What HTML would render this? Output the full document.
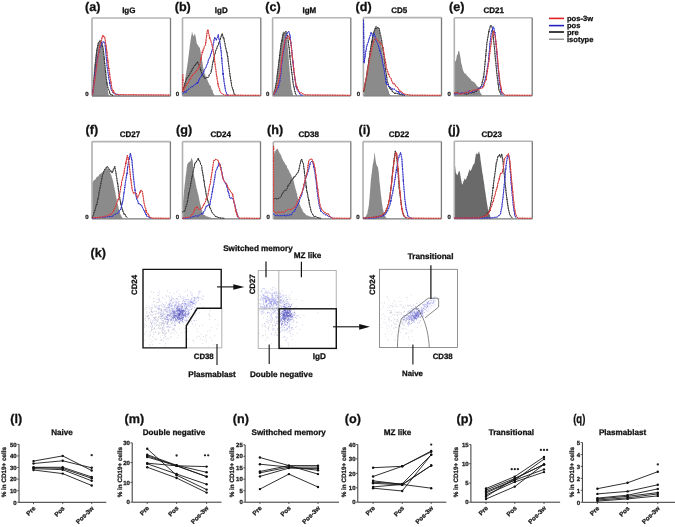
<!DOCTYPE html><html><head><meta charset="utf-8"><style>html,body{margin:0;padding:0;background:#fff;}svg{display:block;will-change:transform;filter:blur(0.3px);} text{text-rendering:geometricPrecision;}</style></head><body><svg width="675" height="527" viewBox="0 0 675 527" font-family='"Liberation Sans", sans-serif'>
<rect width="675" height="527" fill="#fff"/>
<rect x="92" y="18" width="78.5" height="78" fill="#fff"/>
<polygon points="92.2,96.0 92.2,60.2 92.2,61.0 92.2,61.5 92.2,62.3 92.3,63.8 92.3,65.0 92.3,65.6 92.3,65.7 92.3,67.3 92.3,67.9 92.4,69.5 92.4,70.1 92.4,71.3 92.4,72.1 92.4,72.5 92.4,73.1 92.5,74.2 92.5,75.3 92.5,76.8 92.5,77.3 92.5,78.5 92.5,79.3 92.6,80.7 92.6,81.5 92.6,82.3 92.6,83.1 92.6,83.8 92.6,84.9 92.7,85.7 92.7,86.2 92.7,88.3 92.7,88.4 92.7,89.0 92.7,90.5 92.8,91.6 92.8,92.2 92.8,93.8 92.8,94.0 92.8,93.2 92.9,91.9 92.9,92.1 93.0,90.6 93.0,89.8 93.0,89.1 93.1,88.0 93.1,87.3 93.2,85.6 93.2,84.5 93.2,83.8 93.3,83.9 93.3,83.0 93.3,81.1 93.4,79.6 93.4,78.5 93.5,78.6 93.5,77.1 93.5,76.7 93.6,75.8 93.6,75.2 93.7,74.2 93.7,73.0 93.7,72.6 93.8,71.0 93.8,70.2 93.9,69.6 93.9,68.9 94.0,67.9 94.1,67.0 94.3,65.2 94.4,65.0 94.5,64.2 94.6,63.5 94.7,63.0 94.9,61.6 95.0,60.1 95.1,59.1 95.2,58.7 95.3,57.3 95.4,56.6 95.6,55.9 95.7,54.9 95.8,54.7 95.9,52.9 96.0,51.8 96.2,51.0 96.3,50.8 96.4,49.7 96.7,48.5 96.9,47.6 97.2,46.4 97.5,45.3 97.7,44.1 98.0,43.5 98.2,43.0 98.5,42.2 99.1,41.0 99.7,39.5 100.3,40.7 101.0,42.4 101.2,42.7 101.5,43.9 101.7,45.0 102.0,45.5 102.2,46.8 102.4,47.2 102.7,47.7 102.9,50.2 103.0,49.9 103.1,51.3 103.2,52.4 103.3,52.9 103.4,53.7 103.4,54.8 103.5,55.6 103.6,57.0 103.7,57.0 103.8,58.5 103.9,59.8 104.0,60.1 104.1,61.5 104.2,62.5 104.3,63.9 104.3,64.7 104.4,64.8 104.5,66.4 104.6,67.2 104.7,68.3 104.8,68.4 104.9,69.6 105.0,70.4 105.1,71.2 105.2,72.3 105.4,72.9 105.5,74.0 105.6,74.6 105.7,75.7 105.8,76.7 105.9,77.9 106.0,79.1 106.1,79.6 106.2,81.1 106.4,80.9 106.5,81.9 106.6,83.3 106.7,84.4 106.8,85.1 107.0,86.5 107.2,87.1 107.4,88.4 107.6,89.0 107.8,89.8 107.9,90.9 108.1,91.9 108.3,93.1 108.5,94.0 108.7,95.0 108.7,96.0" fill="#8b8b8b"/>
<line x1="92" y1="18" x2="170.5" y2="18" stroke="#b4b4b4" stroke-width="1.6"/>
<line x1="92" y1="18" x2="92" y2="96" stroke="#b0b0b0" stroke-width="1.6"/>
<line x1="170.5" y1="18" x2="170.5" y2="96" stroke="#7a7a7a" stroke-width="1.3"/>
<line x1="92" y1="96" x2="170.5" y2="96" stroke="#7a7a7a" stroke-width="1.3"/>
<polyline points="92.5,95.0 92.6,94.1 92.7,92.4 92.8,91.6 92.9,92.0 93.0,91.2 93.0,88.9 93.1,88.6 93.2,88.6 93.3,86.7 93.4,85.4 93.5,84.9 93.6,84.2 93.7,82.9 93.8,81.8 93.9,81.7 94.0,80.8 94.0,79.0 94.1,78.5 94.2,77.3 94.3,76.3 94.4,75.2 94.5,76.0 94.6,73.5 94.7,73.7 94.8,71.9 94.8,71.3 94.9,70.7 95.0,70.1 95.1,68.9 95.2,67.9 95.3,66.3 95.3,65.0 95.4,63.7 95.5,63.6 95.6,62.8 95.7,61.8 95.8,61.1 95.8,60.4 95.9,58.7 96.0,58.2 96.1,57.6 96.2,57.2 96.3,55.8 96.3,55.9 96.4,54.2 96.5,52.7 96.6,51.5 96.8,51.0 96.9,49.9 97.1,48.8 97.3,48.2 97.5,47.0 97.6,46.9 97.8,46.2 98.0,44.7 98.2,43.6 98.3,42.9 98.5,42.7 99.2,41.8 100.0,40.8 100.8,41.2 101.5,42.1 101.7,43.4 101.9,43.1 102.1,44.9 102.3,46.6 102.6,45.5 102.8,47.4 103.0,47.6 103.2,49.7 103.4,50.1 103.5,50.9 103.6,52.1 103.7,53.1 103.7,53.9 103.8,54.7 103.9,55.1 104.0,56.6 104.1,57.6 104.2,57.3 104.3,60.1 104.3,59.2 104.4,60.6 104.5,61.7 104.6,63.5 104.7,63.0 104.8,64.8 104.9,66.0 105.0,66.3 105.0,68.0 105.1,68.0 105.2,68.8 105.3,70.2 105.4,71.0 105.5,72.2 105.7,71.8 105.8,74.1 105.9,75.8 106.0,76.0 106.1,76.9 106.2,78.5 106.4,79.0 106.5,80.1 106.6,81.0 106.7,81.5 106.8,82.9 106.9,82.3 107.1,85.0 107.2,84.6 107.3,85.9 107.6,86.4 107.9,87.9 108.2,89.4 108.5,89.5 108.8,89.7 109.1,90.9 109.4,91.1 109.7,93.1 110.0,94.0 111.0,94.5 112.0,95.0 113.0,95.5" fill="none" stroke="#505050" stroke-width="1.0" stroke-linejoin="round"/>
<polyline points="92.5,95.0 92.6,94.1 92.7,92.4 92.8,91.6 92.9,92.0 93.0,91.2 93.0,88.9 93.1,88.6 93.2,88.6 93.3,86.7 93.4,85.4 93.5,84.9 93.6,84.2 93.7,82.9 93.8,81.8 93.9,81.7 94.0,80.8 94.0,79.0 94.1,78.5 94.2,77.3 94.3,76.3 94.4,75.2 94.5,76.0 94.6,73.5 94.7,73.7 94.8,71.9 94.8,71.3 94.9,70.7 95.0,70.1 95.1,68.9 95.2,67.9 95.3,66.3 95.3,65.0 95.4,63.7 95.5,63.6 95.6,62.8 95.7,61.8 95.8,61.1 95.8,60.4 95.9,58.7 96.0,58.2 96.1,57.6 96.2,57.2 96.3,55.8 96.3,55.9 96.4,54.2 96.5,52.7 96.6,51.5 96.8,51.0 96.9,49.9 97.1,48.8 97.3,48.2 97.5,47.0 97.6,46.9 97.8,46.2 98.0,44.7 98.2,43.6 98.3,42.9 98.5,42.7 99.2,41.8 100.0,40.8 100.8,41.2 101.5,42.1 101.7,43.4 101.9,43.1 102.1,44.9 102.3,46.6 102.6,45.5 102.8,47.4 103.0,47.6 103.2,49.7 103.4,50.1 103.5,50.9 103.6,52.1 103.7,53.1 103.7,53.9 103.8,54.7 103.9,55.1 104.0,56.6 104.1,57.6 104.2,57.3 104.3,60.1 104.3,59.2 104.4,60.6 104.5,61.7 104.6,63.5 104.7,63.0 104.8,64.8 104.9,66.0 105.0,66.3 105.0,68.0 105.1,68.0 105.2,68.8 105.3,70.2 105.4,71.0 105.5,72.2 105.7,71.8 105.8,74.1 105.9,75.8 106.0,76.0 106.1,76.9 106.2,78.5 106.4,79.0 106.5,80.1 106.6,81.0 106.7,81.5 106.8,82.9 106.9,82.3 107.1,85.0 107.2,84.6 107.3,85.9 107.6,86.4 107.9,87.9 108.2,89.4 108.5,89.5 108.8,89.7 109.1,90.9 109.4,91.1 109.7,93.1 110.0,94.0 111.0,94.5 112.0,95.0 113.0,95.5" fill="none" stroke="#262626" stroke-width="0.9" stroke-dasharray="1.2,1.3" stroke-linejoin="round"/>
<polyline points="92.5,95.0 92.6,94.1 92.7,92.8 92.9,92.5 93.0,92.2 93.1,90.0 93.2,90.1 93.4,88.8 93.5,89.1 93.6,86.7 93.7,85.1 93.8,84.8 94.0,83.1 94.1,82.4 94.2,82.4 94.3,81.6 94.5,80.1 94.6,79.4 94.7,79.4 94.8,77.3 95.0,76.3 95.1,75.1 95.2,74.4 95.3,72.2 95.4,72.3 95.6,72.4 95.7,71.5 95.8,70.7 95.9,68.7 96.0,68.2 96.2,67.7 96.3,67.8 96.4,65.6 96.5,64.4 96.7,63.7 96.8,62.9 96.9,62.4 97.0,61.5 97.1,61.1 97.3,59.7 97.4,59.0 97.5,57.5 97.7,56.3 98.0,55.8 98.2,55.5 98.4,53.5 98.6,53.1 98.9,53.3 99.1,52.0 99.3,50.6 99.5,50.2 99.8,48.3 100.0,47.8 100.4,46.4 100.8,45.8 101.2,45.7 101.6,44.4 102.0,42.6 102.8,41.6 103.5,42.0 104.0,41.9 104.5,42.0 105.0,43.4 105.1,44.9 105.2,46.9 105.3,46.8 105.4,47.5 105.4,48.8 105.5,49.1 105.6,50.4 105.7,50.7 105.8,52.0 105.9,52.9 106.0,54.0 106.1,54.6 106.2,55.4 106.2,56.1 106.3,57.9 106.4,58.0 106.5,58.9 106.6,60.7 106.7,61.1 106.8,62.2 106.9,62.7 107.0,64.0 107.0,65.6 107.1,66.0 107.2,67.2 107.3,67.8 107.4,68.8 107.6,69.4 107.7,69.8 107.9,71.3 108.0,72.6 108.2,73.4 108.3,74.4 108.5,75.8 108.6,76.6 108.8,76.7 108.9,78.9 109.0,79.6 109.2,79.8 109.3,80.1 109.5,81.7 109.7,83.7 109.9,83.0 110.1,85.2 110.3,86.0 110.5,86.4 110.7,87.5 110.9,88.4 111.1,88.5 111.3,90.1 112.0,90.9 112.7,91.4 113.3,93.2 114.0,93.5 114.9,93.8 115.9,94.0 116.8,94.2 117.7,94.5 118.7,94.8 119.6,95.0" fill="none" stroke="#5050d8" stroke-width="1.0" stroke-linejoin="round"/>
<polyline points="92.5,95.0 92.6,94.1 92.7,92.8 92.9,92.5 93.0,92.2 93.1,90.0 93.2,90.1 93.4,88.8 93.5,89.1 93.6,86.7 93.7,85.1 93.8,84.8 94.0,83.1 94.1,82.4 94.2,82.4 94.3,81.6 94.5,80.1 94.6,79.4 94.7,79.4 94.8,77.3 95.0,76.3 95.1,75.1 95.2,74.4 95.3,72.2 95.4,72.3 95.6,72.4 95.7,71.5 95.8,70.7 95.9,68.7 96.0,68.2 96.2,67.7 96.3,67.8 96.4,65.6 96.5,64.4 96.7,63.7 96.8,62.9 96.9,62.4 97.0,61.5 97.1,61.1 97.3,59.7 97.4,59.0 97.5,57.5 97.7,56.3 98.0,55.8 98.2,55.5 98.4,53.5 98.6,53.1 98.9,53.3 99.1,52.0 99.3,50.6 99.5,50.2 99.8,48.3 100.0,47.8 100.4,46.4 100.8,45.8 101.2,45.7 101.6,44.4 102.0,42.6 102.8,41.6 103.5,42.0 104.0,41.9 104.5,42.0 105.0,43.4 105.1,44.9 105.2,46.9 105.3,46.8 105.4,47.5 105.4,48.8 105.5,49.1 105.6,50.4 105.7,50.7 105.8,52.0 105.9,52.9 106.0,54.0 106.1,54.6 106.2,55.4 106.2,56.1 106.3,57.9 106.4,58.0 106.5,58.9 106.6,60.7 106.7,61.1 106.8,62.2 106.9,62.7 107.0,64.0 107.0,65.6 107.1,66.0 107.2,67.2 107.3,67.8 107.4,68.8 107.6,69.4 107.7,69.8 107.9,71.3 108.0,72.6 108.2,73.4 108.3,74.4 108.5,75.8 108.6,76.6 108.8,76.7 108.9,78.9 109.0,79.6 109.2,79.8 109.3,80.1 109.5,81.7 109.7,83.7 109.9,83.0 110.1,85.2 110.3,86.0 110.5,86.4 110.7,87.5 110.9,88.4 111.1,88.5 111.3,90.1 112.0,90.9 112.7,91.4 113.3,93.2 114.0,93.5 114.9,93.8 115.9,94.0 116.8,94.2 117.7,94.5 118.7,94.8 119.6,95.0" fill="none" stroke="#2424b8" stroke-width="0.9" stroke-dasharray="1.2,1.3" stroke-linejoin="round"/>
<polyline points="92.5,95.0 92.6,94.1 92.8,92.8 92.9,92.2 93.0,92.2 93.2,90.8 93.3,89.8 93.4,87.7 93.6,87.4 93.7,87.1 93.8,86.1 93.9,85.7 94.1,83.3 94.2,82.5 94.3,82.5 94.5,80.6 94.6,81.1 94.7,78.9 94.9,79.3 95.0,78.2 95.1,77.9 95.2,76.0 95.4,75.5 95.5,74.3 95.6,73.5 95.8,72.7 95.9,71.1 96.0,71.1 96.1,69.6 96.2,69.6 96.4,67.8 96.5,67.5 96.6,66.3 96.8,66.0 96.9,65.1 97.0,63.7 97.1,62.5 97.2,61.7 97.4,60.5 97.5,60.2 97.7,58.9 97.8,58.4 98.0,57.7 98.1,56.7 98.3,55.3 98.4,54.6 98.6,52.6 98.8,52.6 98.9,51.7 99.1,50.0 99.2,49.9 99.4,49.2 99.5,47.6 99.7,46.5 99.8,45.6 100.0,45.6 100.3,44.2 100.6,43.4 100.8,42.1 101.1,40.7 101.4,40.6 101.7,40.2 101.9,37.7 102.2,37.8 102.5,35.7 103.0,36.0 103.5,35.6 103.9,37.1 104.4,36.7 104.8,37.4 104.9,39.2 105.1,39.4 105.2,40.0 105.4,40.8 105.5,42.7 105.7,42.9 105.8,44.9 106.0,45.3 106.1,45.0 106.3,46.6 106.4,47.6 106.5,49.6 106.6,49.1 106.7,50.9 106.8,51.9 106.9,51.9 107.0,51.6 107.1,54.3 107.3,55.9 107.4,56.6 107.5,57.4 107.6,57.8 107.7,59.5 107.8,61.1 107.9,60.3 108.0,62.6 108.1,62.0 108.2,64.2 108.4,64.8 108.5,65.2 108.6,67.3 108.8,69.0 108.9,68.1 109.0,69.8 109.1,70.3 109.2,71.2 109.4,72.3 109.5,73.3 109.6,72.9 109.8,75.2 109.9,75.9 110.0,77.8 110.2,78.1 110.3,78.4 110.5,79.2 110.6,80.1 110.8,82.3 111.0,81.7 111.1,83.4 111.3,83.8 111.4,84.2 111.6,86.5 111.7,87.0 111.9,88.7 112.2,89.8 112.5,89.8 112.9,90.1 113.2,92.7 113.5,90.5 114.3,93.3 115.0,93.9 115.8,94.6 116.7,94.6 117.6,94.6 118.5,94.6 119.4,94.6 120.3,94.6 121.2,94.6 122.1,94.6 123.0,94.7 123.9,94.7 124.8,94.7 125.7,94.7 126.6,94.7 127.5,94.7 128.4,94.7 129.3,94.7 130.3,94.7 131.2,94.7 132.1,94.7 133.0,94.7 133.9,94.7 134.8,94.7 135.7,94.7 136.6,94.8 137.5,94.8 138.4,94.8 139.3,94.8 140.2,94.8 141.1,94.8 142.0,94.8 142.9,94.8 143.8,94.8 144.7,94.8 145.6,94.8 146.5,94.8 147.4,94.8 148.3,94.8 149.2,94.8 150.1,94.9 151.0,94.9 151.9,94.9 152.8,94.9 153.7,94.9 154.6,94.9 155.5,94.9 156.4,94.9 157.4,94.9 158.3,94.9 159.2,94.9 160.1,94.9 161.0,94.9 161.9,94.9 162.8,94.9 163.7,95.0 164.6,95.0 165.5,95.0 166.4,95.0 167.3,95.0 168.2,95.0 169.1,95.0 170.0,95.0" fill="none" stroke="#e05a5a" stroke-width="1.0" stroke-linejoin="round"/>
<polyline points="92.5,95.0 92.6,94.1 92.8,92.8 92.9,92.2 93.0,92.2 93.2,90.8 93.3,89.8 93.4,87.7 93.6,87.4 93.7,87.1 93.8,86.1 93.9,85.7 94.1,83.3 94.2,82.5 94.3,82.5 94.5,80.6 94.6,81.1 94.7,78.9 94.9,79.3 95.0,78.2 95.1,77.9 95.2,76.0 95.4,75.5 95.5,74.3 95.6,73.5 95.8,72.7 95.9,71.1 96.0,71.1 96.1,69.6 96.2,69.6 96.4,67.8 96.5,67.5 96.6,66.3 96.8,66.0 96.9,65.1 97.0,63.7 97.1,62.5 97.2,61.7 97.4,60.5 97.5,60.2 97.7,58.9 97.8,58.4 98.0,57.7 98.1,56.7 98.3,55.3 98.4,54.6 98.6,52.6 98.8,52.6 98.9,51.7 99.1,50.0 99.2,49.9 99.4,49.2 99.5,47.6 99.7,46.5 99.8,45.6 100.0,45.6 100.3,44.2 100.6,43.4 100.8,42.1 101.1,40.7 101.4,40.6 101.7,40.2 101.9,37.7 102.2,37.8 102.5,35.7 103.0,36.0 103.5,35.6 103.9,37.1 104.4,36.7 104.8,37.4 104.9,39.2 105.1,39.4 105.2,40.0 105.4,40.8 105.5,42.7 105.7,42.9 105.8,44.9 106.0,45.3 106.1,45.0 106.3,46.6 106.4,47.6 106.5,49.6 106.6,49.1 106.7,50.9 106.8,51.9 106.9,51.9 107.0,51.6 107.1,54.3 107.3,55.9 107.4,56.6 107.5,57.4 107.6,57.8 107.7,59.5 107.8,61.1 107.9,60.3 108.0,62.6 108.1,62.0 108.2,64.2 108.4,64.8 108.5,65.2 108.6,67.3 108.8,69.0 108.9,68.1 109.0,69.8 109.1,70.3 109.2,71.2 109.4,72.3 109.5,73.3 109.6,72.9 109.8,75.2 109.9,75.9 110.0,77.8 110.2,78.1 110.3,78.4 110.5,79.2 110.6,80.1 110.8,82.3 111.0,81.7 111.1,83.4 111.3,83.8 111.4,84.2 111.6,86.5 111.7,87.0 111.9,88.7 112.2,89.8 112.5,89.8 112.9,90.1 113.2,92.7 113.5,90.5 114.3,93.3 115.0,93.9 115.8,94.6 116.7,94.6 117.6,94.6 118.5,94.6 119.4,94.6 120.3,94.6 121.2,94.6 122.1,94.6 123.0,94.7 123.9,94.7 124.8,94.7 125.7,94.7 126.6,94.7 127.5,94.7 128.4,94.7 129.3,94.7 130.3,94.7 131.2,94.7 132.1,94.7 133.0,94.7 133.9,94.7 134.8,94.7 135.7,94.7 136.6,94.8 137.5,94.8 138.4,94.8 139.3,94.8 140.2,94.8 141.1,94.8 142.0,94.8 142.9,94.8 143.8,94.8 144.7,94.8 145.6,94.8 146.5,94.8 147.4,94.8 148.3,94.8 149.2,94.8 150.1,94.9 151.0,94.9 151.9,94.9 152.8,94.9 153.7,94.9 154.6,94.9 155.5,94.9 156.4,94.9 157.4,94.9 158.3,94.9 159.2,94.9 160.1,94.9 161.0,94.9 161.9,94.9 162.8,94.9 163.7,95.0 164.6,95.0 165.5,95.0 166.4,95.0 167.3,95.0 168.2,95.0 169.1,95.0 170.0,95.0" fill="none" stroke="#cc2424" stroke-width="0.9" stroke-dasharray="1.2,1.3" stroke-linejoin="round"/>
<text x="85.3" y="96.4" font-size="6.0" font-weight="bold" text-anchor="start" fill="#222" stroke="#222" stroke-width="0.28" >0</text>
<rect x="182.5" y="17.8" width="78.30000000000001" height="78.0" fill="#fff"/>
<polygon points="182.8,95.8 182.8,93.3 183.0,92.2 183.2,90.6 183.3,89.6 183.5,89.7 183.6,88.2 183.8,87.3 183.9,86.3 184.1,85.8 184.2,84.2 184.4,84.1 184.5,82.1 184.7,81.7 184.8,81.6 185.0,79.9 185.2,80.2 185.3,78.6 185.4,77.2 185.6,77.3 185.7,75.6 185.9,74.2 186.0,73.6 186.2,73.7 186.3,71.7 186.4,70.5 186.6,70.5 186.7,69.6 186.9,67.8 187.0,67.3 187.2,65.6 187.3,66.0 187.4,64.3 187.6,63.7 187.7,62.1 187.9,61.4 188.0,61.0 188.1,59.9 188.2,59.5 188.3,57.7 188.5,56.5 188.6,55.9 188.7,54.6 188.8,54.2 188.9,53.8 189.0,52.5 189.1,51.9 189.3,50.4 189.4,49.3 189.5,48.9 189.6,48.2 189.7,47.1 189.8,45.2 189.9,44.8 190.1,43.9 190.2,43.1 190.3,43.3 190.4,41.2 190.6,40.1 190.7,39.5 190.9,38.6 191.0,37.9 191.2,35.9 191.4,36.0 191.5,35.0 191.7,34.5 191.8,32.3 192.0,31.6 192.3,32.8 192.6,33.7 192.9,34.7 193.2,35.7 193.5,36.3 194.0,35.4 194.6,34.3 195.1,34.0 195.3,34.8 195.4,36.2 195.6,36.9 195.7,36.9 195.9,38.2 196.1,38.9 196.2,40.3 196.4,40.8 196.5,42.2 196.7,43.1 197.2,44.3 197.8,45.1 198.3,45.7 199.1,47.5 199.9,47.5 200.1,48.7 200.2,50.0 200.4,50.3 200.5,51.6 200.7,52.4 200.9,54.1 201.0,54.7 201.2,55.5 201.3,56.1 201.5,57.1 201.7,58.3 201.8,59.3 202.0,59.7 202.1,61.4 202.3,61.7 202.5,62.7 202.6,64.0 202.8,65.0 202.9,66.0 203.1,67.4 203.3,67.8 203.6,68.9 203.8,69.9 204.1,70.6 204.3,71.8 204.5,73.2 204.8,73.8 205.0,74.1 205.3,75.1 205.5,76.1 206.0,77.4 206.4,79.0 206.9,78.3 207.3,79.9 207.8,80.7 208.2,82.4 208.7,82.8 209.2,84.0 209.6,85.3 210.1,85.4 210.5,85.7 211.0,86.8 211.4,88.8 211.9,89.7 212.3,89.8 212.7,90.7 213.1,93.1 213.5,93.8 213.9,94.0 214.3,95.0 214.3,95.8" fill="#8b8b8b"/>
<line x1="182.5" y1="17.8" x2="260.8" y2="17.8" stroke="#b4b4b4" stroke-width="1.6"/>
<line x1="182.5" y1="17.8" x2="182.5" y2="95.8" stroke="#b0b0b0" stroke-width="1.6"/>
<line x1="260.8" y1="17.8" x2="260.8" y2="95.8" stroke="#7a7a7a" stroke-width="1.3"/>
<line x1="182.5" y1="95.8" x2="260.8" y2="95.8" stroke="#7a7a7a" stroke-width="1.3"/>
<polyline points="182.4,92.3 182.7,91.8 182.9,89.8 183.2,89.1 183.4,87.5 183.7,88.2 183.9,87.2 184.2,86.0 184.4,85.5 184.7,85.5 184.9,83.1 185.2,82.9 185.4,81.9 185.7,81.0 185.9,80.8 186.2,80.1 186.4,77.9 187.0,77.9 187.7,77.6 188.3,76.8 189.0,75.0 189.6,74.4 190.1,73.4 190.5,72.7 191.0,72.1 191.4,71.0 191.9,70.5 192.3,68.6 192.8,68.8 193.3,68.0 193.8,66.7 194.4,65.3 194.9,66.0 195.4,65.1 195.9,63.7 196.7,63.8 197.5,61.5 198.0,63.6 198.5,63.9 198.9,64.5 199.4,66.3 199.9,66.9 200.2,67.7 200.4,69.8 200.7,69.1 201.0,71.2 201.2,72.0 201.5,72.3 201.8,73.6 202.0,74.4 202.3,74.2 202.9,76.2 203.6,76.1 204.2,77.8 204.9,78.1 205.5,79.0 206.3,77.2 207.1,77.5 207.9,77.7 208.7,76.8 209.2,74.9 209.7,74.3 210.1,73.6 210.6,73.4 211.1,72.7 211.3,69.9 211.5,70.2 211.6,69.5 211.8,68.8 212.0,67.6 212.2,66.6 212.3,65.2 212.5,64.1 212.7,63.3 212.9,62.1 213.1,61.3 213.2,61.6 213.4,60.1 213.6,59.2 213.8,59.1 213.9,57.3 214.1,57.3 214.3,55.6 214.6,55.0 214.8,54.4 215.1,53.7 215.4,52.2 215.6,51.2 215.9,50.3 216.2,50.0 216.4,49.1 216.7,48.8 217.2,47.0 217.6,45.8 218.1,45.3 218.5,44.9 219.0,42.0 219.3,42.5 219.6,41.0 220.0,39.2 220.3,39.6 220.6,37.9 221.0,37.2 221.4,35.5 221.8,35.8 222.2,33.6 222.6,35.4 223.0,36.4 223.4,38.4 223.8,37.8 224.0,38.7 224.2,40.2 224.3,40.6 224.5,42.2 224.7,42.8 224.9,43.3 225.0,43.8 225.2,45.5 225.4,46.4 225.6,46.9 225.9,48.4 226.1,49.2 226.3,50.8 226.5,50.9 226.8,52.4 227.0,52.2 227.1,53.1 227.3,55.3 227.4,55.5 227.5,56.8 227.7,56.2 227.8,56.9 227.9,59.1 228.1,59.8 228.2,61.9 228.3,61.8 228.5,62.8 228.6,64.2 228.7,65.1 228.8,65.4 228.9,66.7 229.1,67.6 229.2,68.5 229.3,69.4 229.4,70.4 229.5,71.0 229.6,72.1 229.7,72.6 229.9,74.1 230.0,75.1 230.1,76.4 230.2,76.2 230.4,76.8 230.5,79.2 230.7,79.3 230.8,79.9 231.0,81.7 231.2,82.0 231.3,82.9 231.5,84.8 231.6,85.4 231.8,86.6 232.1,87.0 232.3,87.6 232.6,89.1 232.9,89.1 233.1,90.4 233.4,90.2 233.7,92.3 233.9,92.9 234.2,94.1 235.1,94.7 236.0,95.3" fill="none" stroke="#505050" stroke-width="1.0" stroke-linejoin="round"/>
<polyline points="182.4,92.3 182.7,91.8 182.9,89.8 183.2,89.1 183.4,87.5 183.7,88.2 183.9,87.2 184.2,86.0 184.4,85.5 184.7,85.5 184.9,83.1 185.2,82.9 185.4,81.9 185.7,81.0 185.9,80.8 186.2,80.1 186.4,77.9 187.0,77.9 187.7,77.6 188.3,76.8 189.0,75.0 189.6,74.4 190.1,73.4 190.5,72.7 191.0,72.1 191.4,71.0 191.9,70.5 192.3,68.6 192.8,68.8 193.3,68.0 193.8,66.7 194.4,65.3 194.9,66.0 195.4,65.1 195.9,63.7 196.7,63.8 197.5,61.5 198.0,63.6 198.5,63.9 198.9,64.5 199.4,66.3 199.9,66.9 200.2,67.7 200.4,69.8 200.7,69.1 201.0,71.2 201.2,72.0 201.5,72.3 201.8,73.6 202.0,74.4 202.3,74.2 202.9,76.2 203.6,76.1 204.2,77.8 204.9,78.1 205.5,79.0 206.3,77.2 207.1,77.5 207.9,77.7 208.7,76.8 209.2,74.9 209.7,74.3 210.1,73.6 210.6,73.4 211.1,72.7 211.3,69.9 211.5,70.2 211.6,69.5 211.8,68.8 212.0,67.6 212.2,66.6 212.3,65.2 212.5,64.1 212.7,63.3 212.9,62.1 213.1,61.3 213.2,61.6 213.4,60.1 213.6,59.2 213.8,59.1 213.9,57.3 214.1,57.3 214.3,55.6 214.6,55.0 214.8,54.4 215.1,53.7 215.4,52.2 215.6,51.2 215.9,50.3 216.2,50.0 216.4,49.1 216.7,48.8 217.2,47.0 217.6,45.8 218.1,45.3 218.5,44.9 219.0,42.0 219.3,42.5 219.6,41.0 220.0,39.2 220.3,39.6 220.6,37.9 221.0,37.2 221.4,35.5 221.8,35.8 222.2,33.6 222.6,35.4 223.0,36.4 223.4,38.4 223.8,37.8 224.0,38.7 224.2,40.2 224.3,40.6 224.5,42.2 224.7,42.8 224.9,43.3 225.0,43.8 225.2,45.5 225.4,46.4 225.6,46.9 225.9,48.4 226.1,49.2 226.3,50.8 226.5,50.9 226.8,52.4 227.0,52.2 227.1,53.1 227.3,55.3 227.4,55.5 227.5,56.8 227.7,56.2 227.8,56.9 227.9,59.1 228.1,59.8 228.2,61.9 228.3,61.8 228.5,62.8 228.6,64.2 228.7,65.1 228.8,65.4 228.9,66.7 229.1,67.6 229.2,68.5 229.3,69.4 229.4,70.4 229.5,71.0 229.6,72.1 229.7,72.6 229.9,74.1 230.0,75.1 230.1,76.4 230.2,76.2 230.4,76.8 230.5,79.2 230.7,79.3 230.8,79.9 231.0,81.7 231.2,82.0 231.3,82.9 231.5,84.8 231.6,85.4 231.8,86.6 232.1,87.0 232.3,87.6 232.6,89.1 232.9,89.1 233.1,90.4 233.4,90.2 233.7,92.3 233.9,92.9 234.2,94.1 235.1,94.7 236.0,95.3" fill="none" stroke="#262626" stroke-width="0.9" stroke-dasharray="1.2,1.3" stroke-linejoin="round"/>
<polyline points="182.4,94.1 183.1,93.5 183.8,93.3 184.5,91.1 185.2,91.5 185.9,92.5 186.6,90.5 187.3,90.7 188.0,89.5 188.8,89.1 189.6,88.5 190.4,87.8 191.2,86.6 192.0,86.7 192.8,86.7 193.6,85.3 194.4,84.8 195.2,84.9 195.9,84.3 196.7,82.5 197.5,84.0 198.0,81.8 198.4,82.0 198.9,79.5 199.3,79.6 199.8,77.8 200.2,77.7 200.7,77.2 201.2,76.1 201.7,76.2 202.1,73.6 202.6,74.1 203.1,73.4 203.6,71.8 204.1,70.8 204.5,69.6 205.0,69.2 205.5,67.9 205.8,67.6 206.2,66.7 206.5,65.5 206.9,65.1 207.2,63.9 207.6,63.4 207.9,63.0 208.2,60.7 208.6,60.0 208.9,58.7 209.3,58.4 209.6,58.0 210.0,57.0 210.3,56.2 210.6,54.1 210.9,54.3 211.3,53.1 211.6,51.0 211.9,51.3 212.1,50.4 212.3,49.7 212.4,48.4 212.6,48.1 212.8,46.8 213.0,46.6 213.1,45.2 213.3,43.2 213.5,43.1 213.7,42.7 213.9,41.1 214.1,39.6 214.3,38.9 214.5,39.0 214.7,37.3 215.2,37.9 215.8,38.8 216.3,40.3 216.8,38.6 217.3,37.7 217.8,37.1 218.3,34.6 218.6,37.1 218.8,37.9 219.1,39.4 219.3,40.0 219.6,41.0 219.8,41.5 219.9,42.4 220.1,43.3 220.2,44.1 220.3,44.3 220.4,46.7 220.6,47.5 220.7,47.1 220.8,49.4 221.0,50.1 221.1,51.1 221.2,52.7 221.3,52.6 221.3,53.5 221.4,55.2 221.5,56.1 221.6,56.6 221.6,58.0 221.7,59.3 221.8,58.4 221.9,60.1 222.0,60.6 222.0,62.4 222.1,63.4 222.2,64.0 222.3,65.4 222.4,65.7 222.5,66.1 222.5,67.9 222.6,68.2 222.7,69.9 222.8,69.9 222.9,71.6 223.0,72.4 223.1,74.9 223.1,72.9 223.2,74.6 223.3,76.1 223.4,76.6 223.5,76.8 223.7,78.9 223.8,78.7 223.9,80.2 224.0,81.6 224.2,82.2 224.3,82.7 224.4,84.2 224.5,84.3 224.7,85.9 224.8,85.7 224.9,87.0 225.2,88.4 225.4,90.2 225.7,90.8 225.9,91.8 226.2,92.1 226.5,93.1 226.7,94.0 227.0,94.9 228.0,95.1 229.0,95.3" fill="none" stroke="#5050d8" stroke-width="1.0" stroke-linejoin="round"/>
<polyline points="182.4,94.1 183.1,93.5 183.8,93.3 184.5,91.1 185.2,91.5 185.9,92.5 186.6,90.5 187.3,90.7 188.0,89.5 188.8,89.1 189.6,88.5 190.4,87.8 191.2,86.6 192.0,86.7 192.8,86.7 193.6,85.3 194.4,84.8 195.2,84.9 195.9,84.3 196.7,82.5 197.5,84.0 198.0,81.8 198.4,82.0 198.9,79.5 199.3,79.6 199.8,77.8 200.2,77.7 200.7,77.2 201.2,76.1 201.7,76.2 202.1,73.6 202.6,74.1 203.1,73.4 203.6,71.8 204.1,70.8 204.5,69.6 205.0,69.2 205.5,67.9 205.8,67.6 206.2,66.7 206.5,65.5 206.9,65.1 207.2,63.9 207.6,63.4 207.9,63.0 208.2,60.7 208.6,60.0 208.9,58.7 209.3,58.4 209.6,58.0 210.0,57.0 210.3,56.2 210.6,54.1 210.9,54.3 211.3,53.1 211.6,51.0 211.9,51.3 212.1,50.4 212.3,49.7 212.4,48.4 212.6,48.1 212.8,46.8 213.0,46.6 213.1,45.2 213.3,43.2 213.5,43.1 213.7,42.7 213.9,41.1 214.1,39.6 214.3,38.9 214.5,39.0 214.7,37.3 215.2,37.9 215.8,38.8 216.3,40.3 216.8,38.6 217.3,37.7 217.8,37.1 218.3,34.6 218.6,37.1 218.8,37.9 219.1,39.4 219.3,40.0 219.6,41.0 219.8,41.5 219.9,42.4 220.1,43.3 220.2,44.1 220.3,44.3 220.4,46.7 220.6,47.5 220.7,47.1 220.8,49.4 221.0,50.1 221.1,51.1 221.2,52.7 221.3,52.6 221.3,53.5 221.4,55.2 221.5,56.1 221.6,56.6 221.6,58.0 221.7,59.3 221.8,58.4 221.9,60.1 222.0,60.6 222.0,62.4 222.1,63.4 222.2,64.0 222.3,65.4 222.4,65.7 222.5,66.1 222.5,67.9 222.6,68.2 222.7,69.9 222.8,69.9 222.9,71.6 223.0,72.4 223.1,74.9 223.1,72.9 223.2,74.6 223.3,76.1 223.4,76.6 223.5,76.8 223.7,78.9 223.8,78.7 223.9,80.2 224.0,81.6 224.2,82.2 224.3,82.7 224.4,84.2 224.5,84.3 224.7,85.9 224.8,85.7 224.9,87.0 225.2,88.4 225.4,90.2 225.7,90.8 225.9,91.8 226.2,92.1 226.5,93.1 226.7,94.0 227.0,94.9 228.0,95.1 229.0,95.3" fill="none" stroke="#2424b8" stroke-width="0.9" stroke-dasharray="1.2,1.3" stroke-linejoin="round"/>
<polyline points="182.8,74.5 182.8,75.7 182.8,77.9 182.8,78.2 182.8,80.8 182.8,79.5 182.8,80.7 182.8,81.8 182.8,83.1 182.8,83.7 182.8,85.2 182.8,86.3 182.8,87.2 182.8,88.1 182.8,88.9 182.8,88.4 182.8,90.9 182.8,91.0 183.4,91.6 183.9,89.5 184.5,88.6 185.0,87.3 185.4,86.4 185.9,86.3 186.4,84.0 186.9,84.2 187.5,82.6 188.0,82.2 188.5,82.3 189.1,81.2 189.6,78.6 190.1,79.1 190.7,78.8 191.2,76.1 191.7,76.3 192.3,76.3 192.8,74.7 193.6,73.9 194.4,73.1 195.1,73.3 195.9,71.5 196.4,70.3 197.0,70.9 197.5,70.0 198.0,68.4 198.6,68.5 199.1,66.5 199.3,66.5 199.6,65.6 199.8,64.2 200.0,63.6 200.2,62.6 200.5,61.8 200.7,60.3 200.9,58.1 201.1,59.3 201.3,58.2 201.5,56.1 201.7,55.1 201.9,54.2 202.1,53.1 202.3,51.4 202.6,52.8 202.9,51.6 203.3,48.8 203.6,48.9 203.9,48.7 204.4,46.4 205.0,45.5 205.5,45.2 205.6,43.1 205.7,42.3 205.8,42.8 206.0,41.1 206.1,39.4 206.2,38.7 206.3,38.4 206.4,37.5 206.5,36.3 206.6,36.7 206.8,34.5 206.9,34.4 207.0,32.9 207.1,31.9 207.9,29.6 208.1,30.3 208.4,32.1 208.6,33.3 208.8,34.2 209.0,34.4 209.3,35.6 209.5,39.0 209.8,37.6 210.1,39.4 210.5,39.7 210.8,40.6 211.1,41.9 211.3,42.4 211.6,43.5 211.8,44.4 212.0,44.7 212.2,46.2 212.5,47.1 212.7,47.7 212.9,48.4 213.0,49.2 213.2,50.0 213.3,50.9 213.5,52.3 213.7,52.9 213.8,54.4 214.0,55.6 214.1,55.7 214.3,56.4 214.4,58.1 214.5,58.3 214.6,59.8 214.7,61.2 214.9,62.8 215.0,63.2 215.1,63.9 215.2,66.0 215.3,66.4 215.4,66.8 215.5,67.1 215.7,68.6 215.8,69.2 215.9,70.6 216.1,71.8 216.2,72.1 216.3,73.7 216.4,75.2 216.6,76.0 216.7,75.8 216.9,76.8 217.0,78.1 217.2,79.4 217.3,80.5 217.5,80.7 217.7,81.8 217.8,83.7 218.0,83.1 218.1,84.1 218.3,86.7 218.6,86.3 219.0,88.3 219.3,88.4 219.6,89.0 219.9,91.2 220.3,91.5 220.6,92.4 221.4,93.4 222.2,93.6 223.0,94.1 223.8,94.7 224.6,95.2 225.5,95.2 226.4,95.2 227.4,95.2 228.3,95.2 229.2,95.2 230.1,95.2 231.0,95.2 232.0,95.2 232.9,95.2 233.8,95.2 234.7,95.2 235.6,95.2 236.6,95.2 237.5,95.2 238.4,95.2 239.3,95.2 240.2,95.2 241.2,95.2 242.1,95.2 243.0,95.3 243.9,95.3 244.9,95.3 245.8,95.3 246.7,95.3 247.6,95.3 248.5,95.3 249.5,95.3 250.4,95.3 251.3,95.3 252.2,95.3 253.1,95.3 254.1,95.3 255.0,95.3 255.9,95.3 256.8,95.3 257.7,95.3 258.7,95.3 259.6,95.3 260.5,95.3" fill="none" stroke="#e05a5a" stroke-width="1.0" stroke-linejoin="round"/>
<polyline points="182.8,74.5 182.8,75.7 182.8,77.9 182.8,78.2 182.8,80.8 182.8,79.5 182.8,80.7 182.8,81.8 182.8,83.1 182.8,83.7 182.8,85.2 182.8,86.3 182.8,87.2 182.8,88.1 182.8,88.9 182.8,88.4 182.8,90.9 182.8,91.0 183.4,91.6 183.9,89.5 184.5,88.6 185.0,87.3 185.4,86.4 185.9,86.3 186.4,84.0 186.9,84.2 187.5,82.6 188.0,82.2 188.5,82.3 189.1,81.2 189.6,78.6 190.1,79.1 190.7,78.8 191.2,76.1 191.7,76.3 192.3,76.3 192.8,74.7 193.6,73.9 194.4,73.1 195.1,73.3 195.9,71.5 196.4,70.3 197.0,70.9 197.5,70.0 198.0,68.4 198.6,68.5 199.1,66.5 199.3,66.5 199.6,65.6 199.8,64.2 200.0,63.6 200.2,62.6 200.5,61.8 200.7,60.3 200.9,58.1 201.1,59.3 201.3,58.2 201.5,56.1 201.7,55.1 201.9,54.2 202.1,53.1 202.3,51.4 202.6,52.8 202.9,51.6 203.3,48.8 203.6,48.9 203.9,48.7 204.4,46.4 205.0,45.5 205.5,45.2 205.6,43.1 205.7,42.3 205.8,42.8 206.0,41.1 206.1,39.4 206.2,38.7 206.3,38.4 206.4,37.5 206.5,36.3 206.6,36.7 206.8,34.5 206.9,34.4 207.0,32.9 207.1,31.9 207.9,29.6 208.1,30.3 208.4,32.1 208.6,33.3 208.8,34.2 209.0,34.4 209.3,35.6 209.5,39.0 209.8,37.6 210.1,39.4 210.5,39.7 210.8,40.6 211.1,41.9 211.3,42.4 211.6,43.5 211.8,44.4 212.0,44.7 212.2,46.2 212.5,47.1 212.7,47.7 212.9,48.4 213.0,49.2 213.2,50.0 213.3,50.9 213.5,52.3 213.7,52.9 213.8,54.4 214.0,55.6 214.1,55.7 214.3,56.4 214.4,58.1 214.5,58.3 214.6,59.8 214.7,61.2 214.9,62.8 215.0,63.2 215.1,63.9 215.2,66.0 215.3,66.4 215.4,66.8 215.5,67.1 215.7,68.6 215.8,69.2 215.9,70.6 216.1,71.8 216.2,72.1 216.3,73.7 216.4,75.2 216.6,76.0 216.7,75.8 216.9,76.8 217.0,78.1 217.2,79.4 217.3,80.5 217.5,80.7 217.7,81.8 217.8,83.7 218.0,83.1 218.1,84.1 218.3,86.7 218.6,86.3 219.0,88.3 219.3,88.4 219.6,89.0 219.9,91.2 220.3,91.5 220.6,92.4 221.4,93.4 222.2,93.6 223.0,94.1 223.8,94.7 224.6,95.2 225.5,95.2 226.4,95.2 227.4,95.2 228.3,95.2 229.2,95.2 230.1,95.2 231.0,95.2 232.0,95.2 232.9,95.2 233.8,95.2 234.7,95.2 235.6,95.2 236.6,95.2 237.5,95.2 238.4,95.2 239.3,95.2 240.2,95.2 241.2,95.2 242.1,95.2 243.0,95.3 243.9,95.3 244.9,95.3 245.8,95.3 246.7,95.3 247.6,95.3 248.5,95.3 249.5,95.3 250.4,95.3 251.3,95.3 252.2,95.3 253.1,95.3 254.1,95.3 255.0,95.3 255.9,95.3 256.8,95.3 257.7,95.3 258.7,95.3 259.6,95.3 260.5,95.3" fill="none" stroke="#cc2424" stroke-width="0.9" stroke-dasharray="1.2,1.3" stroke-linejoin="round"/>
<text x="175.8" y="96.2" font-size="6.0" font-weight="bold" text-anchor="start" fill="#222" stroke="#222" stroke-width="0.28" >0</text>
<rect x="272.6" y="17.8" width="78.19999999999999" height="78.0" fill="#fff"/>
<polygon points="274.0,95.8 274.0,94.9 274.2,94.0 274.4,92.3 274.6,92.4 274.7,91.2 274.9,90.5 275.1,89.5 275.3,88.8 275.5,87.9 275.7,87.0 275.8,85.7 276.0,84.5 276.2,83.3 276.4,82.8 276.5,82.4 276.6,80.8 276.7,79.9 276.8,78.9 276.9,78.1 277.0,77.2 277.1,76.2 277.3,74.8 277.4,74.1 277.5,73.2 277.6,72.2 277.7,71.2 277.8,70.8 277.9,69.4 278.0,68.6 278.1,67.5 278.2,67.0 278.3,65.4 278.4,64.3 278.5,63.4 278.6,63.6 278.7,61.8 278.8,61.2 278.8,60.8 278.9,58.9 279.0,58.6 279.1,57.5 279.2,56.9 279.3,55.6 279.4,55.1 279.5,53.7 279.6,52.7 279.7,51.5 279.8,51.1 279.9,49.6 280.1,48.9 280.2,47.6 280.3,47.1 280.4,47.0 280.5,45.8 280.6,44.3 280.7,43.3 280.9,42.5 281.0,42.1 281.1,41.0 281.2,39.5 281.4,39.4 281.6,38.5 281.7,37.0 281.9,37.0 282.1,34.6 282.3,34.8 282.4,33.7 282.6,33.5 282.8,32.0 284.0,31.4 284.6,32.3 285.1,33.5 285.9,31.6 286.1,33.1 286.2,33.8 286.4,34.5 286.5,36.1 286.7,36.6 286.8,37.4 286.9,39.2 287.0,39.5 287.1,40.3 287.2,41.6 287.3,42.5 287.4,43.2 287.5,44.3 287.6,45.3 287.7,46.5 287.8,47.8 287.9,48.3 288.0,48.6 288.0,50.4 288.1,50.5 288.2,51.4 288.3,53.0 288.3,53.5 288.4,54.0 288.5,55.4 288.5,56.7 288.6,56.9 288.7,58.2 288.7,59.0 288.8,60.2 288.9,61.4 289.0,61.6 289.0,62.9 289.1,64.2 289.2,64.6 289.3,65.6 289.3,66.7 289.4,67.4 289.5,68.1 289.6,68.8 289.6,70.6 289.7,71.7 289.8,72.2 289.9,73.1 289.9,73.9 290.0,75.0 290.1,76.0 290.2,77.5 290.2,77.7 290.3,78.7 290.4,79.5 290.5,80.5 290.6,82.1 290.7,82.9 290.8,83.7 290.9,84.1 291.1,85.4 291.2,86.6 291.3,87.4 291.4,88.3 291.5,89.8 291.8,90.0 292.0,90.7 292.3,91.7 292.6,93.3 292.8,94.0 293.1,95.0 293.1,95.8" fill="#8b8b8b"/>
<line x1="272.6" y1="17.8" x2="350.8" y2="17.8" stroke="#b4b4b4" stroke-width="1.6"/>
<line x1="272.6" y1="17.8" x2="272.6" y2="95.8" stroke="#b0b0b0" stroke-width="1.6"/>
<line x1="350.8" y1="17.8" x2="350.8" y2="95.8" stroke="#7a7a7a" stroke-width="1.3"/>
<line x1="272.6" y1="95.8" x2="350.8" y2="95.8" stroke="#7a7a7a" stroke-width="1.3"/>
<polyline points="273.5,95.0 273.7,94.1 274.0,92.9 274.2,91.2 274.4,91.4 274.6,90.2 274.9,89.8 275.1,88.2 275.3,88.2 275.5,85.5 275.8,85.7 276.0,84.0 276.1,84.0 276.2,82.6 276.3,82.3 276.5,81.3 276.6,80.7 276.7,79.7 276.8,79.3 276.9,78.2 277.0,77.2 277.1,75.3 277.2,74.7 277.4,74.8 277.5,71.9 277.6,72.1 277.7,71.9 277.8,70.2 277.9,69.9 278.0,68.6 278.2,68.6 278.3,67.3 278.4,65.8 278.5,65.6 278.6,63.4 278.7,62.5 278.8,62.5 279.0,61.3 279.1,61.5 279.2,59.0 279.3,59.1 279.4,59.1 279.5,56.5 279.6,55.0 279.8,55.9 279.9,55.1 280.0,53.3 280.1,53.0 280.2,51.5 280.3,50.4 280.4,49.9 280.5,48.4 280.7,49.0 280.8,47.1 280.9,46.0 281.0,44.7 281.2,44.1 281.4,42.8 281.5,42.2 281.7,42.0 281.9,40.6 282.1,41.2 282.3,38.8 282.5,38.4 282.6,36.3 282.8,36.3 283.0,34.1 283.7,33.5 284.4,33.1 285.2,32.5 285.9,31.4 286.3,33.6 286.7,34.3 287.1,34.8 287.5,35.5 287.6,36.5 287.8,36.8 287.9,38.7 288.0,39.7 288.1,40.2 288.2,42.3 288.4,41.9 288.5,43.4 288.6,45.1 288.8,45.6 288.9,46.8 289.0,47.0 289.1,48.0 289.2,47.8 289.3,49.6 289.4,50.7 289.5,53.0 289.6,52.4 289.7,52.6 289.8,54.7 289.9,56.4 289.9,55.8 290.0,58.4 290.1,58.4 290.2,59.4 290.3,60.5 290.4,61.2 290.5,62.0 290.6,62.7 290.7,64.4 290.8,65.1 290.9,65.4 291.0,66.0 291.2,67.5 291.3,69.0 291.4,69.5 291.5,68.8 291.6,71.8 291.7,72.9 291.8,72.5 292.0,74.2 292.1,74.4 292.2,75.5 292.3,76.1 292.4,76.8 292.5,77.8 292.6,79.1 292.8,80.1 292.9,81.3 293.0,82.2 293.1,83.2 293.3,84.3 293.5,84.9 293.7,86.0 293.9,86.9 294.1,88.0 294.3,88.0 294.5,90.5 294.7,90.8 294.9,91.1 295.1,92.1 295.3,92.9 295.5,94.1 296.2,94.7 297.0,95.3" fill="none" stroke="#505050" stroke-width="1.0" stroke-linejoin="round"/>
<polyline points="273.5,95.0 273.7,94.1 274.0,92.9 274.2,91.2 274.4,91.4 274.6,90.2 274.9,89.8 275.1,88.2 275.3,88.2 275.5,85.5 275.8,85.7 276.0,84.0 276.1,84.0 276.2,82.6 276.3,82.3 276.5,81.3 276.6,80.7 276.7,79.7 276.8,79.3 276.9,78.2 277.0,77.2 277.1,75.3 277.2,74.7 277.4,74.8 277.5,71.9 277.6,72.1 277.7,71.9 277.8,70.2 277.9,69.9 278.0,68.6 278.2,68.6 278.3,67.3 278.4,65.8 278.5,65.6 278.6,63.4 278.7,62.5 278.8,62.5 279.0,61.3 279.1,61.5 279.2,59.0 279.3,59.1 279.4,59.1 279.5,56.5 279.6,55.0 279.8,55.9 279.9,55.1 280.0,53.3 280.1,53.0 280.2,51.5 280.3,50.4 280.4,49.9 280.5,48.4 280.7,49.0 280.8,47.1 280.9,46.0 281.0,44.7 281.2,44.1 281.4,42.8 281.5,42.2 281.7,42.0 281.9,40.6 282.1,41.2 282.3,38.8 282.5,38.4 282.6,36.3 282.8,36.3 283.0,34.1 283.7,33.5 284.4,33.1 285.2,32.5 285.9,31.4 286.3,33.6 286.7,34.3 287.1,34.8 287.5,35.5 287.6,36.5 287.8,36.8 287.9,38.7 288.0,39.7 288.1,40.2 288.2,42.3 288.4,41.9 288.5,43.4 288.6,45.1 288.8,45.6 288.9,46.8 289.0,47.0 289.1,48.0 289.2,47.8 289.3,49.6 289.4,50.7 289.5,53.0 289.6,52.4 289.7,52.6 289.8,54.7 289.9,56.4 289.9,55.8 290.0,58.4 290.1,58.4 290.2,59.4 290.3,60.5 290.4,61.2 290.5,62.0 290.6,62.7 290.7,64.4 290.8,65.1 290.9,65.4 291.0,66.0 291.2,67.5 291.3,69.0 291.4,69.5 291.5,68.8 291.6,71.8 291.7,72.9 291.8,72.5 292.0,74.2 292.1,74.4 292.2,75.5 292.3,76.1 292.4,76.8 292.5,77.8 292.6,79.1 292.8,80.1 292.9,81.3 293.0,82.2 293.1,83.2 293.3,84.3 293.5,84.9 293.7,86.0 293.9,86.9 294.1,88.0 294.3,88.0 294.5,90.5 294.7,90.8 294.9,91.1 295.1,92.1 295.3,92.9 295.5,94.1 296.2,94.7 297.0,95.3" fill="none" stroke="#262626" stroke-width="0.9" stroke-dasharray="1.2,1.3" stroke-linejoin="round"/>
<polyline points="273.5,95.0 274.1,94.2 274.7,93.3 275.2,92.1 275.8,92.4 276.4,90.3 277.0,89.9 277.3,88.7 277.6,88.4 278.0,86.9 278.3,87.6 278.6,86.0 279.0,84.7 279.3,82.9 279.6,82.5 279.7,81.8 279.8,81.3 279.9,80.9 280.0,79.4 280.1,78.3 280.2,76.9 280.3,77.0 280.5,76.6 280.6,74.4 280.7,74.3 280.8,73.9 280.9,72.9 281.0,71.2 281.1,70.8 281.2,70.3 281.3,68.3 281.4,66.8 281.5,66.6 281.6,65.0 281.7,63.9 281.8,63.8 281.9,62.2 282.1,61.3 282.2,60.7 282.3,60.4 282.4,60.1 282.5,57.9 282.6,57.7 282.7,56.3 282.8,56.0 282.9,54.7 283.1,53.8 283.2,52.3 283.4,51.9 283.5,51.0 283.7,50.4 283.8,49.3 284.0,48.8 284.1,48.1 284.3,46.8 284.4,46.2 284.6,43.9 284.7,44.5 284.9,43.7 285.0,41.8 285.2,40.7 285.3,40.6 285.5,39.2 285.6,38.0 285.8,37.1 285.9,36.3 286.2,35.6 286.5,34.8 286.9,34.1 287.2,33.3 287.5,32.3 288.8,31.5 289.1,32.4 289.4,33.3 289.7,34.8 290.0,34.5 290.1,35.7 290.2,37.9 290.3,37.2 290.4,38.5 290.5,39.9 290.6,40.0 290.8,42.5 290.9,42.0 291.0,44.1 291.1,44.2 291.2,44.8 291.3,45.5 291.4,47.1 291.5,47.3 291.6,49.2 291.7,49.7 291.8,49.8 291.9,52.0 292.0,52.9 292.1,54.0 292.1,54.3 292.2,55.4 292.3,56.3 292.4,57.1 292.5,57.9 292.6,58.6 292.7,60.5 292.8,60.7 292.9,62.6 293.0,61.5 293.1,62.8 293.2,64.1 293.3,64.4 293.3,66.4 293.4,65.8 293.5,68.3 293.6,69.7 293.7,70.1 293.8,71.5 293.9,72.4 294.0,72.4 294.2,73.7 294.3,74.8 294.5,74.9 294.6,75.7 294.7,78.0 294.9,78.0 295.0,79.9 295.2,79.6 295.3,81.0 295.5,81.8 295.6,83.0 295.7,83.3 295.9,85.6 296.0,85.9 296.2,87.4 296.3,86.6 296.7,88.1 297.2,89.5 297.6,90.4 298.1,91.4 298.5,91.7 299.0,91.9 299.4,93.3 299.9,94.1 300.3,94.9 301.2,95.0 302.1,95.2 303.0,95.3" fill="none" stroke="#5050d8" stroke-width="1.0" stroke-linejoin="round"/>
<polyline points="273.5,95.0 274.1,94.2 274.7,93.3 275.2,92.1 275.8,92.4 276.4,90.3 277.0,89.9 277.3,88.7 277.6,88.4 278.0,86.9 278.3,87.6 278.6,86.0 279.0,84.7 279.3,82.9 279.6,82.5 279.7,81.8 279.8,81.3 279.9,80.9 280.0,79.4 280.1,78.3 280.2,76.9 280.3,77.0 280.5,76.6 280.6,74.4 280.7,74.3 280.8,73.9 280.9,72.9 281.0,71.2 281.1,70.8 281.2,70.3 281.3,68.3 281.4,66.8 281.5,66.6 281.6,65.0 281.7,63.9 281.8,63.8 281.9,62.2 282.1,61.3 282.2,60.7 282.3,60.4 282.4,60.1 282.5,57.9 282.6,57.7 282.7,56.3 282.8,56.0 282.9,54.7 283.1,53.8 283.2,52.3 283.4,51.9 283.5,51.0 283.7,50.4 283.8,49.3 284.0,48.8 284.1,48.1 284.3,46.8 284.4,46.2 284.6,43.9 284.7,44.5 284.9,43.7 285.0,41.8 285.2,40.7 285.3,40.6 285.5,39.2 285.6,38.0 285.8,37.1 285.9,36.3 286.2,35.6 286.5,34.8 286.9,34.1 287.2,33.3 287.5,32.3 288.8,31.5 289.1,32.4 289.4,33.3 289.7,34.8 290.0,34.5 290.1,35.7 290.2,37.9 290.3,37.2 290.4,38.5 290.5,39.9 290.6,40.0 290.8,42.5 290.9,42.0 291.0,44.1 291.1,44.2 291.2,44.8 291.3,45.5 291.4,47.1 291.5,47.3 291.6,49.2 291.7,49.7 291.8,49.8 291.9,52.0 292.0,52.9 292.1,54.0 292.1,54.3 292.2,55.4 292.3,56.3 292.4,57.1 292.5,57.9 292.6,58.6 292.7,60.5 292.8,60.7 292.9,62.6 293.0,61.5 293.1,62.8 293.2,64.1 293.3,64.4 293.3,66.4 293.4,65.8 293.5,68.3 293.6,69.7 293.7,70.1 293.8,71.5 293.9,72.4 294.0,72.4 294.2,73.7 294.3,74.8 294.5,74.9 294.6,75.7 294.7,78.0 294.9,78.0 295.0,79.9 295.2,79.6 295.3,81.0 295.5,81.8 295.6,83.0 295.7,83.3 295.9,85.6 296.0,85.9 296.2,87.4 296.3,86.6 296.7,88.1 297.2,89.5 297.6,90.4 298.1,91.4 298.5,91.7 299.0,91.9 299.4,93.3 299.9,94.1 300.3,94.9 301.2,95.0 302.1,95.2 303.0,95.3" fill="none" stroke="#2424b8" stroke-width="0.9" stroke-dasharray="1.2,1.3" stroke-linejoin="round"/>
<polyline points="273.5,94.5 274.0,93.6 274.5,93.0 274.9,92.3 275.4,90.3 275.9,90.4 276.4,89.3 276.6,89.0 276.9,87.0 277.1,86.8 277.3,85.6 277.5,84.8 277.8,84.9 278.0,83.8 278.2,81.9 278.5,81.2 278.7,80.3 278.9,78.8 279.1,78.1 279.4,77.3 279.6,77.1 279.7,76.0 279.8,74.6 279.9,74.4 280.1,72.9 280.2,72.7 280.3,71.7 280.4,69.7 280.5,69.6 280.6,67.8 280.7,66.9 280.9,66.2 281.0,65.1 281.1,64.2 281.2,64.0 281.3,61.9 281.4,62.1 281.5,60.2 281.7,60.5 281.8,58.8 281.9,59.0 282.0,56.8 282.1,56.6 282.2,56.8 282.3,55.5 282.5,53.1 282.6,53.8 282.7,52.1 282.8,51.3 283.0,49.8 283.2,49.5 283.4,48.3 283.6,48.0 283.8,47.8 284.0,45.1 284.1,44.7 284.3,43.9 284.5,43.7 284.7,42.2 284.9,40.9 285.1,40.2 285.7,39.3 286.4,37.9 287.0,38.1 287.9,36.6 288.8,35.6 289.2,36.9 289.6,39.7 289.9,39.1 290.3,40.3 290.7,41.7 290.8,42.6 290.9,43.3 291.0,43.6 291.1,45.8 291.2,46.0 291.3,47.3 291.4,48.0 291.5,48.2 291.6,50.3 291.7,50.7 291.8,52.0 291.9,52.4 292.0,53.1 292.1,55.1 292.2,56.3 292.3,56.0 292.4,58.0 292.5,58.2 292.6,59.2 292.7,60.5 292.8,61.2 292.9,62.5 293.0,63.5 293.1,63.5 293.2,64.3 293.3,65.7 293.4,65.8 293.6,67.1 293.7,69.1 293.8,68.2 293.9,70.4 294.0,71.0 294.1,72.3 294.2,72.3 294.4,73.1 294.5,74.7 294.6,75.9 294.7,76.3 294.8,76.7 294.9,78.5 295.0,79.0 295.2,79.4 295.3,80.6 295.4,81.7 295.5,81.7 295.8,83.4 296.1,85.8 296.5,85.6 296.8,86.9 297.1,86.3 297.4,89.0 297.7,88.9 298.1,89.9 298.4,89.8 298.7,91.4 299.6,91.9 300.5,93.1 301.4,92.7 302.4,93.5 303.3,94.0 304.2,94.4 305.1,94.9 306.0,94.9 306.9,94.9 307.8,94.9 308.7,94.9 309.6,94.9 310.5,94.9 311.5,95.0 312.4,95.0 313.3,95.0 314.2,95.0 315.1,95.0 316.0,95.0 316.9,95.0 317.8,95.0 318.7,95.0 319.6,95.0 320.5,95.0 321.4,95.0 322.4,95.1 323.3,95.1 324.2,95.1 325.1,95.1 326.0,95.1 326.9,95.1 327.8,95.1 328.7,95.1 329.6,95.1 330.5,95.1 331.4,95.1 332.3,95.1 333.2,95.1 334.2,95.2 335.1,95.2 336.0,95.2 336.9,95.2 337.8,95.2 338.7,95.2 339.6,95.2 340.5,95.2 341.4,95.2 342.3,95.2 343.2,95.2 344.1,95.2 345.1,95.3 346.0,95.3 346.9,95.3 347.8,95.3 348.7,95.3 349.6,95.3 350.5,95.3" fill="none" stroke="#e05a5a" stroke-width="1.0" stroke-linejoin="round"/>
<polyline points="273.5,94.5 274.0,93.6 274.5,93.0 274.9,92.3 275.4,90.3 275.9,90.4 276.4,89.3 276.6,89.0 276.9,87.0 277.1,86.8 277.3,85.6 277.5,84.8 277.8,84.9 278.0,83.8 278.2,81.9 278.5,81.2 278.7,80.3 278.9,78.8 279.1,78.1 279.4,77.3 279.6,77.1 279.7,76.0 279.8,74.6 279.9,74.4 280.1,72.9 280.2,72.7 280.3,71.7 280.4,69.7 280.5,69.6 280.6,67.8 280.7,66.9 280.9,66.2 281.0,65.1 281.1,64.2 281.2,64.0 281.3,61.9 281.4,62.1 281.5,60.2 281.7,60.5 281.8,58.8 281.9,59.0 282.0,56.8 282.1,56.6 282.2,56.8 282.3,55.5 282.5,53.1 282.6,53.8 282.7,52.1 282.8,51.3 283.0,49.8 283.2,49.5 283.4,48.3 283.6,48.0 283.8,47.8 284.0,45.1 284.1,44.7 284.3,43.9 284.5,43.7 284.7,42.2 284.9,40.9 285.1,40.2 285.7,39.3 286.4,37.9 287.0,38.1 287.9,36.6 288.8,35.6 289.2,36.9 289.6,39.7 289.9,39.1 290.3,40.3 290.7,41.7 290.8,42.6 290.9,43.3 291.0,43.6 291.1,45.8 291.2,46.0 291.3,47.3 291.4,48.0 291.5,48.2 291.6,50.3 291.7,50.7 291.8,52.0 291.9,52.4 292.0,53.1 292.1,55.1 292.2,56.3 292.3,56.0 292.4,58.0 292.5,58.2 292.6,59.2 292.7,60.5 292.8,61.2 292.9,62.5 293.0,63.5 293.1,63.5 293.2,64.3 293.3,65.7 293.4,65.8 293.6,67.1 293.7,69.1 293.8,68.2 293.9,70.4 294.0,71.0 294.1,72.3 294.2,72.3 294.4,73.1 294.5,74.7 294.6,75.9 294.7,76.3 294.8,76.7 294.9,78.5 295.0,79.0 295.2,79.4 295.3,80.6 295.4,81.7 295.5,81.7 295.8,83.4 296.1,85.8 296.5,85.6 296.8,86.9 297.1,86.3 297.4,89.0 297.7,88.9 298.1,89.9 298.4,89.8 298.7,91.4 299.6,91.9 300.5,93.1 301.4,92.7 302.4,93.5 303.3,94.0 304.2,94.4 305.1,94.9 306.0,94.9 306.9,94.9 307.8,94.9 308.7,94.9 309.6,94.9 310.5,94.9 311.5,95.0 312.4,95.0 313.3,95.0 314.2,95.0 315.1,95.0 316.0,95.0 316.9,95.0 317.8,95.0 318.7,95.0 319.6,95.0 320.5,95.0 321.4,95.0 322.4,95.1 323.3,95.1 324.2,95.1 325.1,95.1 326.0,95.1 326.9,95.1 327.8,95.1 328.7,95.1 329.6,95.1 330.5,95.1 331.4,95.1 332.3,95.1 333.2,95.1 334.2,95.2 335.1,95.2 336.0,95.2 336.9,95.2 337.8,95.2 338.7,95.2 339.6,95.2 340.5,95.2 341.4,95.2 342.3,95.2 343.2,95.2 344.1,95.2 345.1,95.3 346.0,95.3 346.9,95.3 347.8,95.3 348.7,95.3 349.6,95.3 350.5,95.3" fill="none" stroke="#cc2424" stroke-width="0.9" stroke-dasharray="1.2,1.3" stroke-linejoin="round"/>
<text x="265.90000000000003" y="96.2" font-size="6.0" font-weight="bold" text-anchor="start" fill="#222" stroke="#222" stroke-width="0.28" >0</text>
<rect x="363.4" y="17.6" width="78.10000000000002" height="78.19999999999999" fill="#fff"/>
<polygon points="363.5,95.8 363.5,89.0 363.7,88.7 363.9,87.4 364.1,86.4 364.3,85.4 364.6,84.7 364.8,83.1 365.0,82.6 365.2,81.6 365.4,80.6 365.6,80.2 365.7,78.6 365.9,77.8 366.0,77.2 366.2,76.0 366.3,75.1 366.4,74.5 366.6,72.9 366.7,72.7 366.9,71.4 367.0,70.3 367.2,69.7 367.3,67.8 367.4,68.3 367.6,66.9 367.7,65.8 367.9,64.8 368.0,63.8 368.1,63.0 368.3,61.5 368.4,61.3 368.6,59.4 368.7,59.2 368.8,58.8 369.0,56.9 369.1,56.8 369.3,55.5 369.4,54.5 369.6,53.7 369.7,52.8 369.8,51.2 370.0,50.4 370.1,50.5 370.3,48.8 370.4,48.1 370.5,47.4 370.7,46.8 370.8,45.7 371.0,44.7 371.1,43.2 371.3,42.5 371.4,41.5 371.6,41.0 371.8,39.6 371.9,39.7 372.1,38.5 372.2,37.3 372.4,35.5 372.5,35.3 372.7,34.3 372.8,34.2 373.1,32.0 373.4,31.2 373.7,31.7 374.0,29.9 374.2,28.7 374.5,28.2 374.8,27.6 375.1,26.3 376.7,25.8 377.2,26.8 377.8,27.1 378.3,28.1 378.6,28.2 378.8,29.5 379.1,30.5 379.4,32.1 379.6,32.5 379.9,33.3 380.0,34.1 380.2,36.2 380.3,35.8 380.4,36.9 380.6,38.6 380.7,39.0 380.8,40.4 381.0,41.2 381.1,41.3 381.2,43.5 381.4,44.0 381.5,44.4 381.6,45.6 381.7,45.9 381.8,47.7 382.0,48.3 382.1,49.3 382.2,50.7 382.3,50.7 382.4,51.5 382.5,52.9 382.6,53.8 382.8,55.7 382.9,56.0 383.0,57.0 383.1,57.2 383.2,58.1 383.3,59.3 383.4,59.5 383.5,62.0 383.6,62.1 383.7,63.5 383.8,63.6 383.9,64.2 384.0,66.0 384.1,66.0 384.2,67.3 384.3,68.2 384.4,68.8 384.5,69.7 384.6,71.0 384.7,72.0 384.8,72.1 385.0,74.1 385.1,74.0 385.2,75.7 385.4,76.1 385.5,77.3 385.6,78.2 385.8,79.6 385.9,79.6 386.0,80.5 386.2,81.5 386.3,83.4 386.5,83.6 386.8,84.9 387.0,86.1 387.2,86.6 387.4,88.3 387.7,88.2 387.9,88.7 388.2,89.9 388.5,90.5 388.9,91.6 389.2,92.9 389.5,94.1 390.3,94.8 391.1,95.4 391.1,95.8" fill="#8b8b8b"/>
<line x1="363.4" y1="17.6" x2="441.5" y2="17.6" stroke="#b4b4b4" stroke-width="1.6"/>
<line x1="363.4" y1="17.6" x2="363.4" y2="95.8" stroke="#b0b0b0" stroke-width="1.6"/>
<line x1="441.5" y1="17.6" x2="441.5" y2="95.8" stroke="#7a7a7a" stroke-width="1.3"/>
<line x1="363.4" y1="95.8" x2="441.5" y2="95.8" stroke="#7a7a7a" stroke-width="1.3"/>
<polyline points="363.6,92.0 363.8,90.4 364.0,90.7 364.2,89.7 364.3,88.3 364.5,88.1 364.7,87.1 364.9,85.5 365.1,84.9 365.3,83.8 365.4,83.0 365.6,81.7 365.8,80.8 366.0,80.1 366.1,78.9 366.3,78.7 366.4,78.6 366.5,76.3 366.7,76.2 366.8,75.3 366.9,73.7 367.1,73.5 367.2,71.2 367.3,71.0 367.4,69.6 367.6,69.1 367.7,67.8 367.8,67.7 368.0,66.7 368.1,66.0 368.2,65.6 368.4,64.0 368.5,64.3 368.6,61.3 368.8,61.1 368.9,59.5 369.0,59.3 369.2,57.5 369.3,57.7 369.4,57.4 369.6,55.6 369.7,55.0 369.8,54.8 369.9,52.8 370.1,52.2 370.2,50.6 370.3,51.6 370.5,50.6 370.6,49.8 370.7,48.4 370.9,46.9 371.0,46.6 371.2,45.5 371.4,43.9 371.5,44.5 371.7,41.0 371.9,41.0 372.1,42.3 372.2,40.9 372.4,38.3 372.6,37.1 372.8,36.8 373.0,35.8 373.1,34.7 373.3,33.9 373.5,33.4 373.9,32.2 374.3,30.9 374.7,30.5 375.1,29.5 375.5,28.1 376.5,28.8 377.5,27.5 378.2,27.9 378.8,27.9 379.5,29.8 379.7,31.7 379.9,32.1 380.1,33.8 380.4,34.5 380.6,35.4 380.8,35.8 381.0,37.6 381.1,38.1 381.3,38.9 381.4,39.6 381.6,39.9 381.8,41.0 381.9,43.2 382.1,43.9 382.2,44.4 382.4,45.1 382.5,45.3 382.6,48.1 382.8,47.0 382.9,49.0 383.0,49.9 383.1,50.1 383.2,51.8 383.4,52.7 383.5,54.4 383.6,53.8 383.8,55.3 383.9,55.7 384.0,56.8 384.1,58.8 384.2,59.7 384.3,59.3 384.4,61.3 384.5,61.5 384.6,62.5 384.8,63.0 384.9,65.6 385.0,65.7 385.1,66.7 385.2,67.4 385.3,68.8 385.4,68.3 385.5,70.5 385.7,70.2 385.8,71.8 386.0,73.5 386.1,73.5 386.3,75.8 386.4,75.2 386.6,76.8 386.7,76.6 386.9,78.3 387.0,80.1 387.2,81.0 387.3,81.4 387.5,81.9 387.8,82.7 388.1,83.0 388.4,85.2 388.8,85.8 389.1,87.0 389.4,87.0 389.7,88.5 390.0,88.2 390.8,89.9 391.6,89.1 392.4,91.8 393.2,91.9 394.0,92.8 394.9,94.0 395.7,92.9 396.6,93.4 397.4,93.6 398.3,93.9 399.1,94.2 400.0,94.5 401.0,94.7 402.0,94.8 403.0,95.0 404.0,95.1 405.0,95.3" fill="none" stroke="#505050" stroke-width="1.0" stroke-linejoin="round"/>
<polyline points="363.6,92.0 363.8,90.4 364.0,90.7 364.2,89.7 364.3,88.3 364.5,88.1 364.7,87.1 364.9,85.5 365.1,84.9 365.3,83.8 365.4,83.0 365.6,81.7 365.8,80.8 366.0,80.1 366.1,78.9 366.3,78.7 366.4,78.6 366.5,76.3 366.7,76.2 366.8,75.3 366.9,73.7 367.1,73.5 367.2,71.2 367.3,71.0 367.4,69.6 367.6,69.1 367.7,67.8 367.8,67.7 368.0,66.7 368.1,66.0 368.2,65.6 368.4,64.0 368.5,64.3 368.6,61.3 368.8,61.1 368.9,59.5 369.0,59.3 369.2,57.5 369.3,57.7 369.4,57.4 369.6,55.6 369.7,55.0 369.8,54.8 369.9,52.8 370.1,52.2 370.2,50.6 370.3,51.6 370.5,50.6 370.6,49.8 370.7,48.4 370.9,46.9 371.0,46.6 371.2,45.5 371.4,43.9 371.5,44.5 371.7,41.0 371.9,41.0 372.1,42.3 372.2,40.9 372.4,38.3 372.6,37.1 372.8,36.8 373.0,35.8 373.1,34.7 373.3,33.9 373.5,33.4 373.9,32.2 374.3,30.9 374.7,30.5 375.1,29.5 375.5,28.1 376.5,28.8 377.5,27.5 378.2,27.9 378.8,27.9 379.5,29.8 379.7,31.7 379.9,32.1 380.1,33.8 380.4,34.5 380.6,35.4 380.8,35.8 381.0,37.6 381.1,38.1 381.3,38.9 381.4,39.6 381.6,39.9 381.8,41.0 381.9,43.2 382.1,43.9 382.2,44.4 382.4,45.1 382.5,45.3 382.6,48.1 382.8,47.0 382.9,49.0 383.0,49.9 383.1,50.1 383.2,51.8 383.4,52.7 383.5,54.4 383.6,53.8 383.8,55.3 383.9,55.7 384.0,56.8 384.1,58.8 384.2,59.7 384.3,59.3 384.4,61.3 384.5,61.5 384.6,62.5 384.8,63.0 384.9,65.6 385.0,65.7 385.1,66.7 385.2,67.4 385.3,68.8 385.4,68.3 385.5,70.5 385.7,70.2 385.8,71.8 386.0,73.5 386.1,73.5 386.3,75.8 386.4,75.2 386.6,76.8 386.7,76.6 386.9,78.3 387.0,80.1 387.2,81.0 387.3,81.4 387.5,81.9 387.8,82.7 388.1,83.0 388.4,85.2 388.8,85.8 389.1,87.0 389.4,87.0 389.7,88.5 390.0,88.2 390.8,89.9 391.6,89.1 392.4,91.8 393.2,91.9 394.0,92.8 394.9,94.0 395.7,92.9 396.6,93.4 397.4,93.6 398.3,93.9 399.1,94.2 400.0,94.5 401.0,94.7 402.0,94.8 403.0,95.0 404.0,95.1 405.0,95.3" fill="none" stroke="#262626" stroke-width="0.9" stroke-dasharray="1.2,1.3" stroke-linejoin="round"/>
<polyline points="363.5,20.1 363.5,19.9 363.5,22.6 363.5,23.6 363.5,24.2 363.6,23.7 363.6,25.1 363.6,25.0 363.6,27.8 363.6,27.1 363.6,28.9 363.6,30.1 363.6,31.9 363.6,31.8 363.6,33.8 363.7,33.5 363.7,35.5 363.7,35.4 363.7,37.2 363.7,37.8 363.7,37.3 363.7,39.6 363.7,40.7 363.7,41.3 363.8,41.9 363.8,43.0 363.8,42.9 363.8,43.8 363.8,46.0 363.8,46.9 363.8,46.6 363.8,48.1 363.8,49.4 363.8,50.0 363.9,50.8 363.9,52.0 363.9,53.0 363.9,52.9 363.9,54.5 363.9,55.3 363.9,55.8 363.9,57.6 363.9,58.1 363.9,59.8 364.0,60.5 364.0,61.8 364.0,61.0 364.0,62.7 364.0,63.0 364.1,63.1 364.3,61.7 364.4,61.4 364.6,60.2 364.7,58.7 364.8,57.6 365.0,57.8 365.1,57.1 365.3,54.8 365.4,54.8 365.6,52.4 365.7,52.2 365.8,51.8 366.0,50.0 366.1,49.9 366.3,49.8 366.4,47.6 366.7,46.2 366.9,46.3 367.2,44.9 367.5,43.6 367.7,43.5 368.0,42.3 368.3,42.2 368.5,40.9 368.8,39.8 369.1,38.3 369.3,38.5 369.6,37.1 369.9,36.4 370.1,36.2 370.4,34.8 370.7,34.6 370.9,32.3 371.2,32.4 371.5,32.6 371.8,33.1 372.2,34.8 372.5,35.9 372.8,36.7 373.3,35.4 373.8,34.7 374.3,33.6 374.5,34.8 374.8,35.2 375.0,36.3 375.2,36.9 375.4,38.5 375.7,38.9 375.9,40.4 376.4,41.3 377.0,42.5 377.5,43.5 377.8,44.0 378.1,44.8 378.5,45.9 378.8,47.3 379.1,48.1 379.4,49.2 379.6,50.5 379.9,49.7 380.2,51.8 380.4,52.8 380.7,52.7 381.0,54.3 381.2,56.0 381.5,56.0 381.7,56.7 381.8,58.0 382.0,58.9 382.2,59.1 382.4,60.0 382.5,62.1 382.7,61.7 382.9,64.0 383.0,64.1 383.2,64.9 383.4,66.2 383.6,65.8 383.7,68.2 383.9,68.4 384.0,69.0 384.2,69.3 384.3,70.7 384.5,71.8 384.6,73.6 384.8,74.2 384.9,75.3 385.1,75.7 385.2,76.6 385.4,76.6 385.6,79.1 385.7,80.0 385.9,79.2 386.0,82.0 386.2,83.3 386.3,82.1 386.9,85.0 387.6,84.0 388.2,85.4 388.9,87.0 389.5,86.7 390.3,87.1 391.1,88.1 391.9,89.2 392.7,88.7 393.5,89.1 394.3,89.1 395.1,89.8 395.9,90.7 396.7,91.0 397.5,92.1 398.3,91.1 399.2,93.9 400.1,92.6 401.0,93.5 401.9,93.9 402.8,94.2 403.7,94.6 404.6,94.9" fill="none" stroke="#5050d8" stroke-width="1.0" stroke-linejoin="round"/>
<polyline points="363.5,20.1 363.5,19.9 363.5,22.6 363.5,23.6 363.5,24.2 363.6,23.7 363.6,25.1 363.6,25.0 363.6,27.8 363.6,27.1 363.6,28.9 363.6,30.1 363.6,31.9 363.6,31.8 363.6,33.8 363.7,33.5 363.7,35.5 363.7,35.4 363.7,37.2 363.7,37.8 363.7,37.3 363.7,39.6 363.7,40.7 363.7,41.3 363.8,41.9 363.8,43.0 363.8,42.9 363.8,43.8 363.8,46.0 363.8,46.9 363.8,46.6 363.8,48.1 363.8,49.4 363.8,50.0 363.9,50.8 363.9,52.0 363.9,53.0 363.9,52.9 363.9,54.5 363.9,55.3 363.9,55.8 363.9,57.6 363.9,58.1 363.9,59.8 364.0,60.5 364.0,61.8 364.0,61.0 364.0,62.7 364.0,63.0 364.1,63.1 364.3,61.7 364.4,61.4 364.6,60.2 364.7,58.7 364.8,57.6 365.0,57.8 365.1,57.1 365.3,54.8 365.4,54.8 365.6,52.4 365.7,52.2 365.8,51.8 366.0,50.0 366.1,49.9 366.3,49.8 366.4,47.6 366.7,46.2 366.9,46.3 367.2,44.9 367.5,43.6 367.7,43.5 368.0,42.3 368.3,42.2 368.5,40.9 368.8,39.8 369.1,38.3 369.3,38.5 369.6,37.1 369.9,36.4 370.1,36.2 370.4,34.8 370.7,34.6 370.9,32.3 371.2,32.4 371.5,32.6 371.8,33.1 372.2,34.8 372.5,35.9 372.8,36.7 373.3,35.4 373.8,34.7 374.3,33.6 374.5,34.8 374.8,35.2 375.0,36.3 375.2,36.9 375.4,38.5 375.7,38.9 375.9,40.4 376.4,41.3 377.0,42.5 377.5,43.5 377.8,44.0 378.1,44.8 378.5,45.9 378.8,47.3 379.1,48.1 379.4,49.2 379.6,50.5 379.9,49.7 380.2,51.8 380.4,52.8 380.7,52.7 381.0,54.3 381.2,56.0 381.5,56.0 381.7,56.7 381.8,58.0 382.0,58.9 382.2,59.1 382.4,60.0 382.5,62.1 382.7,61.7 382.9,64.0 383.0,64.1 383.2,64.9 383.4,66.2 383.6,65.8 383.7,68.2 383.9,68.4 384.0,69.0 384.2,69.3 384.3,70.7 384.5,71.8 384.6,73.6 384.8,74.2 384.9,75.3 385.1,75.7 385.2,76.6 385.4,76.6 385.6,79.1 385.7,80.0 385.9,79.2 386.0,82.0 386.2,83.3 386.3,82.1 386.9,85.0 387.6,84.0 388.2,85.4 388.9,87.0 389.5,86.7 390.3,87.1 391.1,88.1 391.9,89.2 392.7,88.7 393.5,89.1 394.3,89.1 395.1,89.8 395.9,90.7 396.7,91.0 397.5,92.1 398.3,91.1 399.2,93.9 400.1,92.6 401.0,93.5 401.9,93.9 402.8,94.2 403.7,94.6 404.6,94.9" fill="none" stroke="#2424b8" stroke-width="0.9" stroke-dasharray="1.2,1.3" stroke-linejoin="round"/>
<polyline points="363.5,91.2 363.7,90.1 363.9,89.5 364.0,88.1 364.2,87.6 364.4,86.6 364.6,85.0 364.8,84.6 364.9,83.7 365.1,82.4 365.3,82.5 365.5,81.9 365.7,80.6 365.9,79.8 366.0,78.5 366.2,77.1 366.4,76.8 366.6,76.2 366.7,75.3 366.9,74.4 367.1,72.0 367.3,71.5 367.4,71.8 367.6,70.4 367.8,70.3 367.9,69.2 368.1,67.0 368.3,66.2 368.5,65.3 368.6,64.1 368.8,63.5 369.0,63.3 369.1,62.3 369.3,62.5 369.5,60.1 369.7,59.3 369.8,58.2 370.0,57.1 370.2,56.4 370.3,54.8 370.5,54.4 370.7,54.7 370.9,53.2 371.0,52.5 371.2,50.6 371.4,50.4 371.7,49.0 371.9,47.7 372.1,47.6 372.4,46.9 372.6,44.8 372.8,44.5 373.0,43.1 373.3,42.8 373.5,42.4 374.1,39.8 374.7,39.2 375.3,39.1 375.9,38.4 376.5,38.8 377.1,39.7 377.7,40.7 378.3,41.0 379.1,41.8 379.9,43.0 380.7,42.8 381.2,44.5 381.7,44.3 382.1,45.2 382.6,46.1 383.1,48.5 383.3,48.5 383.4,50.1 383.6,50.9 383.7,52.3 383.9,52.1 384.1,53.6 384.2,54.5 384.4,55.9 384.5,57.7 384.7,57.9 384.9,58.1 385.0,59.0 385.2,60.5 385.3,60.6 385.5,63.3 385.7,62.3 385.8,64.1 386.0,64.2 386.1,66.3 386.3,67.3 386.6,68.4 386.8,69.5 387.1,69.5 387.4,70.6 387.6,71.1 387.9,72.5 388.2,73.6 388.4,75.0 388.7,73.9 389.2,75.8 389.6,77.1 390.1,77.5 390.5,77.6 391.0,78.3 391.4,80.0 391.9,81.3 392.6,82.1 393.2,84.1 393.9,84.1 394.6,83.7 395.2,84.8 395.9,86.6 396.5,86.7 397.2,87.2 397.9,87.7 398.5,89.0 399.1,89.9 399.8,91.7 400.6,90.7 401.4,92.1 402.2,92.0 403.0,93.5 403.8,93.6 404.6,94.1 405.5,94.3 406.4,94.4 407.3,94.6 408.3,94.7 409.2,94.9 410.1,95.0 411.0,95.2 411.9,95.2 412.8,95.2 413.7,95.2 414.6,95.2 415.5,95.2 416.5,95.2 417.4,95.2 418.3,95.2 419.2,95.2 420.1,95.2 421.0,95.2 421.9,95.2 422.8,95.2 423.7,95.2 424.6,95.2 425.5,95.2 426.5,95.3 427.4,95.3 428.3,95.3 429.2,95.3 430.1,95.3 431.0,95.3 431.9,95.3 432.8,95.3 433.7,95.3 434.6,95.3 435.5,95.3 436.5,95.3 437.4,95.3 438.3,95.3 439.2,95.3 440.1,95.3 441.0,95.3" fill="none" stroke="#e05a5a" stroke-width="1.0" stroke-linejoin="round"/>
<polyline points="363.5,91.2 363.7,90.1 363.9,89.5 364.0,88.1 364.2,87.6 364.4,86.6 364.6,85.0 364.8,84.6 364.9,83.7 365.1,82.4 365.3,82.5 365.5,81.9 365.7,80.6 365.9,79.8 366.0,78.5 366.2,77.1 366.4,76.8 366.6,76.2 366.7,75.3 366.9,74.4 367.1,72.0 367.3,71.5 367.4,71.8 367.6,70.4 367.8,70.3 367.9,69.2 368.1,67.0 368.3,66.2 368.5,65.3 368.6,64.1 368.8,63.5 369.0,63.3 369.1,62.3 369.3,62.5 369.5,60.1 369.7,59.3 369.8,58.2 370.0,57.1 370.2,56.4 370.3,54.8 370.5,54.4 370.7,54.7 370.9,53.2 371.0,52.5 371.2,50.6 371.4,50.4 371.7,49.0 371.9,47.7 372.1,47.6 372.4,46.9 372.6,44.8 372.8,44.5 373.0,43.1 373.3,42.8 373.5,42.4 374.1,39.8 374.7,39.2 375.3,39.1 375.9,38.4 376.5,38.8 377.1,39.7 377.7,40.7 378.3,41.0 379.1,41.8 379.9,43.0 380.7,42.8 381.2,44.5 381.7,44.3 382.1,45.2 382.6,46.1 383.1,48.5 383.3,48.5 383.4,50.1 383.6,50.9 383.7,52.3 383.9,52.1 384.1,53.6 384.2,54.5 384.4,55.9 384.5,57.7 384.7,57.9 384.9,58.1 385.0,59.0 385.2,60.5 385.3,60.6 385.5,63.3 385.7,62.3 385.8,64.1 386.0,64.2 386.1,66.3 386.3,67.3 386.6,68.4 386.8,69.5 387.1,69.5 387.4,70.6 387.6,71.1 387.9,72.5 388.2,73.6 388.4,75.0 388.7,73.9 389.2,75.8 389.6,77.1 390.1,77.5 390.5,77.6 391.0,78.3 391.4,80.0 391.9,81.3 392.6,82.1 393.2,84.1 393.9,84.1 394.6,83.7 395.2,84.8 395.9,86.6 396.5,86.7 397.2,87.2 397.9,87.7 398.5,89.0 399.1,89.9 399.8,91.7 400.6,90.7 401.4,92.1 402.2,92.0 403.0,93.5 403.8,93.6 404.6,94.1 405.5,94.3 406.4,94.4 407.3,94.6 408.3,94.7 409.2,94.9 410.1,95.0 411.0,95.2 411.9,95.2 412.8,95.2 413.7,95.2 414.6,95.2 415.5,95.2 416.5,95.2 417.4,95.2 418.3,95.2 419.2,95.2 420.1,95.2 421.0,95.2 421.9,95.2 422.8,95.2 423.7,95.2 424.6,95.2 425.5,95.2 426.5,95.3 427.4,95.3 428.3,95.3 429.2,95.3 430.1,95.3 431.0,95.3 431.9,95.3 432.8,95.3 433.7,95.3 434.6,95.3 435.5,95.3 436.5,95.3 437.4,95.3 438.3,95.3 439.2,95.3 440.1,95.3 441.0,95.3" fill="none" stroke="#cc2424" stroke-width="0.9" stroke-dasharray="1.2,1.3" stroke-linejoin="round"/>
<text x="356.7" y="96.2" font-size="6.0" font-weight="bold" text-anchor="start" fill="#222" stroke="#222" stroke-width="0.28" >0</text>
<rect x="454.3" y="17.8" width="77.90000000000003" height="78.0" fill="#fff"/>
<polygon points="454.5,95.8 454.5,64.4 454.9,62.2 455.4,61.1 455.8,60.9 456.0,60.1 456.3,58.7 456.5,58.4 456.7,56.2 456.9,55.2 457.2,54.8 457.4,54.8 457.8,54.1 458.2,51.6 458.6,51.4 459.0,50.5 459.2,51.0 459.4,51.8 459.6,53.4 459.8,53.9 460.0,55.1 460.2,56.2 460.3,56.5 460.5,57.5 460.6,58.8 460.8,59.7 460.9,61.1 461.1,62.6 461.2,62.5 461.4,63.9 461.6,64.4 461.9,64.9 462.1,66.6 462.3,66.9 462.5,68.5 462.8,69.1 463.0,69.9 463.5,71.6 464.0,72.0 464.5,73.6 466.1,73.8 466.9,76.1 467.7,75.7 468.2,77.0 468.8,77.6 469.3,78.1 470.1,78.6 470.9,79.8 471.7,81.1 472.5,81.2 473.3,81.8 474.1,82.0 474.9,83.2 475.5,83.4 476.1,84.6 476.7,85.8 477.3,85.9 478.1,87.0 478.9,87.3 479.2,88.4 479.5,89.7 479.9,91.1 480.2,92.2 480.5,93.3 481.0,93.5 481.6,94.4 482.1,95.4 482.1,95.8" fill="#8b8b8b"/>
<line x1="454.3" y1="17.8" x2="532.2" y2="17.8" stroke="#b4b4b4" stroke-width="1.6"/>
<line x1="454.3" y1="17.8" x2="454.3" y2="95.8" stroke="#b0b0b0" stroke-width="1.6"/>
<line x1="532.2" y1="17.8" x2="532.2" y2="95.8" stroke="#7a7a7a" stroke-width="1.3"/>
<line x1="454.3" y1="95.8" x2="532.2" y2="95.8" stroke="#7a7a7a" stroke-width="1.3"/>
<polyline points="454.5,93.3 455.5,93.4 456.4,93.1 457.4,92.2 458.3,92.9 459.3,93.6 460.2,93.9 461.2,93.4 462.1,93.5 463.1,93.6 464.0,93.7 465.0,93.9 465.9,94.0 466.9,94.1 467.8,93.8 468.6,93.5 469.5,92.9 470.4,92.4 471.3,93.2 472.1,92.2 473.0,92.4 473.9,93.0 474.8,91.8 475.6,91.4 476.5,91.5 477.2,90.9 477.9,89.1 478.6,87.9 479.2,88.9 479.9,87.8 480.6,87.1 481.3,85.9 481.5,85.4 481.8,85.1 482.0,83.8 482.3,82.0 482.5,80.8 482.7,80.6 483.0,79.7 483.2,78.5 483.5,76.6 483.7,77.3 483.8,75.6 483.9,75.6 484.0,73.2 484.1,73.0 484.2,71.9 484.3,71.6 484.4,70.8 484.5,68.8 484.5,68.3 484.6,68.0 484.7,66.0 484.8,65.7 484.9,65.5 485.0,63.8 485.1,62.6 485.2,61.0 485.3,61.3 485.4,59.6 485.5,58.5 485.6,57.3 485.6,56.9 485.7,55.3 485.8,56.0 485.9,53.6 486.0,53.2 486.1,52.3 486.1,51.0 486.2,50.1 486.3,50.5 486.4,48.4 486.5,47.7 486.6,46.3 486.6,46.0 486.7,45.4 486.8,43.8 486.9,42.7 487.0,41.9 487.2,41.6 487.3,41.2 487.5,38.9 487.6,38.7 487.8,37.3 487.9,37.4 488.1,35.7 488.2,35.6 488.4,34.3 488.6,32.9 488.7,32.1 488.9,30.9 489.0,31.7 489.2,29.5 489.3,29.5 489.7,28.7 490.1,26.8 490.4,25.8 490.8,25.2 491.2,26.0 491.6,26.1 492.0,27.0 492.4,28.5 492.5,28.9 492.6,30.7 492.7,32.3 492.8,32.7 492.9,33.3 493.0,33.9 493.1,34.8 493.3,36.9 493.4,38.8 493.5,38.3 493.6,39.4 493.7,40.9 493.8,41.9 493.9,42.6 494.0,43.6 494.1,44.5 494.2,45.4 494.3,45.6 494.3,46.7 494.4,47.5 494.5,47.3 494.6,49.2 494.7,50.2 494.8,50.9 494.8,51.4 494.9,53.2 495.0,54.4 495.1,55.0 495.2,56.5 495.3,57.0 495.3,58.0 495.4,59.2 495.5,59.8 495.6,59.6 495.7,61.3 495.8,61.9 495.9,62.4 496.0,64.7 496.1,65.8 496.2,66.0 496.3,67.8 496.4,68.2 496.4,68.5 496.5,69.9 496.6,70.2 496.7,72.2 496.8,72.9 496.9,74.1 497.0,74.2 497.1,75.7 497.2,76.5 497.3,77.0 497.4,78.1 497.5,79.1 497.7,79.2 497.8,80.2 497.9,81.8 498.0,83.0 498.1,84.5 498.2,84.7 498.3,84.4 498.5,86.2 498.6,87.8 498.7,89.0 498.8,89.0 499.2,90.6 499.6,91.0 500.0,92.4 500.4,93.2 500.8,94.0 501.2,94.9" fill="none" stroke="#505050" stroke-width="1.0" stroke-linejoin="round"/>
<polyline points="454.5,93.3 455.5,93.4 456.4,93.1 457.4,92.2 458.3,92.9 459.3,93.6 460.2,93.9 461.2,93.4 462.1,93.5 463.1,93.6 464.0,93.7 465.0,93.9 465.9,94.0 466.9,94.1 467.8,93.8 468.6,93.5 469.5,92.9 470.4,92.4 471.3,93.2 472.1,92.2 473.0,92.4 473.9,93.0 474.8,91.8 475.6,91.4 476.5,91.5 477.2,90.9 477.9,89.1 478.6,87.9 479.2,88.9 479.9,87.8 480.6,87.1 481.3,85.9 481.5,85.4 481.8,85.1 482.0,83.8 482.3,82.0 482.5,80.8 482.7,80.6 483.0,79.7 483.2,78.5 483.5,76.6 483.7,77.3 483.8,75.6 483.9,75.6 484.0,73.2 484.1,73.0 484.2,71.9 484.3,71.6 484.4,70.8 484.5,68.8 484.5,68.3 484.6,68.0 484.7,66.0 484.8,65.7 484.9,65.5 485.0,63.8 485.1,62.6 485.2,61.0 485.3,61.3 485.4,59.6 485.5,58.5 485.6,57.3 485.6,56.9 485.7,55.3 485.8,56.0 485.9,53.6 486.0,53.2 486.1,52.3 486.1,51.0 486.2,50.1 486.3,50.5 486.4,48.4 486.5,47.7 486.6,46.3 486.6,46.0 486.7,45.4 486.8,43.8 486.9,42.7 487.0,41.9 487.2,41.6 487.3,41.2 487.5,38.9 487.6,38.7 487.8,37.3 487.9,37.4 488.1,35.7 488.2,35.6 488.4,34.3 488.6,32.9 488.7,32.1 488.9,30.9 489.0,31.7 489.2,29.5 489.3,29.5 489.7,28.7 490.1,26.8 490.4,25.8 490.8,25.2 491.2,26.0 491.6,26.1 492.0,27.0 492.4,28.5 492.5,28.9 492.6,30.7 492.7,32.3 492.8,32.7 492.9,33.3 493.0,33.9 493.1,34.8 493.3,36.9 493.4,38.8 493.5,38.3 493.6,39.4 493.7,40.9 493.8,41.9 493.9,42.6 494.0,43.6 494.1,44.5 494.2,45.4 494.3,45.6 494.3,46.7 494.4,47.5 494.5,47.3 494.6,49.2 494.7,50.2 494.8,50.9 494.8,51.4 494.9,53.2 495.0,54.4 495.1,55.0 495.2,56.5 495.3,57.0 495.3,58.0 495.4,59.2 495.5,59.8 495.6,59.6 495.7,61.3 495.8,61.9 495.9,62.4 496.0,64.7 496.1,65.8 496.2,66.0 496.3,67.8 496.4,68.2 496.4,68.5 496.5,69.9 496.6,70.2 496.7,72.2 496.8,72.9 496.9,74.1 497.0,74.2 497.1,75.7 497.2,76.5 497.3,77.0 497.4,78.1 497.5,79.1 497.7,79.2 497.8,80.2 497.9,81.8 498.0,83.0 498.1,84.5 498.2,84.7 498.3,84.4 498.5,86.2 498.6,87.8 498.7,89.0 498.8,89.0 499.2,90.6 499.6,91.0 500.0,92.4 500.4,93.2 500.8,94.0 501.2,94.9" fill="none" stroke="#262626" stroke-width="0.9" stroke-dasharray="1.2,1.3" stroke-linejoin="round"/>
<polyline points="454.5,94.1 455.5,94.0 456.4,93.9 457.4,93.7 458.3,93.6 459.3,93.5 460.2,93.4 461.2,92.8 462.1,93.0 463.1,93.0 464.0,93.2 465.0,91.8 465.9,92.6 466.9,93.4 467.9,92.3 468.8,90.6 469.8,91.4 470.7,93.0 471.7,92.0 472.7,91.2 473.6,90.7 474.6,91.1 475.5,90.1 476.5,90.6 477.3,89.6 478.1,89.2 478.9,88.4 479.7,88.1 480.5,86.8 481.3,86.9 482.1,86.9 482.9,86.4 483.2,85.3 483.5,84.5 483.8,83.8 484.1,82.3 484.4,81.7 484.6,80.8 484.9,79.9 485.2,79.8 485.5,77.3 485.8,76.4 486.1,77.0 486.2,75.5 486.4,74.9 486.5,74.4 486.7,73.1 486.8,72.4 486.9,70.6 487.1,69.7 487.2,69.4 487.4,68.1 487.5,66.9 487.7,65.6 487.8,65.3 487.9,64.5 488.1,63.6 488.2,63.1 488.4,61.6 488.5,60.3 488.6,58.4 488.7,59.1 488.7,57.5 488.8,56.6 488.9,56.1 489.0,54.8 489.1,53.5 489.1,53.8 489.2,52.7 489.3,51.5 489.4,50.1 489.4,50.0 489.5,49.4 489.6,48.4 489.7,46.1 489.8,46.2 489.8,45.3 489.9,43.2 490.0,43.0 490.1,42.3 490.2,42.0 490.3,40.8 490.5,38.7 490.6,38.1 490.7,37.8 490.8,36.4 490.9,35.3 491.0,34.7 491.1,34.1 491.3,32.5 491.4,32.0 491.5,31.6 491.6,30.3 492.0,30.0 492.4,29.8 492.8,27.4 493.2,26.8 493.5,27.6 493.7,27.4 494.0,28.7 494.3,30.6 494.5,31.5 494.8,31.9 494.9,33.0 495.0,32.5 495.1,34.6 495.2,35.1 495.3,36.7 495.4,38.3 495.5,39.0 495.6,39.6 495.6,40.9 495.7,40.6 495.8,42.2 495.9,43.1 496.0,43.8 496.1,45.2 496.2,45.6 496.3,47.3 496.4,48.2 496.5,48.0 496.6,49.8 496.6,50.9 496.7,52.8 496.8,51.9 496.9,52.9 496.9,55.0 497.0,55.2 497.1,56.1 497.2,57.3 497.2,58.2 497.3,57.8 497.4,60.5 497.5,60.9 497.5,61.8 497.6,62.4 497.7,64.0 497.8,64.5 497.8,65.6 497.9,66.5 498.0,66.9 498.1,68.0 498.2,69.3 498.3,69.5 498.4,70.9 498.5,71.3 498.6,73.0 498.7,72.9 498.8,73.8 498.8,75.5 498.9,76.9 499.0,77.0 499.1,78.0 499.2,79.6 499.3,79.5 499.4,81.9 499.5,81.6 499.6,83.6 499.8,83.6 499.9,85.4 500.1,85.3 500.2,86.5 500.4,87.3 500.6,87.8 500.7,89.0 500.9,91.5 501.0,92.3 501.2,91.9 501.8,93.4 502.4,93.8 503.0,94.5 503.6,95.2" fill="none" stroke="#5050d8" stroke-width="1.0" stroke-linejoin="round"/>
<polyline points="454.5,94.1 455.5,94.0 456.4,93.9 457.4,93.7 458.3,93.6 459.3,93.5 460.2,93.4 461.2,92.8 462.1,93.0 463.1,93.0 464.0,93.2 465.0,91.8 465.9,92.6 466.9,93.4 467.9,92.3 468.8,90.6 469.8,91.4 470.7,93.0 471.7,92.0 472.7,91.2 473.6,90.7 474.6,91.1 475.5,90.1 476.5,90.6 477.3,89.6 478.1,89.2 478.9,88.4 479.7,88.1 480.5,86.8 481.3,86.9 482.1,86.9 482.9,86.4 483.2,85.3 483.5,84.5 483.8,83.8 484.1,82.3 484.4,81.7 484.6,80.8 484.9,79.9 485.2,79.8 485.5,77.3 485.8,76.4 486.1,77.0 486.2,75.5 486.4,74.9 486.5,74.4 486.7,73.1 486.8,72.4 486.9,70.6 487.1,69.7 487.2,69.4 487.4,68.1 487.5,66.9 487.7,65.6 487.8,65.3 487.9,64.5 488.1,63.6 488.2,63.1 488.4,61.6 488.5,60.3 488.6,58.4 488.7,59.1 488.7,57.5 488.8,56.6 488.9,56.1 489.0,54.8 489.1,53.5 489.1,53.8 489.2,52.7 489.3,51.5 489.4,50.1 489.4,50.0 489.5,49.4 489.6,48.4 489.7,46.1 489.8,46.2 489.8,45.3 489.9,43.2 490.0,43.0 490.1,42.3 490.2,42.0 490.3,40.8 490.5,38.7 490.6,38.1 490.7,37.8 490.8,36.4 490.9,35.3 491.0,34.7 491.1,34.1 491.3,32.5 491.4,32.0 491.5,31.6 491.6,30.3 492.0,30.0 492.4,29.8 492.8,27.4 493.2,26.8 493.5,27.6 493.7,27.4 494.0,28.7 494.3,30.6 494.5,31.5 494.8,31.9 494.9,33.0 495.0,32.5 495.1,34.6 495.2,35.1 495.3,36.7 495.4,38.3 495.5,39.0 495.6,39.6 495.6,40.9 495.7,40.6 495.8,42.2 495.9,43.1 496.0,43.8 496.1,45.2 496.2,45.6 496.3,47.3 496.4,48.2 496.5,48.0 496.6,49.8 496.6,50.9 496.7,52.8 496.8,51.9 496.9,52.9 496.9,55.0 497.0,55.2 497.1,56.1 497.2,57.3 497.2,58.2 497.3,57.8 497.4,60.5 497.5,60.9 497.5,61.8 497.6,62.4 497.7,64.0 497.8,64.5 497.8,65.6 497.9,66.5 498.0,66.9 498.1,68.0 498.2,69.3 498.3,69.5 498.4,70.9 498.5,71.3 498.6,73.0 498.7,72.9 498.8,73.8 498.8,75.5 498.9,76.9 499.0,77.0 499.1,78.0 499.2,79.6 499.3,79.5 499.4,81.9 499.5,81.6 499.6,83.6 499.8,83.6 499.9,85.4 500.1,85.3 500.2,86.5 500.4,87.3 500.6,87.8 500.7,89.0 500.9,91.5 501.0,92.3 501.2,91.9 501.8,93.4 502.4,93.8 503.0,94.5 503.6,95.2" fill="none" stroke="#2424b8" stroke-width="0.9" stroke-dasharray="1.2,1.3" stroke-linejoin="round"/>
<polyline points="454.5,92.0 455.4,93.2 456.2,92.7 457.1,92.6 458.0,93.4 458.9,93.6 459.7,93.9 460.6,94.1 461.5,93.9 462.4,93.6 463.3,93.4 464.2,92.7 465.1,92.9 466.0,92.3 466.9,92.1 467.9,92.9 468.8,92.1 469.8,90.7 470.7,91.3 471.7,91.4 472.7,90.2 473.6,90.1 474.6,90.1 475.5,89.8 476.5,89.8 477.4,90.2 478.3,89.1 479.2,89.2 480.2,88.5 481.1,88.4 482.0,88.0 482.9,87.7 483.3,87.2 483.6,86.9 484.0,85.0 484.3,84.4 484.7,82.9 485.0,82.7 485.4,81.2 485.7,80.7 486.1,79.6 486.2,80.0 486.4,78.1 486.5,77.3 486.7,75.5 486.8,74.5 486.9,74.1 487.1,72.7 487.2,71.0 487.4,71.7 487.5,70.1 487.7,68.8 487.8,68.9 487.9,67.7 488.1,67.0 488.2,66.0 488.4,65.4 488.5,63.8 488.6,62.8 488.7,62.3 488.9,61.7 489.0,61.3 489.1,60.9 489.2,58.3 489.3,57.1 489.4,56.3 489.6,55.4 489.7,53.9 489.8,53.5 489.9,53.5 490.0,52.2 490.1,50.6 490.3,50.3 490.4,48.8 490.5,48.1 490.6,47.0 490.8,46.0 490.9,44.8 491.0,44.4 491.2,44.0 491.3,42.1 491.4,40.4 491.6,40.0 491.7,39.2 491.8,38.5 492.0,38.2 492.1,35.8 492.4,35.9 492.6,34.4 492.9,33.6 493.2,33.5 493.4,32.2 493.7,30.9 494.0,32.7 494.2,33.2 494.5,34.6 494.8,34.9 495.0,35.4 495.3,36.6 495.4,37.4 495.5,38.4 495.6,39.2 495.7,40.1 495.8,40.4 495.9,42.1 496.0,42.5 496.1,45.0 496.2,44.0 496.3,45.9 496.4,46.9 496.5,47.6 496.6,47.6 496.7,49.3 496.8,49.9 496.9,51.1 497.0,51.8 497.1,53.9 497.2,53.9 497.2,55.1 497.3,55.4 497.4,56.3 497.5,57.7 497.6,58.2 497.7,59.5 497.7,59.3 497.8,61.3 497.9,61.8 498.0,63.3 498.1,63.9 498.2,64.8 498.2,65.8 498.3,67.3 498.4,68.2 498.5,68.5 498.6,69.8 498.7,71.1 498.8,71.2 498.9,73.3 499.0,74.2 499.1,74.0 499.2,75.8 499.4,76.1 499.5,77.7 499.6,78.2 499.7,79.0 499.8,80.9 499.9,81.2 500.0,81.7 500.1,83.3 500.3,83.9 500.5,84.3 500.7,86.0 500.9,86.0 501.1,88.4 501.2,87.9 501.4,89.0 501.6,91.1 501.8,92.1 502.0,92.9 502.8,92.6 503.6,93.8 504.4,94.5 505.2,95.2 506.1,95.2 507.0,95.2 508.0,95.2 508.9,95.2 509.8,95.2 510.7,95.2 511.7,95.2 512.6,95.2 513.5,95.2 514.4,95.2 515.4,95.2 516.3,95.2 517.2,95.2 518.1,95.2 519.1,95.3 520.0,95.3 520.9,95.3 521.8,95.3 522.8,95.3 523.7,95.3 524.6,95.3 525.5,95.3 526.5,95.3 527.4,95.3 528.3,95.3 529.2,95.3 530.2,95.3 531.1,95.3 532.0,95.3" fill="none" stroke="#e05a5a" stroke-width="1.0" stroke-linejoin="round"/>
<polyline points="454.5,92.0 455.4,93.2 456.2,92.7 457.1,92.6 458.0,93.4 458.9,93.6 459.7,93.9 460.6,94.1 461.5,93.9 462.4,93.6 463.3,93.4 464.2,92.7 465.1,92.9 466.0,92.3 466.9,92.1 467.9,92.9 468.8,92.1 469.8,90.7 470.7,91.3 471.7,91.4 472.7,90.2 473.6,90.1 474.6,90.1 475.5,89.8 476.5,89.8 477.4,90.2 478.3,89.1 479.2,89.2 480.2,88.5 481.1,88.4 482.0,88.0 482.9,87.7 483.3,87.2 483.6,86.9 484.0,85.0 484.3,84.4 484.7,82.9 485.0,82.7 485.4,81.2 485.7,80.7 486.1,79.6 486.2,80.0 486.4,78.1 486.5,77.3 486.7,75.5 486.8,74.5 486.9,74.1 487.1,72.7 487.2,71.0 487.4,71.7 487.5,70.1 487.7,68.8 487.8,68.9 487.9,67.7 488.1,67.0 488.2,66.0 488.4,65.4 488.5,63.8 488.6,62.8 488.7,62.3 488.9,61.7 489.0,61.3 489.1,60.9 489.2,58.3 489.3,57.1 489.4,56.3 489.6,55.4 489.7,53.9 489.8,53.5 489.9,53.5 490.0,52.2 490.1,50.6 490.3,50.3 490.4,48.8 490.5,48.1 490.6,47.0 490.8,46.0 490.9,44.8 491.0,44.4 491.2,44.0 491.3,42.1 491.4,40.4 491.6,40.0 491.7,39.2 491.8,38.5 492.0,38.2 492.1,35.8 492.4,35.9 492.6,34.4 492.9,33.6 493.2,33.5 493.4,32.2 493.7,30.9 494.0,32.7 494.2,33.2 494.5,34.6 494.8,34.9 495.0,35.4 495.3,36.6 495.4,37.4 495.5,38.4 495.6,39.2 495.7,40.1 495.8,40.4 495.9,42.1 496.0,42.5 496.1,45.0 496.2,44.0 496.3,45.9 496.4,46.9 496.5,47.6 496.6,47.6 496.7,49.3 496.8,49.9 496.9,51.1 497.0,51.8 497.1,53.9 497.2,53.9 497.2,55.1 497.3,55.4 497.4,56.3 497.5,57.7 497.6,58.2 497.7,59.5 497.7,59.3 497.8,61.3 497.9,61.8 498.0,63.3 498.1,63.9 498.2,64.8 498.2,65.8 498.3,67.3 498.4,68.2 498.5,68.5 498.6,69.8 498.7,71.1 498.8,71.2 498.9,73.3 499.0,74.2 499.1,74.0 499.2,75.8 499.4,76.1 499.5,77.7 499.6,78.2 499.7,79.0 499.8,80.9 499.9,81.2 500.0,81.7 500.1,83.3 500.3,83.9 500.5,84.3 500.7,86.0 500.9,86.0 501.1,88.4 501.2,87.9 501.4,89.0 501.6,91.1 501.8,92.1 502.0,92.9 502.8,92.6 503.6,93.8 504.4,94.5 505.2,95.2 506.1,95.2 507.0,95.2 508.0,95.2 508.9,95.2 509.8,95.2 510.7,95.2 511.7,95.2 512.6,95.2 513.5,95.2 514.4,95.2 515.4,95.2 516.3,95.2 517.2,95.2 518.1,95.2 519.1,95.3 520.0,95.3 520.9,95.3 521.8,95.3 522.8,95.3 523.7,95.3 524.6,95.3 525.5,95.3 526.5,95.3 527.4,95.3 528.3,95.3 529.2,95.3 530.2,95.3 531.1,95.3 532.0,95.3" fill="none" stroke="#cc2424" stroke-width="0.9" stroke-dasharray="1.2,1.3" stroke-linejoin="round"/>
<text x="447.6" y="96.2" font-size="6.0" font-weight="bold" text-anchor="start" fill="#222" stroke="#222" stroke-width="0.28" >0</text>
<rect x="92" y="141.6" width="78.4" height="77.20000000000002" fill="#fff"/>
<polygon points="92.2,218.8 92.2,182.5 92.7,182.6 93.3,181.3 93.8,180.2 95.4,179.5 95.9,178.6 96.5,177.6 97.0,176.6 97.8,176.7 98.6,175.9 99.4,174.3 100.2,173.9 101.0,173.5 101.8,172.4 103.3,171.8 104.1,171.1 104.9,169.3 105.4,169.0 106.0,168.3 106.5,167.5 108.1,169.1 108.6,168.4 109.2,170.1 109.7,170.5 110.0,171.4 110.3,172.9 110.7,173.9 111.0,175.0 111.3,175.3 111.6,176.5 111.9,177.6 112.3,178.4 112.6,179.5 112.9,180.5 113.1,181.2 113.3,181.7 113.4,183.1 113.6,183.9 113.8,184.9 114.0,186.1 114.1,186.9 114.3,187.6 114.5,187.9 114.7,188.9 114.9,191.1 115.0,190.7 115.2,191.5 115.4,192.3 115.6,194.4 115.7,194.7 115.9,195.4 116.1,197.2 116.3,197.2 116.5,198.6 116.7,199.3 116.9,200.7 117.1,201.3 117.3,202.8 117.5,202.9 117.7,204.3 117.9,204.9 118.2,206.3 118.4,206.2 118.6,207.5 118.8,209.5 119.1,209.0 119.3,210.4 119.6,211.3 119.9,213.2 120.3,214.0 120.6,215.0 120.9,215.2 121.4,216.3 122.0,217.2 122.5,218.0 122.5,218.8" fill="#8b8b8b"/>
<line x1="92" y1="141.6" x2="170.4" y2="141.6" stroke="#b4b4b4" stroke-width="1.6"/>
<line x1="92" y1="141.6" x2="92" y2="218.8" stroke="#b0b0b0" stroke-width="1.6"/>
<line x1="170.4" y1="141.6" x2="170.4" y2="218.8" stroke="#7a7a7a" stroke-width="1.3"/>
<line x1="92" y1="218.8" x2="170.4" y2="218.8" stroke="#7a7a7a" stroke-width="1.3"/>
<polyline points="92.2,217.9 92.5,217.0 92.8,215.8 93.2,215.2 93.5,214.4 93.8,213.3 94.1,212.2 94.4,211.4 94.8,211.1 95.1,209.2 95.4,208.5 95.6,208.5 95.9,206.1 96.1,205.8 96.4,204.6 96.6,204.1 96.8,204.8 97.1,203.5 97.3,201.4 97.6,200.1 97.8,200.0 98.0,198.1 98.1,198.3 98.3,197.0 98.5,196.3 98.7,195.6 98.8,195.0 99.0,192.9 99.2,191.4 99.3,191.2 99.5,190.7 99.7,189.8 99.9,187.9 100.0,187.0 100.2,187.0 100.4,186.1 100.6,185.2 100.8,185.0 101.0,182.3 101.2,182.1 101.3,181.4 101.5,180.5 101.7,179.7 101.9,177.9 102.1,177.4 102.3,176.0 102.5,175.3 102.8,174.2 103.2,173.8 103.5,172.9 103.9,171.2 104.2,170.7 104.6,169.5 104.9,169.5 105.5,168.3 106.1,167.7 106.7,167.0 107.3,166.3 107.8,167.2 108.4,168.1 108.9,168.7 109.4,169.5 110.0,169.8 110.5,171.3 111.0,170.8 111.6,172.3 112.1,172.5 112.4,172.7 112.7,171.2 113.1,171.2 113.4,169.2 113.7,168.7 114.2,168.0 114.8,166.4 115.0,167.6 115.1,169.3 115.3,169.9 115.4,170.2 115.6,171.1 115.8,171.6 115.9,172.8 116.1,173.9 116.3,175.7 116.4,175.9 116.6,176.8 116.7,177.5 116.9,178.8 117.1,180.4 117.2,181.5 117.4,181.8 117.5,183.8 117.7,183.0 117.8,184.3 117.9,185.0 118.0,185.9 118.2,187.3 118.3,189.4 118.4,189.1 118.5,189.6 118.6,191.0 118.7,191.0 118.8,192.6 119.0,193.6 119.1,194.0 119.2,195.4 119.3,196.8 119.5,198.0 119.7,197.6 119.9,199.3 120.1,200.1 120.3,200.8 120.5,202.7 120.7,202.0 120.9,204.9 121.1,204.4 121.3,205.3 121.5,207.3 121.7,207.1 122.0,208.0 122.4,210.2 122.7,210.0 123.1,211.9 123.4,212.2 123.8,212.9 124.1,214.6 124.7,214.0 125.4,215.0 126.0,216.3 126.7,217.1 127.3,217.9" fill="none" stroke="#505050" stroke-width="1.0" stroke-linejoin="round"/>
<polyline points="92.2,217.9 92.5,217.0 92.8,215.8 93.2,215.2 93.5,214.4 93.8,213.3 94.1,212.2 94.4,211.4 94.8,211.1 95.1,209.2 95.4,208.5 95.6,208.5 95.9,206.1 96.1,205.8 96.4,204.6 96.6,204.1 96.8,204.8 97.1,203.5 97.3,201.4 97.6,200.1 97.8,200.0 98.0,198.1 98.1,198.3 98.3,197.0 98.5,196.3 98.7,195.6 98.8,195.0 99.0,192.9 99.2,191.4 99.3,191.2 99.5,190.7 99.7,189.8 99.9,187.9 100.0,187.0 100.2,187.0 100.4,186.1 100.6,185.2 100.8,185.0 101.0,182.3 101.2,182.1 101.3,181.4 101.5,180.5 101.7,179.7 101.9,177.9 102.1,177.4 102.3,176.0 102.5,175.3 102.8,174.2 103.2,173.8 103.5,172.9 103.9,171.2 104.2,170.7 104.6,169.5 104.9,169.5 105.5,168.3 106.1,167.7 106.7,167.0 107.3,166.3 107.8,167.2 108.4,168.1 108.9,168.7 109.4,169.5 110.0,169.8 110.5,171.3 111.0,170.8 111.6,172.3 112.1,172.5 112.4,172.7 112.7,171.2 113.1,171.2 113.4,169.2 113.7,168.7 114.2,168.0 114.8,166.4 115.0,167.6 115.1,169.3 115.3,169.9 115.4,170.2 115.6,171.1 115.8,171.6 115.9,172.8 116.1,173.9 116.3,175.7 116.4,175.9 116.6,176.8 116.7,177.5 116.9,178.8 117.1,180.4 117.2,181.5 117.4,181.8 117.5,183.8 117.7,183.0 117.8,184.3 117.9,185.0 118.0,185.9 118.2,187.3 118.3,189.4 118.4,189.1 118.5,189.6 118.6,191.0 118.7,191.0 118.8,192.6 119.0,193.6 119.1,194.0 119.2,195.4 119.3,196.8 119.5,198.0 119.7,197.6 119.9,199.3 120.1,200.1 120.3,200.8 120.5,202.7 120.7,202.0 120.9,204.9 121.1,204.4 121.3,205.3 121.5,207.3 121.7,207.1 122.0,208.0 122.4,210.2 122.7,210.0 123.1,211.9 123.4,212.2 123.8,212.9 124.1,214.6 124.7,214.0 125.4,215.0 126.0,216.3 126.7,217.1 127.3,217.9" fill="none" stroke="#262626" stroke-width="0.9" stroke-dasharray="1.2,1.3" stroke-linejoin="round"/>
<polyline points="92.2,218.2 93.1,218.1 94.0,218.0 94.9,218.0 95.8,217.9 96.7,217.8 97.6,217.7 98.6,217.6 99.5,217.6 100.4,217.5 101.3,217.4 102.2,217.3 103.1,217.3 104.0,217.2 104.9,217.1 105.8,216.9 106.7,216.7 107.6,216.6 108.5,216.4 109.3,216.7 110.2,216.8 111.1,215.9 112.0,216.8 112.9,216.0 113.9,214.8 114.8,214.3 115.8,214.1 116.7,213.5 117.7,213.2 118.2,213.2 118.8,212.3 119.3,210.5 119.8,209.9 120.4,209.9 120.9,208.8 121.1,207.7 121.3,207.7 121.5,206.7 121.7,205.3 121.9,203.8 122.1,204.1 122.3,203.5 122.5,201.3 122.7,201.7 122.9,200.9 123.1,199.1 123.3,198.5 123.4,196.8 123.5,196.8 123.7,195.1 123.8,193.9 123.9,192.5 124.0,192.8 124.2,191.7 124.3,191.7 124.4,190.4 124.5,188.7 124.7,188.5 124.8,187.1 124.9,187.3 125.0,185.5 125.2,184.7 125.3,183.3 125.4,182.6 125.6,182.0 125.7,180.6 125.9,179.6 126.0,179.2 126.2,178.2 126.3,176.2 126.4,176.3 126.6,175.9 126.7,173.8 126.9,173.2 127.0,174.3 127.2,172.2 127.3,170.7 127.4,170.2 127.5,167.5 127.7,168.2 127.8,166.9 127.9,165.9 128.1,165.1 128.2,164.0 128.3,163.4 128.4,162.2 128.6,161.7 128.7,160.4 128.8,159.2 129.0,160.0 129.3,157.8 129.5,157.9 129.7,156.8 129.9,155.5 130.2,153.9 130.4,153.3 130.6,154.2 130.8,155.0 130.9,155.9 131.1,157.3 131.3,157.4 131.5,159.6 131.6,158.5 131.8,159.8 132.0,160.4 132.1,163.2 132.2,163.3 132.3,165.0 132.3,165.8 132.4,165.6 132.5,166.8 132.6,167.9 132.7,167.9 132.8,169.9 132.8,170.9 132.9,171.4 133.0,172.1 133.1,173.7 133.2,174.3 133.3,175.2 133.3,176.0 133.4,177.1 133.5,177.9 133.6,177.8 133.7,179.6 133.8,180.5 133.9,181.2 134.1,182.8 134.2,183.2 134.3,184.7 134.4,185.3 134.5,186.2 134.6,186.7 134.7,187.5 134.9,188.2 135.0,190.7 135.1,190.1 135.2,191.5 135.4,192.6 135.6,193.9 135.7,193.3 135.9,195.9 136.1,196.6 136.3,196.6 136.4,198.1 136.6,199.0 136.8,199.6 137.3,199.9 137.9,201.4 138.4,203.8 139.2,203.5 140.0,204.1 140.8,205.4 141.6,205.3 142.1,206.7 142.7,208.1 143.2,208.5 143.7,209.9 144.3,211.0 144.8,212.3 145.3,212.8 145.8,214.5 146.2,214.1 146.7,216.2 147.2,216.3 148.2,216.8 149.2,217.2 150.2,217.7 151.2,218.2" fill="none" stroke="#5050d8" stroke-width="1.0" stroke-linejoin="round"/>
<polyline points="92.2,218.2 93.1,218.1 94.0,218.0 94.9,218.0 95.8,217.9 96.7,217.8 97.6,217.7 98.6,217.6 99.5,217.6 100.4,217.5 101.3,217.4 102.2,217.3 103.1,217.3 104.0,217.2 104.9,217.1 105.8,216.9 106.7,216.7 107.6,216.6 108.5,216.4 109.3,216.7 110.2,216.8 111.1,215.9 112.0,216.8 112.9,216.0 113.9,214.8 114.8,214.3 115.8,214.1 116.7,213.5 117.7,213.2 118.2,213.2 118.8,212.3 119.3,210.5 119.8,209.9 120.4,209.9 120.9,208.8 121.1,207.7 121.3,207.7 121.5,206.7 121.7,205.3 121.9,203.8 122.1,204.1 122.3,203.5 122.5,201.3 122.7,201.7 122.9,200.9 123.1,199.1 123.3,198.5 123.4,196.8 123.5,196.8 123.7,195.1 123.8,193.9 123.9,192.5 124.0,192.8 124.2,191.7 124.3,191.7 124.4,190.4 124.5,188.7 124.7,188.5 124.8,187.1 124.9,187.3 125.0,185.5 125.2,184.7 125.3,183.3 125.4,182.6 125.6,182.0 125.7,180.6 125.9,179.6 126.0,179.2 126.2,178.2 126.3,176.2 126.4,176.3 126.6,175.9 126.7,173.8 126.9,173.2 127.0,174.3 127.2,172.2 127.3,170.7 127.4,170.2 127.5,167.5 127.7,168.2 127.8,166.9 127.9,165.9 128.1,165.1 128.2,164.0 128.3,163.4 128.4,162.2 128.6,161.7 128.7,160.4 128.8,159.2 129.0,160.0 129.3,157.8 129.5,157.9 129.7,156.8 129.9,155.5 130.2,153.9 130.4,153.3 130.6,154.2 130.8,155.0 130.9,155.9 131.1,157.3 131.3,157.4 131.5,159.6 131.6,158.5 131.8,159.8 132.0,160.4 132.1,163.2 132.2,163.3 132.3,165.0 132.3,165.8 132.4,165.6 132.5,166.8 132.6,167.9 132.7,167.9 132.8,169.9 132.8,170.9 132.9,171.4 133.0,172.1 133.1,173.7 133.2,174.3 133.3,175.2 133.3,176.0 133.4,177.1 133.5,177.9 133.6,177.8 133.7,179.6 133.8,180.5 133.9,181.2 134.1,182.8 134.2,183.2 134.3,184.7 134.4,185.3 134.5,186.2 134.6,186.7 134.7,187.5 134.9,188.2 135.0,190.7 135.1,190.1 135.2,191.5 135.4,192.6 135.6,193.9 135.7,193.3 135.9,195.9 136.1,196.6 136.3,196.6 136.4,198.1 136.6,199.0 136.8,199.6 137.3,199.9 137.9,201.4 138.4,203.8 139.2,203.5 140.0,204.1 140.8,205.4 141.6,205.3 142.1,206.7 142.7,208.1 143.2,208.5 143.7,209.9 144.3,211.0 144.8,212.3 145.3,212.8 145.8,214.5 146.2,214.1 146.7,216.2 147.2,216.3 148.2,216.8 149.2,217.2 150.2,217.7 151.2,218.2" fill="none" stroke="#2424b8" stroke-width="0.9" stroke-dasharray="1.2,1.3" stroke-linejoin="round"/>
<polyline points="92.2,217.9 93.2,217.8 94.1,217.7 95.1,217.7 96.0,217.6 97.0,217.5 98.0,217.4 98.9,217.3 99.9,217.3 100.8,217.2 101.8,217.1 102.7,216.9 103.6,216.6 104.5,216.4 105.4,216.2 106.3,216.3 107.2,215.8 108.1,215.1 108.9,214.6 109.7,214.5 110.5,215.4 111.3,213.5 112.1,213.3 112.9,212.5 113.4,211.2 113.9,209.7 114.3,209.2 114.8,208.0 115.3,207.3 115.6,206.0 115.9,206.0 116.3,205.7 116.6,202.9 116.9,202.4 117.4,201.6 118.0,199.4 118.5,200.2 118.7,199.1 118.9,198.0 119.0,197.6 119.2,195.2 119.4,194.5 119.6,194.8 119.7,193.0 119.9,192.7 120.1,191.5 120.3,190.8 120.4,190.4 120.6,188.5 120.7,186.5 120.9,186.7 121.1,186.1 121.2,185.5 121.4,185.5 121.5,183.2 121.7,181.2 121.9,180.7 122.2,180.4 122.4,178.9 122.6,178.8 122.8,177.8 123.1,176.1 123.3,175.9 123.5,174.9 123.7,174.1 123.9,173.1 124.1,173.2 124.3,170.3 124.5,169.2 124.7,168.1 124.9,167.9 125.1,166.6 125.3,166.2 125.5,165.2 125.7,164.0 125.8,162.3 126.0,163.5 126.2,160.7 126.4,160.8 126.6,159.2 126.8,159.9 126.9,157.7 127.1,156.9 127.3,155.4 127.5,156.2 127.8,157.6 128.1,157.2 128.3,159.0 128.6,160.8 128.8,161.4 128.9,162.2 129.0,163.2 129.1,163.3 129.2,164.7 129.3,165.4 129.4,166.2 129.5,167.1 129.6,168.4 129.7,168.8 129.8,170.6 129.9,171.3 130.0,171.6 130.1,173.0 130.2,174.2 130.3,174.0 130.4,175.4 130.5,177.4 130.6,177.6 130.7,179.4 130.9,179.0 131.0,180.3 131.1,180.4 131.2,181.9 131.3,183.4 131.4,183.9 131.5,184.7 131.7,185.3 131.8,186.9 131.9,187.5 132.0,188.8 132.3,189.9 132.5,190.7 132.8,191.6 133.1,191.9 133.3,192.6 133.6,193.7 134.8,192.7 136.0,193.9 136.3,193.4 136.6,194.5 137.0,195.9 137.3,198.2 137.6,198.1 138.1,196.4 138.7,195.5 139.2,194.2 139.5,193.6 139.8,191.8 140.2,192.8 140.5,190.9 140.8,190.3 141.6,190.3 142.4,192.1 142.5,192.3 142.7,193.7 142.8,194.6 142.9,195.1 143.1,196.5 143.2,196.5 143.3,197.7 143.5,198.3 143.6,199.9 143.7,201.1 143.9,201.5 144.0,202.9 144.2,203.5 144.5,204.8 144.7,205.7 145.0,206.6 145.2,207.7 145.4,208.0 145.7,208.2 145.9,211.6 146.2,210.4 146.4,212.7 146.9,212.5 147.5,214.0 148.0,214.3 148.5,214.0 149.1,216.3 149.6,217.1 150.7,217.5 151.7,217.8 152.8,218.2 153.7,218.2 154.6,218.2 155.5,218.2 156.4,218.2 157.3,218.2 158.2,218.2 159.1,218.2 160.0,218.2 160.9,218.2 161.9,218.3 162.8,218.3 163.7,218.3 164.6,218.3 165.5,218.3 166.4,218.3 167.3,218.3 168.2,218.3 169.1,218.3 170.0,218.3" fill="none" stroke="#e05a5a" stroke-width="1.0" stroke-linejoin="round"/>
<polyline points="92.2,217.9 93.2,217.8 94.1,217.7 95.1,217.7 96.0,217.6 97.0,217.5 98.0,217.4 98.9,217.3 99.9,217.3 100.8,217.2 101.8,217.1 102.7,216.9 103.6,216.6 104.5,216.4 105.4,216.2 106.3,216.3 107.2,215.8 108.1,215.1 108.9,214.6 109.7,214.5 110.5,215.4 111.3,213.5 112.1,213.3 112.9,212.5 113.4,211.2 113.9,209.7 114.3,209.2 114.8,208.0 115.3,207.3 115.6,206.0 115.9,206.0 116.3,205.7 116.6,202.9 116.9,202.4 117.4,201.6 118.0,199.4 118.5,200.2 118.7,199.1 118.9,198.0 119.0,197.6 119.2,195.2 119.4,194.5 119.6,194.8 119.7,193.0 119.9,192.7 120.1,191.5 120.3,190.8 120.4,190.4 120.6,188.5 120.7,186.5 120.9,186.7 121.1,186.1 121.2,185.5 121.4,185.5 121.5,183.2 121.7,181.2 121.9,180.7 122.2,180.4 122.4,178.9 122.6,178.8 122.8,177.8 123.1,176.1 123.3,175.9 123.5,174.9 123.7,174.1 123.9,173.1 124.1,173.2 124.3,170.3 124.5,169.2 124.7,168.1 124.9,167.9 125.1,166.6 125.3,166.2 125.5,165.2 125.7,164.0 125.8,162.3 126.0,163.5 126.2,160.7 126.4,160.8 126.6,159.2 126.8,159.9 126.9,157.7 127.1,156.9 127.3,155.4 127.5,156.2 127.8,157.6 128.1,157.2 128.3,159.0 128.6,160.8 128.8,161.4 128.9,162.2 129.0,163.2 129.1,163.3 129.2,164.7 129.3,165.4 129.4,166.2 129.5,167.1 129.6,168.4 129.7,168.8 129.8,170.6 129.9,171.3 130.0,171.6 130.1,173.0 130.2,174.2 130.3,174.0 130.4,175.4 130.5,177.4 130.6,177.6 130.7,179.4 130.9,179.0 131.0,180.3 131.1,180.4 131.2,181.9 131.3,183.4 131.4,183.9 131.5,184.7 131.7,185.3 131.8,186.9 131.9,187.5 132.0,188.8 132.3,189.9 132.5,190.7 132.8,191.6 133.1,191.9 133.3,192.6 133.6,193.7 134.8,192.7 136.0,193.9 136.3,193.4 136.6,194.5 137.0,195.9 137.3,198.2 137.6,198.1 138.1,196.4 138.7,195.5 139.2,194.2 139.5,193.6 139.8,191.8 140.2,192.8 140.5,190.9 140.8,190.3 141.6,190.3 142.4,192.1 142.5,192.3 142.7,193.7 142.8,194.6 142.9,195.1 143.1,196.5 143.2,196.5 143.3,197.7 143.5,198.3 143.6,199.9 143.7,201.1 143.9,201.5 144.0,202.9 144.2,203.5 144.5,204.8 144.7,205.7 145.0,206.6 145.2,207.7 145.4,208.0 145.7,208.2 145.9,211.6 146.2,210.4 146.4,212.7 146.9,212.5 147.5,214.0 148.0,214.3 148.5,214.0 149.1,216.3 149.6,217.1 150.7,217.5 151.7,217.8 152.8,218.2 153.7,218.2 154.6,218.2 155.5,218.2 156.4,218.2 157.3,218.2 158.2,218.2 159.1,218.2 160.0,218.2 160.9,218.2 161.9,218.3 162.8,218.3 163.7,218.3 164.6,218.3 165.5,218.3 166.4,218.3 167.3,218.3 168.2,218.3 169.1,218.3 170.0,218.3" fill="none" stroke="#cc2424" stroke-width="0.9" stroke-dasharray="1.2,1.3" stroke-linejoin="round"/>
<text x="85.3" y="219.20000000000002" font-size="6.0" font-weight="bold" text-anchor="start" fill="#222" stroke="#222" stroke-width="0.28" >0</text>
<rect x="182.5" y="141.6" width="78.0" height="77.20000000000002" fill="#fff"/>
<polygon points="182.7,218.8 182.7,205.7 182.8,204.7 182.9,204.7 183.0,203.2 183.0,201.9 183.1,201.3 183.2,199.8 183.3,199.5 183.4,198.2 183.5,196.9 183.6,196.8 183.7,195.2 183.7,194.4 183.8,193.3 183.9,192.8 184.0,191.7 184.1,190.1 184.2,189.2 184.3,188.8 184.4,187.5 184.5,186.9 184.6,185.8 184.7,184.4 184.9,183.3 185.0,183.2 185.1,181.9 185.2,181.0 185.3,180.3 185.4,179.0 185.5,177.1 185.6,177.1 185.7,176.4 185.8,174.5 185.9,175.2 186.1,173.8 186.2,172.8 186.3,172.1 186.4,170.5 186.5,170.4 186.6,169.5 186.7,168.0 186.9,166.6 187.0,166.8 187.1,165.0 187.2,164.6 187.7,163.7 188.3,162.4 188.8,162.3 190.4,161.2 190.7,160.7 190.9,159.2 191.2,158.2 191.5,158.3 191.8,158.6 192.2,159.5 192.5,159.8 192.8,161.4 192.9,162.2 192.9,163.3 193.0,164.3 193.0,164.4 193.1,166.0 193.2,167.3 193.2,167.8 193.3,168.4 193.3,170.1 193.4,170.4 193.4,170.9 193.5,173.2 193.7,173.2 193.9,175.0 194.1,175.2 194.3,176.9 194.5,178.4 194.7,178.1 194.9,179.2 195.1,180.1 195.3,181.3 195.5,181.9 195.6,183.2 195.8,184.7 196.0,184.7 196.2,185.8 196.3,187.1 196.5,188.3 196.7,188.5 196.9,189.1 197.2,190.2 197.4,191.7 197.6,191.8 197.8,193.0 198.1,194.2 198.3,194.5 198.5,195.6 198.7,197.2 198.8,196.7 199.0,198.8 199.2,198.9 199.4,200.3 199.5,200.8 199.7,201.9 199.9,202.4 200.1,203.6 200.4,204.8 200.6,205.1 200.8,206.1 201.0,207.1 201.3,207.9 201.5,209.0 201.8,210.3 202.1,211.3 202.5,211.5 202.8,213.3 203.1,214.3 203.9,215.1 204.7,214.9 205.5,215.8 206.6,216.6 207.6,216.6 208.7,217.1 209.8,217.4 210.8,217.6 211.9,217.9 212.9,218.0 213.8,218.1 214.8,218.2 215.7,218.3 216.7,218.4 216.7,218.8" fill="#8b8b8b"/>
<line x1="182.5" y1="141.6" x2="260.5" y2="141.6" stroke="#b4b4b4" stroke-width="1.6"/>
<line x1="182.5" y1="141.6" x2="182.5" y2="218.8" stroke="#b0b0b0" stroke-width="1.6"/>
<line x1="260.5" y1="141.6" x2="260.5" y2="218.8" stroke="#7a7a7a" stroke-width="1.3"/>
<line x1="182.5" y1="218.8" x2="260.5" y2="218.8" stroke="#7a7a7a" stroke-width="1.3"/>
<polyline points="182.4,212.1 183.2,211.6 184.0,211.0 184.8,211.3 185.1,209.7 185.3,209.4 185.6,208.0 185.9,206.4 186.1,206.7 186.4,205.4 186.7,204.8 186.9,203.5 187.2,202.9 187.4,201.1 187.5,201.7 187.7,200.4 187.8,199.2 188.0,198.4 188.2,196.4 188.3,196.5 188.5,193.9 188.6,194.8 188.8,192.9 189.0,192.0 189.3,192.1 189.5,190.7 189.7,189.2 189.9,188.0 190.2,187.7 190.4,186.9 190.6,186.4 190.7,184.0 190.9,182.9 191.0,182.9 191.2,181.4 191.4,181.4 191.5,180.7 191.7,179.1 191.8,177.8 192.0,177.9 192.2,175.9 192.3,176.2 192.5,175.0 192.7,173.6 192.8,173.3 193.0,172.3 193.2,170.9 193.3,170.6 193.5,169.6 193.7,168.9 194.0,167.9 194.2,166.7 194.4,166.5 194.6,163.8 194.9,163.8 195.1,162.8 195.9,162.7 196.7,160.9 197.2,160.3 197.8,159.5 198.3,158.0 198.7,160.3 199.1,160.1 199.5,161.1 199.9,161.8 200.3,162.6 200.7,164.6 201.1,164.9 201.5,165.4 201.7,166.2 201.8,167.5 202.0,169.5 202.1,170.0 202.3,171.1 202.5,172.2 202.6,172.2 202.8,174.1 202.9,174.4 203.1,175.7 203.3,175.7 203.4,177.3 203.6,178.4 203.7,180.2 203.9,181.0 204.1,180.7 204.2,182.2 204.4,183.0 204.5,184.9 204.7,186.2 204.9,186.8 205.0,187.1 205.2,188.3 205.3,189.1 205.5,189.1 205.7,191.2 205.8,192.1 206.0,193.0 206.1,194.1 206.3,194.9 206.5,196.4 206.8,196.2 207.0,197.5 207.2,199.3 207.4,199.0 207.7,200.4 207.9,200.2 208.2,202.2 208.5,203.2 208.9,203.6 209.2,205.2 209.5,205.9 209.8,208.2 210.2,207.9 210.5,208.4 210.9,209.7 211.2,210.1 211.6,211.5 211.9,212.1 212.5,213.2 213.2,213.8 213.8,214.4 214.5,215.3 215.1,216.3 216.0,216.6 217.0,216.9 217.9,217.3 218.9,217.6 219.8,217.9 220.8,218.0 221.7,218.1 222.7,218.2 223.6,218.3 224.6,218.4" fill="none" stroke="#505050" stroke-width="1.0" stroke-linejoin="round"/>
<polyline points="182.4,212.1 183.2,211.6 184.0,211.0 184.8,211.3 185.1,209.7 185.3,209.4 185.6,208.0 185.9,206.4 186.1,206.7 186.4,205.4 186.7,204.8 186.9,203.5 187.2,202.9 187.4,201.1 187.5,201.7 187.7,200.4 187.8,199.2 188.0,198.4 188.2,196.4 188.3,196.5 188.5,193.9 188.6,194.8 188.8,192.9 189.0,192.0 189.3,192.1 189.5,190.7 189.7,189.2 189.9,188.0 190.2,187.7 190.4,186.9 190.6,186.4 190.7,184.0 190.9,182.9 191.0,182.9 191.2,181.4 191.4,181.4 191.5,180.7 191.7,179.1 191.8,177.8 192.0,177.9 192.2,175.9 192.3,176.2 192.5,175.0 192.7,173.6 192.8,173.3 193.0,172.3 193.2,170.9 193.3,170.6 193.5,169.6 193.7,168.9 194.0,167.9 194.2,166.7 194.4,166.5 194.6,163.8 194.9,163.8 195.1,162.8 195.9,162.7 196.7,160.9 197.2,160.3 197.8,159.5 198.3,158.0 198.7,160.3 199.1,160.1 199.5,161.1 199.9,161.8 200.3,162.6 200.7,164.6 201.1,164.9 201.5,165.4 201.7,166.2 201.8,167.5 202.0,169.5 202.1,170.0 202.3,171.1 202.5,172.2 202.6,172.2 202.8,174.1 202.9,174.4 203.1,175.7 203.3,175.7 203.4,177.3 203.6,178.4 203.7,180.2 203.9,181.0 204.1,180.7 204.2,182.2 204.4,183.0 204.5,184.9 204.7,186.2 204.9,186.8 205.0,187.1 205.2,188.3 205.3,189.1 205.5,189.1 205.7,191.2 205.8,192.1 206.0,193.0 206.1,194.1 206.3,194.9 206.5,196.4 206.8,196.2 207.0,197.5 207.2,199.3 207.4,199.0 207.7,200.4 207.9,200.2 208.2,202.2 208.5,203.2 208.9,203.6 209.2,205.2 209.5,205.9 209.8,208.2 210.2,207.9 210.5,208.4 210.9,209.7 211.2,210.1 211.6,211.5 211.9,212.1 212.5,213.2 213.2,213.8 213.8,214.4 214.5,215.3 215.1,216.3 216.0,216.6 217.0,216.9 217.9,217.3 218.9,217.6 219.8,217.9 220.8,218.0 221.7,218.1 222.7,218.2 223.6,218.3 224.6,218.4" fill="none" stroke="#262626" stroke-width="0.9" stroke-dasharray="1.2,1.3" stroke-linejoin="round"/>
<polyline points="182.4,218.4 183.3,218.3 184.2,218.3 185.1,218.2 186.0,218.2 186.9,218.1 187.8,218.0 188.7,218.0 189.6,217.9 190.5,217.6 191.5,217.3 192.4,216.9 193.4,216.6 194.3,216.3 195.3,215.8 196.2,215.9 197.2,216.0 198.1,216.1 199.1,215.6 200.2,214.2 201.2,213.6 202.3,214.1 202.9,214.1 203.5,211.6 204.1,211.4 204.7,210.8 205.0,209.4 205.3,208.9 205.7,207.4 206.0,207.4 206.3,205.9 207.1,206.0 207.9,205.7 208.7,204.4 209.5,205.9 209.7,205.5 209.9,204.9 210.1,203.9 210.3,201.8 210.5,200.1 210.7,199.5 210.9,199.3 211.1,198.8 211.3,196.9 211.5,196.3 211.6,195.5 211.8,194.0 212.0,193.0 212.2,192.6 212.3,190.9 212.5,191.8 212.7,189.0 212.9,187.7 213.0,187.9 213.2,187.7 213.3,186.1 213.5,185.3 213.7,184.5 213.8,183.5 214.0,182.4 214.1,181.6 214.3,180.0 214.5,179.0 214.6,179.1 214.8,178.5 214.9,176.7 215.1,174.8 215.3,174.4 215.4,173.6 215.6,172.7 215.7,170.9 215.9,170.5 216.4,170.1 217.0,168.9 217.5,166.9 217.8,167.1 218.1,166.4 218.4,164.7 218.7,164.1 219.0,162.7 219.5,163.3 220.1,164.5 220.6,167.3 220.8,166.9 221.0,167.1 221.1,168.6 221.3,169.5 221.5,170.9 221.7,171.6 221.8,171.7 222.0,172.6 222.2,173.5 222.4,175.6 222.7,177.1 222.9,178.4 223.1,178.2 223.3,178.6 223.6,179.7 223.8,180.5 224.3,181.4 224.9,182.4 225.4,183.7 225.9,183.7 226.5,185.0 227.0,187.3 227.2,186.7 227.5,188.7 227.7,189.4 227.9,191.6 228.1,191.3 228.4,192.9 228.6,192.4 228.9,193.6 229.2,195.4 229.6,195.9 229.9,198.0 230.2,198.4 231.8,197.9 233.4,199.8 233.6,200.3 233.9,201.4 234.1,202.6 234.3,203.1 234.5,203.8 234.8,204.5 235.0,206.2 235.2,206.6 235.5,207.6 235.7,209.0 235.9,209.4 236.1,210.7 236.4,211.7 236.6,211.9 236.9,212.9 237.3,214.8 237.6,214.6 238.0,216.8 238.3,217.2 238.7,218.2" fill="none" stroke="#5050d8" stroke-width="1.0" stroke-linejoin="round"/>
<polyline points="182.4,218.4 183.3,218.3 184.2,218.3 185.1,218.2 186.0,218.2 186.9,218.1 187.8,218.0 188.7,218.0 189.6,217.9 190.5,217.6 191.5,217.3 192.4,216.9 193.4,216.6 194.3,216.3 195.3,215.8 196.2,215.9 197.2,216.0 198.1,216.1 199.1,215.6 200.2,214.2 201.2,213.6 202.3,214.1 202.9,214.1 203.5,211.6 204.1,211.4 204.7,210.8 205.0,209.4 205.3,208.9 205.7,207.4 206.0,207.4 206.3,205.9 207.1,206.0 207.9,205.7 208.7,204.4 209.5,205.9 209.7,205.5 209.9,204.9 210.1,203.9 210.3,201.8 210.5,200.1 210.7,199.5 210.9,199.3 211.1,198.8 211.3,196.9 211.5,196.3 211.6,195.5 211.8,194.0 212.0,193.0 212.2,192.6 212.3,190.9 212.5,191.8 212.7,189.0 212.9,187.7 213.0,187.9 213.2,187.7 213.3,186.1 213.5,185.3 213.7,184.5 213.8,183.5 214.0,182.4 214.1,181.6 214.3,180.0 214.5,179.0 214.6,179.1 214.8,178.5 214.9,176.7 215.1,174.8 215.3,174.4 215.4,173.6 215.6,172.7 215.7,170.9 215.9,170.5 216.4,170.1 217.0,168.9 217.5,166.9 217.8,167.1 218.1,166.4 218.4,164.7 218.7,164.1 219.0,162.7 219.5,163.3 220.1,164.5 220.6,167.3 220.8,166.9 221.0,167.1 221.1,168.6 221.3,169.5 221.5,170.9 221.7,171.6 221.8,171.7 222.0,172.6 222.2,173.5 222.4,175.6 222.7,177.1 222.9,178.4 223.1,178.2 223.3,178.6 223.6,179.7 223.8,180.5 224.3,181.4 224.9,182.4 225.4,183.7 225.9,183.7 226.5,185.0 227.0,187.3 227.2,186.7 227.5,188.7 227.7,189.4 227.9,191.6 228.1,191.3 228.4,192.9 228.6,192.4 228.9,193.6 229.2,195.4 229.6,195.9 229.9,198.0 230.2,198.4 231.8,197.9 233.4,199.8 233.6,200.3 233.9,201.4 234.1,202.6 234.3,203.1 234.5,203.8 234.8,204.5 235.0,206.2 235.2,206.6 235.5,207.6 235.7,209.0 235.9,209.4 236.1,210.7 236.4,211.7 236.6,211.9 236.9,212.9 237.3,214.8 237.6,214.6 238.0,216.8 238.3,217.2 238.7,218.2" fill="none" stroke="#2424b8" stroke-width="0.9" stroke-dasharray="1.2,1.3" stroke-linejoin="round"/>
<polyline points="182.4,218.2 183.3,218.1 184.2,217.9 185.1,217.8 186.0,217.6 186.9,217.5 187.8,217.4 188.7,217.2 189.6,217.1 190.2,216.5 190.9,216.1 191.5,214.9 192.2,214.8 192.8,214.0 193.3,212.8 193.7,212.5 194.2,210.5 194.6,210.9 195.1,208.8 195.6,207.8 196.2,207.9 196.7,206.4 197.2,206.9 197.8,208.7 198.3,208.9 199.5,209.5 200.7,209.5 201.3,208.3 201.9,208.5 202.5,207.1 203.1,206.3 203.6,204.4 204.1,204.6 204.5,203.1 205.0,202.8 205.5,201.3 205.8,200.8 206.2,198.4 206.5,199.2 206.9,198.2 207.2,196.4 207.6,195.9 207.9,195.6 208.1,194.2 208.3,192.5 208.4,192.4 208.6,191.3 208.8,190.6 209.0,190.8 209.1,188.5 209.3,187.4 209.5,186.2 209.7,185.7 209.9,185.0 210.0,184.4 210.2,184.1 210.4,183.3 210.6,182.3 210.7,180.3 210.9,179.0 211.1,178.4 211.2,176.8 211.4,177.0 211.5,176.2 211.6,174.1 211.8,173.2 211.9,173.2 212.0,172.7 212.2,171.2 212.3,170.5 212.4,168.8 212.6,169.9 212.7,167.1 212.8,166.8 213.0,165.7 213.1,165.3 213.2,164.5 213.4,163.5 213.5,161.7 213.7,161.5 213.8,160.2 214.9,160.6 215.9,159.0 216.7,159.7 217.5,160.2 218.3,160.5 218.8,162.7 219.3,163.6 219.8,164.8 220.0,166.4 220.3,165.5 220.5,167.4 220.7,168.2 220.9,169.8 221.2,170.5 221.4,170.2 221.6,171.7 221.8,173.6 222.0,174.3 222.2,175.0 222.4,176.0 222.6,176.3 222.8,176.8 223.0,178.5 223.5,180.1 224.1,181.1 224.6,181.4 226.2,183.2 226.6,184.4 227.0,184.5 227.4,185.9 227.8,187.2 228.3,188.1 228.9,189.5 229.4,189.3 230.2,190.9 231.0,191.7 231.5,192.9 232.1,193.2 232.6,195.1 232.8,194.3 233.0,196.9 233.1,197.8 233.3,197.8 233.5,198.9 233.7,200.5 233.8,201.1 234.0,202.2 234.2,202.6 234.4,203.9 234.6,204.9 234.8,205.2 235.0,207.4 235.2,208.5 235.4,208.7 235.6,210.6 235.8,209.7 236.1,212.4 236.3,211.8 236.6,213.2 236.9,213.1 237.2,216.1 237.4,215.8 237.7,217.1 238.8,217.6 239.8,218.2 240.7,218.2 241.6,218.2 242.6,218.2 243.5,218.2 244.4,218.2 245.3,218.2 246.2,218.2 247.1,218.2 248.1,218.2 249.0,218.2 249.9,218.2 250.8,218.3 251.7,218.3 252.7,218.3 253.6,218.3 254.5,218.3 255.4,218.3 256.3,218.3 257.2,218.3 258.2,218.3 259.1,218.3 260.0,218.3" fill="none" stroke="#e05a5a" stroke-width="1.0" stroke-linejoin="round"/>
<polyline points="182.4,218.2 183.3,218.1 184.2,217.9 185.1,217.8 186.0,217.6 186.9,217.5 187.8,217.4 188.7,217.2 189.6,217.1 190.2,216.5 190.9,216.1 191.5,214.9 192.2,214.8 192.8,214.0 193.3,212.8 193.7,212.5 194.2,210.5 194.6,210.9 195.1,208.8 195.6,207.8 196.2,207.9 196.7,206.4 197.2,206.9 197.8,208.7 198.3,208.9 199.5,209.5 200.7,209.5 201.3,208.3 201.9,208.5 202.5,207.1 203.1,206.3 203.6,204.4 204.1,204.6 204.5,203.1 205.0,202.8 205.5,201.3 205.8,200.8 206.2,198.4 206.5,199.2 206.9,198.2 207.2,196.4 207.6,195.9 207.9,195.6 208.1,194.2 208.3,192.5 208.4,192.4 208.6,191.3 208.8,190.6 209.0,190.8 209.1,188.5 209.3,187.4 209.5,186.2 209.7,185.7 209.9,185.0 210.0,184.4 210.2,184.1 210.4,183.3 210.6,182.3 210.7,180.3 210.9,179.0 211.1,178.4 211.2,176.8 211.4,177.0 211.5,176.2 211.6,174.1 211.8,173.2 211.9,173.2 212.0,172.7 212.2,171.2 212.3,170.5 212.4,168.8 212.6,169.9 212.7,167.1 212.8,166.8 213.0,165.7 213.1,165.3 213.2,164.5 213.4,163.5 213.5,161.7 213.7,161.5 213.8,160.2 214.9,160.6 215.9,159.0 216.7,159.7 217.5,160.2 218.3,160.5 218.8,162.7 219.3,163.6 219.8,164.8 220.0,166.4 220.3,165.5 220.5,167.4 220.7,168.2 220.9,169.8 221.2,170.5 221.4,170.2 221.6,171.7 221.8,173.6 222.0,174.3 222.2,175.0 222.4,176.0 222.6,176.3 222.8,176.8 223.0,178.5 223.5,180.1 224.1,181.1 224.6,181.4 226.2,183.2 226.6,184.4 227.0,184.5 227.4,185.9 227.8,187.2 228.3,188.1 228.9,189.5 229.4,189.3 230.2,190.9 231.0,191.7 231.5,192.9 232.1,193.2 232.6,195.1 232.8,194.3 233.0,196.9 233.1,197.8 233.3,197.8 233.5,198.9 233.7,200.5 233.8,201.1 234.0,202.2 234.2,202.6 234.4,203.9 234.6,204.9 234.8,205.2 235.0,207.4 235.2,208.5 235.4,208.7 235.6,210.6 235.8,209.7 236.1,212.4 236.3,211.8 236.6,213.2 236.9,213.1 237.2,216.1 237.4,215.8 237.7,217.1 238.8,217.6 239.8,218.2 240.7,218.2 241.6,218.2 242.6,218.2 243.5,218.2 244.4,218.2 245.3,218.2 246.2,218.2 247.1,218.2 248.1,218.2 249.0,218.2 249.9,218.2 250.8,218.3 251.7,218.3 252.7,218.3 253.6,218.3 254.5,218.3 255.4,218.3 256.3,218.3 257.2,218.3 258.2,218.3 259.1,218.3 260.0,218.3" fill="none" stroke="#cc2424" stroke-width="0.9" stroke-dasharray="1.2,1.3" stroke-linejoin="round"/>
<text x="175.8" y="219.20000000000002" font-size="6.0" font-weight="bold" text-anchor="start" fill="#222" stroke="#222" stroke-width="0.28" >0</text>
<rect x="273.3" y="141.6" width="77.5" height="77.20000000000002" fill="#fff"/>
<polygon points="273.5,218.8 273.5,154.7 273.9,154.7 274.4,153.3 274.8,151.1 275.3,151.5 275.9,150.1 276.4,149.6 277.7,148.5 278.2,150.1 278.7,151.2 279.2,151.9 279.7,153.4 280.3,153.8 280.8,155.2 281.2,155.2 281.6,157.2 282.0,158.2 282.4,158.4 282.8,160.1 283.3,160.7 283.8,161.4 284.2,162.1 284.7,162.9 285.3,164.2 285.9,165.0 286.4,165.1 287.0,167.0 287.5,168.5 288.0,168.7 288.6,169.9 289.1,170.9 289.6,172.5 290.2,173.1 290.7,174.5 291.2,175.1 291.8,176.9 292.3,178.1 292.6,177.3 292.9,179.2 293.3,179.3 293.6,180.9 293.9,181.8 294.1,182.6 294.4,184.0 294.6,185.5 294.8,185.5 295.0,186.8 295.3,187.8 295.5,188.8 295.7,189.6 296.0,189.8 296.2,190.7 296.4,191.5 296.6,192.9 296.9,193.5 297.1,194.0 297.3,196.0 297.6,196.9 297.8,197.3 298.0,198.8 298.2,199.8 298.5,199.7 298.7,201.1 299.0,202.3 299.3,202.6 299.7,204.9 300.0,204.9 300.3,206.1 300.8,206.7 301.4,208.5 301.9,208.7 302.4,209.7 303.0,211.8 303.5,212.2 304.3,213.1 305.1,213.6 305.9,214.8 306.9,215.6 308.0,215.4 309.0,216.3 310.0,216.5 311.0,216.7 312.0,216.9 313.0,217.1 314.0,217.3 314.9,217.4 315.9,217.6 316.8,217.7 317.8,217.9 318.8,218.0 319.7,218.1 320.7,218.2 321.6,218.3 322.6,218.4 322.6,218.8" fill="#8b8b8b"/>
<line x1="273.3" y1="141.6" x2="350.8" y2="141.6" stroke="#b4b4b4" stroke-width="1.6"/>
<line x1="273.3" y1="141.6" x2="273.3" y2="218.8" stroke="#b0b0b0" stroke-width="1.6"/>
<line x1="350.8" y1="141.6" x2="350.8" y2="218.8" stroke="#7a7a7a" stroke-width="1.3"/>
<line x1="273.3" y1="218.8" x2="350.8" y2="218.8" stroke="#7a7a7a" stroke-width="1.3"/>
<polyline points="273.5,199.5 274.5,198.6 275.4,198.3 276.4,198.8 277.6,198.8 278.8,198.2 279.6,197.9 280.4,197.4 281.2,196.5 281.7,194.8 282.1,193.9 282.6,193.1 283.0,193.2 283.5,192.0 284.3,190.6 285.1,189.7 285.9,190.6 286.4,189.5 287.0,188.8 287.5,187.5 288.1,184.9 288.7,185.5 289.3,183.7 289.9,183.2 290.4,183.1 291.0,180.4 291.5,180.6 292.1,179.4 292.7,178.9 293.3,178.7 293.9,176.5 294.5,176.8 295.1,176.6 295.7,175.2 296.3,174.8 296.9,173.3 297.5,173.1 298.1,172.3 298.7,170.2 298.9,170.2 299.1,169.8 299.2,168.3 299.4,167.4 299.6,166.4 299.8,165.2 299.9,164.3 300.1,163.8 300.3,163.5 300.6,161.9 301.0,160.4 301.3,160.1 301.6,159.0 301.9,159.9 302.2,161.0 302.6,162.3 302.9,162.7 303.2,163.0 303.5,164.5 303.6,165.7 303.7,166.2 303.8,167.8 304.0,169.0 304.1,169.0 304.2,169.7 304.3,170.1 304.4,172.5 304.5,172.2 304.6,174.3 304.8,174.6 304.9,175.1 305.0,176.5 305.1,177.4 305.2,177.8 305.3,179.2 305.4,179.7 305.6,181.1 305.7,181.2 305.8,181.3 305.9,184.0 306.0,185.4 306.1,186.3 306.2,187.5 306.4,186.3 306.5,187.6 306.6,189.6 306.7,191.1 306.9,191.6 307.1,191.4 307.2,192.9 307.4,192.9 307.6,194.5 307.8,194.8 307.9,196.3 308.1,197.7 308.3,197.9 308.5,199.3 308.7,200.6 308.9,199.8 309.1,201.7 309.2,203.0 309.4,204.6 309.6,204.3 309.8,205.7 310.0,206.9 310.3,207.7 310.5,208.2 310.7,209.4 310.9,210.8 311.2,211.4 311.4,212.2 312.0,213.5 312.6,214.0 313.2,215.6 313.8,215.9 314.6,217.1 315.4,216.4 316.2,216.9 317.0,217.4 318.0,217.7 319.0,217.9 320.0,218.2 321.0,218.4" fill="none" stroke="#505050" stroke-width="1.0" stroke-linejoin="round"/>
<polyline points="273.5,199.5 274.5,198.6 275.4,198.3 276.4,198.8 277.6,198.8 278.8,198.2 279.6,197.9 280.4,197.4 281.2,196.5 281.7,194.8 282.1,193.9 282.6,193.1 283.0,193.2 283.5,192.0 284.3,190.6 285.1,189.7 285.9,190.6 286.4,189.5 287.0,188.8 287.5,187.5 288.1,184.9 288.7,185.5 289.3,183.7 289.9,183.2 290.4,183.1 291.0,180.4 291.5,180.6 292.1,179.4 292.7,178.9 293.3,178.7 293.9,176.5 294.5,176.8 295.1,176.6 295.7,175.2 296.3,174.8 296.9,173.3 297.5,173.1 298.1,172.3 298.7,170.2 298.9,170.2 299.1,169.8 299.2,168.3 299.4,167.4 299.6,166.4 299.8,165.2 299.9,164.3 300.1,163.8 300.3,163.5 300.6,161.9 301.0,160.4 301.3,160.1 301.6,159.0 301.9,159.9 302.2,161.0 302.6,162.3 302.9,162.7 303.2,163.0 303.5,164.5 303.6,165.7 303.7,166.2 303.8,167.8 304.0,169.0 304.1,169.0 304.2,169.7 304.3,170.1 304.4,172.5 304.5,172.2 304.6,174.3 304.8,174.6 304.9,175.1 305.0,176.5 305.1,177.4 305.2,177.8 305.3,179.2 305.4,179.7 305.6,181.1 305.7,181.2 305.8,181.3 305.9,184.0 306.0,185.4 306.1,186.3 306.2,187.5 306.4,186.3 306.5,187.6 306.6,189.6 306.7,191.1 306.9,191.6 307.1,191.4 307.2,192.9 307.4,192.9 307.6,194.5 307.8,194.8 307.9,196.3 308.1,197.7 308.3,197.9 308.5,199.3 308.7,200.6 308.9,199.8 309.1,201.7 309.2,203.0 309.4,204.6 309.6,204.3 309.8,205.7 310.0,206.9 310.3,207.7 310.5,208.2 310.7,209.4 310.9,210.8 311.2,211.4 311.4,212.2 312.0,213.5 312.6,214.0 313.2,215.6 313.8,215.9 314.6,217.1 315.4,216.4 316.2,216.9 317.0,217.4 318.0,217.7 319.0,217.9 320.0,218.2 321.0,218.4" fill="none" stroke="#262626" stroke-width="0.9" stroke-dasharray="1.2,1.3" stroke-linejoin="round"/>
<polyline points="273.5,213.6 274.5,215.2 275.4,215.6 276.4,215.4 277.4,215.2 278.3,215.6 279.3,215.6 280.2,216.1 281.2,215.0 282.1,215.9 283.1,215.5 284.0,215.5 285.0,214.9 285.9,216.2 286.9,214.8 287.8,215.2 288.8,215.9 289.7,214.3 290.7,214.8 291.5,214.9 292.3,212.8 293.1,212.1 293.9,211.1 294.4,211.5 294.9,209.7 295.3,209.9 295.8,208.0 296.3,207.4 296.8,206.9 297.3,205.5 297.7,204.5 298.2,204.4 298.7,202.2 299.0,201.7 299.4,201.8 299.7,199.2 300.1,198.3 300.4,197.4 300.8,197.2 301.1,196.8 301.4,195.8 301.6,195.3 301.9,193.9 302.2,193.2 302.4,191.9 302.7,190.9 303.0,189.3 303.2,189.0 303.5,189.1 303.7,187.3 303.9,187.1 304.0,184.9 304.2,183.8 304.4,183.4 304.6,182.8 304.7,182.3 304.9,181.7 305.1,180.5 305.4,178.8 305.7,178.4 306.1,177.6 306.4,175.9 306.7,176.0 307.0,174.8 307.3,173.6 307.7,172.8 308.0,171.8 308.3,170.7 308.5,170.1 308.7,169.3 308.9,168.9 309.2,166.9 309.4,166.7 309.6,165.7 309.8,165.5 310.3,162.6 310.8,162.1 311.3,161.7 311.8,161.0 312.4,162.2 313.0,162.5 313.2,163.8 313.4,165.1 313.5,165.8 313.7,167.7 313.9,166.6 314.1,167.8 314.2,168.2 314.4,170.7 314.6,170.7 314.7,171.3 314.9,172.6 315.0,173.4 315.1,173.7 315.3,175.5 315.4,176.9 315.5,178.2 315.7,177.7 315.8,178.3 315.9,179.7 316.1,180.5 316.2,182.2 316.3,182.1 316.4,184.5 316.5,185.4 316.6,186.4 316.7,187.3 316.8,188.1 316.9,188.5 317.0,187.9 317.1,189.9 317.2,191.4 317.3,192.2 317.4,192.6 317.5,193.8 317.6,194.1 317.7,194.8 317.8,196.2 318.0,197.7 318.1,198.7 318.3,198.9 318.4,200.4 318.6,201.4 318.8,201.9 318.9,203.4 319.1,204.0 319.2,205.5 319.4,205.8 319.7,207.2 319.9,207.6 320.2,209.2 320.5,209.3 320.7,211.4 321.0,210.9 321.8,211.9 322.6,212.6 323.4,213.7 324.4,213.9 325.4,214.8 326.4,214.8 327.4,215.3 328.5,216.8 329.5,216.6 330.6,217.1 331.4,217.5 332.2,218.0 333.0,218.4" fill="none" stroke="#5050d8" stroke-width="1.0" stroke-linejoin="round"/>
<polyline points="273.5,213.6 274.5,215.2 275.4,215.6 276.4,215.4 277.4,215.2 278.3,215.6 279.3,215.6 280.2,216.1 281.2,215.0 282.1,215.9 283.1,215.5 284.0,215.5 285.0,214.9 285.9,216.2 286.9,214.8 287.8,215.2 288.8,215.9 289.7,214.3 290.7,214.8 291.5,214.9 292.3,212.8 293.1,212.1 293.9,211.1 294.4,211.5 294.9,209.7 295.3,209.9 295.8,208.0 296.3,207.4 296.8,206.9 297.3,205.5 297.7,204.5 298.2,204.4 298.7,202.2 299.0,201.7 299.4,201.8 299.7,199.2 300.1,198.3 300.4,197.4 300.8,197.2 301.1,196.8 301.4,195.8 301.6,195.3 301.9,193.9 302.2,193.2 302.4,191.9 302.7,190.9 303.0,189.3 303.2,189.0 303.5,189.1 303.7,187.3 303.9,187.1 304.0,184.9 304.2,183.8 304.4,183.4 304.6,182.8 304.7,182.3 304.9,181.7 305.1,180.5 305.4,178.8 305.7,178.4 306.1,177.6 306.4,175.9 306.7,176.0 307.0,174.8 307.3,173.6 307.7,172.8 308.0,171.8 308.3,170.7 308.5,170.1 308.7,169.3 308.9,168.9 309.2,166.9 309.4,166.7 309.6,165.7 309.8,165.5 310.3,162.6 310.8,162.1 311.3,161.7 311.8,161.0 312.4,162.2 313.0,162.5 313.2,163.8 313.4,165.1 313.5,165.8 313.7,167.7 313.9,166.6 314.1,167.8 314.2,168.2 314.4,170.7 314.6,170.7 314.7,171.3 314.9,172.6 315.0,173.4 315.1,173.7 315.3,175.5 315.4,176.9 315.5,178.2 315.7,177.7 315.8,178.3 315.9,179.7 316.1,180.5 316.2,182.2 316.3,182.1 316.4,184.5 316.5,185.4 316.6,186.4 316.7,187.3 316.8,188.1 316.9,188.5 317.0,187.9 317.1,189.9 317.2,191.4 317.3,192.2 317.4,192.6 317.5,193.8 317.6,194.1 317.7,194.8 317.8,196.2 318.0,197.7 318.1,198.7 318.3,198.9 318.4,200.4 318.6,201.4 318.8,201.9 318.9,203.4 319.1,204.0 319.2,205.5 319.4,205.8 319.7,207.2 319.9,207.6 320.2,209.2 320.5,209.3 320.7,211.4 321.0,210.9 321.8,211.9 322.6,212.6 323.4,213.7 324.4,213.9 325.4,214.8 326.4,214.8 327.4,215.3 328.5,216.8 329.5,216.6 330.6,217.1 331.4,217.5 332.2,218.0 333.0,218.4" fill="none" stroke="#2424b8" stroke-width="0.9" stroke-dasharray="1.2,1.3" stroke-linejoin="round"/>
<polyline points="273.6,145.9 273.6,146.1 273.6,148.9 273.6,147.9 273.6,149.7 273.6,150.5 273.6,150.7 273.6,152.7 273.6,152.5 273.6,154.1 273.6,154.4 273.6,155.9 273.6,156.7 273.6,158.9 273.6,158.3 273.6,159.2 273.6,161.4 273.6,161.0 273.6,162.6 273.6,162.9 273.6,163.6 273.6,166.0 273.6,166.1 273.6,166.3 273.6,168.0 273.6,168.0 273.6,169.9 273.6,170.2 273.6,171.4 273.6,172.9 273.6,173.7 273.6,174.3 273.6,175.4 273.6,176.2 273.6,176.7 273.6,177.8 273.6,178.4 273.6,180.3 273.6,180.2 273.6,180.5 273.6,181.8 273.6,184.4 273.6,184.0 273.6,185.8 273.6,186.0 273.6,186.3 273.6,187.4 273.6,188.7 273.6,189.2 273.6,189.7 273.6,191.7 273.6,192.2 273.6,192.7 273.6,193.3 273.6,194.7 273.6,196.2 273.6,196.7 273.6,197.3 273.6,199.5 273.6,199.9 273.6,200.0 273.6,202.2 273.6,201.9 273.6,203.1 273.6,203.6 273.6,204.3 273.6,205.7 273.6,206.5 273.6,207.5 273.6,208.8 273.6,209.7 273.6,210.2 273.6,211.2 273.6,211.7 274.5,212.0 275.5,212.3 276.4,213.2 277.5,212.2 278.5,212.2 279.6,212.1 280.7,212.5 281.7,212.2 282.8,212.2 283.8,212.5 284.9,211.5 285.9,210.6 286.7,210.7 287.5,209.7 288.3,208.9 289.5,209.5 290.7,210.1 291.9,208.6 293.1,208.4 293.7,207.8 294.3,207.5 294.9,207.3 295.5,206.1 296.0,205.3 296.5,203.9 296.9,203.5 297.4,201.5 297.9,201.3 298.4,200.1 298.9,199.2 299.3,198.9 299.8,196.5 300.3,196.3 300.6,194.7 301.0,194.6 301.3,193.5 301.7,193.2 302.0,191.7 302.4,191.3 302.7,189.8 302.9,188.6 303.2,188.8 303.4,187.3 303.6,186.4 303.8,184.5 304.1,184.8 304.3,183.5 304.5,182.5 304.8,181.7 305.0,182.0 305.2,179.6 305.4,178.1 305.7,178.4 305.9,177.4 306.1,175.5 306.4,175.6 306.6,174.4 306.8,173.0 307.0,172.7 307.3,171.9 307.5,170.2 307.6,170.3 307.7,168.4 307.8,168.3 307.9,166.6 308.1,165.0 308.2,165.5 308.3,163.4 308.4,163.7 308.5,163.3 308.6,161.5 309.2,160.0 309.8,159.7 311.1,159.0 312.2,159.5 312.7,161.6 313.3,161.5 313.8,163.3 314.0,163.9 314.2,164.1 314.3,166.0 314.5,166.8 314.7,168.0 314.9,167.8 315.0,167.9 315.2,169.4 315.4,171.1 315.5,172.3 315.6,173.2 315.7,173.6 315.9,174.0 316.0,174.8 316.1,176.2 316.2,178.0 316.3,178.1 316.4,180.0 316.5,179.4 316.7,181.6 316.8,182.0 316.9,182.1 317.0,184.5 317.1,184.5 317.2,184.8 317.3,186.1 317.5,187.9 317.6,188.1 317.7,189.9 317.8,190.2 317.9,189.6 318.0,191.1 318.1,192.1 318.3,193.9 318.4,195.1 318.5,195.1 318.6,196.5 318.8,197.4 318.9,198.3 319.1,198.9 319.2,199.4 319.4,202.4 319.6,203.1 319.7,203.3 319.9,203.4 320.0,204.8 320.2,206.3 320.6,206.7 321.0,207.8 321.4,208.5 321.8,209.9 322.6,210.5 323.4,211.1 324.2,212.4 325.3,212.4 326.3,213.9 327.4,213.8 328.2,213.5 329.0,215.1 329.8,216.3 330.6,216.9 331.4,217.6 332.2,218.2 333.1,218.2 334.0,218.2 334.9,218.2 335.9,218.2 336.8,218.2 337.7,218.2 338.6,218.2 339.5,218.2 340.4,218.2 341.4,218.2 342.3,218.3 343.2,218.3 344.1,218.3 345.0,218.3 345.9,218.3 346.8,218.3 347.8,218.3 348.7,218.3 349.6,218.3 350.5,218.3" fill="none" stroke="#e05a5a" stroke-width="1.0" stroke-linejoin="round"/>
<polyline points="273.6,145.9 273.6,146.1 273.6,148.9 273.6,147.9 273.6,149.7 273.6,150.5 273.6,150.7 273.6,152.7 273.6,152.5 273.6,154.1 273.6,154.4 273.6,155.9 273.6,156.7 273.6,158.9 273.6,158.3 273.6,159.2 273.6,161.4 273.6,161.0 273.6,162.6 273.6,162.9 273.6,163.6 273.6,166.0 273.6,166.1 273.6,166.3 273.6,168.0 273.6,168.0 273.6,169.9 273.6,170.2 273.6,171.4 273.6,172.9 273.6,173.7 273.6,174.3 273.6,175.4 273.6,176.2 273.6,176.7 273.6,177.8 273.6,178.4 273.6,180.3 273.6,180.2 273.6,180.5 273.6,181.8 273.6,184.4 273.6,184.0 273.6,185.8 273.6,186.0 273.6,186.3 273.6,187.4 273.6,188.7 273.6,189.2 273.6,189.7 273.6,191.7 273.6,192.2 273.6,192.7 273.6,193.3 273.6,194.7 273.6,196.2 273.6,196.7 273.6,197.3 273.6,199.5 273.6,199.9 273.6,200.0 273.6,202.2 273.6,201.9 273.6,203.1 273.6,203.6 273.6,204.3 273.6,205.7 273.6,206.5 273.6,207.5 273.6,208.8 273.6,209.7 273.6,210.2 273.6,211.2 273.6,211.7 274.5,212.0 275.5,212.3 276.4,213.2 277.5,212.2 278.5,212.2 279.6,212.1 280.7,212.5 281.7,212.2 282.8,212.2 283.8,212.5 284.9,211.5 285.9,210.6 286.7,210.7 287.5,209.7 288.3,208.9 289.5,209.5 290.7,210.1 291.9,208.6 293.1,208.4 293.7,207.8 294.3,207.5 294.9,207.3 295.5,206.1 296.0,205.3 296.5,203.9 296.9,203.5 297.4,201.5 297.9,201.3 298.4,200.1 298.9,199.2 299.3,198.9 299.8,196.5 300.3,196.3 300.6,194.7 301.0,194.6 301.3,193.5 301.7,193.2 302.0,191.7 302.4,191.3 302.7,189.8 302.9,188.6 303.2,188.8 303.4,187.3 303.6,186.4 303.8,184.5 304.1,184.8 304.3,183.5 304.5,182.5 304.8,181.7 305.0,182.0 305.2,179.6 305.4,178.1 305.7,178.4 305.9,177.4 306.1,175.5 306.4,175.6 306.6,174.4 306.8,173.0 307.0,172.7 307.3,171.9 307.5,170.2 307.6,170.3 307.7,168.4 307.8,168.3 307.9,166.6 308.1,165.0 308.2,165.5 308.3,163.4 308.4,163.7 308.5,163.3 308.6,161.5 309.2,160.0 309.8,159.7 311.1,159.0 312.2,159.5 312.7,161.6 313.3,161.5 313.8,163.3 314.0,163.9 314.2,164.1 314.3,166.0 314.5,166.8 314.7,168.0 314.9,167.8 315.0,167.9 315.2,169.4 315.4,171.1 315.5,172.3 315.6,173.2 315.7,173.6 315.9,174.0 316.0,174.8 316.1,176.2 316.2,178.0 316.3,178.1 316.4,180.0 316.5,179.4 316.7,181.6 316.8,182.0 316.9,182.1 317.0,184.5 317.1,184.5 317.2,184.8 317.3,186.1 317.5,187.9 317.6,188.1 317.7,189.9 317.8,190.2 317.9,189.6 318.0,191.1 318.1,192.1 318.3,193.9 318.4,195.1 318.5,195.1 318.6,196.5 318.8,197.4 318.9,198.3 319.1,198.9 319.2,199.4 319.4,202.4 319.6,203.1 319.7,203.3 319.9,203.4 320.0,204.8 320.2,206.3 320.6,206.7 321.0,207.8 321.4,208.5 321.8,209.9 322.6,210.5 323.4,211.1 324.2,212.4 325.3,212.4 326.3,213.9 327.4,213.8 328.2,213.5 329.0,215.1 329.8,216.3 330.6,216.9 331.4,217.6 332.2,218.2 333.1,218.2 334.0,218.2 334.9,218.2 335.9,218.2 336.8,218.2 337.7,218.2 338.6,218.2 339.5,218.2 340.4,218.2 341.4,218.2 342.3,218.3 343.2,218.3 344.1,218.3 345.0,218.3 345.9,218.3 346.8,218.3 347.8,218.3 348.7,218.3 349.6,218.3 350.5,218.3" fill="none" stroke="#cc2424" stroke-width="0.9" stroke-dasharray="1.2,1.3" stroke-linejoin="round"/>
<text x="266.6" y="219.20000000000002" font-size="6.0" font-weight="bold" text-anchor="start" fill="#222" stroke="#222" stroke-width="0.28" >0</text>
<rect x="363" y="141.6" width="78.39999999999998" height="77.20000000000002" fill="#fff"/>
<polygon points="364.8,218.8 364.8,217.9 365.3,217.1 365.8,216.3 366.2,215.8 366.7,214.6 367.2,213.7 367.4,213.5 367.6,212.2 367.7,210.9 367.9,209.7 368.1,209.2 368.3,208.8 368.4,207.9 368.6,206.4 368.8,205.3 368.9,205.3 369.0,203.7 369.0,203.1 369.1,202.3 369.2,201.2 369.3,200.2 369.4,199.5 369.4,198.7 369.5,198.3 369.6,196.9 369.7,196.2 369.7,195.1 369.8,193.9 369.9,192.5 370.0,192.2 370.0,191.3 370.1,190.4 370.2,189.1 370.2,188.5 370.3,188.2 370.4,186.1 370.4,185.9 370.5,184.9 370.5,183.4 370.6,184.1 370.7,181.9 370.7,181.5 370.8,180.7 370.9,179.3 371.0,178.3 371.2,178.1 371.3,176.8 371.4,175.1 371.5,174.3 371.6,174.2 371.8,172.9 371.9,171.5 372.0,171.3 372.1,169.8 372.3,169.0 372.4,167.4 372.6,166.5 372.7,165.4 372.8,164.5 373.0,163.5 373.1,163.3 373.3,163.1 373.5,161.0 373.6,160.6 373.8,159.0 374.0,158.3 374.1,157.7 374.2,156.3 374.3,154.7 374.4,154.1 374.5,153.9 374.6,152.7 374.7,151.6 374.8,152.7 374.9,153.2 375.0,154.7 375.1,155.9 375.2,156.9 375.3,157.7 375.4,158.6 375.5,160.4 375.7,160.4 375.8,161.1 376.0,162.6 376.1,163.1 376.3,164.5 376.8,164.9 377.2,166.3 378.0,167.3 378.2,169.0 378.3,170.0 378.5,170.5 378.6,171.4 378.8,172.5 378.9,173.6 378.9,174.3 379.0,175.5 379.1,176.6 379.2,177.5 379.2,178.1 379.3,179.4 379.4,181.1 379.5,181.8 379.6,182.1 379.7,183.3 379.8,183.5 379.9,185.2 380.0,187.0 380.1,185.8 380.2,188.1 380.3,189.4 380.4,189.9 380.5,190.3 380.6,192.5 380.7,192.9 380.8,194.2 380.9,194.4 381.1,196.0 381.2,196.6 381.3,197.6 381.4,199.1 381.5,199.2 381.6,200.4 381.8,202.2 381.9,202.7 382.1,203.7 382.2,204.6 382.3,204.8 382.5,206.9 382.6,206.9 382.8,209.3 383.0,209.1 383.2,210.3 383.5,211.2 383.7,212.2 383.9,213.6 384.3,214.1 384.7,215.6 385.1,216.1 385.5,217.1 386.3,217.8 387.1,218.4 387.1,218.8" fill="#8b8b8b"/>
<line x1="363" y1="141.6" x2="441.4" y2="141.6" stroke="#b4b4b4" stroke-width="1.6"/>
<line x1="363" y1="141.6" x2="363" y2="218.8" stroke="#b0b0b0" stroke-width="1.6"/>
<line x1="441.4" y1="141.6" x2="441.4" y2="218.8" stroke="#7a7a7a" stroke-width="1.3"/>
<line x1="363" y1="218.8" x2="441.4" y2="218.8" stroke="#7a7a7a" stroke-width="1.3"/>
<polyline points="363.2,218.2 364.1,218.1 365.0,218.0 365.9,218.0 366.8,217.9 367.7,217.8 368.6,217.7 369.5,217.6 370.5,217.6 371.4,217.5 372.3,217.4 373.2,217.3 374.1,217.3 375.0,217.2 375.9,217.1 376.8,216.9 377.7,216.6 378.6,216.4 379.6,216.2 380.5,216.2 381.4,215.9 382.3,215.4 382.9,215.0 383.6,214.1 384.2,213.3 384.9,212.9 385.5,212.1 385.8,211.9 386.2,211.4 386.5,209.9 386.9,209.2 387.2,208.2 387.6,206.1 387.9,205.9 388.1,205.3 388.4,204.2 388.6,203.8 388.8,202.8 389.0,201.4 389.3,200.4 389.5,198.7 389.6,199.1 389.7,198.1 389.8,198.1 390.0,195.8 390.1,194.7 390.2,194.4 390.3,192.8 390.4,192.9 390.5,191.5 390.6,190.3 390.8,189.1 390.9,188.1 391.0,187.0 391.1,186.5 391.2,186.6 391.3,185.9 391.4,183.9 391.5,183.4 391.6,182.3 391.7,181.0 391.8,181.1 391.9,179.1 391.9,177.5 392.0,177.7 392.1,176.5 392.2,175.9 392.3,175.1 392.4,174.5 392.5,171.4 392.6,172.1 392.7,170.5 392.8,169.6 392.9,169.2 393.0,168.5 393.2,166.4 393.3,166.3 393.4,166.0 393.5,163.9 393.6,164.1 393.7,162.0 393.8,162.1 394.0,161.3 394.1,158.8 394.2,159.0 394.3,158.0 394.5,156.7 394.6,155.5 394.8,154.3 394.9,153.5 395.1,152.6 395.2,151.6 395.4,150.9 395.7,152.4 396.0,153.1 396.4,154.1 396.7,155.1 396.8,155.7 396.8,156.3 396.9,159.0 397.0,158.0 397.1,160.0 397.1,160.5 397.2,161.8 397.3,162.7 397.3,162.8 397.4,163.5 397.5,165.3 397.5,165.9 397.6,167.0 397.7,167.8 397.8,169.3 397.8,169.1 397.9,171.7 398.0,171.2 398.0,172.2 398.1,173.6 398.2,174.3 398.3,175.4 398.3,176.9 398.4,178.1 398.5,178.7 398.5,179.3 398.6,180.5 398.7,180.7 398.7,182.1 398.8,182.6 398.9,184.5 399.0,184.6 399.0,185.6 399.1,187.3 399.2,187.0 399.3,189.0 399.4,189.8 399.5,190.8 399.6,190.8 399.7,193.3 399.9,193.2 400.0,194.3 400.1,195.0 400.2,195.5 400.3,196.7 400.4,197.9 400.5,198.7 400.6,199.8 400.7,200.1 400.9,201.1 401.0,201.8 401.1,203.6 401.3,204.9 401.4,204.2 401.5,205.1 401.7,208.1 401.8,208.2 401.9,209.1 402.1,209.8 402.2,210.8 402.5,210.9 402.7,212.6 403.0,213.3 403.3,214.6 403.5,215.7 403.8,216.3 404.6,216.9 405.4,217.6 406.2,218.2" fill="none" stroke="#505050" stroke-width="1.0" stroke-linejoin="round"/>
<polyline points="363.2,218.2 364.1,218.1 365.0,218.0 365.9,218.0 366.8,217.9 367.7,217.8 368.6,217.7 369.5,217.6 370.5,217.6 371.4,217.5 372.3,217.4 373.2,217.3 374.1,217.3 375.0,217.2 375.9,217.1 376.8,216.9 377.7,216.6 378.6,216.4 379.6,216.2 380.5,216.2 381.4,215.9 382.3,215.4 382.9,215.0 383.6,214.1 384.2,213.3 384.9,212.9 385.5,212.1 385.8,211.9 386.2,211.4 386.5,209.9 386.9,209.2 387.2,208.2 387.6,206.1 387.9,205.9 388.1,205.3 388.4,204.2 388.6,203.8 388.8,202.8 389.0,201.4 389.3,200.4 389.5,198.7 389.6,199.1 389.7,198.1 389.8,198.1 390.0,195.8 390.1,194.7 390.2,194.4 390.3,192.8 390.4,192.9 390.5,191.5 390.6,190.3 390.8,189.1 390.9,188.1 391.0,187.0 391.1,186.5 391.2,186.6 391.3,185.9 391.4,183.9 391.5,183.4 391.6,182.3 391.7,181.0 391.8,181.1 391.9,179.1 391.9,177.5 392.0,177.7 392.1,176.5 392.2,175.9 392.3,175.1 392.4,174.5 392.5,171.4 392.6,172.1 392.7,170.5 392.8,169.6 392.9,169.2 393.0,168.5 393.2,166.4 393.3,166.3 393.4,166.0 393.5,163.9 393.6,164.1 393.7,162.0 393.8,162.1 394.0,161.3 394.1,158.8 394.2,159.0 394.3,158.0 394.5,156.7 394.6,155.5 394.8,154.3 394.9,153.5 395.1,152.6 395.2,151.6 395.4,150.9 395.7,152.4 396.0,153.1 396.4,154.1 396.7,155.1 396.8,155.7 396.8,156.3 396.9,159.0 397.0,158.0 397.1,160.0 397.1,160.5 397.2,161.8 397.3,162.7 397.3,162.8 397.4,163.5 397.5,165.3 397.5,165.9 397.6,167.0 397.7,167.8 397.8,169.3 397.8,169.1 397.9,171.7 398.0,171.2 398.0,172.2 398.1,173.6 398.2,174.3 398.3,175.4 398.3,176.9 398.4,178.1 398.5,178.7 398.5,179.3 398.6,180.5 398.7,180.7 398.7,182.1 398.8,182.6 398.9,184.5 399.0,184.6 399.0,185.6 399.1,187.3 399.2,187.0 399.3,189.0 399.4,189.8 399.5,190.8 399.6,190.8 399.7,193.3 399.9,193.2 400.0,194.3 400.1,195.0 400.2,195.5 400.3,196.7 400.4,197.9 400.5,198.7 400.6,199.8 400.7,200.1 400.9,201.1 401.0,201.8 401.1,203.6 401.3,204.9 401.4,204.2 401.5,205.1 401.7,208.1 401.8,208.2 401.9,209.1 402.1,209.8 402.2,210.8 402.5,210.9 402.7,212.6 403.0,213.3 403.3,214.6 403.5,215.7 403.8,216.3 404.6,216.9 405.4,217.6 406.2,218.2" fill="none" stroke="#262626" stroke-width="0.9" stroke-dasharray="1.2,1.3" stroke-linejoin="round"/>
<polyline points="363.2,218.4 364.1,218.4 365.0,218.3 365.9,218.3 366.8,218.3 367.7,218.2 368.6,218.2 369.5,218.2 370.5,218.1 371.4,218.1 372.3,218.0 373.2,218.0 374.1,218.0 375.0,217.9 375.9,217.9 376.8,217.6 377.7,217.4 378.6,217.1 379.5,216.8 380.3,216.6 381.2,216.3 382.1,216.4 383.0,215.8 383.9,215.6 384.5,215.2 385.2,214.0 385.8,214.0 386.5,212.0 387.1,211.8 387.4,211.5 387.8,210.3 388.1,209.3 388.5,208.3 388.8,208.4 389.2,206.5 389.5,206.1 389.7,205.6 390.0,204.6 390.2,203.8 390.5,202.4 390.7,200.7 390.9,201.5 391.2,198.9 391.4,198.0 391.7,196.9 391.9,195.8 392.1,194.8 392.2,194.2 392.4,193.8 392.6,193.6 392.8,191.8 392.9,190.4 393.1,190.7 393.3,189.3 393.4,187.9 393.6,186.7 393.8,186.9 394.0,185.4 394.1,185.2 394.3,184.2 394.4,182.5 394.6,181.9 394.7,180.3 394.9,179.5 395.0,179.7 395.2,178.5 395.3,177.1 395.4,177.0 395.6,174.5 395.7,173.8 395.9,173.2 396.0,172.3 396.2,171.5 396.3,169.8 396.4,169.2 396.6,170.2 396.7,168.1 396.9,167.2 397.0,167.1 397.2,164.9 397.3,164.8 397.4,163.5 397.6,163.5 397.7,162.3 397.9,160.7 398.0,160.2 398.2,158.7 398.3,158.5 398.8,158.0 399.2,155.7 399.7,154.6 400.1,153.9 400.6,152.5 400.8,154.0 401.1,155.0 401.3,156.5 401.6,157.5 401.8,158.4 401.9,159.0 401.9,160.0 402.0,160.8 402.1,161.4 402.1,162.7 402.2,163.1 402.2,165.3 402.3,165.2 402.4,165.2 402.4,167.4 402.5,169.0 402.6,168.1 402.6,170.4 402.7,171.8 402.8,172.2 402.8,172.5 402.9,173.8 403.0,174.8 403.0,175.4 403.1,176.9 403.2,177.1 403.2,177.9 403.3,180.2 403.3,181.5 403.4,180.2 403.5,182.4 403.5,182.9 403.6,184.3 403.7,185.2 403.7,185.2 403.8,186.4 403.9,187.9 404.0,188.4 404.0,189.5 404.1,190.5 404.2,190.7 404.3,192.0 404.4,192.6 404.4,193.7 404.5,194.6 404.6,196.2 404.7,196.7 404.7,198.3 404.8,199.6 404.9,199.5 405.0,200.1 405.2,201.6 405.3,202.1 405.4,204.6 405.5,203.9 405.7,204.8 405.8,205.7 405.9,207.3 406.1,208.4 406.2,209.9 406.4,209.1 406.7,210.8 406.9,211.6 407.1,212.7 407.3,212.5 407.6,214.4 407.8,216.3 408.6,216.3 409.4,217.1 410.2,217.9 411.4,218.2 412.6,218.4" fill="none" stroke="#5050d8" stroke-width="1.0" stroke-linejoin="round"/>
<polyline points="363.2,218.4 364.1,218.4 365.0,218.3 365.9,218.3 366.8,218.3 367.7,218.2 368.6,218.2 369.5,218.2 370.5,218.1 371.4,218.1 372.3,218.0 373.2,218.0 374.1,218.0 375.0,217.9 375.9,217.9 376.8,217.6 377.7,217.4 378.6,217.1 379.5,216.8 380.3,216.6 381.2,216.3 382.1,216.4 383.0,215.8 383.9,215.6 384.5,215.2 385.2,214.0 385.8,214.0 386.5,212.0 387.1,211.8 387.4,211.5 387.8,210.3 388.1,209.3 388.5,208.3 388.8,208.4 389.2,206.5 389.5,206.1 389.7,205.6 390.0,204.6 390.2,203.8 390.5,202.4 390.7,200.7 390.9,201.5 391.2,198.9 391.4,198.0 391.7,196.9 391.9,195.8 392.1,194.8 392.2,194.2 392.4,193.8 392.6,193.6 392.8,191.8 392.9,190.4 393.1,190.7 393.3,189.3 393.4,187.9 393.6,186.7 393.8,186.9 394.0,185.4 394.1,185.2 394.3,184.2 394.4,182.5 394.6,181.9 394.7,180.3 394.9,179.5 395.0,179.7 395.2,178.5 395.3,177.1 395.4,177.0 395.6,174.5 395.7,173.8 395.9,173.2 396.0,172.3 396.2,171.5 396.3,169.8 396.4,169.2 396.6,170.2 396.7,168.1 396.9,167.2 397.0,167.1 397.2,164.9 397.3,164.8 397.4,163.5 397.6,163.5 397.7,162.3 397.9,160.7 398.0,160.2 398.2,158.7 398.3,158.5 398.8,158.0 399.2,155.7 399.7,154.6 400.1,153.9 400.6,152.5 400.8,154.0 401.1,155.0 401.3,156.5 401.6,157.5 401.8,158.4 401.9,159.0 401.9,160.0 402.0,160.8 402.1,161.4 402.1,162.7 402.2,163.1 402.2,165.3 402.3,165.2 402.4,165.2 402.4,167.4 402.5,169.0 402.6,168.1 402.6,170.4 402.7,171.8 402.8,172.2 402.8,172.5 402.9,173.8 403.0,174.8 403.0,175.4 403.1,176.9 403.2,177.1 403.2,177.9 403.3,180.2 403.3,181.5 403.4,180.2 403.5,182.4 403.5,182.9 403.6,184.3 403.7,185.2 403.7,185.2 403.8,186.4 403.9,187.9 404.0,188.4 404.0,189.5 404.1,190.5 404.2,190.7 404.3,192.0 404.4,192.6 404.4,193.7 404.5,194.6 404.6,196.2 404.7,196.7 404.7,198.3 404.8,199.6 404.9,199.5 405.0,200.1 405.2,201.6 405.3,202.1 405.4,204.6 405.5,203.9 405.7,204.8 405.8,205.7 405.9,207.3 406.1,208.4 406.2,209.9 406.4,209.1 406.7,210.8 406.9,211.6 407.1,212.7 407.3,212.5 407.6,214.4 407.8,216.3 408.6,216.3 409.4,217.1 410.2,217.9 411.4,218.2 412.6,218.4" fill="none" stroke="#2424b8" stroke-width="0.9" stroke-dasharray="1.2,1.3" stroke-linejoin="round"/>
<polyline points="363.2,218.2 364.1,218.1 365.0,218.0 365.9,218.0 366.8,217.9 367.7,217.8 368.6,217.7 369.5,217.6 370.5,217.6 371.4,217.5 372.3,217.4 373.2,217.3 374.1,217.3 375.0,217.2 375.9,217.1 376.8,216.9 377.7,216.6 378.6,216.4 379.6,216.3 380.5,215.8 381.4,215.7 382.3,215.2 382.9,214.0 383.6,213.1 384.2,212.9 384.9,212.5 385.5,212.0 385.8,211.0 386.1,209.9 386.4,208.3 386.8,208.2 387.1,208.6 387.4,207.0 387.7,206.1 388.0,205.8 388.2,204.1 388.4,204.0 388.7,201.5 388.9,201.8 389.1,199.9 389.4,199.4 389.6,198.1 389.8,198.5 389.9,196.8 390.0,195.8 390.1,195.3 390.3,194.9 390.4,192.4 390.5,193.1 390.6,191.0 390.7,190.7 390.8,190.3 390.9,187.9 391.1,188.4 391.2,186.5 391.3,186.3 391.4,184.7 391.5,183.2 391.6,183.6 391.7,180.9 391.8,182.2 391.9,180.2 392.0,179.7 392.1,178.3 392.2,178.8 392.3,176.6 392.4,176.2 392.5,175.0 392.6,173.8 392.7,172.9 392.8,171.8 392.9,171.9 393.0,171.0 393.1,168.6 393.2,168.7 393.4,167.5 393.5,166.3 393.6,165.8 393.7,164.7 393.9,162.9 394.0,162.4 394.1,160.1 394.2,160.7 394.4,159.2 394.5,159.3 394.6,158.4 394.8,156.9 395.0,156.4 395.2,154.8 395.5,154.0 395.7,153.4 395.9,152.3 396.2,153.7 396.4,154.5 396.7,153.4 397.0,155.5 397.1,156.4 397.2,157.9 397.2,157.9 397.3,159.4 397.4,160.5 397.5,162.4 397.6,162.8 397.6,163.4 397.7,164.3 397.8,166.4 397.9,166.2 398.0,167.5 398.1,168.1 398.1,169.9 398.2,168.7 398.3,171.0 398.4,172.1 398.4,172.5 398.5,173.8 398.6,173.6 398.7,174.9 398.7,176.7 398.8,177.2 398.9,178.4 398.9,179.1 399.0,180.2 399.1,180.7 399.2,182.5 399.2,182.3 399.3,184.1 399.4,184.6 399.4,185.1 399.5,185.9 399.6,187.4 399.7,188.0 399.7,189.5 399.8,190.7 399.9,190.2 400.0,192.1 400.1,193.6 400.2,192.6 400.3,194.9 400.4,196.4 400.5,195.2 400.6,196.6 400.6,198.5 400.7,199.5 400.8,200.7 400.9,201.0 401.0,201.3 401.1,203.2 401.2,204.1 401.3,205.2 401.4,204.8 401.6,207.6 401.8,209.0 401.9,207.8 402.1,209.7 402.3,211.5 402.5,211.4 402.6,210.5 402.8,213.7 403.0,214.3 403.6,214.1 404.2,215.9 404.8,216.3 405.4,217.1 406.3,217.5 407.1,217.8 408.0,218.2 408.9,218.2 409.8,218.2 410.8,218.2 411.7,218.2 412.6,218.2 413.5,218.2 414.4,218.2 415.3,218.2 416.2,218.2 417.2,218.2 418.1,218.2 419.0,218.2 419.9,218.2 420.8,218.2 421.8,218.2 422.7,218.2 423.6,218.2 424.5,218.2 425.4,218.3 426.3,218.3 427.2,218.3 428.2,218.3 429.1,218.3 430.0,218.3 430.9,218.3 431.8,218.3 432.8,218.3 433.7,218.3 434.6,218.3 435.5,218.3 436.4,218.3 437.3,218.3 438.2,218.3 439.2,218.3 440.1,218.3 441.0,218.3" fill="none" stroke="#e05a5a" stroke-width="1.0" stroke-linejoin="round"/>
<polyline points="363.2,218.2 364.1,218.1 365.0,218.0 365.9,218.0 366.8,217.9 367.7,217.8 368.6,217.7 369.5,217.6 370.5,217.6 371.4,217.5 372.3,217.4 373.2,217.3 374.1,217.3 375.0,217.2 375.9,217.1 376.8,216.9 377.7,216.6 378.6,216.4 379.6,216.3 380.5,215.8 381.4,215.7 382.3,215.2 382.9,214.0 383.6,213.1 384.2,212.9 384.9,212.5 385.5,212.0 385.8,211.0 386.1,209.9 386.4,208.3 386.8,208.2 387.1,208.6 387.4,207.0 387.7,206.1 388.0,205.8 388.2,204.1 388.4,204.0 388.7,201.5 388.9,201.8 389.1,199.9 389.4,199.4 389.6,198.1 389.8,198.5 389.9,196.8 390.0,195.8 390.1,195.3 390.3,194.9 390.4,192.4 390.5,193.1 390.6,191.0 390.7,190.7 390.8,190.3 390.9,187.9 391.1,188.4 391.2,186.5 391.3,186.3 391.4,184.7 391.5,183.2 391.6,183.6 391.7,180.9 391.8,182.2 391.9,180.2 392.0,179.7 392.1,178.3 392.2,178.8 392.3,176.6 392.4,176.2 392.5,175.0 392.6,173.8 392.7,172.9 392.8,171.8 392.9,171.9 393.0,171.0 393.1,168.6 393.2,168.7 393.4,167.5 393.5,166.3 393.6,165.8 393.7,164.7 393.9,162.9 394.0,162.4 394.1,160.1 394.2,160.7 394.4,159.2 394.5,159.3 394.6,158.4 394.8,156.9 395.0,156.4 395.2,154.8 395.5,154.0 395.7,153.4 395.9,152.3 396.2,153.7 396.4,154.5 396.7,153.4 397.0,155.5 397.1,156.4 397.2,157.9 397.2,157.9 397.3,159.4 397.4,160.5 397.5,162.4 397.6,162.8 397.6,163.4 397.7,164.3 397.8,166.4 397.9,166.2 398.0,167.5 398.1,168.1 398.1,169.9 398.2,168.7 398.3,171.0 398.4,172.1 398.4,172.5 398.5,173.8 398.6,173.6 398.7,174.9 398.7,176.7 398.8,177.2 398.9,178.4 398.9,179.1 399.0,180.2 399.1,180.7 399.2,182.5 399.2,182.3 399.3,184.1 399.4,184.6 399.4,185.1 399.5,185.9 399.6,187.4 399.7,188.0 399.7,189.5 399.8,190.7 399.9,190.2 400.0,192.1 400.1,193.6 400.2,192.6 400.3,194.9 400.4,196.4 400.5,195.2 400.6,196.6 400.6,198.5 400.7,199.5 400.8,200.7 400.9,201.0 401.0,201.3 401.1,203.2 401.2,204.1 401.3,205.2 401.4,204.8 401.6,207.6 401.8,209.0 401.9,207.8 402.1,209.7 402.3,211.5 402.5,211.4 402.6,210.5 402.8,213.7 403.0,214.3 403.6,214.1 404.2,215.9 404.8,216.3 405.4,217.1 406.3,217.5 407.1,217.8 408.0,218.2 408.9,218.2 409.8,218.2 410.8,218.2 411.7,218.2 412.6,218.2 413.5,218.2 414.4,218.2 415.3,218.2 416.2,218.2 417.2,218.2 418.1,218.2 419.0,218.2 419.9,218.2 420.8,218.2 421.8,218.2 422.7,218.2 423.6,218.2 424.5,218.2 425.4,218.3 426.3,218.3 427.2,218.3 428.2,218.3 429.1,218.3 430.0,218.3 430.9,218.3 431.8,218.3 432.8,218.3 433.7,218.3 434.6,218.3 435.5,218.3 436.4,218.3 437.3,218.3 438.2,218.3 439.2,218.3 440.1,218.3 441.0,218.3" fill="none" stroke="#cc2424" stroke-width="0.9" stroke-dasharray="1.2,1.3" stroke-linejoin="round"/>
<text x="356.3" y="219.20000000000002" font-size="6.0" font-weight="bold" text-anchor="start" fill="#222" stroke="#222" stroke-width="0.28" >0</text>
<rect x="454.3" y="141.3" width="77.99999999999994" height="77.5" fill="#fff"/>
<polygon points="454.5,218.8 454.5,160.2 454.6,161.0 454.7,161.7 454.8,163.0 454.9,163.9 455.0,164.7 455.1,166.2 455.2,166.4 455.3,168.1 455.4,168.8 455.5,169.2 455.6,170.7 455.7,172.6 455.8,172.3 456.3,173.7 456.9,174.5 457.4,175.2 457.7,174.9 457.9,173.7 458.2,173.2 458.4,172.2 458.7,171.3 459.2,171.3 459.8,171.6 460.0,173.2 460.1,173.4 460.3,174.8 460.4,176.0 460.6,176.4 460.7,177.9 460.9,178.4 461.1,179.9 461.3,180.5 461.5,181.0 461.6,182.2 461.8,183.6 462.0,183.6 462.2,185.1 462.6,183.7 463.0,183.5 463.4,181.1 463.8,181.0 464.1,180.5 464.5,178.3 465.1,179.3 465.7,180.1 466.1,178.5 466.5,178.4 466.9,176.4 467.2,176.1 467.5,176.0 467.9,174.5 468.2,173.4 468.5,172.5 468.9,171.2 469.4,170.2 469.8,169.0 470.4,170.8 470.9,171.1 471.3,169.5 471.6,168.9 472.0,167.7 472.4,167.0 472.9,165.4 473.3,164.7 474.0,164.0 474.6,162.9 474.7,162.1 474.9,160.1 475.0,159.7 475.1,158.2 475.3,158.7 475.4,156.9 475.6,156.8 475.7,154.6 476.2,154.4 476.8,152.8 477.3,154.1 477.8,154.1 478.1,153.8 478.4,152.3 478.6,151.9 478.9,151.2 479.2,152.0 479.4,153.3 479.7,153.9 480.0,154.5 480.1,155.3 480.2,156.8 480.4,158.5 480.5,159.2 480.6,160.5 480.8,161.3 480.9,162.3 481.0,163.1 481.1,163.9 481.3,164.6 481.4,165.9 481.6,167.1 481.7,168.0 481.8,169.1 482.0,169.3 482.1,171.2 482.3,172.3 482.4,173.4 482.6,173.5 482.8,175.3 482.9,175.2 483.1,176.5 483.2,177.5 483.4,179.6 483.5,179.8 483.7,180.5 483.8,182.0 483.9,182.1 484.1,183.6 484.2,183.9 484.4,185.6 484.5,186.2 484.6,187.7 484.8,188.8 484.9,189.6 485.1,190.7 485.2,191.5 485.4,192.6 485.6,193.6 485.7,195.0 485.8,195.7 486.0,196.9 486.1,197.4 486.3,198.3 486.4,200.0 486.6,200.8 486.8,202.5 486.9,202.6 487.1,204.3 487.2,204.6 487.4,205.5 487.5,206.3 487.7,207.2 487.8,208.5 488.0,209.5 488.3,209.5 488.5,210.6 488.8,212.4 489.0,212.8 489.3,214.2 489.7,214.6 490.1,215.7 490.4,216.9 490.8,217.9 490.8,218.8" fill="#6a6a6a"/>
<line x1="454.3" y1="141.3" x2="532.3" y2="141.3" stroke="#b4b4b4" stroke-width="1.6"/>
<line x1="454.3" y1="141.3" x2="454.3" y2="218.8" stroke="#b0b0b0" stroke-width="1.6"/>
<line x1="532.3" y1="141.3" x2="532.3" y2="218.8" stroke="#7a7a7a" stroke-width="1.3"/>
<line x1="454.3" y1="218.8" x2="532.3" y2="218.8" stroke="#7a7a7a" stroke-width="1.3"/>
<polyline points="454.2,218.4 455.1,218.4 456.0,218.4 456.9,218.3 457.8,218.3 458.8,218.3 459.7,218.3 460.6,218.3 461.5,218.3 462.4,218.2 463.3,218.2 464.2,218.2 465.1,218.2 466.0,218.2 466.9,218.2 467.9,218.1 468.8,218.1 469.7,218.1 470.6,218.1 471.5,218.1 472.4,218.0 473.3,218.0 474.2,218.0 475.1,218.0 476.1,218.0 477.0,218.0 477.9,217.9 478.8,217.9 479.7,217.9 480.6,217.6 481.5,217.2 482.4,216.9 483.4,216.5 484.3,216.0 485.2,215.4 486.1,215.6 486.6,214.7 487.2,212.8 487.7,213.6 488.2,212.3 488.8,212.0 489.3,210.7 489.5,209.4 489.7,208.8 489.9,208.2 490.1,207.3 490.3,205.7 490.5,205.6 490.6,203.6 490.8,203.6 491.0,202.3 491.2,202.0 491.4,200.8 491.6,199.4 491.7,198.7 491.8,197.5 491.9,196.3 492.1,195.8 492.2,195.8 492.3,194.7 492.4,193.2 492.5,192.5 492.6,191.6 492.7,189.7 492.9,188.6 493.0,188.4 493.1,187.0 493.2,188.0 493.3,186.0 493.4,184.1 493.5,184.0 493.7,182.4 493.8,182.3 493.9,180.9 494.0,180.3 494.1,179.5 494.2,178.4 494.3,177.3 494.5,177.7 494.6,176.6 494.7,175.4 494.8,174.1 494.9,173.7 495.1,172.4 495.2,171.7 495.3,171.2 495.5,170.0 495.6,168.3 495.7,168.0 495.9,166.2 496.0,164.8 496.1,164.8 496.3,162.6 496.4,162.8 496.6,162.0 496.9,161.6 497.1,159.8 497.3,159.3 497.5,158.3 497.8,156.5 498.0,156.1 498.8,156.3 499.6,154.3 500.0,156.4 500.3,157.1 500.7,157.3 500.9,157.0 501.2,155.8 501.4,155.5 501.7,153.9 501.9,155.3 502.1,156.0 502.2,157.1 502.4,158.3 502.6,158.1 502.8,159.6 502.9,160.9 503.0,161.4 503.1,161.1 503.2,163.6 503.3,164.7 503.4,166.3 503.4,166.1 503.5,167.2 503.6,168.2 503.7,168.6 503.8,170.0 503.9,171.3 504.0,171.8 504.1,172.0 504.2,174.1 504.3,174.3 504.4,175.5 504.5,177.1 504.5,176.9 504.6,176.8 504.7,178.8 504.8,180.3 504.9,180.7 505.0,181.7 505.1,182.6 505.2,184.0 505.3,184.4 505.4,185.4 505.5,186.0 505.6,187.4 505.7,187.6 505.8,188.9 505.9,189.9 505.9,191.1 506.0,192.3 506.1,193.1 506.2,193.2 506.3,195.0 506.4,195.0 506.5,196.7 506.6,197.3 506.8,197.3 506.9,199.9 507.0,199.4 507.2,201.1 507.3,201.4 507.4,203.9 507.6,203.6 507.7,205.2 507.8,205.1 508.0,206.1 508.1,206.7 508.3,209.0 508.5,209.1 508.7,210.4 508.9,211.3 509.2,212.1 509.4,212.8 509.6,214.2 509.8,214.9 510.0,214.9 510.6,215.7 511.2,216.8 511.8,217.5 512.4,218.2" fill="none" stroke="#505050" stroke-width="1.0" stroke-linejoin="round"/>
<polyline points="454.2,218.4 455.1,218.4 456.0,218.4 456.9,218.3 457.8,218.3 458.8,218.3 459.7,218.3 460.6,218.3 461.5,218.3 462.4,218.2 463.3,218.2 464.2,218.2 465.1,218.2 466.0,218.2 466.9,218.2 467.9,218.1 468.8,218.1 469.7,218.1 470.6,218.1 471.5,218.1 472.4,218.0 473.3,218.0 474.2,218.0 475.1,218.0 476.1,218.0 477.0,218.0 477.9,217.9 478.8,217.9 479.7,217.9 480.6,217.6 481.5,217.2 482.4,216.9 483.4,216.5 484.3,216.0 485.2,215.4 486.1,215.6 486.6,214.7 487.2,212.8 487.7,213.6 488.2,212.3 488.8,212.0 489.3,210.7 489.5,209.4 489.7,208.8 489.9,208.2 490.1,207.3 490.3,205.7 490.5,205.6 490.6,203.6 490.8,203.6 491.0,202.3 491.2,202.0 491.4,200.8 491.6,199.4 491.7,198.7 491.8,197.5 491.9,196.3 492.1,195.8 492.2,195.8 492.3,194.7 492.4,193.2 492.5,192.5 492.6,191.6 492.7,189.7 492.9,188.6 493.0,188.4 493.1,187.0 493.2,188.0 493.3,186.0 493.4,184.1 493.5,184.0 493.7,182.4 493.8,182.3 493.9,180.9 494.0,180.3 494.1,179.5 494.2,178.4 494.3,177.3 494.5,177.7 494.6,176.6 494.7,175.4 494.8,174.1 494.9,173.7 495.1,172.4 495.2,171.7 495.3,171.2 495.5,170.0 495.6,168.3 495.7,168.0 495.9,166.2 496.0,164.8 496.1,164.8 496.3,162.6 496.4,162.8 496.6,162.0 496.9,161.6 497.1,159.8 497.3,159.3 497.5,158.3 497.8,156.5 498.0,156.1 498.8,156.3 499.6,154.3 500.0,156.4 500.3,157.1 500.7,157.3 500.9,157.0 501.2,155.8 501.4,155.5 501.7,153.9 501.9,155.3 502.1,156.0 502.2,157.1 502.4,158.3 502.6,158.1 502.8,159.6 502.9,160.9 503.0,161.4 503.1,161.1 503.2,163.6 503.3,164.7 503.4,166.3 503.4,166.1 503.5,167.2 503.6,168.2 503.7,168.6 503.8,170.0 503.9,171.3 504.0,171.8 504.1,172.0 504.2,174.1 504.3,174.3 504.4,175.5 504.5,177.1 504.5,176.9 504.6,176.8 504.7,178.8 504.8,180.3 504.9,180.7 505.0,181.7 505.1,182.6 505.2,184.0 505.3,184.4 505.4,185.4 505.5,186.0 505.6,187.4 505.7,187.6 505.8,188.9 505.9,189.9 505.9,191.1 506.0,192.3 506.1,193.1 506.2,193.2 506.3,195.0 506.4,195.0 506.5,196.7 506.6,197.3 506.8,197.3 506.9,199.9 507.0,199.4 507.2,201.1 507.3,201.4 507.4,203.9 507.6,203.6 507.7,205.2 507.8,205.1 508.0,206.1 508.1,206.7 508.3,209.0 508.5,209.1 508.7,210.4 508.9,211.3 509.2,212.1 509.4,212.8 509.6,214.2 509.8,214.9 510.0,214.9 510.6,215.7 511.2,216.8 511.8,217.5 512.4,218.2" fill="none" stroke="#262626" stroke-width="0.9" stroke-dasharray="1.2,1.3" stroke-linejoin="round"/>
<polyline points="454.2,218.4 455.1,218.4 456.1,218.4 457.0,218.4 457.9,218.4 458.8,218.4 459.8,218.4 460.7,218.4 461.6,218.3 462.5,218.3 463.5,218.3 464.4,218.3 465.3,218.3 466.2,218.3 467.2,218.3 468.1,218.3 469.0,218.3 469.9,218.3 470.9,218.3 471.8,218.3 472.7,218.3 473.6,218.3 474.6,218.3 475.5,218.3 476.4,218.2 477.3,218.2 478.3,218.2 479.2,218.2 480.1,218.2 481.0,218.2 482.0,218.2 482.9,218.2 483.9,218.2 484.9,218.1 485.9,218.1 486.9,218.1 487.8,218.0 488.8,218.0 489.8,217.9 490.8,217.9 491.7,217.8 492.6,217.7 493.5,217.6 494.5,217.4 495.4,217.3 496.3,217.2 497.2,217.1 497.8,216.5 498.5,215.6 499.1,215.8 499.8,214.4 500.4,214.1 500.6,213.5 500.8,212.1 500.9,211.2 501.1,210.7 501.3,209.4 501.5,208.9 501.6,207.4 501.8,207.4 502.0,206.6 502.1,204.5 502.2,203.4 502.3,203.2 502.4,201.9 502.5,201.4 502.6,199.9 502.7,199.3 502.9,199.2 503.0,198.1 503.1,196.5 503.2,195.3 503.3,194.5 503.4,194.1 503.5,192.0 503.6,191.6 503.7,189.7 503.8,189.2 503.9,189.1 504.0,188.3 504.1,186.7 504.2,186.1 504.2,185.6 504.3,183.9 504.4,183.2 504.5,182.6 504.6,181.9 504.7,181.1 504.8,179.6 504.9,178.8 505.0,178.8 505.1,176.8 505.1,175.9 505.2,174.9 505.3,173.8 505.4,173.6 505.4,172.3 505.5,171.5 505.6,170.7 505.7,169.0 505.8,169.3 505.8,169.4 505.9,167.7 506.0,165.9 506.1,164.6 506.3,164.3 506.4,162.7 506.6,162.7 506.7,161.1 506.8,160.6 507.0,160.0 507.1,158.8 507.4,157.1 507.8,156.1 508.1,154.9 508.4,154.4 508.6,154.7 508.9,155.4 509.1,157.2 509.3,157.9 509.4,157.6 509.4,160.2 509.5,160.7 509.6,162.6 509.7,162.5 509.7,163.6 509.8,164.2 509.9,165.4 509.9,165.7 510.0,168.0 510.1,168.1 510.2,168.7 510.2,170.4 510.3,171.8 510.4,172.8 510.4,172.1 510.5,173.4 510.6,174.2 510.6,174.8 510.7,175.3 510.8,176.2 510.8,178.5 510.9,179.8 510.9,180.0 511.0,181.1 511.1,181.2 511.1,183.2 511.2,182.9 511.3,184.4 511.4,185.0 511.5,186.2 511.5,186.4 511.6,188.4 511.7,187.6 511.8,190.0 511.9,191.2 512.0,191.5 512.1,192.6 512.1,193.5 512.2,194.5 512.3,195.8 512.4,196.8 512.5,196.8 512.6,198.7 512.7,199.2 512.8,200.0 512.9,201.3 513.0,202.0 513.0,202.6 513.1,203.4 513.2,204.8 513.3,205.8 513.4,206.1 513.5,207.7 513.6,208.4 513.8,209.1 513.9,209.9 514.1,211.1 514.2,210.8 514.4,212.1 514.5,214.3 514.7,215.8 514.8,215.7 515.3,216.4 515.8,217.3 516.3,218.2" fill="none" stroke="#5050d8" stroke-width="1.0" stroke-linejoin="round"/>
<polyline points="454.2,218.4 455.1,218.4 456.1,218.4 457.0,218.4 457.9,218.4 458.8,218.4 459.8,218.4 460.7,218.4 461.6,218.3 462.5,218.3 463.5,218.3 464.4,218.3 465.3,218.3 466.2,218.3 467.2,218.3 468.1,218.3 469.0,218.3 469.9,218.3 470.9,218.3 471.8,218.3 472.7,218.3 473.6,218.3 474.6,218.3 475.5,218.3 476.4,218.2 477.3,218.2 478.3,218.2 479.2,218.2 480.1,218.2 481.0,218.2 482.0,218.2 482.9,218.2 483.9,218.2 484.9,218.1 485.9,218.1 486.9,218.1 487.8,218.0 488.8,218.0 489.8,217.9 490.8,217.9 491.7,217.8 492.6,217.7 493.5,217.6 494.5,217.4 495.4,217.3 496.3,217.2 497.2,217.1 497.8,216.5 498.5,215.6 499.1,215.8 499.8,214.4 500.4,214.1 500.6,213.5 500.8,212.1 500.9,211.2 501.1,210.7 501.3,209.4 501.5,208.9 501.6,207.4 501.8,207.4 502.0,206.6 502.1,204.5 502.2,203.4 502.3,203.2 502.4,201.9 502.5,201.4 502.6,199.9 502.7,199.3 502.9,199.2 503.0,198.1 503.1,196.5 503.2,195.3 503.3,194.5 503.4,194.1 503.5,192.0 503.6,191.6 503.7,189.7 503.8,189.2 503.9,189.1 504.0,188.3 504.1,186.7 504.2,186.1 504.2,185.6 504.3,183.9 504.4,183.2 504.5,182.6 504.6,181.9 504.7,181.1 504.8,179.6 504.9,178.8 505.0,178.8 505.1,176.8 505.1,175.9 505.2,174.9 505.3,173.8 505.4,173.6 505.4,172.3 505.5,171.5 505.6,170.7 505.7,169.0 505.8,169.3 505.8,169.4 505.9,167.7 506.0,165.9 506.1,164.6 506.3,164.3 506.4,162.7 506.6,162.7 506.7,161.1 506.8,160.6 507.0,160.0 507.1,158.8 507.4,157.1 507.8,156.1 508.1,154.9 508.4,154.4 508.6,154.7 508.9,155.4 509.1,157.2 509.3,157.9 509.4,157.6 509.4,160.2 509.5,160.7 509.6,162.6 509.7,162.5 509.7,163.6 509.8,164.2 509.9,165.4 509.9,165.7 510.0,168.0 510.1,168.1 510.2,168.7 510.2,170.4 510.3,171.8 510.4,172.8 510.4,172.1 510.5,173.4 510.6,174.2 510.6,174.8 510.7,175.3 510.8,176.2 510.8,178.5 510.9,179.8 510.9,180.0 511.0,181.1 511.1,181.2 511.1,183.2 511.2,182.9 511.3,184.4 511.4,185.0 511.5,186.2 511.5,186.4 511.6,188.4 511.7,187.6 511.8,190.0 511.9,191.2 512.0,191.5 512.1,192.6 512.1,193.5 512.2,194.5 512.3,195.8 512.4,196.8 512.5,196.8 512.6,198.7 512.7,199.2 512.8,200.0 512.9,201.3 513.0,202.0 513.0,202.6 513.1,203.4 513.2,204.8 513.3,205.8 513.4,206.1 513.5,207.7 513.6,208.4 513.8,209.1 513.9,209.9 514.1,211.1 514.2,210.8 514.4,212.1 514.5,214.3 514.7,215.8 514.8,215.7 515.3,216.4 515.8,217.3 516.3,218.2" fill="none" stroke="#2424b8" stroke-width="0.9" stroke-dasharray="1.2,1.3" stroke-linejoin="round"/>
<polyline points="454.2,218.2 455.1,218.2 456.0,218.2 456.9,218.2 457.8,218.2 458.8,218.1 459.7,218.1 460.6,218.1 461.5,218.1 462.4,218.1 463.3,218.1 464.2,218.1 465.1,218.1 466.0,218.1 466.9,218.1 467.9,218.0 468.8,218.0 469.7,218.0 470.6,218.0 471.5,218.0 472.4,218.0 473.3,218.0 474.2,218.0 475.1,218.0 476.1,217.9 477.0,217.9 477.9,217.9 478.8,217.9 479.7,217.9 480.6,217.6 481.5,217.2 482.4,216.9 483.4,216.5 484.3,216.3 485.2,216.6 486.1,214.7 486.7,215.7 487.4,214.9 488.0,213.7 488.7,212.5 489.3,212.7 489.6,210.9 490.0,209.9 490.3,210.9 490.6,208.0 490.9,207.6 491.3,206.0 491.6,206.5 491.9,205.6 492.1,203.7 492.4,203.2 492.7,202.0 492.9,201.5 493.2,202.0 493.5,201.5 493.7,199.0 494.0,197.9 494.3,197.0 494.5,196.1 494.8,196.1 495.1,194.9 495.3,193.8 495.6,192.0 495.9,191.3 496.1,191.0 496.4,189.1 496.6,189.6 496.9,188.1 497.1,186.8 497.4,187.0 497.6,185.1 497.8,184.0 498.1,182.7 498.3,182.4 498.6,180.9 498.8,180.7 499.0,180.0 499.2,178.2 499.4,179.5 499.6,176.5 499.9,176.4 500.1,174.6 500.3,174.6 500.5,173.4 500.7,173.0 501.4,173.4 502.0,172.8 502.2,173.3 502.4,172.7 502.6,172.1 502.7,170.0 502.9,169.2 503.1,169.0 503.3,168.6 503.4,167.6 503.6,166.1 503.7,164.6 503.9,163.6 504.0,162.1 504.1,161.3 504.3,160.9 504.4,158.5 504.9,158.5 505.5,157.4 506.0,156.9 507.1,155.2 508.4,153.7 508.7,156.2 508.9,157.2 509.2,157.5 509.4,158.6 509.7,159.9 509.8,161.0 509.9,161.8 510.0,161.6 510.1,162.9 510.2,163.6 510.2,166.0 510.3,166.0 510.4,166.8 510.5,169.3 510.6,168.7 510.7,169.0 510.8,171.3 510.9,172.2 511.0,173.5 511.0,173.8 511.1,174.9 511.2,175.3 511.3,176.8 511.4,177.2 511.4,178.7 511.5,178.4 511.6,180.5 511.7,181.2 511.7,181.8 511.8,182.6 511.9,183.0 512.0,184.2 512.1,185.4 512.2,185.4 512.3,186.8 512.4,187.7 512.5,188.1 512.5,190.0 512.6,190.4 512.7,191.8 512.8,191.2 512.9,193.3 513.0,194.5 513.1,194.9 513.2,197.1 513.3,198.0 513.4,198.2 513.5,199.7 513.6,199.8 513.7,201.3 513.8,201.5 513.9,202.4 514.0,204.1 514.1,205.9 514.2,206.5 514.3,206.0 514.4,207.7 514.6,208.6 514.8,209.2 514.9,209.2 515.1,211.9 515.3,212.3 515.5,213.3 515.6,213.8 515.8,213.9 516.0,214.9 516.6,216.4 517.3,217.3 517.9,218.2 518.8,218.2 519.8,218.2 520.7,218.2 521.7,218.2 522.6,218.2 523.5,218.2 524.5,218.2 525.4,218.3 526.4,218.3 527.3,218.3 528.2,218.3 529.2,218.3 530.1,218.3 531.1,218.3 532.0,218.3" fill="none" stroke="#e05a5a" stroke-width="1.0" stroke-linejoin="round"/>
<polyline points="454.2,218.2 455.1,218.2 456.0,218.2 456.9,218.2 457.8,218.2 458.8,218.1 459.7,218.1 460.6,218.1 461.5,218.1 462.4,218.1 463.3,218.1 464.2,218.1 465.1,218.1 466.0,218.1 466.9,218.1 467.9,218.0 468.8,218.0 469.7,218.0 470.6,218.0 471.5,218.0 472.4,218.0 473.3,218.0 474.2,218.0 475.1,218.0 476.1,217.9 477.0,217.9 477.9,217.9 478.8,217.9 479.7,217.9 480.6,217.6 481.5,217.2 482.4,216.9 483.4,216.5 484.3,216.3 485.2,216.6 486.1,214.7 486.7,215.7 487.4,214.9 488.0,213.7 488.7,212.5 489.3,212.7 489.6,210.9 490.0,209.9 490.3,210.9 490.6,208.0 490.9,207.6 491.3,206.0 491.6,206.5 491.9,205.6 492.1,203.7 492.4,203.2 492.7,202.0 492.9,201.5 493.2,202.0 493.5,201.5 493.7,199.0 494.0,197.9 494.3,197.0 494.5,196.1 494.8,196.1 495.1,194.9 495.3,193.8 495.6,192.0 495.9,191.3 496.1,191.0 496.4,189.1 496.6,189.6 496.9,188.1 497.1,186.8 497.4,187.0 497.6,185.1 497.8,184.0 498.1,182.7 498.3,182.4 498.6,180.9 498.8,180.7 499.0,180.0 499.2,178.2 499.4,179.5 499.6,176.5 499.9,176.4 500.1,174.6 500.3,174.6 500.5,173.4 500.7,173.0 501.4,173.4 502.0,172.8 502.2,173.3 502.4,172.7 502.6,172.1 502.7,170.0 502.9,169.2 503.1,169.0 503.3,168.6 503.4,167.6 503.6,166.1 503.7,164.6 503.9,163.6 504.0,162.1 504.1,161.3 504.3,160.9 504.4,158.5 504.9,158.5 505.5,157.4 506.0,156.9 507.1,155.2 508.4,153.7 508.7,156.2 508.9,157.2 509.2,157.5 509.4,158.6 509.7,159.9 509.8,161.0 509.9,161.8 510.0,161.6 510.1,162.9 510.2,163.6 510.2,166.0 510.3,166.0 510.4,166.8 510.5,169.3 510.6,168.7 510.7,169.0 510.8,171.3 510.9,172.2 511.0,173.5 511.0,173.8 511.1,174.9 511.2,175.3 511.3,176.8 511.4,177.2 511.4,178.7 511.5,178.4 511.6,180.5 511.7,181.2 511.7,181.8 511.8,182.6 511.9,183.0 512.0,184.2 512.1,185.4 512.2,185.4 512.3,186.8 512.4,187.7 512.5,188.1 512.5,190.0 512.6,190.4 512.7,191.8 512.8,191.2 512.9,193.3 513.0,194.5 513.1,194.9 513.2,197.1 513.3,198.0 513.4,198.2 513.5,199.7 513.6,199.8 513.7,201.3 513.8,201.5 513.9,202.4 514.0,204.1 514.1,205.9 514.2,206.5 514.3,206.0 514.4,207.7 514.6,208.6 514.8,209.2 514.9,209.2 515.1,211.9 515.3,212.3 515.5,213.3 515.6,213.8 515.8,213.9 516.0,214.9 516.6,216.4 517.3,217.3 517.9,218.2 518.8,218.2 519.8,218.2 520.7,218.2 521.7,218.2 522.6,218.2 523.5,218.2 524.5,218.2 525.4,218.3 526.4,218.3 527.3,218.3 528.2,218.3 529.2,218.3 530.1,218.3 531.1,218.3 532.0,218.3" fill="none" stroke="#cc2424" stroke-width="0.9" stroke-dasharray="1.2,1.3" stroke-linejoin="round"/>
<text x="447.6" y="219.20000000000002" font-size="6.0" font-weight="bold" text-anchor="start" fill="#222" stroke="#222" stroke-width="0.28" >0</text>
<text x="85" y="11.1" font-size="12.6" font-weight="bold" text-anchor="start" fill="#111" stroke="#111" stroke-width="0.28" >(a)</text>
<text x="128.8" y="12.7" font-size="8.0" font-weight="bold" text-anchor="middle" fill="#111" stroke="#111" stroke-width="0.28" >IgG</text>
<text x="174.7" y="11.1" font-size="12.6" font-weight="bold" text-anchor="start" fill="#111" stroke="#111" stroke-width="0.28" >(b)</text>
<text x="221.3" y="12.7" font-size="8.0" font-weight="bold" text-anchor="middle" fill="#111" stroke="#111" stroke-width="0.28" >IgD</text>
<text x="265.3" y="11.1" font-size="12.6" font-weight="bold" text-anchor="start" fill="#111" stroke="#111" stroke-width="0.28" >(c)</text>
<text x="309.3" y="12.7" font-size="8.0" font-weight="bold" text-anchor="middle" fill="#111" stroke="#111" stroke-width="0.28" >IgM</text>
<text x="355.5" y="11.1" font-size="12.6" font-weight="bold" text-anchor="start" fill="#111" stroke="#111" stroke-width="0.28" >(d)</text>
<text x="399.3" y="12.7" font-size="8.0" font-weight="bold" text-anchor="middle" fill="#111" stroke="#111" stroke-width="0.28" >CD5</text>
<text x="449" y="11.1" font-size="12.6" font-weight="bold" text-anchor="start" fill="#111" stroke="#111" stroke-width="0.28" >(e)</text>
<text x="493.7" y="12.7" font-size="8.0" font-weight="bold" text-anchor="middle" fill="#111" stroke="#111" stroke-width="0.28" >CD21</text>
<text x="85.5" y="133.7" font-size="12.6" font-weight="bold" text-anchor="start" fill="#111" stroke="#111" stroke-width="0.28" >(f)</text>
<text x="130" y="136.5" font-size="8.0" font-weight="bold" text-anchor="middle" fill="#111" stroke="#111" stroke-width="0.28" >CD27</text>
<text x="176" y="133.7" font-size="12.6" font-weight="bold" text-anchor="start" fill="#111" stroke="#111" stroke-width="0.28" >(g)</text>
<text x="220.7" y="136.5" font-size="8.0" font-weight="bold" text-anchor="middle" fill="#111" stroke="#111" stroke-width="0.28" >CD24</text>
<text x="267" y="133.7" font-size="12.6" font-weight="bold" text-anchor="start" fill="#111" stroke="#111" stroke-width="0.28" >(h)</text>
<text x="308.7" y="136.5" font-size="8.0" font-weight="bold" text-anchor="middle" fill="#111" stroke="#111" stroke-width="0.28" >CD38</text>
<text x="358.5" y="133.7" font-size="12.6" font-weight="bold" text-anchor="start" fill="#111" stroke="#111" stroke-width="0.28" >(i)</text>
<text x="399" y="136.5" font-size="8.0" font-weight="bold" text-anchor="middle" fill="#111" stroke="#111" stroke-width="0.28" >CD22</text>
<text x="448.1" y="133.7" font-size="12.6" font-weight="bold" text-anchor="start" fill="#111" stroke="#111" stroke-width="0.28" >(j)</text>
<text x="491.7" y="136.5" font-size="8.0" font-weight="bold" text-anchor="middle" fill="#111" stroke="#111" stroke-width="0.28" >CD23</text>
<line x1="549" y1="18.4" x2="564" y2="18.4" stroke="#e02020" stroke-width="1.6"/>
<text x="567" y="21.0" font-size="7.55" font-weight="bold" text-anchor="start" fill="#111" stroke="#111" stroke-width="0.28" >pos-3w</text>
<line x1="549" y1="25.6" x2="564" y2="25.6" stroke="#2020c0" stroke-width="1.6"/>
<text x="567" y="28.1" font-size="7.55" font-weight="bold" text-anchor="start" fill="#111" stroke="#111" stroke-width="0.28" >pos</text>
<line x1="549" y1="32.0" x2="564" y2="32.0" stroke="#111" stroke-width="1.6"/>
<text x="567" y="34.8" font-size="7.55" font-weight="bold" text-anchor="start" fill="#111" stroke="#111" stroke-width="0.28" >pre</text>
<line x1="549" y1="39.2" x2="564" y2="39.2" stroke="#7a7a7a" stroke-width="1.2"/>
<text x="567" y="41.8" font-size="7.55" font-weight="bold" text-anchor="start" fill="#111" stroke="#111" stroke-width="0.28" >isotype</text>
<text x="90.6" y="257.1" font-size="12.6" font-weight="bold" text-anchor="start" fill="#111" stroke="#111" stroke-width="0.28" >(k)</text>
<g fill="#9a9ab4" fill-opacity="0.45"><rect x="146.1" y="325.1" width="0.9" height="0.9"/><rect x="170.5" y="314.4" width="0.9" height="0.9"/><rect x="144.9" y="319.8" width="0.9" height="0.9"/><rect x="164.8" y="333.7" width="0.9" height="0.9"/><rect x="146.2" y="305.0" width="0.9" height="0.9"/><rect x="167.3" y="326.2" width="0.9" height="0.9"/><rect x="176.4" y="332.3" width="0.9" height="0.9"/><rect x="158.4" y="317.3" width="0.9" height="0.9"/><rect x="187.8" y="317.1" width="0.9" height="0.9"/><rect x="150.9" y="306.9" width="0.9" height="0.9"/><rect x="160.6" y="322.3" width="0.9" height="0.9"/><rect x="155.8" y="319.8" width="0.9" height="0.9"/><rect x="162.6" y="328.9" width="0.9" height="0.9"/><rect x="171.6" y="323.1" width="0.9" height="0.9"/><rect x="143.9" y="318.5" width="0.9" height="0.9"/><rect x="151.0" y="323.1" width="0.9" height="0.9"/><rect x="195.9" y="320.0" width="0.9" height="0.9"/><rect x="168.8" y="304.7" width="0.9" height="0.9"/><rect x="156.4" y="328.5" width="0.9" height="0.9"/><rect x="158.5" y="325.0" width="0.9" height="0.9"/><rect x="160.7" y="308.5" width="0.9" height="0.9"/><rect x="165.8" y="310.8" width="0.9" height="0.9"/><rect x="180.1" y="314.5" width="0.9" height="0.9"/><rect x="167.1" y="320.6" width="0.9" height="0.9"/><rect x="170.0" y="313.3" width="0.9" height="0.9"/><rect x="170.5" y="319.1" width="0.9" height="0.9"/><rect x="173.4" y="328.0" width="0.9" height="0.9"/><rect x="161.1" y="311.2" width="0.9" height="0.9"/><rect x="168.0" y="326.2" width="0.9" height="0.9"/><rect x="177.6" y="316.0" width="0.9" height="0.9"/><rect x="165.7" y="326.6" width="0.9" height="0.9"/><rect x="162.7" y="323.1" width="0.9" height="0.9"/><rect x="161.6" y="313.4" width="0.9" height="0.9"/><rect x="148.4" y="315.8" width="0.9" height="0.9"/><rect x="166.0" y="338.7" width="0.9" height="0.9"/><rect x="170.3" y="333.2" width="0.9" height="0.9"/><rect x="168.1" y="328.9" width="0.9" height="0.9"/><rect x="161.6" y="329.8" width="0.9" height="0.9"/><rect x="179.1" y="316.6" width="0.9" height="0.9"/><rect x="151.9" y="344.1" width="0.9" height="0.9"/><rect x="162.2" y="332.2" width="0.9" height="0.9"/><rect x="169.2" y="306.9" width="0.9" height="0.9"/><rect x="186.3" y="341.9" width="0.9" height="0.9"/><rect x="161.5" y="329.6" width="0.9" height="0.9"/><rect x="160.9" y="309.9" width="0.9" height="0.9"/><rect x="158.3" y="325.0" width="0.9" height="0.9"/><rect x="171.8" y="329.1" width="0.9" height="0.9"/><rect x="160.2" y="336.8" width="0.9" height="0.9"/><rect x="151.2" y="330.1" width="0.9" height="0.9"/><rect x="171.8" y="317.0" width="0.9" height="0.9"/><rect x="162.2" y="326.9" width="0.9" height="0.9"/><rect x="176.6" y="308.5" width="0.9" height="0.9"/><rect x="159.6" y="328.3" width="0.9" height="0.9"/><rect x="157.8" y="292.1" width="0.9" height="0.9"/><rect x="170.6" y="309.5" width="0.9" height="0.9"/><rect x="155.0" y="323.2" width="0.9" height="0.9"/><rect x="186.9" y="328.0" width="0.9" height="0.9"/><rect x="160.8" y="339.2" width="0.9" height="0.9"/><rect x="158.7" y="342.9" width="0.9" height="0.9"/><rect x="152.0" y="314.9" width="0.9" height="0.9"/><rect x="167.5" y="337.6" width="0.9" height="0.9"/><rect x="166.7" y="324.2" width="0.9" height="0.9"/><rect x="152.8" y="314.1" width="0.9" height="0.9"/><rect x="166.0" y="316.5" width="0.9" height="0.9"/><rect x="168.2" y="321.5" width="0.9" height="0.9"/><rect x="155.9" y="322.0" width="0.9" height="0.9"/><rect x="164.3" y="330.8" width="0.9" height="0.9"/><rect x="154.3" y="317.8" width="0.9" height="0.9"/><rect x="144.6" y="339.8" width="0.9" height="0.9"/><rect x="175.5" y="318.4" width="0.9" height="0.9"/><rect x="154.3" y="305.7" width="0.9" height="0.9"/><rect x="161.4" y="323.0" width="0.9" height="0.9"/><rect x="183.5" y="323.5" width="0.9" height="0.9"/><rect x="151.0" y="291.2" width="0.9" height="0.9"/><rect x="175.1" y="322.8" width="0.9" height="0.9"/><rect x="171.9" y="327.4" width="0.9" height="0.9"/><rect x="157.6" y="294.9" width="0.9" height="0.9"/><rect x="158.2" y="301.9" width="0.9" height="0.9"/><rect x="166.1" y="294.9" width="0.9" height="0.9"/><rect x="149.6" y="335.2" width="0.9" height="0.9"/><rect x="177.6" y="306.4" width="0.9" height="0.9"/><rect x="168.9" y="308.7" width="0.9" height="0.9"/><rect x="151.9" y="312.2" width="0.9" height="0.9"/><rect x="146.5" y="312.4" width="0.9" height="0.9"/><rect x="173.3" y="328.8" width="0.9" height="0.9"/><rect x="182.2" y="319.5" width="0.9" height="0.9"/><rect x="158.1" y="308.8" width="0.9" height="0.9"/><rect x="158.2" y="304.8" width="0.9" height="0.9"/><rect x="175.4" y="330.6" width="0.9" height="0.9"/><rect x="174.2" y="323.6" width="0.9" height="0.9"/><rect x="151.6" y="321.6" width="0.9" height="0.9"/><rect x="155.4" y="307.2" width="0.9" height="0.9"/><rect x="159.5" y="322.4" width="0.9" height="0.9"/><rect x="154.3" y="337.7" width="0.9" height="0.9"/><rect x="161.5" y="327.5" width="0.9" height="0.9"/><rect x="173.0" y="310.7" width="0.9" height="0.9"/><rect x="152.0" y="336.3" width="0.9" height="0.9"/><rect x="163.3" y="332.6" width="0.9" height="0.9"/><rect x="168.0" y="295.6" width="0.9" height="0.9"/><rect x="167.5" y="312.5" width="0.9" height="0.9"/><rect x="151.2" y="315.3" width="0.9" height="0.9"/><rect x="168.0" y="331.2" width="0.9" height="0.9"/><rect x="170.7" y="300.6" width="0.9" height="0.9"/><rect x="153.1" y="292.0" width="0.9" height="0.9"/><rect x="158.4" y="327.8" width="0.9" height="0.9"/><rect x="151.1" y="323.5" width="0.9" height="0.9"/><rect x="162.1" y="332.6" width="0.9" height="0.9"/><rect x="150.5" y="310.6" width="0.9" height="0.9"/><rect x="151.2" y="341.6" width="0.9" height="0.9"/><rect x="171.5" y="319.1" width="0.9" height="0.9"/><rect x="162.0" y="321.9" width="0.9" height="0.9"/><rect x="161.8" y="318.0" width="0.9" height="0.9"/><rect x="155.9" y="305.5" width="0.9" height="0.9"/><rect x="152.5" y="340.4" width="0.9" height="0.9"/><rect x="165.5" y="321.3" width="0.9" height="0.9"/><rect x="157.2" y="321.3" width="0.9" height="0.9"/><rect x="163.4" y="312.8" width="0.9" height="0.9"/><rect x="161.7" y="323.4" width="0.9" height="0.9"/><rect x="151.3" y="311.1" width="0.9" height="0.9"/><rect x="148.6" y="307.8" width="0.9" height="0.9"/><rect x="169.3" y="292.2" width="0.9" height="0.9"/><rect x="156.6" y="313.2" width="0.9" height="0.9"/><rect x="152.7" y="321.7" width="0.9" height="0.9"/><rect x="172.0" y="321.5" width="0.9" height="0.9"/><rect x="158.0" y="313.2" width="0.9" height="0.9"/><rect x="158.1" y="331.5" width="0.9" height="0.9"/><rect x="155.2" y="306.8" width="0.9" height="0.9"/><rect x="145.6" y="307.3" width="0.9" height="0.9"/><rect x="144.3" y="333.7" width="0.9" height="0.9"/><rect x="163.5" y="317.7" width="0.9" height="0.9"/><rect x="175.6" y="312.7" width="0.9" height="0.9"/><rect x="167.8" y="330.2" width="0.9" height="0.9"/><rect x="149.3" y="331.4" width="0.9" height="0.9"/><rect x="173.8" y="305.8" width="0.9" height="0.9"/><rect x="171.1" y="316.0" width="0.9" height="0.9"/><rect x="155.2" y="313.9" width="0.9" height="0.9"/><rect x="156.0" y="298.7" width="0.9" height="0.9"/><rect x="148.5" y="305.7" width="0.9" height="0.9"/><rect x="164.9" y="345.6" width="0.9" height="0.9"/><rect x="189.6" y="316.5" width="0.9" height="0.9"/><rect x="149.2" y="344.3" width="0.9" height="0.9"/><rect x="165.8" y="311.8" width="0.9" height="0.9"/><rect x="169.8" y="327.0" width="0.9" height="0.9"/><rect x="156.9" y="320.8" width="0.9" height="0.9"/><rect x="161.0" y="316.5" width="0.9" height="0.9"/><rect x="161.6" y="313.5" width="0.9" height="0.9"/><rect x="149.7" y="338.7" width="0.9" height="0.9"/><rect x="163.5" y="325.8" width="0.9" height="0.9"/><rect x="168.6" y="305.1" width="0.9" height="0.9"/><rect x="171.6" y="315.9" width="0.9" height="0.9"/><rect x="164.0" y="319.0" width="0.9" height="0.9"/><rect x="162.0" y="335.0" width="0.9" height="0.9"/><rect x="155.1" y="339.3" width="0.9" height="0.9"/><rect x="150.9" y="309.4" width="0.9" height="0.9"/><rect x="167.4" y="307.8" width="0.9" height="0.9"/><rect x="155.5" y="331.4" width="0.9" height="0.9"/><rect x="172.9" y="299.3" width="0.9" height="0.9"/><rect x="165.1" y="343.2" width="0.9" height="0.9"/><rect x="172.7" y="317.7" width="0.9" height="0.9"/><rect x="152.9" y="317.0" width="0.9" height="0.9"/><rect x="146.9" y="317.4" width="0.9" height="0.9"/><rect x="157.5" y="318.8" width="0.9" height="0.9"/><rect x="172.6" y="317.8" width="0.9" height="0.9"/><rect x="143.5" y="333.2" width="0.9" height="0.9"/><rect x="147.7" y="315.2" width="0.9" height="0.9"/><rect x="158.1" y="316.4" width="0.9" height="0.9"/><rect x="148.5" y="317.6" width="0.9" height="0.9"/><rect x="183.6" y="313.3" width="0.9" height="0.9"/><rect x="158.1" y="334.0" width="0.9" height="0.9"/><rect x="167.7" y="329.7" width="0.9" height="0.9"/><rect x="169.0" y="296.9" width="0.9" height="0.9"/><rect x="150.0" y="322.1" width="0.9" height="0.9"/><rect x="165.0" y="336.1" width="0.9" height="0.9"/><rect x="164.7" y="317.7" width="0.9" height="0.9"/><rect x="160.0" y="318.0" width="0.9" height="0.9"/><rect x="162.3" y="328.6" width="0.9" height="0.9"/><rect x="155.8" y="310.8" width="0.9" height="0.9"/><rect x="150.1" y="333.7" width="0.9" height="0.9"/><rect x="173.6" y="332.5" width="0.9" height="0.9"/><rect x="169.0" y="330.5" width="0.9" height="0.9"/><rect x="159.5" y="328.5" width="0.9" height="0.9"/><rect x="148.0" y="318.1" width="0.9" height="0.9"/><rect x="151.5" y="329.3" width="0.9" height="0.9"/><rect x="153.2" y="319.3" width="0.9" height="0.9"/><rect x="164.0" y="336.8" width="0.9" height="0.9"/><rect x="150.8" y="309.3" width="0.9" height="0.9"/><rect x="168.5" y="307.3" width="0.9" height="0.9"/><rect x="164.5" y="313.7" width="0.9" height="0.9"/><rect x="158.4" y="298.7" width="0.9" height="0.9"/><rect x="167.4" y="314.5" width="0.9" height="0.9"/><rect x="149.7" y="345.5" width="0.9" height="0.9"/><rect x="164.0" y="316.4" width="0.9" height="0.9"/><rect x="160.7" y="339.8" width="0.9" height="0.9"/><rect x="159.3" y="326.0" width="0.9" height="0.9"/><rect x="165.2" y="309.6" width="0.9" height="0.9"/><rect x="161.0" y="314.5" width="0.9" height="0.9"/><rect x="145.8" y="331.0" width="0.9" height="0.9"/><rect x="166.9" y="321.4" width="0.9" height="0.9"/><rect x="149.6" y="296.5" width="0.9" height="0.9"/><rect x="164.9" y="319.4" width="0.9" height="0.9"/><rect x="161.1" y="324.8" width="0.9" height="0.9"/><rect x="161.9" y="322.6" width="0.9" height="0.9"/><rect x="147.0" y="315.9" width="0.9" height="0.9"/><rect x="153.9" y="317.7" width="0.9" height="0.9"/><rect x="162.5" y="328.0" width="0.9" height="0.9"/><rect x="177.5" y="289.7" width="0.9" height="0.9"/><rect x="164.0" y="318.2" width="0.9" height="0.9"/><rect x="184.6" y="331.8" width="0.9" height="0.9"/><rect x="153.8" y="332.5" width="0.9" height="0.9"/><rect x="147.9" y="319.3" width="0.9" height="0.9"/><rect x="158.1" y="319.4" width="0.9" height="0.9"/><rect x="153.1" y="298.5" width="0.9" height="0.9"/><rect x="164.6" y="332.5" width="0.9" height="0.9"/><rect x="158.8" y="308.3" width="0.9" height="0.9"/><rect x="161.8" y="327.3" width="0.9" height="0.9"/><rect x="157.6" y="320.4" width="0.9" height="0.9"/><rect x="175.0" y="307.1" width="0.9" height="0.9"/><rect x="153.4" y="297.7" width="0.9" height="0.9"/><rect x="151.9" y="311.7" width="0.9" height="0.9"/><rect x="149.0" y="312.2" width="0.9" height="0.9"/><rect x="179.3" y="318.2" width="0.9" height="0.9"/><rect x="158.9" y="299.7" width="0.9" height="0.9"/><rect x="164.0" y="309.3" width="0.9" height="0.9"/><rect x="177.6" y="305.6" width="0.9" height="0.9"/><rect x="153.2" y="301.3" width="0.9" height="0.9"/><rect x="160.6" y="308.4" width="0.9" height="0.9"/><rect x="158.8" y="316.0" width="0.9" height="0.9"/><rect x="152.8" y="331.9" width="0.9" height="0.9"/><rect x="169.8" y="321.3" width="0.9" height="0.9"/><rect x="149.6" y="307.7" width="0.9" height="0.9"/><rect x="154.5" y="311.1" width="0.9" height="0.9"/><rect x="151.9" y="307.4" width="0.9" height="0.9"/><rect x="148.9" y="318.1" width="0.9" height="0.9"/><rect x="175.3" y="320.5" width="0.9" height="0.9"/><rect x="153.9" y="301.2" width="0.9" height="0.9"/><rect x="161.9" y="320.2" width="0.9" height="0.9"/><rect x="146.1" y="307.5" width="0.9" height="0.9"/><rect x="159.1" y="332.7" width="0.9" height="0.9"/><rect x="166.4" y="323.0" width="0.9" height="0.9"/><rect x="156.0" y="324.4" width="0.9" height="0.9"/><rect x="147.1" y="316.1" width="0.9" height="0.9"/><rect x="173.5" y="317.4" width="0.9" height="0.9"/><rect x="175.2" y="320.0" width="0.9" height="0.9"/><rect x="161.2" y="316.1" width="0.9" height="0.9"/><rect x="144.4" y="308.9" width="0.9" height="0.9"/><rect x="183.9" y="328.3" width="0.9" height="0.9"/><rect x="166.2" y="332.0" width="0.9" height="0.9"/><rect x="165.8" y="332.8" width="0.9" height="0.9"/><rect x="156.6" y="317.9" width="0.9" height="0.9"/><rect x="170.4" y="316.3" width="0.9" height="0.9"/><rect x="144.9" y="317.8" width="0.9" height="0.9"/><rect x="153.6" y="327.9" width="0.9" height="0.9"/><rect x="151.6" y="307.8" width="0.9" height="0.9"/><rect x="155.9" y="339.2" width="0.9" height="0.9"/><rect x="159.0" y="322.5" width="0.9" height="0.9"/><rect x="159.7" y="324.1" width="0.9" height="0.9"/><rect x="169.8" y="337.3" width="0.9" height="0.9"/><rect x="159.5" y="316.7" width="0.9" height="0.9"/><rect x="185.9" y="318.5" width="0.9" height="0.9"/><rect x="180.9" y="332.2" width="0.9" height="0.9"/><rect x="148.2" y="326.4" width="0.9" height="0.9"/><rect x="167.7" y="319.0" width="0.9" height="0.9"/><rect x="157.4" y="307.3" width="0.9" height="0.9"/><rect x="179.6" y="317.6" width="0.9" height="0.9"/><rect x="155.2" y="317.0" width="0.9" height="0.9"/><rect x="150.9" y="311.2" width="0.9" height="0.9"/><rect x="160.6" y="324.3" width="0.9" height="0.9"/><rect x="154.0" y="319.5" width="0.9" height="0.9"/><rect x="144.3" y="326.8" width="0.9" height="0.9"/><rect x="151.3" y="323.1" width="0.9" height="0.9"/><rect x="149.6" y="314.4" width="0.9" height="0.9"/><rect x="161.9" y="306.0" width="0.9" height="0.9"/><rect x="186.7" y="320.1" width="0.9" height="0.9"/><rect x="158.7" y="311.7" width="0.9" height="0.9"/><rect x="177.1" y="337.2" width="0.9" height="0.9"/><rect x="162.8" y="304.1" width="0.9" height="0.9"/><rect x="154.0" y="327.9" width="0.9" height="0.9"/><rect x="153.9" y="306.3" width="0.9" height="0.9"/><rect x="146.5" y="311.3" width="0.9" height="0.9"/><rect x="159.7" y="312.8" width="0.9" height="0.9"/><rect x="179.1" y="308.1" width="0.9" height="0.9"/><rect x="163.3" y="321.6" width="0.9" height="0.9"/><rect x="158.0" y="333.1" width="0.9" height="0.9"/><rect x="155.9" y="316.6" width="0.9" height="0.9"/><rect x="155.4" y="319.3" width="0.9" height="0.9"/><rect x="173.7" y="329.9" width="0.9" height="0.9"/><rect x="144.8" y="315.2" width="0.9" height="0.9"/><rect x="150.8" y="330.3" width="0.9" height="0.9"/><rect x="162.0" y="331.2" width="0.9" height="0.9"/><rect x="158.9" y="297.6" width="0.9" height="0.9"/><rect x="164.5" y="323.3" width="0.9" height="0.9"/><rect x="165.1" y="304.9" width="0.9" height="0.9"/><rect x="160.4" y="312.3" width="0.9" height="0.9"/><rect x="152.0" y="324.8" width="0.9" height="0.9"/><rect x="163.4" y="309.8" width="0.9" height="0.9"/><rect x="153.2" y="334.0" width="0.9" height="0.9"/><rect x="158.9" y="293.5" width="0.9" height="0.9"/><rect x="150.1" y="325.6" width="0.9" height="0.9"/><rect x="177.9" y="334.6" width="0.9" height="0.9"/><rect x="163.6" y="322.9" width="0.9" height="0.9"/><rect x="147.9" y="315.1" width="0.9" height="0.9"/><rect x="155.9" y="311.3" width="0.9" height="0.9"/><rect x="160.2" y="315.8" width="0.9" height="0.9"/><rect x="163.3" y="337.8" width="0.9" height="0.9"/><rect x="167.7" y="325.6" width="0.9" height="0.9"/><rect x="156.9" y="302.3" width="0.9" height="0.9"/><rect x="158.3" y="327.1" width="0.9" height="0.9"/><rect x="148.5" y="335.6" width="0.9" height="0.9"/><rect x="155.9" y="325.0" width="0.9" height="0.9"/><rect x="155.9" y="305.5" width="0.9" height="0.9"/><rect x="182.3" y="306.6" width="0.9" height="0.9"/><rect x="169.7" y="313.9" width="0.9" height="0.9"/><rect x="162.6" y="310.9" width="0.9" height="0.9"/><rect x="155.0" y="331.6" width="0.9" height="0.9"/><rect x="181.0" y="310.4" width="0.9" height="0.9"/><rect x="159.7" y="331.9" width="0.9" height="0.9"/><rect x="152.6" y="329.1" width="0.9" height="0.9"/><rect x="150.9" y="327.8" width="0.9" height="0.9"/><rect x="164.4" y="335.1" width="0.9" height="0.9"/><rect x="163.5" y="306.2" width="0.9" height="0.9"/><rect x="166.9" y="307.3" width="0.9" height="0.9"/><rect x="167.8" y="338.7" width="0.9" height="0.9"/><rect x="166.1" y="313.9" width="0.9" height="0.9"/><rect x="172.7" y="322.6" width="0.9" height="0.9"/><rect x="145.9" y="316.3" width="0.9" height="0.9"/><rect x="175.2" y="316.9" width="0.9" height="0.9"/><rect x="160.9" y="316.4" width="0.9" height="0.9"/><rect x="163.5" y="323.0" width="0.9" height="0.9"/><rect x="157.6" y="294.9" width="0.9" height="0.9"/><rect x="173.0" y="329.2" width="0.9" height="0.9"/><rect x="170.8" y="336.2" width="0.9" height="0.9"/><rect x="154.7" y="313.3" width="0.9" height="0.9"/><rect x="163.0" y="340.6" width="0.9" height="0.9"/><rect x="151.7" y="327.3" width="0.9" height="0.9"/><rect x="175.7" y="317.0" width="0.9" height="0.9"/><rect x="145.9" y="321.1" width="0.9" height="0.9"/><rect x="156.4" y="302.0" width="0.9" height="0.9"/><rect x="169.3" y="314.3" width="0.9" height="0.9"/><rect x="167.1" y="304.8" width="0.9" height="0.9"/><rect x="171.6" y="303.3" width="0.9" height="0.9"/><rect x="171.1" y="298.8" width="0.9" height="0.9"/><rect x="174.7" y="316.1" width="0.9" height="0.9"/><rect x="163.3" y="308.7" width="0.9" height="0.9"/><rect x="154.1" y="323.8" width="0.9" height="0.9"/><rect x="154.8" y="325.7" width="0.9" height="0.9"/><rect x="162.8" y="332.7" width="0.9" height="0.9"/><rect x="168.4" y="324.3" width="0.9" height="0.9"/><rect x="171.5" y="332.0" width="0.9" height="0.9"/><rect x="160.7" y="313.1" width="0.9" height="0.9"/><rect x="201.8" y="343.2" width="0.9" height="0.9"/><rect x="195.5" y="313.5" width="0.9" height="0.9"/><rect x="205.1" y="335.5" width="0.9" height="0.9"/><rect x="206.4" y="334.7" width="0.9" height="0.9"/><rect x="202.1" y="324.8" width="0.9" height="0.9"/><rect x="196.4" y="328.3" width="0.9" height="0.9"/><rect x="199.9" y="338.7" width="0.9" height="0.9"/><rect x="209.0" y="319.0" width="0.9" height="0.9"/><rect x="209.8" y="330.2" width="0.9" height="0.9"/><rect x="213.6" y="344.1" width="0.9" height="0.9"/><rect x="208.5" y="314.4" width="0.9" height="0.9"/><rect x="209.4" y="316.4" width="0.9" height="0.9"/><rect x="217.7" y="324.5" width="0.9" height="0.9"/><rect x="187.5" y="330.8" width="0.9" height="0.9"/><rect x="193.8" y="325.8" width="0.9" height="0.9"/><rect x="196.3" y="336.7" width="0.9" height="0.9"/><rect x="200.8" y="333.7" width="0.9" height="0.9"/><rect x="209.4" y="315.0" width="0.9" height="0.9"/><rect x="216.3" y="328.3" width="0.9" height="0.9"/><rect x="188.5" y="324.6" width="0.9" height="0.9"/><rect x="211.5" y="339.7" width="0.9" height="0.9"/><rect x="197.3" y="331.5" width="0.9" height="0.9"/><rect x="205.8" y="340.0" width="0.9" height="0.9"/><rect x="202.3" y="339.5" width="0.9" height="0.9"/><rect x="195.4" y="324.0" width="0.9" height="0.9"/><rect x="209.7" y="337.2" width="0.9" height="0.9"/><rect x="203.2" y="336.1" width="0.9" height="0.9"/><rect x="205.5" y="337.6" width="0.9" height="0.9"/><rect x="214.3" y="335.4" width="0.9" height="0.9"/><rect x="211.1" y="327.0" width="0.9" height="0.9"/><rect x="198.5" y="309.0" width="0.9" height="0.9"/><rect x="207.3" y="330.9" width="0.9" height="0.9"/><rect x="208.5" y="313.4" width="0.9" height="0.9"/><rect x="199.1" y="325.5" width="0.9" height="0.9"/><rect x="187.0" y="338.9" width="0.9" height="0.9"/><rect x="214.8" y="318.9" width="0.9" height="0.9"/><rect x="207.7" y="346.4" width="0.9" height="0.9"/><rect x="192.5" y="339.7" width="0.9" height="0.9"/><rect x="191.1" y="320.8" width="0.9" height="0.9"/><rect x="205.5" y="341.7" width="0.9" height="0.9"/><rect x="192.0" y="323.7" width="0.9" height="0.9"/><rect x="193.3" y="340.8" width="0.9" height="0.9"/><rect x="198.5" y="335.9" width="0.9" height="0.9"/></g>
<g fill="#7676e0" fill-opacity="0.38"><rect x="198.7" y="292.9" width="0.9" height="0.9"/><rect x="180.3" y="308.5" width="0.9" height="0.9"/><rect x="180.0" y="295.7" width="0.9" height="0.9"/><rect x="168.6" y="306.6" width="0.9" height="0.9"/><rect x="161.2" y="309.5" width="0.9" height="0.9"/><rect x="169.1" y="310.3" width="0.9" height="0.9"/><rect x="167.1" y="317.1" width="0.9" height="0.9"/><rect x="159.2" y="290.8" width="0.9" height="0.9"/><rect x="187.1" y="300.7" width="0.9" height="0.9"/><rect x="168.4" y="315.2" width="0.9" height="0.9"/><rect x="178.2" y="308.7" width="0.9" height="0.9"/><rect x="166.9" y="315.3" width="0.9" height="0.9"/><rect x="163.6" y="327.3" width="0.9" height="0.9"/><rect x="161.2" y="314.8" width="0.9" height="0.9"/><rect x="176.5" y="310.9" width="0.9" height="0.9"/><rect x="174.5" y="314.1" width="0.9" height="0.9"/><rect x="170.6" y="307.3" width="0.9" height="0.9"/><rect x="187.1" y="294.8" width="0.9" height="0.9"/><rect x="166.2" y="296.0" width="0.9" height="0.9"/><rect x="171.4" y="296.9" width="0.9" height="0.9"/><rect x="164.4" y="333.6" width="0.9" height="0.9"/><rect x="181.3" y="305.6" width="0.9" height="0.9"/><rect x="170.8" y="298.6" width="0.9" height="0.9"/><rect x="163.6" y="317.8" width="0.9" height="0.9"/><rect x="151.5" y="322.4" width="0.9" height="0.9"/><rect x="155.1" y="319.3" width="0.9" height="0.9"/><rect x="167.3" y="327.2" width="0.9" height="0.9"/><rect x="183.1" y="300.4" width="0.9" height="0.9"/><rect x="150.4" y="314.0" width="0.9" height="0.9"/><rect x="169.8" y="302.8" width="0.9" height="0.9"/><rect x="180.1" y="314.6" width="0.9" height="0.9"/><rect x="171.7" y="306.7" width="0.9" height="0.9"/><rect x="181.3" y="303.2" width="0.9" height="0.9"/><rect x="182.0" y="302.7" width="0.9" height="0.9"/><rect x="190.5" y="298.9" width="0.9" height="0.9"/><rect x="162.4" y="315.6" width="0.9" height="0.9"/><rect x="163.7" y="306.3" width="0.9" height="0.9"/><rect x="174.8" y="315.2" width="0.9" height="0.9"/><rect x="149.8" y="320.5" width="0.9" height="0.9"/><rect x="171.6" y="309.2" width="0.9" height="0.9"/><rect x="178.2" y="296.1" width="0.9" height="0.9"/><rect x="180.3" y="304.3" width="0.9" height="0.9"/><rect x="174.3" y="307.3" width="0.9" height="0.9"/><rect x="168.5" y="307.5" width="0.9" height="0.9"/><rect x="185.4" y="321.6" width="0.9" height="0.9"/><rect x="188.3" y="309.7" width="0.9" height="0.9"/><rect x="178.5" y="303.2" width="0.9" height="0.9"/><rect x="187.5" y="320.4" width="0.9" height="0.9"/><rect x="162.8" y="321.9" width="0.9" height="0.9"/><rect x="186.2" y="306.0" width="0.9" height="0.9"/><rect x="187.5" y="314.8" width="0.9" height="0.9"/><rect x="202.9" y="306.6" width="0.9" height="0.9"/><rect x="193.6" y="302.9" width="0.9" height="0.9"/><rect x="184.1" y="306.3" width="0.9" height="0.9"/><rect x="176.2" y="304.7" width="0.9" height="0.9"/><rect x="186.8" y="315.8" width="0.9" height="0.9"/><rect x="173.8" y="312.0" width="0.9" height="0.9"/><rect x="181.6" y="306.3" width="0.9" height="0.9"/><rect x="185.9" y="306.3" width="0.9" height="0.9"/><rect x="158.7" y="308.6" width="0.9" height="0.9"/><rect x="184.9" y="310.0" width="0.9" height="0.9"/><rect x="187.8" y="305.4" width="0.9" height="0.9"/><rect x="172.0" y="297.7" width="0.9" height="0.9"/><rect x="187.2" y="295.8" width="0.9" height="0.9"/><rect x="182.6" y="296.2" width="0.9" height="0.9"/><rect x="168.3" y="314.0" width="0.9" height="0.9"/><rect x="168.1" y="307.0" width="0.9" height="0.9"/><rect x="187.1" y="309.4" width="0.9" height="0.9"/><rect x="178.3" y="305.1" width="0.9" height="0.9"/><rect x="164.6" y="310.6" width="0.9" height="0.9"/><rect x="169.4" y="312.1" width="0.9" height="0.9"/><rect x="183.0" y="304.3" width="0.9" height="0.9"/><rect x="164.6" y="309.5" width="0.9" height="0.9"/><rect x="189.7" y="303.9" width="0.9" height="0.9"/><rect x="178.8" y="310.2" width="0.9" height="0.9"/><rect x="182.2" y="307.4" width="0.9" height="0.9"/><rect x="190.8" y="308.9" width="0.9" height="0.9"/><rect x="144.2" y="323.5" width="0.9" height="0.9"/><rect x="180.4" y="316.2" width="0.9" height="0.9"/><rect x="179.8" y="318.6" width="0.9" height="0.9"/><rect x="157.6" y="307.7" width="0.9" height="0.9"/><rect x="171.0" y="305.5" width="0.9" height="0.9"/><rect x="165.7" y="319.0" width="0.9" height="0.9"/><rect x="178.5" y="308.2" width="0.9" height="0.9"/><rect x="172.0" y="313.5" width="0.9" height="0.9"/><rect x="171.8" y="305.2" width="0.9" height="0.9"/><rect x="182.3" y="309.4" width="0.9" height="0.9"/><rect x="178.7" y="313.8" width="0.9" height="0.9"/><rect x="163.1" y="314.4" width="0.9" height="0.9"/><rect x="174.2" y="321.3" width="0.9" height="0.9"/><rect x="188.0" y="321.2" width="0.9" height="0.9"/><rect x="191.3" y="298.8" width="0.9" height="0.9"/><rect x="165.3" y="318.5" width="0.9" height="0.9"/><rect x="172.0" y="310.0" width="0.9" height="0.9"/><rect x="166.0" y="319.2" width="0.9" height="0.9"/><rect x="178.9" y="311.3" width="0.9" height="0.9"/><rect x="176.0" y="301.8" width="0.9" height="0.9"/><rect x="150.5" y="319.4" width="0.9" height="0.9"/><rect x="167.0" y="309.3" width="0.9" height="0.9"/><rect x="185.6" y="303.9" width="0.9" height="0.9"/><rect x="192.5" y="302.9" width="0.9" height="0.9"/><rect x="184.6" y="309.4" width="0.9" height="0.9"/><rect x="180.1" y="296.8" width="0.9" height="0.9"/><rect x="187.7" y="304.6" width="0.9" height="0.9"/><rect x="167.0" y="318.8" width="0.9" height="0.9"/><rect x="183.5" y="316.4" width="0.9" height="0.9"/><rect x="184.6" y="308.2" width="0.9" height="0.9"/><rect x="163.4" y="329.4" width="0.9" height="0.9"/><rect x="194.1" y="307.0" width="0.9" height="0.9"/><rect x="184.5" y="315.4" width="0.9" height="0.9"/><rect x="168.5" y="318.8" width="0.9" height="0.9"/><rect x="172.5" y="302.7" width="0.9" height="0.9"/><rect x="180.7" y="310.0" width="0.9" height="0.9"/><rect x="197.0" y="307.0" width="0.9" height="0.9"/><rect x="151.8" y="304.7" width="0.9" height="0.9"/><rect x="174.0" y="308.5" width="0.9" height="0.9"/><rect x="160.7" y="304.6" width="0.9" height="0.9"/><rect x="169.7" y="302.7" width="0.9" height="0.9"/><rect x="170.9" y="319.0" width="0.9" height="0.9"/><rect x="175.7" y="303.2" width="0.9" height="0.9"/><rect x="162.8" y="314.2" width="0.9" height="0.9"/><rect x="192.6" y="297.1" width="0.9" height="0.9"/><rect x="191.7" y="295.2" width="0.9" height="0.9"/><rect x="175.5" y="315.3" width="0.9" height="0.9"/><rect x="167.4" y="314.0" width="0.9" height="0.9"/><rect x="163.1" y="321.1" width="0.9" height="0.9"/><rect x="185.9" y="299.1" width="0.9" height="0.9"/><rect x="176.2" y="305.8" width="0.9" height="0.9"/><rect x="161.2" y="339.4" width="0.9" height="0.9"/><rect x="185.0" y="311.9" width="0.9" height="0.9"/><rect x="180.3" y="308.7" width="0.9" height="0.9"/><rect x="170.8" y="308.3" width="0.9" height="0.9"/><rect x="175.6" y="315.3" width="0.9" height="0.9"/><rect x="163.4" y="304.4" width="0.9" height="0.9"/><rect x="164.8" y="318.5" width="0.9" height="0.9"/><rect x="188.5" y="310.0" width="0.9" height="0.9"/><rect x="191.1" y="297.7" width="0.9" height="0.9"/><rect x="188.5" y="309.0" width="0.9" height="0.9"/><rect x="171.3" y="305.3" width="0.9" height="0.9"/><rect x="182.8" y="300.4" width="0.9" height="0.9"/><rect x="169.2" y="304.5" width="0.9" height="0.9"/><rect x="194.3" y="300.1" width="0.9" height="0.9"/><rect x="169.3" y="310.5" width="0.9" height="0.9"/><rect x="173.4" y="311.3" width="0.9" height="0.9"/><rect x="153.3" y="310.6" width="0.9" height="0.9"/><rect x="184.5" y="314.2" width="0.9" height="0.9"/><rect x="165.0" y="315.6" width="0.9" height="0.9"/><rect x="161.9" y="297.2" width="0.9" height="0.9"/><rect x="168.6" y="303.8" width="0.9" height="0.9"/><rect x="184.3" y="303.6" width="0.9" height="0.9"/><rect x="170.3" y="299.9" width="0.9" height="0.9"/><rect x="170.7" y="295.6" width="0.9" height="0.9"/><rect x="182.4" y="317.7" width="0.9" height="0.9"/><rect x="165.2" y="321.6" width="0.9" height="0.9"/><rect x="190.1" y="300.9" width="0.9" height="0.9"/><rect x="187.9" y="304.3" width="0.9" height="0.9"/><rect x="163.6" y="298.5" width="0.9" height="0.9"/><rect x="159.0" y="305.1" width="0.9" height="0.9"/><rect x="202.1" y="298.9" width="0.9" height="0.9"/><rect x="169.2" y="301.3" width="0.9" height="0.9"/><rect x="190.4" y="292.7" width="0.9" height="0.9"/><rect x="195.1" y="309.1" width="0.9" height="0.9"/><rect x="174.2" y="304.7" width="0.9" height="0.9"/><rect x="170.7" y="300.8" width="0.9" height="0.9"/><rect x="188.1" y="317.5" width="0.9" height="0.9"/><rect x="188.6" y="312.0" width="0.9" height="0.9"/><rect x="169.0" y="315.3" width="0.9" height="0.9"/><rect x="163.0" y="311.9" width="0.9" height="0.9"/><rect x="191.6" y="322.7" width="0.9" height="0.9"/><rect x="176.4" y="309.4" width="0.9" height="0.9"/><rect x="155.6" y="320.6" width="0.9" height="0.9"/><rect x="161.1" y="304.8" width="0.9" height="0.9"/><rect x="159.9" y="318.3" width="0.9" height="0.9"/><rect x="173.4" y="316.2" width="0.9" height="0.9"/><rect x="173.0" y="310.8" width="0.9" height="0.9"/><rect x="194.0" y="307.3" width="0.9" height="0.9"/><rect x="188.7" y="315.5" width="0.9" height="0.9"/><rect x="174.7" y="301.7" width="0.9" height="0.9"/><rect x="161.8" y="303.1" width="0.9" height="0.9"/><rect x="178.0" y="305.0" width="0.9" height="0.9"/><rect x="183.8" y="312.5" width="0.9" height="0.9"/><rect x="167.3" y="315.0" width="0.9" height="0.9"/><rect x="189.6" y="303.5" width="0.9" height="0.9"/><rect x="185.0" y="303.3" width="0.9" height="0.9"/><rect x="164.5" y="313.0" width="0.9" height="0.9"/><rect x="157.4" y="324.2" width="0.9" height="0.9"/><rect x="174.3" y="321.4" width="0.9" height="0.9"/><rect x="162.6" y="316.9" width="0.9" height="0.9"/><rect x="178.6" y="306.4" width="0.9" height="0.9"/><rect x="177.2" y="302.4" width="0.9" height="0.9"/><rect x="159.2" y="305.6" width="0.9" height="0.9"/><rect x="166.7" y="307.0" width="0.9" height="0.9"/><rect x="176.9" y="305.8" width="0.9" height="0.9"/><rect x="165.9" y="308.0" width="0.9" height="0.9"/><rect x="153.6" y="317.0" width="0.9" height="0.9"/><rect x="175.7" y="298.3" width="0.9" height="0.9"/><rect x="175.0" y="315.5" width="0.9" height="0.9"/><rect x="168.6" y="314.5" width="0.9" height="0.9"/><rect x="179.0" y="328.5" width="0.9" height="0.9"/><rect x="194.7" y="310.3" width="0.9" height="0.9"/><rect x="170.2" y="317.6" width="0.9" height="0.9"/><rect x="174.9" y="312.9" width="0.9" height="0.9"/><rect x="169.8" y="313.7" width="0.9" height="0.9"/><rect x="168.1" y="315.6" width="0.9" height="0.9"/><rect x="190.3" y="290.9" width="0.9" height="0.9"/><rect x="162.8" y="320.0" width="0.9" height="0.9"/><rect x="183.0" y="302.8" width="0.9" height="0.9"/><rect x="183.4" y="309.3" width="0.9" height="0.9"/><rect x="186.1" y="316.1" width="0.9" height="0.9"/><rect x="170.6" y="317.5" width="0.9" height="0.9"/><rect x="175.5" y="303.8" width="0.9" height="0.9"/><rect x="176.7" y="298.0" width="0.9" height="0.9"/><rect x="162.8" y="324.8" width="0.9" height="0.9"/><rect x="169.0" y="327.0" width="0.9" height="0.9"/><rect x="185.2" y="300.5" width="0.9" height="0.9"/><rect x="158.5" y="298.9" width="0.9" height="0.9"/><rect x="169.3" y="298.7" width="0.9" height="0.9"/><rect x="187.2" y="289.6" width="0.9" height="0.9"/><rect x="167.1" y="290.5" width="0.9" height="0.9"/><rect x="176.1" y="320.5" width="0.9" height="0.9"/><rect x="167.9" y="306.3" width="0.9" height="0.9"/><rect x="171.5" y="314.7" width="0.9" height="0.9"/><rect x="184.5" y="303.2" width="0.9" height="0.9"/><rect x="153.9" y="322.6" width="0.9" height="0.9"/><rect x="193.9" y="320.2" width="0.9" height="0.9"/><rect x="177.9" y="309.8" width="0.9" height="0.9"/><rect x="172.0" y="317.6" width="0.9" height="0.9"/><rect x="191.7" y="293.2" width="0.9" height="0.9"/><rect x="172.9" y="301.9" width="0.9" height="0.9"/><rect x="167.3" y="311.9" width="0.9" height="0.9"/><rect x="178.1" y="301.1" width="0.9" height="0.9"/><rect x="176.8" y="320.6" width="0.9" height="0.9"/><rect x="183.4" y="311.7" width="0.9" height="0.9"/><rect x="179.2" y="306.1" width="0.9" height="0.9"/><rect x="181.8" y="310.9" width="0.9" height="0.9"/><rect x="178.9" y="316.6" width="0.9" height="0.9"/><rect x="178.5" y="315.7" width="0.9" height="0.9"/><rect x="178.1" y="314.5" width="0.9" height="0.9"/><rect x="166.1" y="309.3" width="0.9" height="0.9"/><rect x="166.7" y="324.0" width="0.9" height="0.9"/><rect x="181.8" y="308.3" width="0.9" height="0.9"/><rect x="179.5" y="300.5" width="0.9" height="0.9"/><rect x="174.9" y="305.5" width="0.9" height="0.9"/><rect x="154.0" y="317.7" width="0.9" height="0.9"/><rect x="170.6" y="324.1" width="0.9" height="0.9"/><rect x="165.1" y="309.2" width="0.9" height="0.9"/><rect x="186.3" y="304.2" width="0.9" height="0.9"/><rect x="161.5" y="318.2" width="0.9" height="0.9"/><rect x="172.8" y="325.4" width="0.9" height="0.9"/><rect x="161.3" y="310.1" width="0.9" height="0.9"/><rect x="195.8" y="298.7" width="0.9" height="0.9"/><rect x="165.8" y="316.7" width="0.9" height="0.9"/><rect x="172.1" y="310.8" width="0.9" height="0.9"/><rect x="209.7" y="310.2" width="0.9" height="0.9"/><rect x="198.7" y="312.5" width="0.9" height="0.9"/><rect x="158.7" y="300.9" width="0.9" height="0.9"/><rect x="185.0" y="308.3" width="0.9" height="0.9"/><rect x="175.6" y="308.5" width="0.9" height="0.9"/><rect x="185.3" y="309.6" width="0.9" height="0.9"/><rect x="180.0" y="311.6" width="0.9" height="0.9"/><rect x="172.0" y="308.1" width="0.9" height="0.9"/><rect x="190.1" y="300.4" width="0.9" height="0.9"/><rect x="199.7" y="303.4" width="0.9" height="0.9"/><rect x="179.9" y="317.0" width="0.9" height="0.9"/><rect x="169.4" y="310.9" width="0.9" height="0.9"/><rect x="171.7" y="311.4" width="0.9" height="0.9"/><rect x="190.0" y="320.3" width="0.9" height="0.9"/><rect x="177.7" y="299.4" width="0.9" height="0.9"/><rect x="160.3" y="301.4" width="0.9" height="0.9"/><rect x="186.5" y="311.7" width="0.9" height="0.9"/><rect x="180.4" y="310.3" width="0.9" height="0.9"/><rect x="182.8" y="309.7" width="0.9" height="0.9"/><rect x="183.4" y="307.7" width="0.9" height="0.9"/><rect x="167.7" y="321.3" width="0.9" height="0.9"/><rect x="184.8" y="291.1" width="0.9" height="0.9"/><rect x="169.2" y="302.9" width="0.9" height="0.9"/><rect x="180.2" y="304.8" width="0.9" height="0.9"/><rect x="195.0" y="309.6" width="0.9" height="0.9"/><rect x="168.8" y="308.7" width="0.9" height="0.9"/><rect x="170.9" y="316.6" width="0.9" height="0.9"/><rect x="166.6" y="317.6" width="0.9" height="0.9"/><rect x="163.5" y="324.2" width="0.9" height="0.9"/><rect x="176.9" y="299.0" width="0.9" height="0.9"/><rect x="167.3" y="314.7" width="0.9" height="0.9"/><rect x="182.8" y="318.9" width="0.9" height="0.9"/><rect x="166.0" y="302.6" width="0.9" height="0.9"/><rect x="189.8" y="304.7" width="0.9" height="0.9"/><rect x="179.7" y="312.8" width="0.9" height="0.9"/><rect x="159.7" y="311.5" width="0.9" height="0.9"/><rect x="159.2" y="307.7" width="0.9" height="0.9"/><rect x="168.4" y="304.0" width="0.9" height="0.9"/><rect x="195.0" y="304.4" width="0.9" height="0.9"/><rect x="179.1" y="293.7" width="0.9" height="0.9"/><rect x="172.6" y="309.6" width="0.9" height="0.9"/><rect x="178.7" y="311.8" width="0.9" height="0.9"/><rect x="163.6" y="307.5" width="0.9" height="0.9"/><rect x="193.5" y="320.0" width="0.9" height="0.9"/><rect x="197.5" y="296.5" width="0.9" height="0.9"/><rect x="167.4" y="315.0" width="0.9" height="0.9"/><rect x="186.6" y="319.2" width="0.9" height="0.9"/><rect x="170.4" y="305.6" width="0.9" height="0.9"/><rect x="184.6" y="299.0" width="0.9" height="0.9"/><rect x="167.8" y="317.8" width="0.9" height="0.9"/><rect x="169.8" y="303.3" width="0.9" height="0.9"/><rect x="171.2" y="308.1" width="0.9" height="0.9"/><rect x="170.5" y="305.6" width="0.9" height="0.9"/><rect x="180.7" y="304.0" width="0.9" height="0.9"/><rect x="172.4" y="320.1" width="0.9" height="0.9"/><rect x="167.8" y="319.7" width="0.9" height="0.9"/><rect x="181.0" y="304.4" width="0.9" height="0.9"/><rect x="172.9" y="298.2" width="0.9" height="0.9"/><rect x="174.7" y="301.1" width="0.9" height="0.9"/><rect x="166.8" y="315.9" width="0.9" height="0.9"/><rect x="167.8" y="314.4" width="0.9" height="0.9"/><rect x="183.5" y="314.5" width="0.9" height="0.9"/><rect x="183.3" y="314.6" width="0.9" height="0.9"/><rect x="166.0" y="311.0" width="0.9" height="0.9"/><rect x="186.5" y="314.2" width="0.9" height="0.9"/><rect x="178.7" y="303.5" width="0.9" height="0.9"/><rect x="160.5" y="308.7" width="0.9" height="0.9"/><rect x="184.5" y="296.9" width="0.9" height="0.9"/><rect x="175.0" y="315.1" width="0.9" height="0.9"/><rect x="177.9" y="302.4" width="0.9" height="0.9"/><rect x="197.8" y="300.1" width="0.9" height="0.9"/><rect x="181.2" y="313.6" width="0.9" height="0.9"/><rect x="174.3" y="315.9" width="0.9" height="0.9"/><rect x="171.0" y="304.2" width="0.9" height="0.9"/><rect x="166.3" y="317.2" width="0.9" height="0.9"/><rect x="176.0" y="307.9" width="0.9" height="0.9"/><rect x="169.7" y="310.3" width="0.9" height="0.9"/><rect x="187.8" y="312.9" width="0.9" height="0.9"/><rect x="173.6" y="312.6" width="0.9" height="0.9"/><rect x="151.4" y="311.5" width="0.9" height="0.9"/><rect x="164.8" y="307.0" width="0.9" height="0.9"/><rect x="176.2" y="291.6" width="0.9" height="0.9"/><rect x="183.1" y="311.6" width="0.9" height="0.9"/><rect x="198.0" y="294.5" width="0.9" height="0.9"/><rect x="185.3" y="317.3" width="0.9" height="0.9"/><rect x="182.6" y="298.2" width="0.9" height="0.9"/><rect x="167.9" y="303.6" width="0.9" height="0.9"/><rect x="178.5" y="313.9" width="0.9" height="0.9"/><rect x="192.2" y="306.2" width="0.9" height="0.9"/><rect x="188.7" y="312.0" width="0.9" height="0.9"/><rect x="168.8" y="318.4" width="0.9" height="0.9"/><rect x="185.5" y="303.2" width="0.9" height="0.9"/><rect x="165.6" y="315.6" width="0.9" height="0.9"/><rect x="179.5" y="313.4" width="0.9" height="0.9"/><rect x="154.8" y="316.4" width="0.9" height="0.9"/><rect x="201.8" y="307.7" width="0.9" height="0.9"/><rect x="172.9" y="308.3" width="0.9" height="0.9"/><rect x="169.4" y="304.4" width="0.9" height="0.9"/><rect x="170.4" y="311.7" width="0.9" height="0.9"/><rect x="162.2" y="315.3" width="0.9" height="0.9"/><rect x="174.2" y="299.4" width="0.9" height="0.9"/><rect x="165.5" y="301.4" width="0.9" height="0.9"/><rect x="176.7" y="310.8" width="0.9" height="0.9"/><rect x="170.1" y="312.7" width="0.9" height="0.9"/><rect x="183.8" y="311.3" width="0.9" height="0.9"/><rect x="160.0" y="314.4" width="0.9" height="0.9"/><rect x="153.7" y="304.3" width="0.9" height="0.9"/><rect x="189.1" y="309.4" width="0.9" height="0.9"/><rect x="191.8" y="308.1" width="0.9" height="0.9"/><rect x="170.8" y="313.6" width="0.9" height="0.9"/><rect x="174.1" y="321.6" width="0.9" height="0.9"/><rect x="151.3" y="324.6" width="0.9" height="0.9"/><rect x="171.9" y="317.3" width="0.9" height="0.9"/><rect x="186.5" y="298.9" width="0.9" height="0.9"/><rect x="193.9" y="309.8" width="0.9" height="0.9"/><rect x="164.4" y="330.2" width="0.9" height="0.9"/><rect x="158.3" y="306.5" width="0.9" height="0.9"/><rect x="183.4" y="299.7" width="0.9" height="0.9"/><rect x="177.8" y="308.1" width="0.9" height="0.9"/><rect x="169.7" y="325.8" width="0.9" height="0.9"/><rect x="191.9" y="302.3" width="0.9" height="0.9"/><rect x="192.7" y="301.2" width="0.9" height="0.9"/><rect x="177.4" y="306.1" width="0.9" height="0.9"/><rect x="160.1" y="314.2" width="0.9" height="0.9"/><rect x="166.5" y="317.3" width="0.9" height="0.9"/><rect x="175.3" y="304.9" width="0.9" height="0.9"/><rect x="190.7" y="305.4" width="0.9" height="0.9"/><rect x="194.1" y="297.3" width="0.9" height="0.9"/><rect x="168.9" y="306.6" width="0.9" height="0.9"/><rect x="177.6" y="307.2" width="0.9" height="0.9"/><rect x="181.7" y="321.2" width="0.9" height="0.9"/><rect x="182.2" y="301.2" width="0.9" height="0.9"/><rect x="179.1" y="305.7" width="0.9" height="0.9"/><rect x="171.5" y="309.7" width="0.9" height="0.9"/><rect x="178.4" y="313.6" width="0.9" height="0.9"/><rect x="186.7" y="304.5" width="0.9" height="0.9"/><rect x="166.8" y="313.8" width="0.9" height="0.9"/><rect x="172.6" y="308.7" width="0.9" height="0.9"/><rect x="162.0" y="315.0" width="0.9" height="0.9"/><rect x="160.0" y="327.6" width="0.9" height="0.9"/><rect x="186.0" y="310.8" width="0.9" height="0.9"/><rect x="166.2" y="316.1" width="0.9" height="0.9"/><rect x="188.7" y="301.4" width="0.9" height="0.9"/><rect x="163.6" y="314.4" width="0.9" height="0.9"/><rect x="154.1" y="327.7" width="0.9" height="0.9"/><rect x="175.8" y="298.0" width="0.9" height="0.9"/><rect x="186.9" y="313.6" width="0.9" height="0.9"/><rect x="184.7" y="310.7" width="0.9" height="0.9"/><rect x="193.0" y="303.0" width="0.9" height="0.9"/><rect x="190.1" y="300.8" width="0.9" height="0.9"/><rect x="167.1" y="311.0" width="0.9" height="0.9"/><rect x="165.5" y="317.7" width="0.9" height="0.9"/><rect x="169.2" y="315.7" width="0.9" height="0.9"/><rect x="184.3" y="318.9" width="0.9" height="0.9"/><rect x="192.9" y="296.6" width="0.9" height="0.9"/><rect x="173.2" y="309.3" width="0.9" height="0.9"/><rect x="174.8" y="325.0" width="0.9" height="0.9"/><rect x="188.3" y="301.6" width="0.9" height="0.9"/><rect x="158.5" y="312.4" width="0.9" height="0.9"/><rect x="181.0" y="320.1" width="0.9" height="0.9"/><rect x="166.4" y="326.1" width="0.9" height="0.9"/><rect x="161.2" y="319.4" width="0.9" height="0.9"/><rect x="161.6" y="312.7" width="0.9" height="0.9"/><rect x="151.7" y="326.1" width="0.9" height="0.9"/><rect x="172.5" y="302.3" width="0.9" height="0.9"/><rect x="152.2" y="320.2" width="0.9" height="0.9"/><rect x="170.5" y="299.9" width="0.9" height="0.9"/><rect x="180.3" y="306.2" width="0.9" height="0.9"/><rect x="160.6" y="310.1" width="0.9" height="0.9"/><rect x="151.3" y="327.3" width="0.9" height="0.9"/><rect x="185.4" y="303.1" width="0.9" height="0.9"/><rect x="158.1" y="308.5" width="0.9" height="0.9"/><rect x="169.2" y="305.1" width="0.9" height="0.9"/><rect x="175.7" y="302.1" width="0.9" height="0.9"/><rect x="189.0" y="312.9" width="0.9" height="0.9"/><rect x="166.3" y="307.1" width="0.9" height="0.9"/><rect x="143.5" y="325.2" width="0.9" height="0.9"/><rect x="176.4" y="301.2" width="0.9" height="0.9"/><rect x="185.3" y="299.2" width="0.9" height="0.9"/><rect x="165.3" y="321.3" width="0.9" height="0.9"/><rect x="173.6" y="293.2" width="0.9" height="0.9"/><rect x="163.6" y="304.5" width="0.9" height="0.9"/><rect x="173.6" y="311.9" width="0.9" height="0.9"/><rect x="170.9" y="313.0" width="0.9" height="0.9"/><rect x="184.0" y="302.6" width="0.9" height="0.9"/><rect x="158.4" y="309.5" width="0.9" height="0.9"/><rect x="190.0" y="316.8" width="0.9" height="0.9"/><rect x="174.7" y="313.0" width="0.9" height="0.9"/><rect x="164.7" y="309.8" width="0.9" height="0.9"/><rect x="184.1" y="301.0" width="0.9" height="0.9"/><rect x="177.6" y="309.4" width="0.9" height="0.9"/><rect x="188.6" y="305.1" width="0.9" height="0.9"/><rect x="173.7" y="307.8" width="0.9" height="0.9"/><rect x="172.9" y="319.2" width="0.9" height="0.9"/><rect x="183.2" y="297.5" width="0.9" height="0.9"/><rect x="167.7" y="310.7" width="0.9" height="0.9"/><rect x="169.3" y="309.3" width="0.9" height="0.9"/><rect x="174.7" y="324.8" width="0.9" height="0.9"/><rect x="157.5" y="312.7" width="0.9" height="0.9"/><rect x="167.6" y="314.9" width="0.9" height="0.9"/><rect x="161.4" y="316.2" width="0.9" height="0.9"/><rect x="182.9" y="322.1" width="0.9" height="0.9"/><rect x="182.1" y="305.8" width="0.9" height="0.9"/><rect x="182.5" y="321.4" width="0.9" height="0.9"/><rect x="171.9" y="305.5" width="0.9" height="0.9"/><rect x="167.5" y="310.3" width="0.9" height="0.9"/><rect x="181.6" y="298.2" width="0.9" height="0.9"/><rect x="169.0" y="312.4" width="0.9" height="0.9"/><rect x="167.5" y="318.7" width="0.9" height="0.9"/><rect x="172.7" y="314.9" width="0.9" height="0.9"/><rect x="185.7" y="316.9" width="0.9" height="0.9"/><rect x="191.2" y="294.7" width="0.9" height="0.9"/><rect x="157.4" y="308.6" width="0.9" height="0.9"/><rect x="182.2" y="310.6" width="0.9" height="0.9"/><rect x="175.2" y="309.3" width="0.9" height="0.9"/><rect x="194.6" y="307.6" width="0.9" height="0.9"/><rect x="179.8" y="312.5" width="0.9" height="0.9"/><rect x="163.1" y="325.3" width="0.9" height="0.9"/><rect x="198.1" y="299.8" width="0.9" height="0.9"/><rect x="174.8" y="320.1" width="0.9" height="0.9"/><rect x="170.4" y="312.8" width="0.9" height="0.9"/><rect x="194.6" y="303.5" width="0.9" height="0.9"/><rect x="189.2" y="306.5" width="0.9" height="0.9"/><rect x="190.9" y="302.0" width="0.9" height="0.9"/><rect x="202.2" y="295.4" width="0.9" height="0.9"/><rect x="193.2" y="303.0" width="0.9" height="0.9"/><rect x="198.1" y="297.7" width="0.9" height="0.9"/><rect x="194.3" y="297.8" width="0.9" height="0.9"/><rect x="190.2" y="302.0" width="0.9" height="0.9"/><rect x="184.1" y="303.3" width="0.9" height="0.9"/><rect x="184.2" y="306.6" width="0.9" height="0.9"/><rect x="191.3" y="301.6" width="0.9" height="0.9"/><rect x="191.2" y="298.9" width="0.9" height="0.9"/><rect x="192.5" y="302.3" width="0.9" height="0.9"/><rect x="195.2" y="297.5" width="0.9" height="0.9"/><rect x="188.1" y="299.2" width="0.9" height="0.9"/><rect x="187.3" y="299.3" width="0.9" height="0.9"/><rect x="186.9" y="308.4" width="0.9" height="0.9"/><rect x="182.6" y="310.5" width="0.9" height="0.9"/><rect x="193.8" y="299.9" width="0.9" height="0.9"/><rect x="195.5" y="301.0" width="0.9" height="0.9"/><rect x="197.4" y="297.6" width="0.9" height="0.9"/><rect x="188.9" y="302.5" width="0.9" height="0.9"/><rect x="187.6" y="304.8" width="0.9" height="0.9"/><rect x="190.0" y="306.2" width="0.9" height="0.9"/><rect x="181.9" y="305.9" width="0.9" height="0.9"/><rect x="185.2" y="301.0" width="0.9" height="0.9"/><rect x="199.0" y="290.7" width="0.9" height="0.9"/><rect x="190.5" y="301.6" width="0.9" height="0.9"/><rect x="198.3" y="292.3" width="0.9" height="0.9"/><rect x="196.9" y="296.6" width="0.9" height="0.9"/><rect x="190.9" y="300.9" width="0.9" height="0.9"/><rect x="194.3" y="297.3" width="0.9" height="0.9"/><rect x="192.6" y="302.5" width="0.9" height="0.9"/><rect x="198.7" y="290.9" width="0.9" height="0.9"/><rect x="201.3" y="298.1" width="0.9" height="0.9"/><rect x="190.5" y="303.7" width="0.9" height="0.9"/><rect x="192.3" y="306.1" width="0.9" height="0.9"/><rect x="193.3" y="300.4" width="0.9" height="0.9"/><rect x="191.2" y="302.0" width="0.9" height="0.9"/><rect x="190.6" y="300.6" width="0.9" height="0.9"/><rect x="200.4" y="291.1" width="0.9" height="0.9"/><rect x="174.5" y="313.5" width="0.9" height="0.9"/><rect x="192.3" y="302.7" width="0.9" height="0.9"/><rect x="191.4" y="302.0" width="0.9" height="0.9"/><rect x="195.4" y="302.2" width="0.9" height="0.9"/><rect x="189.9" y="302.4" width="0.9" height="0.9"/><rect x="202.8" y="295.9" width="0.9" height="0.9"/><rect x="190.6" y="309.1" width="0.9" height="0.9"/><rect x="195.7" y="297.9" width="0.9" height="0.9"/><rect x="187.1" y="306.1" width="0.9" height="0.9"/><rect x="187.1" y="302.4" width="0.9" height="0.9"/><rect x="185.5" y="305.0" width="0.9" height="0.9"/><rect x="197.5" y="297.0" width="0.9" height="0.9"/><rect x="186.2" y="307.7" width="0.9" height="0.9"/><rect x="193.9" y="302.9" width="0.9" height="0.9"/><rect x="198.3" y="297.2" width="0.9" height="0.9"/><rect x="191.8" y="302.0" width="0.9" height="0.9"/><rect x="187.8" y="306.6" width="0.9" height="0.9"/><rect x="199.6" y="297.2" width="0.9" height="0.9"/><rect x="191.1" y="301.9" width="0.9" height="0.9"/><rect x="187.7" y="302.7" width="0.9" height="0.9"/><rect x="189.5" y="301.4" width="0.9" height="0.9"/><rect x="188.4" y="300.2" width="0.9" height="0.9"/><rect x="194.3" y="300.5" width="0.9" height="0.9"/><rect x="184.0" y="301.3" width="0.9" height="0.9"/><rect x="193.9" y="303.6" width="0.9" height="0.9"/><rect x="188.3" y="303.2" width="0.9" height="0.9"/><rect x="190.5" y="304.7" width="0.9" height="0.9"/><rect x="189.2" y="306.4" width="0.9" height="0.9"/><rect x="192.2" y="304.3" width="0.9" height="0.9"/><rect x="192.4" y="301.0" width="0.9" height="0.9"/><rect x="184.4" y="305.3" width="0.9" height="0.9"/><rect x="192.1" y="303.6" width="0.9" height="0.9"/><rect x="192.9" y="299.5" width="0.9" height="0.9"/><rect x="195.8" y="302.0" width="0.9" height="0.9"/><rect x="191.3" y="301.3" width="0.9" height="0.9"/><rect x="191.6" y="304.4" width="0.9" height="0.9"/><rect x="194.1" y="298.0" width="0.9" height="0.9"/><rect x="193.8" y="299.4" width="0.9" height="0.9"/><rect x="190.4" y="306.3" width="0.9" height="0.9"/></g>
<g fill="#5050c0" fill-opacity="0.55"><rect x="186.7" y="314.6" width="0.9" height="0.9"/><rect x="177.3" y="311.7" width="0.9" height="0.9"/><rect x="174.1" y="317.2" width="0.9" height="0.9"/><rect x="171.5" y="312.8" width="0.9" height="0.9"/><rect x="179.6" y="313.9" width="0.9" height="0.9"/><rect x="179.0" y="309.9" width="0.9" height="0.9"/><rect x="178.4" y="313.8" width="0.9" height="0.9"/><rect x="173.4" y="319.9" width="0.9" height="0.9"/><rect x="184.6" y="320.0" width="0.9" height="0.9"/><rect x="179.1" y="313.1" width="0.9" height="0.9"/><rect x="184.0" y="311.1" width="0.9" height="0.9"/><rect x="181.6" y="310.4" width="0.9" height="0.9"/><rect x="181.5" y="316.4" width="0.9" height="0.9"/><rect x="181.7" y="312.5" width="0.9" height="0.9"/><rect x="175.0" y="318.4" width="0.9" height="0.9"/><rect x="180.3" y="315.9" width="0.9" height="0.9"/><rect x="181.6" y="316.6" width="0.9" height="0.9"/><rect x="178.7" y="314.8" width="0.9" height="0.9"/><rect x="179.2" y="309.0" width="0.9" height="0.9"/><rect x="175.9" y="313.7" width="0.9" height="0.9"/><rect x="186.5" y="308.2" width="0.9" height="0.9"/><rect x="182.5" y="314.0" width="0.9" height="0.9"/><rect x="174.3" y="310.4" width="0.9" height="0.9"/><rect x="181.7" y="310.1" width="0.9" height="0.9"/><rect x="178.9" y="308.3" width="0.9" height="0.9"/><rect x="179.2" y="318.9" width="0.9" height="0.9"/><rect x="181.9" y="306.2" width="0.9" height="0.9"/><rect x="173.0" y="317.7" width="0.9" height="0.9"/><rect x="181.9" y="312.5" width="0.9" height="0.9"/><rect x="177.8" y="310.3" width="0.9" height="0.9"/><rect x="183.2" y="315.6" width="0.9" height="0.9"/><rect x="173.9" y="311.1" width="0.9" height="0.9"/><rect x="176.9" y="318.4" width="0.9" height="0.9"/><rect x="171.2" y="318.7" width="0.9" height="0.9"/><rect x="174.2" y="316.5" width="0.9" height="0.9"/><rect x="177.6" y="314.8" width="0.9" height="0.9"/><rect x="185.6" y="311.0" width="0.9" height="0.9"/><rect x="183.8" y="309.9" width="0.9" height="0.9"/><rect x="177.3" y="316.5" width="0.9" height="0.9"/><rect x="166.8" y="321.9" width="0.9" height="0.9"/><rect x="176.8" y="310.0" width="0.9" height="0.9"/><rect x="179.4" y="311.1" width="0.9" height="0.9"/><rect x="168.0" y="320.4" width="0.9" height="0.9"/><rect x="173.5" y="315.3" width="0.9" height="0.9"/><rect x="180.4" y="318.1" width="0.9" height="0.9"/><rect x="178.9" y="313.7" width="0.9" height="0.9"/><rect x="176.6" y="307.7" width="0.9" height="0.9"/><rect x="181.5" y="307.4" width="0.9" height="0.9"/><rect x="178.1" y="309.6" width="0.9" height="0.9"/><rect x="173.7" y="315.7" width="0.9" height="0.9"/><rect x="187.8" y="310.7" width="0.9" height="0.9"/><rect x="175.5" y="314.9" width="0.9" height="0.9"/><rect x="173.7" y="317.2" width="0.9" height="0.9"/><rect x="177.6" y="317.8" width="0.9" height="0.9"/><rect x="172.3" y="316.9" width="0.9" height="0.9"/><rect x="173.7" y="314.4" width="0.9" height="0.9"/><rect x="181.7" y="312.4" width="0.9" height="0.9"/><rect x="183.3" y="315.8" width="0.9" height="0.9"/><rect x="180.6" y="306.8" width="0.9" height="0.9"/><rect x="177.3" y="307.4" width="0.9" height="0.9"/><rect x="182.1" y="319.8" width="0.9" height="0.9"/><rect x="177.0" y="313.5" width="0.9" height="0.9"/><rect x="179.3" y="313.6" width="0.9" height="0.9"/><rect x="177.2" y="311.8" width="0.9" height="0.9"/><rect x="184.8" y="313.6" width="0.9" height="0.9"/><rect x="178.3" y="315.6" width="0.9" height="0.9"/><rect x="183.3" y="315.2" width="0.9" height="0.9"/><rect x="181.5" y="314.9" width="0.9" height="0.9"/><rect x="175.4" y="311.7" width="0.9" height="0.9"/><rect x="178.5" y="318.4" width="0.9" height="0.9"/><rect x="182.9" y="311.7" width="0.9" height="0.9"/><rect x="176.8" y="316.5" width="0.9" height="0.9"/><rect x="188.1" y="313.3" width="0.9" height="0.9"/><rect x="175.6" y="315.9" width="0.9" height="0.9"/><rect x="170.3" y="314.9" width="0.9" height="0.9"/><rect x="179.4" y="313.6" width="0.9" height="0.9"/><rect x="185.0" y="315.0" width="0.9" height="0.9"/><rect x="184.6" y="315.5" width="0.9" height="0.9"/><rect x="174.1" y="312.3" width="0.9" height="0.9"/><rect x="185.9" y="320.4" width="0.9" height="0.9"/><rect x="177.7" y="309.7" width="0.9" height="0.9"/><rect x="182.4" y="317.5" width="0.9" height="0.9"/><rect x="175.9" y="319.3" width="0.9" height="0.9"/><rect x="178.5" y="319.5" width="0.9" height="0.9"/><rect x="182.4" y="312.7" width="0.9" height="0.9"/><rect x="186.0" y="307.2" width="0.9" height="0.9"/><rect x="179.4" y="321.3" width="0.9" height="0.9"/><rect x="179.3" y="322.9" width="0.9" height="0.9"/><rect x="176.3" y="311.2" width="0.9" height="0.9"/><rect x="178.8" y="314.4" width="0.9" height="0.9"/><rect x="179.0" y="312.9" width="0.9" height="0.9"/><rect x="178.4" y="304.3" width="0.9" height="0.9"/><rect x="175.7" y="314.9" width="0.9" height="0.9"/><rect x="182.1" y="303.2" width="0.9" height="0.9"/><rect x="174.9" y="311.7" width="0.9" height="0.9"/><rect x="177.1" y="317.8" width="0.9" height="0.9"/><rect x="183.1" y="317.0" width="0.9" height="0.9"/><rect x="176.6" y="316.5" width="0.9" height="0.9"/><rect x="185.2" y="313.3" width="0.9" height="0.9"/><rect x="179.4" y="318.3" width="0.9" height="0.9"/><rect x="178.3" y="321.9" width="0.9" height="0.9"/><rect x="179.0" y="313.3" width="0.9" height="0.9"/><rect x="181.3" y="315.7" width="0.9" height="0.9"/><rect x="185.5" y="308.7" width="0.9" height="0.9"/><rect x="178.2" y="316.8" width="0.9" height="0.9"/><rect x="171.6" y="311.6" width="0.9" height="0.9"/><rect x="181.2" y="310.6" width="0.9" height="0.9"/><rect x="181.2" y="307.9" width="0.9" height="0.9"/><rect x="167.2" y="323.0" width="0.9" height="0.9"/><rect x="182.4" y="318.2" width="0.9" height="0.9"/><rect x="181.3" y="313.5" width="0.9" height="0.9"/><rect x="180.2" y="311.3" width="0.9" height="0.9"/><rect x="176.2" y="309.9" width="0.9" height="0.9"/><rect x="179.1" y="310.3" width="0.9" height="0.9"/><rect x="178.1" y="317.3" width="0.9" height="0.9"/><rect x="180.3" y="308.6" width="0.9" height="0.9"/><rect x="185.7" y="306.7" width="0.9" height="0.9"/><rect x="183.9" y="314.4" width="0.9" height="0.9"/><rect x="179.8" y="313.9" width="0.9" height="0.9"/><rect x="187.7" y="311.5" width="0.9" height="0.9"/><rect x="176.8" y="307.5" width="0.9" height="0.9"/><rect x="177.8" y="319.5" width="0.9" height="0.9"/><rect x="177.5" y="310.7" width="0.9" height="0.9"/><rect x="175.3" y="315.0" width="0.9" height="0.9"/><rect x="182.1" y="313.2" width="0.9" height="0.9"/><rect x="181.1" y="308.9" width="0.9" height="0.9"/><rect x="181.6" y="309.8" width="0.9" height="0.9"/><rect x="180.7" y="319.9" width="0.9" height="0.9"/><rect x="178.6" y="313.4" width="0.9" height="0.9"/><rect x="176.9" y="313.5" width="0.9" height="0.9"/><rect x="187.7" y="313.6" width="0.9" height="0.9"/><rect x="181.9" y="312.6" width="0.9" height="0.9"/><rect x="182.7" y="310.9" width="0.9" height="0.9"/><rect x="181.2" y="313.9" width="0.9" height="0.9"/><rect x="182.2" y="318.6" width="0.9" height="0.9"/><rect x="188.4" y="312.9" width="0.9" height="0.9"/><rect x="174.3" y="324.8" width="0.9" height="0.9"/><rect x="180.6" y="310.8" width="0.9" height="0.9"/><rect x="180.7" y="317.4" width="0.9" height="0.9"/><rect x="185.1" y="313.2" width="0.9" height="0.9"/><rect x="179.2" y="313.8" width="0.9" height="0.9"/><rect x="181.8" y="311.4" width="0.9" height="0.9"/><rect x="173.6" y="314.8" width="0.9" height="0.9"/><rect x="178.6" y="315.4" width="0.9" height="0.9"/><rect x="185.2" y="303.7" width="0.9" height="0.9"/><rect x="180.3" y="312.4" width="0.9" height="0.9"/><rect x="182.5" y="317.1" width="0.9" height="0.9"/><rect x="183.4" y="310.1" width="0.9" height="0.9"/><rect x="173.6" y="311.7" width="0.9" height="0.9"/><rect x="180.7" y="317.9" width="0.9" height="0.9"/><rect x="178.8" y="316.8" width="0.9" height="0.9"/><rect x="182.3" y="313.2" width="0.9" height="0.9"/><rect x="182.8" y="310.7" width="0.9" height="0.9"/><rect x="172.8" y="313.0" width="0.9" height="0.9"/><rect x="181.7" y="310.4" width="0.9" height="0.9"/><rect x="178.9" y="317.3" width="0.9" height="0.9"/><rect x="178.8" y="321.4" width="0.9" height="0.9"/><rect x="180.3" y="310.6" width="0.9" height="0.9"/><rect x="178.1" y="319.0" width="0.9" height="0.9"/><rect x="172.4" y="315.5" width="0.9" height="0.9"/><rect x="179.0" y="314.6" width="0.9" height="0.9"/><rect x="179.4" y="315.1" width="0.9" height="0.9"/><rect x="176.8" y="314.7" width="0.9" height="0.9"/><rect x="185.0" y="312.3" width="0.9" height="0.9"/><rect x="180.1" y="320.3" width="0.9" height="0.9"/><rect x="170.5" y="319.9" width="0.9" height="0.9"/><rect x="183.2" y="315.0" width="0.9" height="0.9"/><rect x="178.3" y="312.6" width="0.9" height="0.9"/><rect x="180.6" y="311.8" width="0.9" height="0.9"/><rect x="174.9" y="304.5" width="0.9" height="0.9"/><rect x="178.6" y="310.7" width="0.9" height="0.9"/><rect x="183.9" y="313.6" width="0.9" height="0.9"/><rect x="180.8" y="310.8" width="0.9" height="0.9"/><rect x="179.7" y="311.8" width="0.9" height="0.9"/><rect x="179.2" y="313.1" width="0.9" height="0.9"/><rect x="178.9" y="322.2" width="0.9" height="0.9"/><rect x="177.5" y="306.1" width="0.9" height="0.9"/><rect x="179.5" y="307.5" width="0.9" height="0.9"/><rect x="176.4" y="313.0" width="0.9" height="0.9"/><rect x="176.8" y="316.3" width="0.9" height="0.9"/><rect x="174.3" y="310.8" width="0.9" height="0.9"/><rect x="179.2" y="315.1" width="0.9" height="0.9"/><rect x="185.0" y="307.9" width="0.9" height="0.9"/><rect x="172.9" y="316.3" width="0.9" height="0.9"/><rect x="179.5" y="309.7" width="0.9" height="0.9"/><rect x="176.7" y="317.7" width="0.9" height="0.9"/><rect x="178.9" y="314.7" width="0.9" height="0.9"/><rect x="174.3" y="313.4" width="0.9" height="0.9"/><rect x="176.9" y="314.5" width="0.9" height="0.9"/><rect x="178.0" y="316.2" width="0.9" height="0.9"/><rect x="181.9" y="314.1" width="0.9" height="0.9"/><rect x="178.8" y="310.1" width="0.9" height="0.9"/><rect x="175.5" y="319.5" width="0.9" height="0.9"/><rect x="178.8" y="314.4" width="0.9" height="0.9"/><rect x="173.3" y="316.7" width="0.9" height="0.9"/><rect x="174.2" y="313.4" width="0.9" height="0.9"/><rect x="173.0" y="311.5" width="0.9" height="0.9"/><rect x="181.2" y="317.2" width="0.9" height="0.9"/><rect x="175.8" y="316.3" width="0.9" height="0.9"/><rect x="175.4" y="319.1" width="0.9" height="0.9"/><rect x="183.8" y="305.2" width="0.9" height="0.9"/><rect x="180.4" y="318.8" width="0.9" height="0.9"/><rect x="180.3" y="313.3" width="0.9" height="0.9"/><rect x="169.8" y="319.4" width="0.9" height="0.9"/><rect x="185.2" y="315.6" width="0.9" height="0.9"/><rect x="180.1" y="310.6" width="0.9" height="0.9"/><rect x="172.1" y="310.7" width="0.9" height="0.9"/><rect x="176.3" y="320.3" width="0.9" height="0.9"/><rect x="175.4" y="310.5" width="0.9" height="0.9"/><rect x="180.7" y="305.5" width="0.9" height="0.9"/><rect x="183.1" y="309.6" width="0.9" height="0.9"/><rect x="181.3" y="315.1" width="0.9" height="0.9"/><rect x="182.1" y="317.0" width="0.9" height="0.9"/><rect x="178.0" y="313.1" width="0.9" height="0.9"/><rect x="173.0" y="311.7" width="0.9" height="0.9"/><rect x="177.6" y="318.8" width="0.9" height="0.9"/><rect x="184.7" y="315.7" width="0.9" height="0.9"/><rect x="191.2" y="308.4" width="0.9" height="0.9"/><rect x="178.0" y="308.8" width="0.9" height="0.9"/><rect x="181.9" y="321.1" width="0.9" height="0.9"/><rect x="180.5" y="312.2" width="0.9" height="0.9"/><rect x="176.1" y="307.7" width="0.9" height="0.9"/><rect x="172.5" y="312.6" width="0.9" height="0.9"/><rect x="171.2" y="322.3" width="0.9" height="0.9"/><rect x="182.2" y="310.8" width="0.9" height="0.9"/><rect x="178.0" y="310.2" width="0.9" height="0.9"/><rect x="181.9" y="315.0" width="0.9" height="0.9"/><rect x="188.0" y="314.2" width="0.9" height="0.9"/><rect x="180.3" y="312.3" width="0.9" height="0.9"/><rect x="173.9" y="314.6" width="0.9" height="0.9"/><rect x="182.2" y="313.9" width="0.9" height="0.9"/><rect x="181.9" y="318.8" width="0.9" height="0.9"/><rect x="181.3" y="312.3" width="0.9" height="0.9"/><rect x="177.9" y="314.8" width="0.9" height="0.9"/><rect x="172.7" y="313.9" width="0.9" height="0.9"/><rect x="178.8" y="311.4" width="0.9" height="0.9"/><rect x="179.8" y="318.3" width="0.9" height="0.9"/><rect x="180.3" y="318.4" width="0.9" height="0.9"/><rect x="181.5" y="318.5" width="0.9" height="0.9"/><rect x="177.0" y="307.7" width="0.9" height="0.9"/><rect x="183.3" y="310.0" width="0.9" height="0.9"/><rect x="170.7" y="319.9" width="0.9" height="0.9"/><rect x="176.6" y="309.9" width="0.9" height="0.9"/><rect x="177.1" y="317.3" width="0.9" height="0.9"/><rect x="186.6" y="313.4" width="0.9" height="0.9"/><rect x="185.8" y="313.8" width="0.9" height="0.9"/><rect x="166.9" y="319.0" width="0.9" height="0.9"/><rect x="174.0" y="305.8" width="0.9" height="0.9"/><rect x="183.5" y="314.5" width="0.9" height="0.9"/><rect x="174.6" y="315.1" width="0.9" height="0.9"/><rect x="174.6" y="316.7" width="0.9" height="0.9"/><rect x="178.4" y="314.1" width="0.9" height="0.9"/><rect x="175.1" y="318.1" width="0.9" height="0.9"/><rect x="179.0" y="317.8" width="0.9" height="0.9"/><rect x="176.9" y="308.9" width="0.9" height="0.9"/><rect x="172.7" y="318.3" width="0.9" height="0.9"/><rect x="177.5" y="316.8" width="0.9" height="0.9"/><rect x="181.9" y="311.8" width="0.9" height="0.9"/><rect x="169.2" y="315.4" width="0.9" height="0.9"/><rect x="178.8" y="309.4" width="0.9" height="0.9"/></g>
<polyline points="186.3,347.9 221.8,347.9 221.8,308.3" fill="none" stroke="#9a9a9a" stroke-width="0.8"/>
<polygon points="143,269.4 221.2,269.4 221.2,308.3 197.2,308.3 186.3,325.8 186.3,347.9 143,347.9" fill="none" stroke="#111" stroke-width="1.4"/>
<text x="0" y="0" font-size="7.8" font-weight="bold" text-anchor="middle" fill="#111" stroke="#111" stroke-width="0.28" transform="translate(137.4,285) rotate(-90)">CD24</text>
<text x="213.7" y="359.1" font-size="7.8" font-weight="bold" text-anchor="end" fill="#111" stroke="#111" stroke-width="0.28" >CD38</text>
<line x1="217" y1="344" x2="217" y2="365" stroke="#111" stroke-width="1.1"/>
<text x="188.3" y="377.2" font-size="8.15" font-weight="bold" text-anchor="start" fill="#111" stroke="#111" stroke-width="0.28" >Plasmablast</text>
<line x1="217" y1="286.9" x2="234" y2="286.9" stroke="#111" stroke-width="1.1"/>
<polygon points="233.3,284.2 244.4,286.9 233.3,289.8" fill="#111"/>
<g fill="#9a9ab4" fill-opacity="0.45"><rect x="271.2" y="310.8" width="0.9" height="0.9"/><rect x="286.2" y="318.5" width="0.9" height="0.9"/><rect x="271.3" y="342.8" width="0.9" height="0.9"/><rect x="268.6" y="299.9" width="0.9" height="0.9"/><rect x="282.5" y="329.5" width="0.9" height="0.9"/><rect x="288.2" y="343.5" width="0.9" height="0.9"/><rect x="295.2" y="326.9" width="0.9" height="0.9"/><rect x="290.9" y="327.2" width="0.9" height="0.9"/><rect x="268.2" y="329.7" width="0.9" height="0.9"/><rect x="275.8" y="315.3" width="0.9" height="0.9"/><rect x="299.3" y="329.1" width="0.9" height="0.9"/><rect x="269.3" y="317.2" width="0.9" height="0.9"/><rect x="303.5" y="314.8" width="0.9" height="0.9"/><rect x="284.1" y="327.1" width="0.9" height="0.9"/><rect x="281.4" y="326.6" width="0.9" height="0.9"/><rect x="269.4" y="311.8" width="0.9" height="0.9"/><rect x="273.3" y="313.3" width="0.9" height="0.9"/><rect x="285.0" y="340.2" width="0.9" height="0.9"/><rect x="264.4" y="326.1" width="0.9" height="0.9"/><rect x="263.3" y="308.5" width="0.9" height="0.9"/><rect x="272.3" y="319.9" width="0.9" height="0.9"/><rect x="292.1" y="314.5" width="0.9" height="0.9"/><rect x="267.5" y="328.0" width="0.9" height="0.9"/><rect x="268.0" y="298.1" width="0.9" height="0.9"/><rect x="281.2" y="324.3" width="0.9" height="0.9"/><rect x="265.2" y="330.2" width="0.9" height="0.9"/><rect x="279.8" y="302.2" width="0.9" height="0.9"/><rect x="296.5" y="322.1" width="0.9" height="0.9"/><rect x="261.4" y="324.7" width="0.9" height="0.9"/><rect x="276.8" y="332.1" width="0.9" height="0.9"/><rect x="258.8" y="333.1" width="0.9" height="0.9"/><rect x="286.7" y="328.2" width="0.9" height="0.9"/><rect x="282.6" y="337.0" width="0.9" height="0.9"/><rect x="283.9" y="320.1" width="0.9" height="0.9"/><rect x="265.0" y="334.1" width="0.9" height="0.9"/><rect x="287.2" y="322.5" width="0.9" height="0.9"/><rect x="277.1" y="328.6" width="0.9" height="0.9"/><rect x="288.0" y="345.2" width="0.9" height="0.9"/><rect x="269.4" y="324.4" width="0.9" height="0.9"/><rect x="274.3" y="286.7" width="0.9" height="0.9"/><rect x="284.0" y="318.0" width="0.9" height="0.9"/><rect x="276.0" y="304.9" width="0.9" height="0.9"/><rect x="274.6" y="319.4" width="0.9" height="0.9"/><rect x="290.7" y="322.4" width="0.9" height="0.9"/><rect x="317.6" y="312.4" width="0.9" height="0.9"/><rect x="271.9" y="317.5" width="0.9" height="0.9"/><rect x="265.3" y="339.7" width="0.9" height="0.9"/><rect x="283.0" y="300.1" width="0.9" height="0.9"/><rect x="276.4" y="334.5" width="0.9" height="0.9"/><rect x="280.2" y="312.4" width="0.9" height="0.9"/><rect x="268.3" y="345.0" width="0.9" height="0.9"/><rect x="272.2" y="308.2" width="0.9" height="0.9"/><rect x="272.5" y="328.0" width="0.9" height="0.9"/><rect x="267.0" y="297.9" width="0.9" height="0.9"/><rect x="291.5" y="339.1" width="0.9" height="0.9"/><rect x="266.7" y="322.5" width="0.9" height="0.9"/><rect x="258.9" y="310.3" width="0.9" height="0.9"/><rect x="301.4" y="300.3" width="0.9" height="0.9"/><rect x="275.4" y="303.0" width="0.9" height="0.9"/><rect x="278.4" y="299.7" width="0.9" height="0.9"/><rect x="267.9" y="328.5" width="0.9" height="0.9"/><rect x="273.2" y="299.6" width="0.9" height="0.9"/><rect x="293.3" y="319.9" width="0.9" height="0.9"/><rect x="292.2" y="303.3" width="0.9" height="0.9"/><rect x="295.6" y="299.1" width="0.9" height="0.9"/><rect x="270.6" y="321.9" width="0.9" height="0.9"/><rect x="268.3" y="327.2" width="0.9" height="0.9"/><rect x="291.3" y="308.9" width="0.9" height="0.9"/><rect x="258.4" y="312.5" width="0.9" height="0.9"/><rect x="285.1" y="329.8" width="0.9" height="0.9"/><rect x="270.9" y="304.2" width="0.9" height="0.9"/><rect x="274.9" y="331.9" width="0.9" height="0.9"/><rect x="266.4" y="336.6" width="0.9" height="0.9"/><rect x="277.8" y="322.3" width="0.9" height="0.9"/><rect x="267.5" y="337.5" width="0.9" height="0.9"/><rect x="275.6" y="297.0" width="0.9" height="0.9"/><rect x="285.0" y="312.2" width="0.9" height="0.9"/><rect x="288.2" y="320.6" width="0.9" height="0.9"/><rect x="267.5" y="320.6" width="0.9" height="0.9"/><rect x="269.1" y="306.4" width="0.9" height="0.9"/><rect x="275.3" y="330.0" width="0.9" height="0.9"/><rect x="276.0" y="316.9" width="0.9" height="0.9"/><rect x="268.3" y="326.3" width="0.9" height="0.9"/><rect x="278.4" y="331.8" width="0.9" height="0.9"/><rect x="281.6" y="330.9" width="0.9" height="0.9"/><rect x="274.6" y="333.1" width="0.9" height="0.9"/><rect x="288.4" y="296.6" width="0.9" height="0.9"/><rect x="276.7" y="334.8" width="0.9" height="0.9"/><rect x="275.4" y="303.5" width="0.9" height="0.9"/><rect x="266.4" y="299.2" width="0.9" height="0.9"/><rect x="289.6" y="314.5" width="0.9" height="0.9"/><rect x="269.9" y="305.8" width="0.9" height="0.9"/><rect x="273.4" y="305.3" width="0.9" height="0.9"/><rect x="263.2" y="317.6" width="0.9" height="0.9"/><rect x="272.3" y="324.6" width="0.9" height="0.9"/><rect x="276.8" y="334.9" width="0.9" height="0.9"/><rect x="274.5" y="321.8" width="0.9" height="0.9"/><rect x="277.8" y="306.7" width="0.9" height="0.9"/><rect x="289.5" y="310.2" width="0.9" height="0.9"/><rect x="283.0" y="310.1" width="0.9" height="0.9"/><rect x="286.6" y="331.8" width="0.9" height="0.9"/><rect x="283.6" y="301.5" width="0.9" height="0.9"/><rect x="277.2" y="303.4" width="0.9" height="0.9"/><rect x="267.6" y="310.2" width="0.9" height="0.9"/><rect x="264.8" y="325.1" width="0.9" height="0.9"/><rect x="265.5" y="326.9" width="0.9" height="0.9"/><rect x="277.1" y="309.6" width="0.9" height="0.9"/><rect x="277.1" y="327.9" width="0.9" height="0.9"/><rect x="288.9" y="314.5" width="0.9" height="0.9"/><rect x="296.1" y="326.2" width="0.9" height="0.9"/><rect x="290.1" y="299.0" width="0.9" height="0.9"/><rect x="262.2" y="335.2" width="0.9" height="0.9"/><rect x="272.3" y="324.7" width="0.9" height="0.9"/><rect x="289.6" y="297.7" width="0.9" height="0.9"/><rect x="280.5" y="345.5" width="0.9" height="0.9"/><rect x="284.7" y="319.4" width="0.9" height="0.9"/><rect x="281.9" y="318.2" width="0.9" height="0.9"/><rect x="284.4" y="336.5" width="0.9" height="0.9"/><rect x="272.3" y="326.3" width="0.9" height="0.9"/><rect x="278.7" y="328.6" width="0.9" height="0.9"/><rect x="285.2" y="303.0" width="0.9" height="0.9"/><rect x="289.1" y="330.3" width="0.9" height="0.9"/><rect x="261.8" y="314.1" width="0.9" height="0.9"/><rect x="279.0" y="301.8" width="0.9" height="0.9"/><rect x="265.7" y="305.7" width="0.9" height="0.9"/><rect x="266.6" y="307.2" width="0.9" height="0.9"/><rect x="262.1" y="326.2" width="0.9" height="0.9"/><rect x="272.4" y="306.5" width="0.9" height="0.9"/><rect x="287.0" y="310.1" width="0.9" height="0.9"/><rect x="285.9" y="300.7" width="0.9" height="0.9"/><rect x="292.0" y="311.8" width="0.9" height="0.9"/><rect x="263.6" y="323.9" width="0.9" height="0.9"/><rect x="258.9" y="302.9" width="0.9" height="0.9"/><rect x="277.9" y="311.3" width="0.9" height="0.9"/><rect x="279.9" y="320.1" width="0.9" height="0.9"/><rect x="278.1" y="320.0" width="0.9" height="0.9"/><rect x="283.6" y="318.1" width="0.9" height="0.9"/><rect x="288.4" y="331.4" width="0.9" height="0.9"/><rect x="293.8" y="311.9" width="0.9" height="0.9"/><rect x="277.3" y="316.5" width="0.9" height="0.9"/><rect x="266.5" y="319.0" width="0.9" height="0.9"/></g>
<g fill="#7676e0" fill-opacity="0.4"><rect x="269.3" y="303.3" width="0.9" height="0.9"/><rect x="265.7" y="301.9" width="0.9" height="0.9"/><rect x="275.9" y="304.3" width="0.9" height="0.9"/><rect x="282.1" y="297.7" width="0.9" height="0.9"/><rect x="270.9" y="296.5" width="0.9" height="0.9"/><rect x="264.0" y="298.3" width="0.9" height="0.9"/><rect x="270.7" y="303.3" width="0.9" height="0.9"/><rect x="270.6" y="314.4" width="0.9" height="0.9"/><rect x="277.8" y="292.5" width="0.9" height="0.9"/><rect x="271.8" y="297.2" width="0.9" height="0.9"/><rect x="264.2" y="307.5" width="0.9" height="0.9"/><rect x="270.2" y="288.7" width="0.9" height="0.9"/><rect x="272.2" y="299.3" width="0.9" height="0.9"/><rect x="262.0" y="293.4" width="0.9" height="0.9"/><rect x="265.0" y="299.5" width="0.9" height="0.9"/><rect x="266.3" y="300.3" width="0.9" height="0.9"/><rect x="284.0" y="298.6" width="0.9" height="0.9"/><rect x="263.9" y="297.9" width="0.9" height="0.9"/><rect x="278.4" y="298.0" width="0.9" height="0.9"/><rect x="281.7" y="295.0" width="0.9" height="0.9"/><rect x="262.0" y="298.7" width="0.9" height="0.9"/><rect x="263.9" y="295.6" width="0.9" height="0.9"/><rect x="272.0" y="305.5" width="0.9" height="0.9"/><rect x="270.7" y="299.1" width="0.9" height="0.9"/><rect x="279.0" y="304.9" width="0.9" height="0.9"/><rect x="266.4" y="307.3" width="0.9" height="0.9"/><rect x="262.7" y="300.2" width="0.9" height="0.9"/><rect x="274.4" y="301.5" width="0.9" height="0.9"/><rect x="264.9" y="301.8" width="0.9" height="0.9"/><rect x="266.3" y="296.2" width="0.9" height="0.9"/><rect x="260.5" y="306.7" width="0.9" height="0.9"/><rect x="264.1" y="306.5" width="0.9" height="0.9"/><rect x="272.7" y="299.6" width="0.9" height="0.9"/><rect x="274.1" y="303.1" width="0.9" height="0.9"/><rect x="272.2" y="292.7" width="0.9" height="0.9"/><rect x="269.0" y="305.9" width="0.9" height="0.9"/><rect x="271.9" y="307.1" width="0.9" height="0.9"/><rect x="280.0" y="305.2" width="0.9" height="0.9"/><rect x="285.9" y="294.6" width="0.9" height="0.9"/><rect x="275.5" y="302.3" width="0.9" height="0.9"/><rect x="282.4" y="300.9" width="0.9" height="0.9"/><rect x="261.2" y="291.1" width="0.9" height="0.9"/><rect x="267.5" y="304.0" width="0.9" height="0.9"/><rect x="265.6" y="300.9" width="0.9" height="0.9"/><rect x="268.9" y="301.2" width="0.9" height="0.9"/><rect x="273.7" y="302.4" width="0.9" height="0.9"/><rect x="272.1" y="295.4" width="0.9" height="0.9"/><rect x="268.2" y="303.0" width="0.9" height="0.9"/><rect x="277.4" y="301.4" width="0.9" height="0.9"/><rect x="269.8" y="302.7" width="0.9" height="0.9"/><rect x="273.5" y="302.6" width="0.9" height="0.9"/><rect x="268.3" y="297.2" width="0.9" height="0.9"/><rect x="277.5" y="304.0" width="0.9" height="0.9"/><rect x="265.6" y="321.0" width="0.9" height="0.9"/><rect x="275.0" y="306.9" width="0.9" height="0.9"/><rect x="271.9" y="294.8" width="0.9" height="0.9"/><rect x="278.0" y="301.7" width="0.9" height="0.9"/><rect x="268.7" y="306.7" width="0.9" height="0.9"/><rect x="276.7" y="303.5" width="0.9" height="0.9"/><rect x="267.2" y="312.9" width="0.9" height="0.9"/><rect x="275.0" y="295.4" width="0.9" height="0.9"/><rect x="274.9" y="302.6" width="0.9" height="0.9"/><rect x="269.0" y="304.6" width="0.9" height="0.9"/><rect x="268.9" y="312.7" width="0.9" height="0.9"/><rect x="270.7" y="302.3" width="0.9" height="0.9"/><rect x="278.8" y="299.0" width="0.9" height="0.9"/><rect x="277.1" y="301.7" width="0.9" height="0.9"/><rect x="279.3" y="297.3" width="0.9" height="0.9"/><rect x="274.5" y="291.8" width="0.9" height="0.9"/><rect x="266.3" y="300.0" width="0.9" height="0.9"/><rect x="270.8" y="312.9" width="0.9" height="0.9"/><rect x="284.7" y="295.4" width="0.9" height="0.9"/><rect x="262.5" y="306.8" width="0.9" height="0.9"/><rect x="274.4" y="293.2" width="0.9" height="0.9"/><rect x="274.5" y="294.7" width="0.9" height="0.9"/><rect x="264.7" y="291.9" width="0.9" height="0.9"/><rect x="265.0" y="313.4" width="0.9" height="0.9"/><rect x="272.5" y="300.5" width="0.9" height="0.9"/><rect x="288.6" y="301.6" width="0.9" height="0.9"/><rect x="268.8" y="298.8" width="0.9" height="0.9"/><rect x="273.0" y="299.4" width="0.9" height="0.9"/><rect x="280.6" y="301.0" width="0.9" height="0.9"/><rect x="273.4" y="302.7" width="0.9" height="0.9"/><rect x="264.4" y="293.5" width="0.9" height="0.9"/><rect x="271.9" y="287.0" width="0.9" height="0.9"/><rect x="269.6" y="301.0" width="0.9" height="0.9"/><rect x="270.7" y="300.3" width="0.9" height="0.9"/><rect x="272.6" y="299.0" width="0.9" height="0.9"/><rect x="276.2" y="291.9" width="0.9" height="0.9"/><rect x="277.3" y="296.7" width="0.9" height="0.9"/><rect x="273.7" y="298.5" width="0.9" height="0.9"/><rect x="267.4" y="295.3" width="0.9" height="0.9"/><rect x="280.7" y="296.2" width="0.9" height="0.9"/><rect x="260.4" y="300.0" width="0.9" height="0.9"/><rect x="271.4" y="301.2" width="0.9" height="0.9"/><rect x="263.3" y="295.3" width="0.9" height="0.9"/><rect x="277.4" y="295.8" width="0.9" height="0.9"/><rect x="273.2" y="305.7" width="0.9" height="0.9"/><rect x="272.0" y="293.6" width="0.9" height="0.9"/><rect x="283.4" y="304.1" width="0.9" height="0.9"/><rect x="271.4" y="298.7" width="0.9" height="0.9"/><rect x="262.9" y="297.6" width="0.9" height="0.9"/><rect x="272.0" y="295.9" width="0.9" height="0.9"/><rect x="269.0" y="307.5" width="0.9" height="0.9"/><rect x="272.9" y="300.6" width="0.9" height="0.9"/><rect x="276.2" y="307.5" width="0.9" height="0.9"/><rect x="277.1" y="297.2" width="0.9" height="0.9"/><rect x="270.4" y="298.5" width="0.9" height="0.9"/><rect x="273.6" y="298.6" width="0.9" height="0.9"/><rect x="262.9" y="310.2" width="0.9" height="0.9"/><rect x="274.9" y="312.5" width="0.9" height="0.9"/><rect x="270.8" y="303.9" width="0.9" height="0.9"/><rect x="262.8" y="299.4" width="0.9" height="0.9"/><rect x="269.5" y="299.9" width="0.9" height="0.9"/><rect x="264.7" y="306.7" width="0.9" height="0.9"/><rect x="266.6" y="300.2" width="0.9" height="0.9"/><rect x="267.6" y="312.0" width="0.9" height="0.9"/><rect x="260.2" y="306.8" width="0.9" height="0.9"/><rect x="280.0" y="301.9" width="0.9" height="0.9"/><rect x="266.5" y="292.4" width="0.9" height="0.9"/><rect x="260.8" y="311.3" width="0.9" height="0.9"/><rect x="262.2" y="310.6" width="0.9" height="0.9"/><rect x="273.5" y="293.1" width="0.9" height="0.9"/><rect x="265.5" y="300.9" width="0.9" height="0.9"/><rect x="271.6" y="295.2" width="0.9" height="0.9"/><rect x="268.0" y="297.5" width="0.9" height="0.9"/><rect x="272.8" y="302.9" width="0.9" height="0.9"/><rect x="271.9" y="297.5" width="0.9" height="0.9"/><rect x="276.0" y="298.4" width="0.9" height="0.9"/><rect x="264.0" y="296.8" width="0.9" height="0.9"/><rect x="267.6" y="298.3" width="0.9" height="0.9"/><rect x="272.6" y="309.2" width="0.9" height="0.9"/><rect x="265.8" y="304.4" width="0.9" height="0.9"/><rect x="271.0" y="301.0" width="0.9" height="0.9"/><rect x="283.4" y="299.8" width="0.9" height="0.9"/><rect x="275.8" y="291.3" width="0.9" height="0.9"/><rect x="273.9" y="300.4" width="0.9" height="0.9"/><rect x="262.8" y="295.6" width="0.9" height="0.9"/><rect x="276.3" y="307.9" width="0.9" height="0.9"/><rect x="265.8" y="290.8" width="0.9" height="0.9"/><rect x="260.8" y="291.0" width="0.9" height="0.9"/><rect x="261.5" y="312.2" width="0.9" height="0.9"/><rect x="260.4" y="303.3" width="0.9" height="0.9"/><rect x="279.8" y="296.9" width="0.9" height="0.9"/><rect x="266.8" y="304.1" width="0.9" height="0.9"/><rect x="263.3" y="306.9" width="0.9" height="0.9"/><rect x="285.3" y="303.5" width="0.9" height="0.9"/><rect x="262.8" y="302.8" width="0.9" height="0.9"/><rect x="272.9" y="296.7" width="0.9" height="0.9"/><rect x="268.4" y="300.8" width="0.9" height="0.9"/><rect x="271.9" y="308.0" width="0.9" height="0.9"/><rect x="267.6" y="292.2" width="0.9" height="0.9"/><rect x="267.0" y="297.5" width="0.9" height="0.9"/><rect x="286.3" y="310.8" width="0.9" height="0.9"/><rect x="286.2" y="302.9" width="0.9" height="0.9"/><rect x="265.1" y="296.4" width="0.9" height="0.9"/><rect x="273.8" y="304.0" width="0.9" height="0.9"/><rect x="269.8" y="314.4" width="0.9" height="0.9"/><rect x="280.8" y="296.2" width="0.9" height="0.9"/><rect x="272.1" y="304.7" width="0.9" height="0.9"/><rect x="261.4" y="313.1" width="0.9" height="0.9"/><rect x="274.5" y="310.8" width="0.9" height="0.9"/><rect x="267.0" y="293.0" width="0.9" height="0.9"/><rect x="275.3" y="300.5" width="0.9" height="0.9"/><rect x="265.4" y="299.2" width="0.9" height="0.9"/><rect x="270.9" y="301.7" width="0.9" height="0.9"/><rect x="267.5" y="303.0" width="0.9" height="0.9"/><rect x="289.5" y="311.8" width="0.9" height="0.9"/><rect x="263.4" y="311.8" width="0.9" height="0.9"/><rect x="267.9" y="290.7" width="0.9" height="0.9"/><rect x="279.3" y="295.8" width="0.9" height="0.9"/><rect x="259.7" y="295.1" width="0.9" height="0.9"/><rect x="269.5" y="292.9" width="0.9" height="0.9"/><rect x="265.3" y="299.6" width="0.9" height="0.9"/><rect x="275.4" y="295.9" width="0.9" height="0.9"/><rect x="273.3" y="302.8" width="0.9" height="0.9"/><rect x="274.2" y="298.2" width="0.9" height="0.9"/><rect x="259.8" y="304.4" width="0.9" height="0.9"/><rect x="274.6" y="297.4" width="0.9" height="0.9"/><rect x="262.9" y="303.4" width="0.9" height="0.9"/><rect x="283.9" y="305.7" width="0.9" height="0.9"/><rect x="287.7" y="306.1" width="0.9" height="0.9"/><rect x="271.4" y="303.9" width="0.9" height="0.9"/><rect x="279.3" y="293.2" width="0.9" height="0.9"/><rect x="269.1" y="308.2" width="0.9" height="0.9"/><rect x="273.0" y="311.7" width="0.9" height="0.9"/><rect x="281.1" y="302.7" width="0.9" height="0.9"/><rect x="286.1" y="297.1" width="0.9" height="0.9"/><rect x="275.8" y="294.8" width="0.9" height="0.9"/><rect x="276.5" y="307.3" width="0.9" height="0.9"/><rect x="275.4" y="299.0" width="0.9" height="0.9"/><rect x="262.1" y="288.6" width="0.9" height="0.9"/><rect x="268.1" y="299.3" width="0.9" height="0.9"/><rect x="266.4" y="296.4" width="0.9" height="0.9"/><rect x="277.7" y="295.2" width="0.9" height="0.9"/><rect x="261.7" y="311.1" width="0.9" height="0.9"/><rect x="265.6" y="295.8" width="0.9" height="0.9"/><rect x="279.5" y="291.4" width="0.9" height="0.9"/><rect x="283.0" y="295.4" width="0.9" height="0.9"/><rect x="264.9" y="291.7" width="0.9" height="0.9"/><rect x="263.3" y="294.7" width="0.9" height="0.9"/><rect x="276.5" y="301.5" width="0.9" height="0.9"/><rect x="278.8" y="307.2" width="0.9" height="0.9"/><rect x="260.3" y="298.8" width="0.9" height="0.9"/><rect x="265.5" y="297.1" width="0.9" height="0.9"/><rect x="270.0" y="302.9" width="0.9" height="0.9"/><rect x="275.3" y="288.6" width="0.9" height="0.9"/><rect x="268.9" y="297.5" width="0.9" height="0.9"/><rect x="283.5" y="301.8" width="0.9" height="0.9"/><rect x="269.2" y="300.5" width="0.9" height="0.9"/><rect x="276.6" y="294.9" width="0.9" height="0.9"/><rect x="268.7" y="299.6" width="0.9" height="0.9"/><rect x="269.7" y="299.0" width="0.9" height="0.9"/><rect x="265.4" y="300.2" width="0.9" height="0.9"/><rect x="271.6" y="289.7" width="0.9" height="0.9"/><rect x="266.3" y="305.7" width="0.9" height="0.9"/><rect x="268.2" y="299.3" width="0.9" height="0.9"/><rect x="272.3" y="288.9" width="0.9" height="0.9"/><rect x="264.4" y="308.5" width="0.9" height="0.9"/><rect x="274.1" y="292.2" width="0.9" height="0.9"/><rect x="265.1" y="301.1" width="0.9" height="0.9"/><rect x="284.5" y="305.0" width="0.9" height="0.9"/><rect x="275.3" y="299.7" width="0.9" height="0.9"/><rect x="271.0" y="294.6" width="0.9" height="0.9"/><rect x="261.4" y="290.4" width="0.9" height="0.9"/><rect x="263.6" y="307.0" width="0.9" height="0.9"/><rect x="267.8" y="307.5" width="0.9" height="0.9"/><rect x="275.0" y="302.6" width="0.9" height="0.9"/><rect x="263.2" y="312.5" width="0.9" height="0.9"/><rect x="276.4" y="309.6" width="0.9" height="0.9"/><rect x="286.2" y="313.2" width="0.9" height="0.9"/><rect x="270.7" y="303.1" width="0.9" height="0.9"/><rect x="270.9" y="314.7" width="0.9" height="0.9"/><rect x="264.2" y="288.2" width="0.9" height="0.9"/><rect x="265.9" y="299.8" width="0.9" height="0.9"/><rect x="264.1" y="305.1" width="0.9" height="0.9"/><rect x="274.0" y="301.2" width="0.9" height="0.9"/><rect x="267.8" y="312.0" width="0.9" height="0.9"/><rect x="282.2" y="313.8" width="0.9" height="0.9"/><rect x="265.3" y="307.3" width="0.9" height="0.9"/><rect x="263.2" y="288.0" width="0.9" height="0.9"/><rect x="281.1" y="308.3" width="0.9" height="0.9"/><rect x="272.9" y="310.0" width="0.9" height="0.9"/><rect x="281.6" y="304.8" width="0.9" height="0.9"/><rect x="270.9" y="304.6" width="0.9" height="0.9"/><rect x="275.7" y="303.0" width="0.9" height="0.9"/><rect x="264.8" y="296.0" width="0.9" height="0.9"/><rect x="274.1" y="301.2" width="0.9" height="0.9"/><rect x="270.7" y="315.7" width="0.9" height="0.9"/><rect x="280.7" y="300.0" width="0.9" height="0.9"/><rect x="272.1" y="300.8" width="0.9" height="0.9"/><rect x="280.0" y="297.2" width="0.9" height="0.9"/><rect x="264.6" y="289.3" width="0.9" height="0.9"/><rect x="273.0" y="303.7" width="0.9" height="0.9"/><rect x="274.0" y="306.8" width="0.9" height="0.9"/><rect x="261.2" y="296.7" width="0.9" height="0.9"/><rect x="260.2" y="306.3" width="0.9" height="0.9"/><rect x="277.8" y="293.5" width="0.9" height="0.9"/><rect x="273.5" y="302.2" width="0.9" height="0.9"/><rect x="269.7" y="305.0" width="0.9" height="0.9"/><rect x="265.6" y="297.9" width="0.9" height="0.9"/><rect x="265.5" y="295.8" width="0.9" height="0.9"/><rect x="260.6" y="306.0" width="0.9" height="0.9"/><rect x="274.3" y="300.2" width="0.9" height="0.9"/><rect x="269.7" y="302.0" width="0.9" height="0.9"/><rect x="272.4" y="311.8" width="0.9" height="0.9"/><rect x="267.4" y="300.1" width="0.9" height="0.9"/><rect x="263.7" y="308.5" width="0.9" height="0.9"/><rect x="266.0" y="301.9" width="0.9" height="0.9"/><rect x="262.8" y="304.0" width="0.9" height="0.9"/><rect x="263.6" y="304.6" width="0.9" height="0.9"/><rect x="270.5" y="301.9" width="0.9" height="0.9"/><rect x="273.9" y="291.7" width="0.9" height="0.9"/><rect x="266.1" y="301.3" width="0.9" height="0.9"/><rect x="265.4" y="307.2" width="0.9" height="0.9"/><rect x="277.0" y="297.8" width="0.9" height="0.9"/><rect x="278.7" y="301.2" width="0.9" height="0.9"/><rect x="272.3" y="308.8" width="0.9" height="0.9"/><rect x="262.5" y="294.2" width="0.9" height="0.9"/><rect x="269.6" y="299.3" width="0.9" height="0.9"/><rect x="270.7" y="302.2" width="0.9" height="0.9"/><rect x="271.1" y="305.5" width="0.9" height="0.9"/><rect x="263.3" y="301.4" width="0.9" height="0.9"/><rect x="267.1" y="297.3" width="0.9" height="0.9"/><rect x="261.8" y="306.6" width="0.9" height="0.9"/><rect x="275.1" y="299.8" width="0.9" height="0.9"/><rect x="263.6" y="305.9" width="0.9" height="0.9"/><rect x="263.1" y="297.6" width="0.9" height="0.9"/><rect x="273.3" y="298.2" width="0.9" height="0.9"/><rect x="265.8" y="300.3" width="0.9" height="0.9"/><rect x="278.0" y="296.7" width="0.9" height="0.9"/><rect x="273.7" y="301.1" width="0.9" height="0.9"/><rect x="268.7" y="292.4" width="0.9" height="0.9"/><rect x="281.8" y="306.6" width="0.9" height="0.9"/><rect x="272.0" y="299.3" width="0.9" height="0.9"/><rect x="282.3" y="299.3" width="0.9" height="0.9"/><rect x="263.2" y="294.6" width="0.9" height="0.9"/><rect x="268.9" y="302.5" width="0.9" height="0.9"/><rect x="270.4" y="307.4" width="0.9" height="0.9"/><rect x="265.5" y="308.9" width="0.9" height="0.9"/><rect x="285.1" y="300.5" width="0.9" height="0.9"/><rect x="266.5" y="306.1" width="0.9" height="0.9"/><rect x="278.5" y="302.5" width="0.9" height="0.9"/><rect x="280.0" y="293.3" width="0.9" height="0.9"/><rect x="276.0" y="304.7" width="0.9" height="0.9"/><rect x="275.7" y="304.9" width="0.9" height="0.9"/><rect x="275.2" y="299.1" width="0.9" height="0.9"/><rect x="282.4" y="290.6" width="0.9" height="0.9"/><rect x="272.3" y="297.4" width="0.9" height="0.9"/><rect x="285.4" y="296.9" width="0.9" height="0.9"/><rect x="270.6" y="300.8" width="0.9" height="0.9"/><rect x="275.6" y="301.9" width="0.9" height="0.9"/><rect x="262.0" y="298.3" width="0.9" height="0.9"/><rect x="277.4" y="306.9" width="0.9" height="0.9"/><rect x="265.9" y="292.3" width="0.9" height="0.9"/><rect x="260.4" y="298.2" width="0.9" height="0.9"/><rect x="269.0" y="298.4" width="0.9" height="0.9"/><rect x="265.6" y="301.0" width="0.9" height="0.9"/><rect x="278.2" y="308.6" width="0.9" height="0.9"/><rect x="265.6" y="304.7" width="0.9" height="0.9"/><rect x="266.3" y="307.9" width="0.9" height="0.9"/><rect x="276.1" y="307.8" width="0.9" height="0.9"/><rect x="284.8" y="310.2" width="0.9" height="0.9"/><rect x="274.8" y="310.3" width="0.9" height="0.9"/><rect x="262.5" y="297.3" width="0.9" height="0.9"/><rect x="266.2" y="305.3" width="0.9" height="0.9"/><rect x="271.5" y="293.5" width="0.9" height="0.9"/><rect x="264.4" y="298.5" width="0.9" height="0.9"/><rect x="266.9" y="297.4" width="0.9" height="0.9"/><rect x="258.8" y="299.3" width="0.9" height="0.9"/><rect x="260.7" y="296.5" width="0.9" height="0.9"/><rect x="265.5" y="298.0" width="0.9" height="0.9"/><rect x="280.8" y="300.4" width="0.9" height="0.9"/><rect x="262.9" y="300.9" width="0.9" height="0.9"/><rect x="266.4" y="305.0" width="0.9" height="0.9"/><rect x="266.6" y="305.0" width="0.9" height="0.9"/><rect x="270.4" y="307.5" width="0.9" height="0.9"/><rect x="266.6" y="305.6" width="0.9" height="0.9"/><rect x="267.1" y="295.5" width="0.9" height="0.9"/><rect x="279.7" y="294.3" width="0.9" height="0.9"/><rect x="261.0" y="309.0" width="0.9" height="0.9"/><rect x="270.5" y="303.2" width="0.9" height="0.9"/><rect x="271.5" y="300.9" width="0.9" height="0.9"/><rect x="284.2" y="304.0" width="0.9" height="0.9"/><rect x="280.2" y="302.9" width="0.9" height="0.9"/><rect x="264.9" y="298.1" width="0.9" height="0.9"/><rect x="267.0" y="316.0" width="0.9" height="0.9"/><rect x="264.7" y="302.4" width="0.9" height="0.9"/><rect x="268.2" y="302.8" width="0.9" height="0.9"/><rect x="270.9" y="298.2" width="0.9" height="0.9"/><rect x="270.2" y="300.9" width="0.9" height="0.9"/><rect x="277.4" y="301.9" width="0.9" height="0.9"/><rect x="270.3" y="292.9" width="0.9" height="0.9"/><rect x="276.4" y="301.1" width="0.9" height="0.9"/><rect x="261.6" y="306.5" width="0.9" height="0.9"/><rect x="287.6" y="299.1" width="0.9" height="0.9"/><rect x="277.5" y="316.8" width="0.9" height="0.9"/><rect x="292.1" y="317.5" width="0.9" height="0.9"/><rect x="271.5" y="318.6" width="0.9" height="0.9"/><rect x="273.6" y="328.0" width="0.9" height="0.9"/><rect x="279.1" y="334.1" width="0.9" height="0.9"/><rect x="282.7" y="306.3" width="0.9" height="0.9"/><rect x="273.4" y="312.0" width="0.9" height="0.9"/><rect x="284.2" y="328.7" width="0.9" height="0.9"/><rect x="285.0" y="309.4" width="0.9" height="0.9"/><rect x="287.2" y="302.6" width="0.9" height="0.9"/><rect x="286.6" y="309.4" width="0.9" height="0.9"/><rect x="291.2" y="327.4" width="0.9" height="0.9"/><rect x="285.9" y="306.6" width="0.9" height="0.9"/><rect x="285.7" y="320.6" width="0.9" height="0.9"/><rect x="279.6" y="310.0" width="0.9" height="0.9"/><rect x="291.2" y="313.4" width="0.9" height="0.9"/><rect x="284.0" y="330.7" width="0.9" height="0.9"/><rect x="271.2" y="333.4" width="0.9" height="0.9"/><rect x="289.7" y="310.8" width="0.9" height="0.9"/><rect x="277.6" y="303.8" width="0.9" height="0.9"/><rect x="291.2" y="291.6" width="0.9" height="0.9"/><rect x="288.4" y="318.8" width="0.9" height="0.9"/><rect x="278.6" y="311.0" width="0.9" height="0.9"/><rect x="280.4" y="314.0" width="0.9" height="0.9"/><rect x="289.1" y="308.8" width="0.9" height="0.9"/><rect x="288.6" y="327.1" width="0.9" height="0.9"/><rect x="280.3" y="322.5" width="0.9" height="0.9"/><rect x="279.0" y="316.8" width="0.9" height="0.9"/><rect x="283.8" y="336.2" width="0.9" height="0.9"/><rect x="282.4" y="315.0" width="0.9" height="0.9"/><rect x="282.9" y="314.8" width="0.9" height="0.9"/><rect x="273.7" y="334.6" width="0.9" height="0.9"/><rect x="279.1" y="310.3" width="0.9" height="0.9"/><rect x="277.3" y="323.0" width="0.9" height="0.9"/><rect x="288.6" y="320.7" width="0.9" height="0.9"/><rect x="283.4" y="306.5" width="0.9" height="0.9"/><rect x="287.5" y="316.1" width="0.9" height="0.9"/><rect x="296.4" y="315.2" width="0.9" height="0.9"/><rect x="277.9" y="297.6" width="0.9" height="0.9"/><rect x="270.4" y="321.5" width="0.9" height="0.9"/><rect x="285.9" y="305.3" width="0.9" height="0.9"/><rect x="272.3" y="318.4" width="0.9" height="0.9"/><rect x="280.0" y="318.6" width="0.9" height="0.9"/><rect x="283.2" y="308.7" width="0.9" height="0.9"/><rect x="271.1" y="316.8" width="0.9" height="0.9"/><rect x="283.0" y="318.5" width="0.9" height="0.9"/><rect x="287.8" y="326.5" width="0.9" height="0.9"/><rect x="278.8" y="322.1" width="0.9" height="0.9"/><rect x="267.7" y="322.0" width="0.9" height="0.9"/><rect x="281.3" y="326.8" width="0.9" height="0.9"/><rect x="290.0" y="307.8" width="0.9" height="0.9"/><rect x="280.6" y="327.7" width="0.9" height="0.9"/><rect x="278.9" y="316.9" width="0.9" height="0.9"/><rect x="278.0" y="322.1" width="0.9" height="0.9"/><rect x="285.3" y="308.5" width="0.9" height="0.9"/><rect x="275.5" y="293.4" width="0.9" height="0.9"/><rect x="288.6" y="312.6" width="0.9" height="0.9"/><rect x="278.5" y="310.8" width="0.9" height="0.9"/><rect x="275.9" y="322.8" width="0.9" height="0.9"/><rect x="288.9" y="294.5" width="0.9" height="0.9"/><rect x="282.3" y="317.6" width="0.9" height="0.9"/><rect x="280.3" y="317.4" width="0.9" height="0.9"/><rect x="293.2" y="320.9" width="0.9" height="0.9"/><rect x="289.4" y="327.6" width="0.9" height="0.9"/><rect x="270.9" y="333.5" width="0.9" height="0.9"/><rect x="284.2" y="313.9" width="0.9" height="0.9"/><rect x="285.8" y="339.7" width="0.9" height="0.9"/><rect x="278.1" y="309.2" width="0.9" height="0.9"/><rect x="286.7" y="298.9" width="0.9" height="0.9"/><rect x="275.2" y="316.4" width="0.9" height="0.9"/><rect x="286.9" y="322.6" width="0.9" height="0.9"/><rect x="287.0" y="328.1" width="0.9" height="0.9"/><rect x="280.1" y="312.8" width="0.9" height="0.9"/><rect x="280.8" y="313.1" width="0.9" height="0.9"/><rect x="289.0" y="326.1" width="0.9" height="0.9"/><rect x="268.6" y="320.1" width="0.9" height="0.9"/><rect x="276.8" y="304.6" width="0.9" height="0.9"/><rect x="289.7" y="330.9" width="0.9" height="0.9"/><rect x="289.6" y="324.2" width="0.9" height="0.9"/><rect x="295.7" y="306.3" width="0.9" height="0.9"/><rect x="288.8" y="310.3" width="0.9" height="0.9"/><rect x="280.2" y="299.6" width="0.9" height="0.9"/><rect x="290.8" y="335.7" width="0.9" height="0.9"/><rect x="289.0" y="311.3" width="0.9" height="0.9"/><rect x="284.9" y="306.0" width="0.9" height="0.9"/><rect x="279.3" y="331.9" width="0.9" height="0.9"/><rect x="292.5" y="324.6" width="0.9" height="0.9"/><rect x="287.9" y="316.0" width="0.9" height="0.9"/><rect x="285.2" y="315.3" width="0.9" height="0.9"/><rect x="286.5" y="310.6" width="0.9" height="0.9"/><rect x="289.5" y="315.0" width="0.9" height="0.9"/><rect x="284.1" y="315.5" width="0.9" height="0.9"/><rect x="291.8" y="327.0" width="0.9" height="0.9"/><rect x="278.3" y="306.6" width="0.9" height="0.9"/><rect x="286.3" y="318.2" width="0.9" height="0.9"/><rect x="280.9" y="318.8" width="0.9" height="0.9"/><rect x="293.6" y="316.9" width="0.9" height="0.9"/><rect x="292.6" y="312.7" width="0.9" height="0.9"/><rect x="280.8" y="319.7" width="0.9" height="0.9"/><rect x="282.7" y="311.6" width="0.9" height="0.9"/><rect x="276.0" y="312.6" width="0.9" height="0.9"/><rect x="280.0" y="316.4" width="0.9" height="0.9"/><rect x="289.0" y="322.7" width="0.9" height="0.9"/><rect x="290.1" y="319.6" width="0.9" height="0.9"/><rect x="285.0" y="323.4" width="0.9" height="0.9"/><rect x="286.4" y="327.5" width="0.9" height="0.9"/><rect x="278.6" y="320.8" width="0.9" height="0.9"/><rect x="282.8" y="329.3" width="0.9" height="0.9"/><rect x="288.8" y="311.6" width="0.9" height="0.9"/><rect x="284.7" y="324.3" width="0.9" height="0.9"/><rect x="281.8" y="329.5" width="0.9" height="0.9"/><rect x="285.7" y="304.2" width="0.9" height="0.9"/><rect x="283.9" y="324.9" width="0.9" height="0.9"/><rect x="276.7" y="323.3" width="0.9" height="0.9"/><rect x="262.6" y="335.4" width="0.9" height="0.9"/><rect x="274.0" y="311.0" width="0.9" height="0.9"/><rect x="282.0" y="302.3" width="0.9" height="0.9"/><rect x="285.6" y="307.7" width="0.9" height="0.9"/><rect x="276.2" y="292.6" width="0.9" height="0.9"/><rect x="286.0" y="329.0" width="0.9" height="0.9"/><rect x="280.6" y="318.7" width="0.9" height="0.9"/><rect x="292.7" y="321.8" width="0.9" height="0.9"/><rect x="289.2" y="327.7" width="0.9" height="0.9"/><rect x="287.0" y="322.7" width="0.9" height="0.9"/><rect x="290.2" y="319.8" width="0.9" height="0.9"/><rect x="284.3" y="309.7" width="0.9" height="0.9"/><rect x="270.0" y="306.2" width="0.9" height="0.9"/><rect x="279.5" y="327.2" width="0.9" height="0.9"/><rect x="282.4" y="296.7" width="0.9" height="0.9"/><rect x="285.9" y="329.8" width="0.9" height="0.9"/><rect x="284.5" y="320.1" width="0.9" height="0.9"/><rect x="284.6" y="316.4" width="0.9" height="0.9"/><rect x="292.8" y="309.5" width="0.9" height="0.9"/><rect x="279.3" y="301.7" width="0.9" height="0.9"/><rect x="280.1" y="309.6" width="0.9" height="0.9"/><rect x="278.2" y="318.5" width="0.9" height="0.9"/><rect x="291.0" y="303.9" width="0.9" height="0.9"/><rect x="284.3" y="309.9" width="0.9" height="0.9"/><rect x="278.8" y="312.0" width="0.9" height="0.9"/><rect x="286.8" y="300.9" width="0.9" height="0.9"/><rect x="292.7" y="317.1" width="0.9" height="0.9"/><rect x="279.6" y="300.3" width="0.9" height="0.9"/><rect x="289.0" y="324.7" width="0.9" height="0.9"/><rect x="288.4" y="319.1" width="0.9" height="0.9"/><rect x="292.6" y="334.0" width="0.9" height="0.9"/><rect x="296.5" y="321.9" width="0.9" height="0.9"/><rect x="289.4" y="313.8" width="0.9" height="0.9"/><rect x="283.9" y="313.8" width="0.9" height="0.9"/><rect x="283.0" y="317.7" width="0.9" height="0.9"/><rect x="282.9" y="316.9" width="0.9" height="0.9"/><rect x="284.2" y="312.9" width="0.9" height="0.9"/><rect x="278.6" y="311.8" width="0.9" height="0.9"/><rect x="286.3" y="324.7" width="0.9" height="0.9"/><rect x="287.4" y="342.2" width="0.9" height="0.9"/><rect x="275.2" y="324.8" width="0.9" height="0.9"/><rect x="274.7" y="310.3" width="0.9" height="0.9"/><rect x="277.4" y="317.0" width="0.9" height="0.9"/><rect x="289.8" y="333.2" width="0.9" height="0.9"/><rect x="284.0" y="327.0" width="0.9" height="0.9"/><rect x="286.8" y="304.7" width="0.9" height="0.9"/><rect x="294.3" y="311.9" width="0.9" height="0.9"/><rect x="279.3" y="315.8" width="0.9" height="0.9"/><rect x="277.1" y="309.7" width="0.9" height="0.9"/><rect x="288.6" y="307.7" width="0.9" height="0.9"/><rect x="280.2" y="299.1" width="0.9" height="0.9"/><rect x="270.0" y="318.9" width="0.9" height="0.9"/><rect x="285.9" y="313.4" width="0.9" height="0.9"/><rect x="294.9" y="307.9" width="0.9" height="0.9"/><rect x="286.9" y="309.8" width="0.9" height="0.9"/><rect x="282.0" y="321.9" width="0.9" height="0.9"/><rect x="272.4" y="329.8" width="0.9" height="0.9"/><rect x="282.0" y="317.3" width="0.9" height="0.9"/><rect x="281.3" y="320.3" width="0.9" height="0.9"/><rect x="275.8" y="303.9" width="0.9" height="0.9"/><rect x="285.2" y="314.9" width="0.9" height="0.9"/><rect x="279.7" y="319.8" width="0.9" height="0.9"/><rect x="294.0" y="307.5" width="0.9" height="0.9"/><rect x="266.9" y="311.9" width="0.9" height="0.9"/><rect x="271.7" y="313.2" width="0.9" height="0.9"/><rect x="276.3" y="316.6" width="0.9" height="0.9"/><rect x="295.0" y="317.1" width="0.9" height="0.9"/><rect x="272.7" y="304.6" width="0.9" height="0.9"/><rect x="277.2" y="301.5" width="0.9" height="0.9"/><rect x="285.5" y="319.0" width="0.9" height="0.9"/><rect x="288.5" y="325.8" width="0.9" height="0.9"/><rect x="282.4" y="310.8" width="0.9" height="0.9"/><rect x="279.4" y="316.1" width="0.9" height="0.9"/><rect x="279.9" y="300.1" width="0.9" height="0.9"/><rect x="296.6" y="332.5" width="0.9" height="0.9"/><rect x="281.3" y="312.0" width="0.9" height="0.9"/><rect x="279.8" y="321.0" width="0.9" height="0.9"/><rect x="282.8" y="294.4" width="0.9" height="0.9"/><rect x="283.9" y="322.4" width="0.9" height="0.9"/><rect x="275.1" y="301.4" width="0.9" height="0.9"/><rect x="283.2" y="305.5" width="0.9" height="0.9"/><rect x="288.5" y="326.0" width="0.9" height="0.9"/><rect x="270.8" y="320.4" width="0.9" height="0.9"/><rect x="273.8" y="308.5" width="0.9" height="0.9"/><rect x="291.7" y="314.9" width="0.9" height="0.9"/><rect x="287.4" y="312.8" width="0.9" height="0.9"/><rect x="295.9" y="318.1" width="0.9" height="0.9"/><rect x="302.2" y="324.5" width="0.9" height="0.9"/><rect x="280.2" y="317.3" width="0.9" height="0.9"/><rect x="279.4" y="332.1" width="0.9" height="0.9"/><rect x="274.9" y="325.1" width="0.9" height="0.9"/><rect x="291.3" y="328.8" width="0.9" height="0.9"/><rect x="272.7" y="329.2" width="0.9" height="0.9"/><rect x="287.1" y="328.9" width="0.9" height="0.9"/><rect x="275.9" y="317.9" width="0.9" height="0.9"/><rect x="290.3" y="318.8" width="0.9" height="0.9"/><rect x="284.5" y="312.7" width="0.9" height="0.9"/><rect x="281.5" y="317.0" width="0.9" height="0.9"/><rect x="299.7" y="317.3" width="0.9" height="0.9"/><rect x="280.4" y="306.0" width="0.9" height="0.9"/><rect x="285.3" y="319.0" width="0.9" height="0.9"/><rect x="281.0" y="299.2" width="0.9" height="0.9"/><rect x="295.5" y="316.5" width="0.9" height="0.9"/><rect x="277.7" y="319.0" width="0.9" height="0.9"/><rect x="277.0" y="313.6" width="0.9" height="0.9"/><rect x="270.2" y="309.5" width="0.9" height="0.9"/><rect x="264.3" y="323.0" width="0.9" height="0.9"/><rect x="282.5" y="313.5" width="0.9" height="0.9"/><rect x="283.8" y="301.9" width="0.9" height="0.9"/><rect x="282.2" y="316.0" width="0.9" height="0.9"/><rect x="288.8" y="309.1" width="0.9" height="0.9"/><rect x="278.8" y="314.8" width="0.9" height="0.9"/><rect x="283.6" y="317.0" width="0.9" height="0.9"/><rect x="283.1" y="324.9" width="0.9" height="0.9"/><rect x="283.5" y="319.5" width="0.9" height="0.9"/><rect x="282.7" y="301.1" width="0.9" height="0.9"/><rect x="286.4" y="312.2" width="0.9" height="0.9"/><rect x="282.7" y="303.2" width="0.9" height="0.9"/><rect x="292.6" y="328.6" width="0.9" height="0.9"/><rect x="279.5" y="321.3" width="0.9" height="0.9"/><rect x="286.5" y="337.8" width="0.9" height="0.9"/><rect x="282.7" y="326.3" width="0.9" height="0.9"/><rect x="277.0" y="313.2" width="0.9" height="0.9"/><rect x="281.4" y="312.9" width="0.9" height="0.9"/><rect x="274.2" y="321.4" width="0.9" height="0.9"/><rect x="277.0" y="306.6" width="0.9" height="0.9"/><rect x="280.0" y="330.5" width="0.9" height="0.9"/><rect x="290.1" y="315.3" width="0.9" height="0.9"/><rect x="276.4" y="300.9" width="0.9" height="0.9"/><rect x="281.7" y="324.4" width="0.9" height="0.9"/><rect x="288.1" y="315.5" width="0.9" height="0.9"/><rect x="276.6" y="320.3" width="0.9" height="0.9"/><rect x="290.7" y="316.8" width="0.9" height="0.9"/><rect x="286.0" y="313.3" width="0.9" height="0.9"/><rect x="279.5" y="330.6" width="0.9" height="0.9"/><rect x="277.2" y="329.5" width="0.9" height="0.9"/><rect x="280.0" y="316.1" width="0.9" height="0.9"/><rect x="287.2" y="324.0" width="0.9" height="0.9"/><rect x="278.7" y="314.9" width="0.9" height="0.9"/><rect x="282.5" y="317.0" width="0.9" height="0.9"/><rect x="281.1" y="325.0" width="0.9" height="0.9"/><rect x="275.1" y="324.5" width="0.9" height="0.9"/><rect x="290.0" y="304.5" width="0.9" height="0.9"/><rect x="283.1" y="308.4" width="0.9" height="0.9"/></g>
<g fill="#5050c0" fill-opacity="0.55"><rect x="284.0" y="308.0" width="0.9" height="0.9"/><rect x="291.1" y="304.8" width="0.9" height="0.9"/><rect x="288.6" y="304.2" width="0.9" height="0.9"/><rect x="289.1" y="316.0" width="0.9" height="0.9"/><rect x="290.9" y="313.2" width="0.9" height="0.9"/><rect x="287.6" y="313.2" width="0.9" height="0.9"/><rect x="283.6" y="314.0" width="0.9" height="0.9"/><rect x="282.7" y="311.3" width="0.9" height="0.9"/><rect x="288.1" y="315.0" width="0.9" height="0.9"/><rect x="281.9" y="323.1" width="0.9" height="0.9"/><rect x="287.0" y="311.6" width="0.9" height="0.9"/><rect x="287.2" y="312.0" width="0.9" height="0.9"/><rect x="285.3" y="312.2" width="0.9" height="0.9"/><rect x="292.2" y="316.1" width="0.9" height="0.9"/><rect x="285.7" y="317.1" width="0.9" height="0.9"/><rect x="292.5" y="315.0" width="0.9" height="0.9"/><rect x="280.9" y="324.1" width="0.9" height="0.9"/><rect x="282.1" y="311.1" width="0.9" height="0.9"/><rect x="285.1" y="324.5" width="0.9" height="0.9"/><rect x="286.4" y="302.7" width="0.9" height="0.9"/><rect x="288.8" y="312.4" width="0.9" height="0.9"/><rect x="284.3" y="315.7" width="0.9" height="0.9"/><rect x="286.3" y="315.5" width="0.9" height="0.9"/><rect x="283.0" y="319.2" width="0.9" height="0.9"/><rect x="290.6" y="315.6" width="0.9" height="0.9"/><rect x="283.7" y="316.8" width="0.9" height="0.9"/><rect x="288.9" y="310.0" width="0.9" height="0.9"/><rect x="283.2" y="318.1" width="0.9" height="0.9"/><rect x="286.2" y="312.5" width="0.9" height="0.9"/><rect x="286.7" y="314.1" width="0.9" height="0.9"/><rect x="288.6" y="305.7" width="0.9" height="0.9"/><rect x="291.1" y="316.6" width="0.9" height="0.9"/><rect x="282.1" y="317.4" width="0.9" height="0.9"/><rect x="287.0" y="314.4" width="0.9" height="0.9"/><rect x="286.2" y="324.8" width="0.9" height="0.9"/><rect x="285.6" y="321.4" width="0.9" height="0.9"/><rect x="294.0" y="311.7" width="0.9" height="0.9"/><rect x="283.4" y="316.9" width="0.9" height="0.9"/><rect x="281.2" y="311.3" width="0.9" height="0.9"/><rect x="288.6" y="319.8" width="0.9" height="0.9"/><rect x="290.3" y="306.5" width="0.9" height="0.9"/><rect x="292.5" y="318.6" width="0.9" height="0.9"/><rect x="287.7" y="316.9" width="0.9" height="0.9"/><rect x="282.7" y="306.3" width="0.9" height="0.9"/><rect x="279.8" y="321.1" width="0.9" height="0.9"/><rect x="283.8" y="312.2" width="0.9" height="0.9"/><rect x="284.5" y="316.3" width="0.9" height="0.9"/><rect x="287.2" y="315.7" width="0.9" height="0.9"/><rect x="286.4" y="299.4" width="0.9" height="0.9"/><rect x="286.2" y="315.4" width="0.9" height="0.9"/><rect x="289.9" y="314.8" width="0.9" height="0.9"/><rect x="283.6" y="315.2" width="0.9" height="0.9"/><rect x="282.7" y="308.1" width="0.9" height="0.9"/><rect x="282.6" y="314.3" width="0.9" height="0.9"/><rect x="291.4" y="319.3" width="0.9" height="0.9"/><rect x="289.2" y="316.2" width="0.9" height="0.9"/><rect x="287.5" y="312.4" width="0.9" height="0.9"/><rect x="288.4" y="303.3" width="0.9" height="0.9"/><rect x="284.1" y="307.4" width="0.9" height="0.9"/><rect x="287.7" y="317.7" width="0.9" height="0.9"/><rect x="287.5" y="321.8" width="0.9" height="0.9"/><rect x="283.7" y="318.3" width="0.9" height="0.9"/><rect x="292.0" y="315.9" width="0.9" height="0.9"/><rect x="289.6" y="314.4" width="0.9" height="0.9"/><rect x="281.0" y="313.0" width="0.9" height="0.9"/><rect x="283.4" y="313.7" width="0.9" height="0.9"/><rect x="284.2" y="315.0" width="0.9" height="0.9"/><rect x="276.7" y="321.0" width="0.9" height="0.9"/><rect x="290.7" y="313.8" width="0.9" height="0.9"/><rect x="283.3" y="313.2" width="0.9" height="0.9"/><rect x="287.6" y="316.5" width="0.9" height="0.9"/><rect x="289.9" y="306.0" width="0.9" height="0.9"/><rect x="280.8" y="318.8" width="0.9" height="0.9"/><rect x="288.8" y="307.7" width="0.9" height="0.9"/><rect x="285.3" y="307.0" width="0.9" height="0.9"/><rect x="281.4" y="318.2" width="0.9" height="0.9"/><rect x="283.9" y="318.7" width="0.9" height="0.9"/><rect x="288.7" y="307.7" width="0.9" height="0.9"/><rect x="281.0" y="323.4" width="0.9" height="0.9"/><rect x="285.1" y="308.7" width="0.9" height="0.9"/><rect x="289.8" y="315.6" width="0.9" height="0.9"/><rect x="284.0" y="320.5" width="0.9" height="0.9"/><rect x="280.0" y="314.2" width="0.9" height="0.9"/><rect x="284.7" y="306.9" width="0.9" height="0.9"/><rect x="282.0" y="318.3" width="0.9" height="0.9"/><rect x="288.1" y="305.9" width="0.9" height="0.9"/><rect x="280.5" y="319.7" width="0.9" height="0.9"/><rect x="290.7" y="310.3" width="0.9" height="0.9"/><rect x="294.1" y="314.8" width="0.9" height="0.9"/><rect x="282.5" y="312.3" width="0.9" height="0.9"/><rect x="286.8" y="322.0" width="0.9" height="0.9"/><rect x="289.8" y="313.2" width="0.9" height="0.9"/><rect x="286.3" y="307.1" width="0.9" height="0.9"/><rect x="286.6" y="311.4" width="0.9" height="0.9"/><rect x="288.5" y="308.7" width="0.9" height="0.9"/><rect x="285.6" y="309.7" width="0.9" height="0.9"/><rect x="283.9" y="307.7" width="0.9" height="0.9"/><rect x="284.5" y="307.9" width="0.9" height="0.9"/><rect x="287.7" y="315.0" width="0.9" height="0.9"/><rect x="281.2" y="315.0" width="0.9" height="0.9"/><rect x="285.0" y="320.7" width="0.9" height="0.9"/><rect x="285.7" y="312.9" width="0.9" height="0.9"/><rect x="283.7" y="313.9" width="0.9" height="0.9"/><rect x="287.4" y="315.3" width="0.9" height="0.9"/><rect x="284.5" y="316.3" width="0.9" height="0.9"/><rect x="286.0" y="315.2" width="0.9" height="0.9"/><rect x="282.8" y="314.1" width="0.9" height="0.9"/><rect x="284.1" y="309.4" width="0.9" height="0.9"/><rect x="283.7" y="323.5" width="0.9" height="0.9"/><rect x="289.2" y="315.0" width="0.9" height="0.9"/><rect x="284.1" y="318.2" width="0.9" height="0.9"/><rect x="288.7" y="320.8" width="0.9" height="0.9"/><rect x="285.2" y="314.7" width="0.9" height="0.9"/><rect x="285.4" y="312.5" width="0.9" height="0.9"/><rect x="283.7" y="312.1" width="0.9" height="0.9"/><rect x="280.9" y="306.7" width="0.9" height="0.9"/><rect x="288.6" y="310.4" width="0.9" height="0.9"/><rect x="289.5" y="308.9" width="0.9" height="0.9"/><rect x="284.4" y="315.4" width="0.9" height="0.9"/><rect x="283.8" y="309.9" width="0.9" height="0.9"/><rect x="294.7" y="313.4" width="0.9" height="0.9"/><rect x="284.6" y="310.8" width="0.9" height="0.9"/><rect x="286.2" y="314.0" width="0.9" height="0.9"/><rect x="288.0" y="318.5" width="0.9" height="0.9"/><rect x="285.3" y="312.1" width="0.9" height="0.9"/><rect x="283.7" y="306.1" width="0.9" height="0.9"/><rect x="282.7" y="316.5" width="0.9" height="0.9"/><rect x="285.3" y="317.7" width="0.9" height="0.9"/><rect x="289.2" y="314.2" width="0.9" height="0.9"/><rect x="293.3" y="313.8" width="0.9" height="0.9"/><rect x="284.7" y="311.6" width="0.9" height="0.9"/><rect x="289.8" y="314.5" width="0.9" height="0.9"/><rect x="283.1" y="315.2" width="0.9" height="0.9"/><rect x="289.7" y="314.7" width="0.9" height="0.9"/><rect x="283.8" y="318.6" width="0.9" height="0.9"/><rect x="287.8" y="319.2" width="0.9" height="0.9"/><rect x="283.3" y="314.6" width="0.9" height="0.9"/><rect x="289.6" y="306.5" width="0.9" height="0.9"/><rect x="289.7" y="315.7" width="0.9" height="0.9"/><rect x="281.9" y="323.7" width="0.9" height="0.9"/><rect x="287.5" y="311.0" width="0.9" height="0.9"/><rect x="285.1" y="316.5" width="0.9" height="0.9"/><rect x="288.7" y="314.6" width="0.9" height="0.9"/><rect x="284.3" y="310.2" width="0.9" height="0.9"/><rect x="284.9" y="308.6" width="0.9" height="0.9"/><rect x="286.7" y="311.9" width="0.9" height="0.9"/><rect x="287.3" y="310.5" width="0.9" height="0.9"/><rect x="283.6" y="312.4" width="0.9" height="0.9"/><rect x="283.4" y="318.8" width="0.9" height="0.9"/><rect x="282.9" y="314.1" width="0.9" height="0.9"/><rect x="287.7" y="308.3" width="0.9" height="0.9"/><rect x="288.1" y="315.5" width="0.9" height="0.9"/><rect x="278.7" y="314.7" width="0.9" height="0.9"/><rect x="290.1" y="311.5" width="0.9" height="0.9"/><rect x="291.1" y="316.4" width="0.9" height="0.9"/><rect x="281.7" y="315.4" width="0.9" height="0.9"/><rect x="286.7" y="307.8" width="0.9" height="0.9"/><rect x="279.0" y="313.1" width="0.9" height="0.9"/><rect x="282.9" y="316.2" width="0.9" height="0.9"/><rect x="288.0" y="312.1" width="0.9" height="0.9"/><rect x="282.0" y="321.3" width="0.9" height="0.9"/><rect x="290.4" y="319.0" width="0.9" height="0.9"/><rect x="286.3" y="309.4" width="0.9" height="0.9"/><rect x="282.6" y="321.0" width="0.9" height="0.9"/><rect x="287.9" y="313.2" width="0.9" height="0.9"/><rect x="282.0" y="313.6" width="0.9" height="0.9"/><rect x="283.3" y="313.3" width="0.9" height="0.9"/><rect x="286.9" y="319.5" width="0.9" height="0.9"/><rect x="286.9" y="312.7" width="0.9" height="0.9"/><rect x="284.3" y="322.2" width="0.9" height="0.9"/><rect x="289.1" y="308.3" width="0.9" height="0.9"/><rect x="290.5" y="316.6" width="0.9" height="0.9"/><rect x="297.5" y="315.3" width="0.9" height="0.9"/><rect x="286.2" y="312.7" width="0.9" height="0.9"/><rect x="288.0" y="311.9" width="0.9" height="0.9"/><rect x="284.1" y="304.2" width="0.9" height="0.9"/><rect x="286.4" y="311.7" width="0.9" height="0.9"/><rect x="281.4" y="322.8" width="0.9" height="0.9"/><rect x="287.0" y="319.6" width="0.9" height="0.9"/><rect x="284.1" y="314.9" width="0.9" height="0.9"/><rect x="285.7" y="313.0" width="0.9" height="0.9"/><rect x="287.6" y="317.4" width="0.9" height="0.9"/><rect x="286.8" y="315.0" width="0.9" height="0.9"/><rect x="282.6" y="309.4" width="0.9" height="0.9"/><rect x="287.7" y="312.8" width="0.9" height="0.9"/><rect x="283.2" y="314.9" width="0.9" height="0.9"/><rect x="284.1" y="310.2" width="0.9" height="0.9"/><rect x="289.3" y="313.3" width="0.9" height="0.9"/><rect x="289.8" y="317.7" width="0.9" height="0.9"/><rect x="287.0" y="319.8" width="0.9" height="0.9"/><rect x="279.4" y="311.6" width="0.9" height="0.9"/><rect x="282.7" y="310.8" width="0.9" height="0.9"/><rect x="284.0" y="319.4" width="0.9" height="0.9"/><rect x="283.7" y="321.2" width="0.9" height="0.9"/><rect x="284.5" y="313.3" width="0.9" height="0.9"/><rect x="285.1" y="318.3" width="0.9" height="0.9"/><rect x="286.7" y="311.3" width="0.9" height="0.9"/><rect x="286.9" y="307.6" width="0.9" height="0.9"/><rect x="288.9" y="318.5" width="0.9" height="0.9"/><rect x="287.0" y="315.7" width="0.9" height="0.9"/><rect x="284.7" y="311.7" width="0.9" height="0.9"/><rect x="289.6" y="311.4" width="0.9" height="0.9"/><rect x="281.5" y="320.2" width="0.9" height="0.9"/><rect x="290.5" y="316.8" width="0.9" height="0.9"/><rect x="287.4" y="315.4" width="0.9" height="0.9"/><rect x="291.1" y="313.5" width="0.9" height="0.9"/><rect x="285.7" y="316.2" width="0.9" height="0.9"/><rect x="290.8" y="314.3" width="0.9" height="0.9"/><rect x="287.4" y="312.1" width="0.9" height="0.9"/><rect x="284.9" y="310.6" width="0.9" height="0.9"/><rect x="285.1" y="318.0" width="0.9" height="0.9"/><rect x="284.7" y="310.8" width="0.9" height="0.9"/><rect x="284.3" y="315.2" width="0.9" height="0.9"/><rect x="289.9" y="309.3" width="0.9" height="0.9"/><rect x="288.5" y="310.1" width="0.9" height="0.9"/><rect x="289.5" y="310.6" width="0.9" height="0.9"/><rect x="283.7" y="309.9" width="0.9" height="0.9"/><rect x="287.2" y="309.7" width="0.9" height="0.9"/><rect x="286.5" y="314.9" width="0.9" height="0.9"/><rect x="285.9" y="315.3" width="0.9" height="0.9"/><rect x="289.7" y="311.7" width="0.9" height="0.9"/><rect x="286.1" y="313.9" width="0.9" height="0.9"/><rect x="279.2" y="313.8" width="0.9" height="0.9"/><rect x="284.6" y="310.2" width="0.9" height="0.9"/><rect x="284.6" y="314.0" width="0.9" height="0.9"/><rect x="286.4" y="316.5" width="0.9" height="0.9"/><rect x="283.0" y="316.4" width="0.9" height="0.9"/><rect x="287.9" y="312.8" width="0.9" height="0.9"/><rect x="284.9" y="317.5" width="0.9" height="0.9"/><rect x="286.4" y="317.5" width="0.9" height="0.9"/></g>
<rect x="258.2" y="270.5" width="78" height="77.9" fill="none" stroke="#a0a0a0" stroke-width="0.8"/>
<line x1="278.8" y1="270.5" x2="278.8" y2="348.4" stroke="#a0a0a0" stroke-width="0.8"/>
<line x1="258.2" y1="308.8" x2="279" y2="308.8" stroke="#a0a0a0" stroke-width="0.8"/>
<rect x="279.1" y="308.8" width="57.2" height="39.6" fill="none" stroke="#111" stroke-width="1.4"/>
<text x="0" y="0" font-size="7.8" font-weight="bold" text-anchor="middle" fill="#111" stroke="#111" stroke-width="0.28" transform="translate(255,284.3) rotate(-90)">CD27</text>
<text x="325.9" y="358.7" font-size="8.2" font-weight="bold" text-anchor="end" fill="#111" stroke="#111" stroke-width="0.28" >IgD</text>
<text x="223.2" y="251.2" font-size="8.15" font-weight="bold" text-anchor="start" fill="#111" stroke="#111" stroke-width="0.28" >Switched memory</text>
<text x="293.7" y="257.5" font-size="8.15" font-weight="bold" text-anchor="start" fill="#111" stroke="#111" stroke-width="0.28" >MZ like</text>
<line x1="266" y1="261.6" x2="266" y2="277.2" stroke="#111" stroke-width="1.2"/>
<line x1="301.4" y1="261.8" x2="301.4" y2="277.2" stroke="#111" stroke-width="1.2"/>
<line x1="269.2" y1="344.5" x2="269.2" y2="364" stroke="#111" stroke-width="1.1"/>
<text x="249.9" y="377.2" font-size="8.15" font-weight="bold" text-anchor="start" fill="#111" stroke="#111" stroke-width="0.28" >Double negative</text>
<line x1="333" y1="326.8" x2="360" y2="326.8" stroke="#111" stroke-width="1.1"/>
<polygon points="359.2,324.1 369.9,326.8 359.2,329.7" fill="#111"/>
<g fill="#a0a0b8" fill-opacity="0.45"><rect x="390.0" y="312.1" width="0.8" height="0.8"/><rect x="393.6" y="313.7" width="0.8" height="0.8"/><rect x="406.8" y="297.0" width="0.8" height="0.8"/><rect x="396.2" y="311.8" width="0.8" height="0.8"/><rect x="390.7" y="316.2" width="0.8" height="0.8"/><rect x="402.6" y="317.5" width="0.8" height="0.8"/><rect x="408.3" y="305.0" width="0.8" height="0.8"/><rect x="393.6" y="324.2" width="0.8" height="0.8"/><rect x="394.6" y="305.8" width="0.8" height="0.8"/><rect x="393.8" y="301.3" width="0.8" height="0.8"/><rect x="411.0" y="332.8" width="0.8" height="0.8"/><rect x="425.8" y="314.1" width="0.8" height="0.8"/><rect x="397.3" y="315.2" width="0.8" height="0.8"/><rect x="404.9" y="317.7" width="0.8" height="0.8"/><rect x="407.5" y="313.9" width="0.8" height="0.8"/><rect x="385.3" y="336.7" width="0.8" height="0.8"/><rect x="394.6" y="331.5" width="0.8" height="0.8"/><rect x="396.2" y="319.3" width="0.8" height="0.8"/><rect x="383.0" y="305.9" width="0.8" height="0.8"/><rect x="403.5" y="324.7" width="0.8" height="0.8"/><rect x="397.2" y="319.3" width="0.8" height="0.8"/><rect x="381.1" y="318.1" width="0.8" height="0.8"/><rect x="392.8" y="305.2" width="0.8" height="0.8"/><rect x="403.1" y="312.2" width="0.8" height="0.8"/><rect x="390.7" y="312.8" width="0.8" height="0.8"/><rect x="395.6" y="314.1" width="0.8" height="0.8"/><rect x="400.3" y="312.2" width="0.8" height="0.8"/><rect x="408.7" y="336.4" width="0.8" height="0.8"/><rect x="409.7" y="313.5" width="0.8" height="0.8"/><rect x="393.1" y="322.2" width="0.8" height="0.8"/><rect x="397.4" y="334.0" width="0.8" height="0.8"/><rect x="401.8" y="323.0" width="0.8" height="0.8"/><rect x="393.8" y="319.6" width="0.8" height="0.8"/><rect x="388.6" y="299.7" width="0.8" height="0.8"/><rect x="401.5" y="304.1" width="0.8" height="0.8"/><rect x="393.4" y="328.1" width="0.8" height="0.8"/><rect x="415.4" y="318.2" width="0.8" height="0.8"/><rect x="395.3" y="326.8" width="0.8" height="0.8"/><rect x="409.1" y="323.9" width="0.8" height="0.8"/><rect x="390.9" y="311.6" width="0.8" height="0.8"/><rect x="409.8" y="304.5" width="0.8" height="0.8"/><rect x="400.2" y="332.2" width="0.8" height="0.8"/><rect x="409.8" y="309.8" width="0.8" height="0.8"/><rect x="396.7" y="315.0" width="0.8" height="0.8"/><rect x="388.5" y="318.5" width="0.8" height="0.8"/><rect x="391.1" y="324.9" width="0.8" height="0.8"/><rect x="388.9" y="310.0" width="0.8" height="0.8"/><rect x="393.6" y="318.0" width="0.8" height="0.8"/><rect x="397.3" y="319.2" width="0.8" height="0.8"/><rect x="412.0" y="317.8" width="0.8" height="0.8"/><rect x="403.8" y="319.2" width="0.8" height="0.8"/><rect x="408.1" y="325.9" width="0.8" height="0.8"/><rect x="411.1" y="316.9" width="0.8" height="0.8"/><rect x="389.2" y="320.9" width="0.8" height="0.8"/><rect x="388.7" y="317.5" width="0.8" height="0.8"/><rect x="396.2" y="305.7" width="0.8" height="0.8"/><rect x="386.6" y="296.3" width="0.8" height="0.8"/><rect x="403.8" y="324.8" width="0.8" height="0.8"/><rect x="388.4" y="305.1" width="0.8" height="0.8"/><rect x="391.3" y="305.1" width="0.8" height="0.8"/><rect x="405.0" y="305.5" width="0.8" height="0.8"/><rect x="381.4" y="327.0" width="0.8" height="0.8"/><rect x="420.8" y="325.2" width="0.8" height="0.8"/><rect x="407.7" y="316.4" width="0.8" height="0.8"/><rect x="396.9" y="311.8" width="0.8" height="0.8"/><rect x="381.0" y="302.4" width="0.8" height="0.8"/><rect x="402.9" y="328.0" width="0.8" height="0.8"/><rect x="405.4" y="321.4" width="0.8" height="0.8"/><rect x="400.8" y="322.8" width="0.8" height="0.8"/><rect x="420.5" y="317.5" width="0.8" height="0.8"/><rect x="383.5" y="322.0" width="0.8" height="0.8"/><rect x="395.5" y="303.8" width="0.8" height="0.8"/><rect x="386.5" y="325.8" width="0.8" height="0.8"/><rect x="392.2" y="314.4" width="0.8" height="0.8"/><rect x="390.3" y="330.3" width="0.8" height="0.8"/><rect x="394.8" y="311.7" width="0.8" height="0.8"/><rect x="383.9" y="302.0" width="0.8" height="0.8"/><rect x="409.6" y="305.0" width="0.8" height="0.8"/><rect x="409.1" y="323.0" width="0.8" height="0.8"/><rect x="402.4" y="319.7" width="0.8" height="0.8"/><rect x="399.3" y="330.8" width="0.8" height="0.8"/><rect x="400.4" y="300.7" width="0.8" height="0.8"/><rect x="396.5" y="335.7" width="0.8" height="0.8"/><rect x="387.7" y="317.0" width="0.8" height="0.8"/><rect x="398.7" y="330.5" width="0.8" height="0.8"/><rect x="390.8" y="333.8" width="0.8" height="0.8"/><rect x="388.8" y="319.0" width="0.8" height="0.8"/><rect x="388.3" y="319.6" width="0.8" height="0.8"/><rect x="393.7" y="299.8" width="0.8" height="0.8"/><rect x="402.8" y="306.0" width="0.8" height="0.8"/><rect x="415.5" y="316.7" width="0.8" height="0.8"/><rect x="417.3" y="326.9" width="0.8" height="0.8"/><rect x="400.5" y="315.7" width="0.8" height="0.8"/><rect x="395.4" y="326.9" width="0.8" height="0.8"/><rect x="398.8" y="301.1" width="0.8" height="0.8"/><rect x="398.3" y="325.1" width="0.8" height="0.8"/><rect x="401.8" y="322.3" width="0.8" height="0.8"/><rect x="402.7" y="337.1" width="0.8" height="0.8"/><rect x="405.8" y="315.2" width="0.8" height="0.8"/><rect x="389.9" y="311.9" width="0.8" height="0.8"/><rect x="419.5" y="313.8" width="0.8" height="0.8"/><rect x="406.3" y="318.4" width="0.8" height="0.8"/><rect x="407.1" y="304.8" width="0.8" height="0.8"/><rect x="381.5" y="314.5" width="0.8" height="0.8"/><rect x="398.1" y="320.9" width="0.8" height="0.8"/><rect x="398.4" y="314.0" width="0.8" height="0.8"/><rect x="381.4" y="308.1" width="0.8" height="0.8"/><rect x="388.8" y="327.4" width="0.8" height="0.8"/><rect x="402.4" y="323.8" width="0.8" height="0.8"/><rect x="383.9" y="302.7" width="0.8" height="0.8"/><rect x="402.1" y="317.6" width="0.8" height="0.8"/><rect x="410.1" y="310.7" width="0.8" height="0.8"/><rect x="393.7" y="327.4" width="0.8" height="0.8"/><rect x="391.4" y="312.4" width="0.8" height="0.8"/><rect x="411.8" y="336.6" width="0.8" height="0.8"/><rect x="395.9" y="301.7" width="0.8" height="0.8"/><rect x="408.0" y="337.5" width="0.8" height="0.8"/><rect x="403.6" y="307.7" width="0.8" height="0.8"/><rect x="389.3" y="312.8" width="0.8" height="0.8"/><rect x="403.2" y="329.6" width="0.8" height="0.8"/><rect x="412.9" y="340.4" width="0.8" height="0.8"/><rect x="405.0" y="333.3" width="0.8" height="0.8"/><rect x="402.1" y="306.7" width="0.8" height="0.8"/><rect x="397.3" y="320.3" width="0.8" height="0.8"/><rect x="407.8" y="320.9" width="0.8" height="0.8"/><rect x="402.6" y="316.4" width="0.8" height="0.8"/><rect x="405.9" y="332.9" width="0.8" height="0.8"/><rect x="395.5" y="323.5" width="0.8" height="0.8"/><rect x="402.4" y="316.4" width="0.8" height="0.8"/><rect x="390.9" y="310.2" width="0.8" height="0.8"/><rect x="395.9" y="324.1" width="0.8" height="0.8"/><rect x="404.9" y="328.0" width="0.8" height="0.8"/><rect x="399.7" y="304.1" width="0.8" height="0.8"/><rect x="409.1" y="339.4" width="0.8" height="0.8"/><rect x="390.5" y="311.4" width="0.8" height="0.8"/><rect x="396.1" y="320.9" width="0.8" height="0.8"/><rect x="404.4" y="316.1" width="0.8" height="0.8"/><rect x="412.1" y="329.5" width="0.8" height="0.8"/><rect x="396.5" y="326.8" width="0.8" height="0.8"/><rect x="387.1" y="297.2" width="0.8" height="0.8"/><rect x="387.3" y="339.2" width="0.8" height="0.8"/><rect x="389.6" y="306.4" width="0.8" height="0.8"/><rect x="398.0" y="317.2" width="0.8" height="0.8"/><rect x="407.8" y="332.7" width="0.8" height="0.8"/><rect x="398.0" y="312.5" width="0.8" height="0.8"/><rect x="392.2" y="307.3" width="0.8" height="0.8"/><rect x="390.6" y="311.9" width="0.8" height="0.8"/><rect x="401.5" y="328.6" width="0.8" height="0.8"/><rect x="405.9" y="316.1" width="0.8" height="0.8"/><rect x="407.6" y="306.3" width="0.8" height="0.8"/><rect x="415.9" y="327.5" width="0.8" height="0.8"/><rect x="418.5" y="320.1" width="0.8" height="0.8"/><rect x="387.8" y="340.4" width="0.8" height="0.8"/><rect x="398.2" y="306.4" width="0.8" height="0.8"/><rect x="402.8" y="324.7" width="0.8" height="0.8"/><rect x="395.1" y="339.2" width="0.8" height="0.8"/><rect x="399.7" y="326.6" width="0.8" height="0.8"/><rect x="389.6" y="307.1" width="0.8" height="0.8"/><rect x="388.5" y="325.0" width="0.8" height="0.8"/><rect x="400.6" y="317.8" width="0.8" height="0.8"/><rect x="402.9" y="318.3" width="0.8" height="0.8"/><rect x="406.6" y="325.9" width="0.8" height="0.8"/><rect x="410.2" y="318.8" width="0.8" height="0.8"/><rect x="392.2" y="303.3" width="0.8" height="0.8"/><rect x="409.9" y="308.8" width="0.8" height="0.8"/><rect x="408.8" y="321.4" width="0.8" height="0.8"/><rect x="390.8" y="320.3" width="0.8" height="0.8"/><rect x="413.3" y="321.2" width="0.8" height="0.8"/><rect x="383.9" y="318.9" width="0.8" height="0.8"/><rect x="397.1" y="321.0" width="0.8" height="0.8"/><rect x="399.0" y="325.0" width="0.8" height="0.8"/><rect x="394.0" y="319.3" width="0.8" height="0.8"/><rect x="410.3" y="324.5" width="0.8" height="0.8"/><rect x="402.6" y="321.9" width="0.8" height="0.8"/><rect x="411.0" y="330.5" width="0.8" height="0.8"/><rect x="405.9" y="297.1" width="0.8" height="0.8"/><rect x="387.0" y="309.8" width="0.8" height="0.8"/><rect x="399.8" y="304.9" width="0.8" height="0.8"/><rect x="383.8" y="316.4" width="0.8" height="0.8"/><rect x="390.4" y="305.3" width="0.8" height="0.8"/><rect x="392.1" y="305.8" width="0.8" height="0.8"/><rect x="401.5" y="327.6" width="0.8" height="0.8"/><rect x="395.8" y="305.9" width="0.8" height="0.8"/><rect x="405.7" y="308.6" width="0.8" height="0.8"/><rect x="397.2" y="312.4" width="0.8" height="0.8"/><rect x="393.6" y="339.9" width="0.8" height="0.8"/><rect x="405.9" y="332.6" width="0.8" height="0.8"/><rect x="413.1" y="320.4" width="0.8" height="0.8"/><rect x="407.4" y="299.2" width="0.8" height="0.8"/><rect x="391.7" y="332.7" width="0.8" height="0.8"/><rect x="406.1" y="329.1" width="0.8" height="0.8"/><rect x="390.9" y="326.2" width="0.8" height="0.8"/><rect x="398.5" y="325.8" width="0.8" height="0.8"/><rect x="385.1" y="315.4" width="0.8" height="0.8"/><rect x="394.2" y="315.2" width="0.8" height="0.8"/><rect x="394.1" y="309.4" width="0.8" height="0.8"/><rect x="404.5" y="315.2" width="0.8" height="0.8"/><rect x="385.1" y="322.3" width="0.8" height="0.8"/><rect x="411.5" y="314.8" width="0.8" height="0.8"/><rect x="387.0" y="331.8" width="0.8" height="0.8"/><rect x="398.6" y="311.4" width="0.8" height="0.8"/><rect x="422.7" y="316.1" width="0.8" height="0.8"/><rect x="386.1" y="324.5" width="0.8" height="0.8"/><rect x="410.8" y="294.5" width="0.8" height="0.8"/><rect x="398.8" y="312.4" width="0.8" height="0.8"/><rect x="408.3" y="322.3" width="0.8" height="0.8"/><rect x="391.3" y="320.4" width="0.8" height="0.8"/><rect x="399.5" y="297.2" width="0.8" height="0.8"/><rect x="387.1" y="328.5" width="0.8" height="0.8"/><rect x="408.3" y="345.2" width="0.8" height="0.8"/><rect x="399.9" y="324.6" width="0.8" height="0.8"/><rect x="384.9" y="333.7" width="0.8" height="0.8"/><rect x="387.2" y="307.0" width="0.8" height="0.8"/><rect x="403.7" y="306.8" width="0.8" height="0.8"/><rect x="428.2" y="308.7" width="0.8" height="0.8"/><rect x="383.3" y="313.2" width="0.8" height="0.8"/><rect x="407.7" y="304.8" width="0.8" height="0.8"/><rect x="409.6" y="330.4" width="0.8" height="0.8"/><rect x="380.7" y="324.1" width="0.8" height="0.8"/><rect x="400.0" y="319.4" width="0.8" height="0.8"/><rect x="402.2" y="324.2" width="0.8" height="0.8"/><rect x="394.5" y="323.0" width="0.8" height="0.8"/></g>
<g fill="#7676e0" fill-opacity="0.45"><rect x="430.4" y="307.6" width="0.8" height="0.8"/><rect x="432.9" y="302.5" width="0.8" height="0.8"/><rect x="429.6" y="303.4" width="0.8" height="0.8"/><rect x="429.4" y="302.7" width="0.8" height="0.8"/><rect x="420.8" y="307.3" width="0.8" height="0.8"/><rect x="419.7" y="310.8" width="0.8" height="0.8"/><rect x="431.2" y="305.3" width="0.8" height="0.8"/><rect x="429.4" y="303.5" width="0.8" height="0.8"/><rect x="430.0" y="302.4" width="0.8" height="0.8"/><rect x="416.8" y="314.9" width="0.8" height="0.8"/><rect x="424.0" y="307.6" width="0.8" height="0.8"/><rect x="428.0" y="310.7" width="0.8" height="0.8"/><rect x="433.3" y="300.9" width="0.8" height="0.8"/><rect x="420.8" y="311.5" width="0.8" height="0.8"/><rect x="422.5" y="310.9" width="0.8" height="0.8"/><rect x="417.5" y="311.7" width="0.8" height="0.8"/><rect x="430.7" y="299.9" width="0.8" height="0.8"/><rect x="427.2" y="305.0" width="0.8" height="0.8"/><rect x="431.2" y="300.4" width="0.8" height="0.8"/><rect x="432.7" y="305.3" width="0.8" height="0.8"/><rect x="416.8" y="310.5" width="0.8" height="0.8"/><rect x="428.3" y="302.2" width="0.8" height="0.8"/><rect x="420.2" y="313.3" width="0.8" height="0.8"/><rect x="433.2" y="302.6" width="0.8" height="0.8"/><rect x="433.5" y="301.5" width="0.8" height="0.8"/><rect x="419.0" y="305.3" width="0.8" height="0.8"/><rect x="428.2" y="301.4" width="0.8" height="0.8"/><rect x="427.2" y="305.6" width="0.8" height="0.8"/><rect x="418.8" y="310.2" width="0.8" height="0.8"/><rect x="437.5" y="298.7" width="0.8" height="0.8"/><rect x="416.8" y="312.1" width="0.8" height="0.8"/><rect x="427.2" y="306.0" width="0.8" height="0.8"/><rect x="430.8" y="301.8" width="0.8" height="0.8"/><rect x="426.1" y="307.5" width="0.8" height="0.8"/><rect x="419.5" y="313.2" width="0.8" height="0.8"/><rect x="427.8" y="303.0" width="0.8" height="0.8"/><rect x="423.3" y="308.1" width="0.8" height="0.8"/><rect x="415.2" y="308.2" width="0.8" height="0.8"/><rect x="430.2" y="305.8" width="0.8" height="0.8"/><rect x="425.5" y="306.0" width="0.8" height="0.8"/><rect x="425.0" y="303.9" width="0.8" height="0.8"/><rect x="429.5" y="304.7" width="0.8" height="0.8"/><rect x="427.3" y="306.5" width="0.8" height="0.8"/><rect x="420.5" y="310.2" width="0.8" height="0.8"/><rect x="421.2" y="307.9" width="0.8" height="0.8"/><rect x="427.8" y="304.4" width="0.8" height="0.8"/><rect x="431.7" y="302.6" width="0.8" height="0.8"/><rect x="420.6" y="312.5" width="0.8" height="0.8"/><rect x="416.8" y="312.2" width="0.8" height="0.8"/><rect x="427.5" y="304.0" width="0.8" height="0.8"/><rect x="428.7" y="303.3" width="0.8" height="0.8"/><rect x="421.0" y="311.0" width="0.8" height="0.8"/><rect x="424.4" y="304.4" width="0.8" height="0.8"/><rect x="426.0" y="305.2" width="0.8" height="0.8"/><rect x="426.9" y="303.2" width="0.8" height="0.8"/><rect x="426.4" y="304.5" width="0.8" height="0.8"/><rect x="434.4" y="298.1" width="0.8" height="0.8"/><rect x="432.8" y="299.9" width="0.8" height="0.8"/><rect x="434.6" y="304.1" width="0.8" height="0.8"/><rect x="423.6" y="307.4" width="0.8" height="0.8"/><rect x="419.6" y="308.5" width="0.8" height="0.8"/><rect x="422.5" y="308.1" width="0.8" height="0.8"/><rect x="431.9" y="302.9" width="0.8" height="0.8"/><rect x="423.0" y="307.9" width="0.8" height="0.8"/><rect x="417.9" y="312.8" width="0.8" height="0.8"/><rect x="423.0" y="305.0" width="0.8" height="0.8"/><rect x="422.1" y="309.6" width="0.8" height="0.8"/><rect x="426.9" y="306.1" width="0.8" height="0.8"/><rect x="423.2" y="307.7" width="0.8" height="0.8"/><rect x="422.5" y="304.4" width="0.8" height="0.8"/><rect x="424.5" y="306.1" width="0.8" height="0.8"/><rect x="422.6" y="309.7" width="0.8" height="0.8"/><rect x="439.3" y="298.4" width="0.8" height="0.8"/><rect x="424.5" y="303.7" width="0.8" height="0.8"/><rect x="423.8" y="305.4" width="0.8" height="0.8"/><rect x="427.8" y="306.6" width="0.8" height="0.8"/><rect x="423.7" y="303.7" width="0.8" height="0.8"/><rect x="433.3" y="299.8" width="0.8" height="0.8"/><rect x="432.3" y="298.4" width="0.8" height="0.8"/><rect x="427.3" y="306.2" width="0.8" height="0.8"/><rect x="410.1" y="315.5" width="0.8" height="0.8"/><rect x="418.4" y="315.0" width="0.8" height="0.8"/><rect x="428.5" y="301.2" width="0.8" height="0.8"/><rect x="413.8" y="310.5" width="0.8" height="0.8"/><rect x="425.7" y="303.7" width="0.8" height="0.8"/><rect x="427.1" y="303.2" width="0.8" height="0.8"/><rect x="418.0" y="315.5" width="0.8" height="0.8"/><rect x="427.6" y="302.5" width="0.8" height="0.8"/><rect x="425.1" y="309.0" width="0.8" height="0.8"/><rect x="428.9" y="300.2" width="0.8" height="0.8"/><rect x="433.2" y="298.4" width="0.8" height="0.8"/><rect x="427.5" y="301.3" width="0.8" height="0.8"/><rect x="422.6" y="309.6" width="0.8" height="0.8"/><rect x="418.8" y="310.9" width="0.8" height="0.8"/><rect x="427.2" y="302.9" width="0.8" height="0.8"/><rect x="434.5" y="300.3" width="0.8" height="0.8"/><rect x="425.9" y="307.6" width="0.8" height="0.8"/><rect x="434.7" y="301.5" width="0.8" height="0.8"/><rect x="425.8" y="307.3" width="0.8" height="0.8"/><rect x="426.6" y="302.3" width="0.8" height="0.8"/><rect x="425.8" y="310.1" width="0.8" height="0.8"/><rect x="421.6" y="309.7" width="0.8" height="0.8"/><rect x="434.8" y="297.7" width="0.8" height="0.8"/><rect x="424.7" y="304.5" width="0.8" height="0.8"/><rect x="427.1" y="301.6" width="0.8" height="0.8"/><rect x="427.2" y="302.4" width="0.8" height="0.8"/><rect x="425.6" y="301.6" width="0.8" height="0.8"/><rect x="420.4" y="311.6" width="0.8" height="0.8"/><rect x="425.5" y="298.6" width="0.8" height="0.8"/><rect x="433.3" y="297.8" width="0.8" height="0.8"/><rect x="431.7" y="303.3" width="0.8" height="0.8"/><rect x="424.2" y="305.7" width="0.8" height="0.8"/><rect x="415.2" y="314.6" width="0.8" height="0.8"/><rect x="434.7" y="295.8" width="0.8" height="0.8"/><rect x="432.8" y="301.8" width="0.8" height="0.8"/><rect x="429.8" y="299.9" width="0.8" height="0.8"/><rect x="425.2" y="306.5" width="0.8" height="0.8"/><rect x="434.2" y="296.9" width="0.8" height="0.8"/><rect x="421.7" y="306.8" width="0.8" height="0.8"/></g>
<g fill="#5656c8" fill-opacity="0.55"><rect x="413.5" y="317.2" width="0.8" height="0.8"/><rect x="412.1" y="314.9" width="0.8" height="0.8"/><rect x="409.3" y="317.1" width="0.8" height="0.8"/><rect x="419.0" y="313.1" width="0.8" height="0.8"/><rect x="418.3" y="312.8" width="0.8" height="0.8"/><rect x="415.6" y="314.5" width="0.8" height="0.8"/><rect x="408.3" y="322.1" width="0.8" height="0.8"/><rect x="416.6" y="315.0" width="0.8" height="0.8"/><rect x="403.4" y="315.1" width="0.8" height="0.8"/><rect x="409.0" y="316.3" width="0.8" height="0.8"/><rect x="414.8" y="314.1" width="0.8" height="0.8"/><rect x="414.5" y="311.9" width="0.8" height="0.8"/><rect x="415.6" y="315.3" width="0.8" height="0.8"/><rect x="414.1" y="321.6" width="0.8" height="0.8"/><rect x="418.1" y="316.8" width="0.8" height="0.8"/><rect x="409.6" y="314.8" width="0.8" height="0.8"/><rect x="412.0" y="315.8" width="0.8" height="0.8"/><rect x="416.7" y="314.0" width="0.8" height="0.8"/><rect x="410.0" y="313.7" width="0.8" height="0.8"/><rect x="413.7" y="319.9" width="0.8" height="0.8"/><rect x="410.7" y="318.0" width="0.8" height="0.8"/><rect x="412.6" y="309.8" width="0.8" height="0.8"/><rect x="416.2" y="318.5" width="0.8" height="0.8"/><rect x="404.7" y="319.9" width="0.8" height="0.8"/><rect x="411.6" y="313.2" width="0.8" height="0.8"/><rect x="415.5" y="313.5" width="0.8" height="0.8"/><rect x="409.1" y="321.5" width="0.8" height="0.8"/><rect x="418.1" y="315.8" width="0.8" height="0.8"/><rect x="420.2" y="312.0" width="0.8" height="0.8"/><rect x="411.7" y="311.2" width="0.8" height="0.8"/><rect x="415.0" y="311.7" width="0.8" height="0.8"/><rect x="409.4" y="312.9" width="0.8" height="0.8"/><rect x="408.6" y="316.4" width="0.8" height="0.8"/><rect x="415.1" y="305.9" width="0.8" height="0.8"/><rect x="408.0" y="319.8" width="0.8" height="0.8"/><rect x="420.6" y="312.6" width="0.8" height="0.8"/><rect x="401.0" y="313.6" width="0.8" height="0.8"/><rect x="413.7" y="312.1" width="0.8" height="0.8"/><rect x="410.8" y="320.9" width="0.8" height="0.8"/><rect x="418.4" y="312.4" width="0.8" height="0.8"/><rect x="415.4" y="315.6" width="0.8" height="0.8"/><rect x="421.3" y="312.3" width="0.8" height="0.8"/><rect x="416.7" y="315.1" width="0.8" height="0.8"/><rect x="409.5" y="323.0" width="0.8" height="0.8"/><rect x="418.5" y="313.8" width="0.8" height="0.8"/><rect x="404.3" y="318.9" width="0.8" height="0.8"/><rect x="413.7" y="307.8" width="0.8" height="0.8"/><rect x="414.7" y="318.4" width="0.8" height="0.8"/><rect x="411.2" y="323.2" width="0.8" height="0.8"/><rect x="415.6" y="313.1" width="0.8" height="0.8"/><rect x="416.1" y="315.9" width="0.8" height="0.8"/><rect x="416.2" y="317.9" width="0.8" height="0.8"/><rect x="410.1" y="315.8" width="0.8" height="0.8"/><rect x="417.9" y="312.2" width="0.8" height="0.8"/><rect x="411.7" y="320.1" width="0.8" height="0.8"/><rect x="418.8" y="309.7" width="0.8" height="0.8"/><rect x="407.6" y="318.6" width="0.8" height="0.8"/><rect x="412.4" y="314.7" width="0.8" height="0.8"/><rect x="417.5" y="308.3" width="0.8" height="0.8"/><rect x="416.4" y="308.1" width="0.8" height="0.8"/><rect x="411.5" y="319.0" width="0.8" height="0.8"/><rect x="419.8" y="314.2" width="0.8" height="0.8"/><rect x="415.3" y="314.5" width="0.8" height="0.8"/><rect x="415.3" y="316.2" width="0.8" height="0.8"/><rect x="413.4" y="316.3" width="0.8" height="0.8"/><rect x="415.9" y="313.5" width="0.8" height="0.8"/><rect x="417.8" y="314.5" width="0.8" height="0.8"/><rect x="422.5" y="310.3" width="0.8" height="0.8"/><rect x="411.1" y="315.3" width="0.8" height="0.8"/><rect x="415.2" y="317.6" width="0.8" height="0.8"/><rect x="412.9" y="317.1" width="0.8" height="0.8"/><rect x="416.4" y="302.9" width="0.8" height="0.8"/><rect x="409.4" y="318.9" width="0.8" height="0.8"/><rect x="415.7" y="314.6" width="0.8" height="0.8"/><rect x="413.0" y="318.1" width="0.8" height="0.8"/><rect x="413.8" y="312.9" width="0.8" height="0.8"/><rect x="424.3" y="309.2" width="0.8" height="0.8"/><rect x="411.1" y="316.4" width="0.8" height="0.8"/><rect x="412.5" y="315.5" width="0.8" height="0.8"/><rect x="401.4" y="321.5" width="0.8" height="0.8"/><rect x="415.6" y="309.0" width="0.8" height="0.8"/><rect x="415.1" y="317.9" width="0.8" height="0.8"/><rect x="419.9" y="316.7" width="0.8" height="0.8"/><rect x="405.9" y="318.9" width="0.8" height="0.8"/><rect x="413.3" y="317.7" width="0.8" height="0.8"/><rect x="413.1" y="304.7" width="0.8" height="0.8"/><rect x="415.4" y="308.1" width="0.8" height="0.8"/><rect x="413.6" y="309.1" width="0.8" height="0.8"/><rect x="416.5" y="317.8" width="0.8" height="0.8"/><rect x="413.3" y="316.0" width="0.8" height="0.8"/><rect x="417.1" y="313.2" width="0.8" height="0.8"/><rect x="416.1" y="319.5" width="0.8" height="0.8"/><rect x="417.4" y="311.3" width="0.8" height="0.8"/><rect x="422.8" y="304.2" width="0.8" height="0.8"/><rect x="416.9" y="311.8" width="0.8" height="0.8"/><rect x="415.4" y="316.6" width="0.8" height="0.8"/><rect x="415.7" y="316.2" width="0.8" height="0.8"/><rect x="404.5" y="315.3" width="0.8" height="0.8"/><rect x="414.3" y="310.7" width="0.8" height="0.8"/><rect x="406.6" y="314.0" width="0.8" height="0.8"/><rect x="420.2" y="313.5" width="0.8" height="0.8"/><rect x="417.9" y="308.4" width="0.8" height="0.8"/><rect x="411.5" y="312.0" width="0.8" height="0.8"/><rect x="419.7" y="317.2" width="0.8" height="0.8"/><rect x="412.8" y="321.8" width="0.8" height="0.8"/><rect x="417.3" y="311.8" width="0.8" height="0.8"/><rect x="408.1" y="324.5" width="0.8" height="0.8"/><rect x="412.1" y="313.7" width="0.8" height="0.8"/><rect x="416.0" y="315.1" width="0.8" height="0.8"/><rect x="417.9" y="308.1" width="0.8" height="0.8"/><rect x="421.0" y="315.9" width="0.8" height="0.8"/><rect x="419.2" y="310.5" width="0.8" height="0.8"/><rect x="412.4" y="320.0" width="0.8" height="0.8"/><rect x="414.3" y="315.1" width="0.8" height="0.8"/><rect x="419.0" y="310.3" width="0.8" height="0.8"/><rect x="403.4" y="320.5" width="0.8" height="0.8"/><rect x="407.5" y="322.5" width="0.8" height="0.8"/><rect x="413.7" y="312.5" width="0.8" height="0.8"/><rect x="415.1" y="317.4" width="0.8" height="0.8"/><rect x="416.4" y="318.5" width="0.8" height="0.8"/><rect x="415.3" y="318.1" width="0.8" height="0.8"/><rect x="422.7" y="315.3" width="0.8" height="0.8"/><rect x="412.4" y="319.4" width="0.8" height="0.8"/><rect x="403.8" y="317.4" width="0.8" height="0.8"/><rect x="407.5" y="323.5" width="0.8" height="0.8"/><rect x="408.5" y="318.5" width="0.8" height="0.8"/><rect x="412.7" y="315.5" width="0.8" height="0.8"/><rect x="411.6" y="317.4" width="0.8" height="0.8"/><rect x="421.1" y="310.1" width="0.8" height="0.8"/><rect x="417.6" y="316.3" width="0.8" height="0.8"/><rect x="410.4" y="312.2" width="0.8" height="0.8"/><rect x="413.3" y="319.6" width="0.8" height="0.8"/><rect x="405.7" y="318.1" width="0.8" height="0.8"/><rect x="419.2" y="314.4" width="0.8" height="0.8"/><rect x="415.1" y="317.3" width="0.8" height="0.8"/><rect x="412.1" y="311.4" width="0.8" height="0.8"/><rect x="405.9" y="317.8" width="0.8" height="0.8"/><rect x="416.3" y="310.9" width="0.8" height="0.8"/><rect x="408.4" y="315.5" width="0.8" height="0.8"/><rect x="407.0" y="319.1" width="0.8" height="0.8"/><rect x="409.4" y="319.4" width="0.8" height="0.8"/><rect x="404.5" y="322.6" width="0.8" height="0.8"/><rect x="407.3" y="311.6" width="0.8" height="0.8"/><rect x="416.1" y="312.3" width="0.8" height="0.8"/><rect x="402.7" y="319.0" width="0.8" height="0.8"/><rect x="413.9" y="313.0" width="0.8" height="0.8"/><rect x="418.2" y="314.9" width="0.8" height="0.8"/><rect x="416.9" y="314.1" width="0.8" height="0.8"/><rect x="420.3" y="313.1" width="0.8" height="0.8"/><rect x="411.6" y="308.1" width="0.8" height="0.8"/><rect x="419.7" y="316.1" width="0.8" height="0.8"/><rect x="411.5" y="314.6" width="0.8" height="0.8"/><rect x="418.3" y="304.8" width="0.8" height="0.8"/><rect x="420.0" y="320.4" width="0.8" height="0.8"/><rect x="411.0" y="319.6" width="0.8" height="0.8"/><rect x="421.1" y="309.4" width="0.8" height="0.8"/><rect x="417.6" y="316.0" width="0.8" height="0.8"/><rect x="409.7" y="317.4" width="0.8" height="0.8"/><rect x="416.3" y="316.5" width="0.8" height="0.8"/><rect x="413.1" y="314.6" width="0.8" height="0.8"/><rect x="408.7" y="317.0" width="0.8" height="0.8"/><rect x="417.4" y="312.8" width="0.8" height="0.8"/><rect x="408.5" y="315.2" width="0.8" height="0.8"/><rect x="426.7" y="310.7" width="0.8" height="0.8"/><rect x="411.4" y="306.2" width="0.8" height="0.8"/><rect x="417.0" y="314.6" width="0.8" height="0.8"/><rect x="421.3" y="311.5" width="0.8" height="0.8"/><rect x="414.3" y="316.7" width="0.8" height="0.8"/><rect x="407.5" y="323.4" width="0.8" height="0.8"/><rect x="413.6" y="312.3" width="0.8" height="0.8"/><rect x="422.4" y="316.3" width="0.8" height="0.8"/><rect x="406.6" y="317.2" width="0.8" height="0.8"/><rect x="415.1" y="314.8" width="0.8" height="0.8"/><rect x="410.1" y="313.6" width="0.8" height="0.8"/><rect x="424.3" y="311.9" width="0.8" height="0.8"/><rect x="406.1" y="314.8" width="0.8" height="0.8"/><rect x="422.5" y="313.0" width="0.8" height="0.8"/><rect x="422.6" y="312.1" width="0.8" height="0.8"/><rect x="410.5" y="318.3" width="0.8" height="0.8"/><rect x="403.3" y="319.1" width="0.8" height="0.8"/><rect x="414.3" y="316.7" width="0.8" height="0.8"/><rect x="410.3" y="316.8" width="0.8" height="0.8"/><rect x="416.2" y="314.8" width="0.8" height="0.8"/><rect x="416.6" y="313.8" width="0.8" height="0.8"/><rect x="413.7" y="318.1" width="0.8" height="0.8"/><rect x="412.2" y="312.7" width="0.8" height="0.8"/><rect x="411.0" y="316.8" width="0.8" height="0.8"/><rect x="413.4" y="315.8" width="0.8" height="0.8"/><rect x="413.9" y="315.6" width="0.8" height="0.8"/><rect x="410.7" y="312.0" width="0.8" height="0.8"/><rect x="417.3" y="316.8" width="0.8" height="0.8"/><rect x="415.0" y="313.3" width="0.8" height="0.8"/><rect x="413.6" y="311.2" width="0.8" height="0.8"/><rect x="405.9" y="320.6" width="0.8" height="0.8"/><rect x="411.1" y="319.7" width="0.8" height="0.8"/><rect x="404.2" y="311.0" width="0.8" height="0.8"/><rect x="412.2" y="322.3" width="0.8" height="0.8"/><rect x="409.5" y="312.4" width="0.8" height="0.8"/><rect x="411.4" y="318.7" width="0.8" height="0.8"/><rect x="416.0" y="314.2" width="0.8" height="0.8"/><rect x="421.0" y="312.8" width="0.8" height="0.8"/><rect x="414.6" y="316.8" width="0.8" height="0.8"/><rect x="422.2" y="313.1" width="0.8" height="0.8"/><rect x="415.8" y="309.2" width="0.8" height="0.8"/><rect x="414.3" y="317.5" width="0.8" height="0.8"/><rect x="414.3" y="318.8" width="0.8" height="0.8"/><rect x="417.7" y="315.9" width="0.8" height="0.8"/><rect x="417.4" y="322.6" width="0.8" height="0.8"/><rect x="418.3" y="311.0" width="0.8" height="0.8"/><rect x="418.8" y="321.9" width="0.8" height="0.8"/><rect x="413.8" y="318.4" width="0.8" height="0.8"/><rect x="417.6" y="312.3" width="0.8" height="0.8"/><rect x="409.1" y="318.9" width="0.8" height="0.8"/><rect x="417.2" y="317.1" width="0.8" height="0.8"/><rect x="416.9" y="312.9" width="0.8" height="0.8"/><rect x="418.1" y="314.1" width="0.8" height="0.8"/><rect x="414.5" y="314.6" width="0.8" height="0.8"/><rect x="413.9" y="317.6" width="0.8" height="0.8"/><rect x="408.1" y="316.3" width="0.8" height="0.8"/><rect x="410.9" y="311.1" width="0.8" height="0.8"/><rect x="408.0" y="310.8" width="0.8" height="0.8"/><rect x="411.8" y="318.6" width="0.8" height="0.8"/><rect x="415.8" y="313.3" width="0.8" height="0.8"/><rect x="410.0" y="311.9" width="0.8" height="0.8"/><rect x="422.1" y="311.3" width="0.8" height="0.8"/><rect x="416.4" y="309.6" width="0.8" height="0.8"/><rect x="409.4" y="310.6" width="0.8" height="0.8"/><rect x="418.5" y="315.4" width="0.8" height="0.8"/><rect x="405.7" y="320.3" width="0.8" height="0.8"/><rect x="412.9" y="308.5" width="0.8" height="0.8"/><rect x="404.1" y="317.3" width="0.8" height="0.8"/><rect x="408.4" y="313.0" width="0.8" height="0.8"/><rect x="414.2" y="315.7" width="0.8" height="0.8"/><rect x="417.5" y="315.2" width="0.8" height="0.8"/><rect x="422.0" y="314.0" width="0.8" height="0.8"/><rect x="407.2" y="317.4" width="0.8" height="0.8"/><rect x="407.2" y="315.1" width="0.8" height="0.8"/><rect x="413.3" y="315.3" width="0.8" height="0.8"/><rect x="412.6" y="309.4" width="0.8" height="0.8"/><rect x="408.4" y="318.5" width="0.8" height="0.8"/></g>
<rect x="379.4" y="269.3" width="78.2" height="78.2" fill="none" stroke="#777" stroke-width="0.8"/>
<path d="M397.5,347.4 C397.6,335 398.8,325 401.7,318.4 L428.4,298.2 L438.1,298.2 L438.7,301.5 L438.6,307 L425,317.9" fill="none" stroke="#555" stroke-width="0.7"/>
<path d="M415.9,307.6 C421,312 428,325 429.3,347.4" fill="none" stroke="#555" stroke-width="0.7"/>
<text x="0" y="0" font-size="7.8" font-weight="bold" text-anchor="middle" fill="#111" stroke="#111" stroke-width="0.28" transform="translate(375.3,285) rotate(-90)">CD24</text>
<text x="452.6" y="359.1" font-size="7.8" font-weight="bold" text-anchor="end" fill="#111" stroke="#111" stroke-width="0.28" >CD38</text>
<text x="407.8" y="258.5" font-size="8.15" font-weight="bold" text-anchor="start" fill="#111" stroke="#111" stroke-width="0.28" >Transitional</text>
<line x1="430.9" y1="265.3" x2="430.9" y2="299" stroke="#111" stroke-width="1.2"/>
<line x1="412.9" y1="344.5" x2="412.9" y2="364.5" stroke="#111" stroke-width="1.1"/>
<text x="402" y="376" font-size="7.8" font-weight="bold" text-anchor="start" fill="#111" stroke="#111" stroke-width="0.28" >Naive</text>
<text x="10.2" y="422.5" font-size="12.6" font-weight="bold" text-anchor="start" fill="#111" stroke="#111" stroke-width="0.28" >(l)</text>
<text x="62" y="434.8" font-size="8.1" font-weight="bold" text-anchor="middle" fill="#111" stroke="#111" stroke-width="0.28" >Naive</text>
<line x1="19" y1="444.3" x2="19" y2="502.3" stroke="#333" stroke-width="1"/>
<line x1="19" y1="502.3" x2="106.3" y2="502.3" stroke="#333" stroke-width="1"/>
<line x1="17.2" y1="502.3" x2="19" y2="502.3" stroke="#333" stroke-width="0.8"/>
<text x="16.7" y="504.5" font-size="6.0" font-weight="bold" text-anchor="end" fill="#222" stroke="#222" stroke-width="0.28" >0</text>
<line x1="17.2" y1="490.7" x2="19" y2="490.7" stroke="#333" stroke-width="0.8"/>
<text x="16.7" y="492.9" font-size="6.0" font-weight="bold" text-anchor="end" fill="#222" stroke="#222" stroke-width="0.28" >10</text>
<line x1="17.2" y1="479.1" x2="19" y2="479.1" stroke="#333" stroke-width="0.8"/>
<text x="16.7" y="481.3" font-size="6.0" font-weight="bold" text-anchor="end" fill="#222" stroke="#222" stroke-width="0.28" >20</text>
<line x1="17.2" y1="467.5" x2="19" y2="467.5" stroke="#333" stroke-width="0.8"/>
<text x="16.7" y="469.7" font-size="6.0" font-weight="bold" text-anchor="end" fill="#222" stroke="#222" stroke-width="0.28" >30</text>
<line x1="17.2" y1="455.9" x2="19" y2="455.9" stroke="#333" stroke-width="0.8"/>
<text x="16.7" y="458.1" font-size="6.0" font-weight="bold" text-anchor="end" fill="#222" stroke="#222" stroke-width="0.28" >40</text>
<line x1="17.2" y1="444.3" x2="19" y2="444.3" stroke="#333" stroke-width="0.8"/>
<text x="16.7" y="446.5" font-size="6.0" font-weight="bold" text-anchor="end" fill="#222" stroke="#222" stroke-width="0.28" >50</text>
<line x1="33.5" y1="502.3" x2="33.5" y2="504.1" stroke="#333" stroke-width="0.8"/>
<line x1="62.7" y1="502.3" x2="62.7" y2="504.1" stroke="#333" stroke-width="0.8"/>
<line x1="91.7" y1="502.3" x2="91.7" y2="504.1" stroke="#333" stroke-width="0.8"/>
<text x="0" y="0" font-size="6.3" font-weight="bold" text-anchor="end" fill="#222" stroke="#222" stroke-width="0.28" transform="translate(35.9,508.7) rotate(-45)">Pre</text>
<text x="0" y="0" font-size="6.3" font-weight="bold" text-anchor="end" fill="#222" stroke="#222" stroke-width="0.28" transform="translate(65.10000000000001,508.7) rotate(-45)">Pos</text>
<text x="0" y="0" font-size="6.3" font-weight="bold" text-anchor="end" fill="#222" stroke="#222" stroke-width="0.28" transform="translate(94.10000000000001,508.7) rotate(-45)">Pos-3w</text>
<text x="0" y="0" font-size="6.3" font-weight="bold" text-anchor="middle" fill="#222" stroke="#222" stroke-width="0.28" transform="translate(6.0,472.2) rotate(-90)">% in CD19+ cells</text>
<polyline points="33.5,461.1 62.7,455.9 91.7,470.5" fill="none" stroke="#1a1a1a" stroke-width="0.9"/>
<circle cx="33.5" cy="461.1" r="1.2" fill="#111"/>
<circle cx="62.7" cy="455.9" r="1.2" fill="#111"/>
<circle cx="91.7" cy="470.5" r="1.2" fill="#111"/>
<polyline points="33.5,463.5 62.7,460.8 91.7,467.8" fill="none" stroke="#1a1a1a" stroke-width="0.9"/>
<circle cx="33.5" cy="463.5" r="1.2" fill="#111"/>
<circle cx="62.7" cy="460.8" r="1.2" fill="#111"/>
<circle cx="91.7" cy="467.8" r="1.2" fill="#111"/>
<polyline points="33.5,467.3 62.7,467.3 91.7,477.0" fill="none" stroke="#1a1a1a" stroke-width="0.9"/>
<circle cx="33.5" cy="467.3" r="1.2" fill="#111"/>
<circle cx="62.7" cy="467.3" r="1.2" fill="#111"/>
<circle cx="91.7" cy="477.0" r="1.2" fill="#111"/>
<polyline points="33.5,467.6 62.7,468.4 91.7,478.3" fill="none" stroke="#1a1a1a" stroke-width="0.9"/>
<circle cx="33.5" cy="467.6" r="1.2" fill="#111"/>
<circle cx="62.7" cy="468.4" r="1.2" fill="#111"/>
<circle cx="91.7" cy="478.3" r="1.2" fill="#111"/>
<polyline points="33.5,468.6 62.7,469.7 91.7,480.8" fill="none" stroke="#1a1a1a" stroke-width="0.9"/>
<circle cx="33.5" cy="468.6" r="1.2" fill="#111"/>
<circle cx="62.7" cy="469.7" r="1.2" fill="#111"/>
<circle cx="91.7" cy="480.8" r="1.2" fill="#111"/>
<polyline points="33.5,470.0 62.7,473.6 91.7,485.5" fill="none" stroke="#1a1a1a" stroke-width="0.9"/>
<circle cx="33.5" cy="470.0" r="1.2" fill="#111"/>
<circle cx="62.7" cy="473.6" r="1.2" fill="#111"/>
<circle cx="91.7" cy="485.5" r="1.2" fill="#111"/>
<circle cx="91.7" cy="455.2" r="1.15" fill="#222"/>
<text x="124.5" y="422.5" font-size="12.6" font-weight="bold" text-anchor="start" fill="#111" stroke="#111" stroke-width="0.28" >(m)</text>
<text x="174" y="434.8" font-size="8.1" font-weight="bold" text-anchor="middle" fill="#111" stroke="#111" stroke-width="0.28" >Double negative</text>
<line x1="132.2" y1="442.8" x2="132.2" y2="502.2" stroke="#333" stroke-width="1"/>
<line x1="132.2" y1="502.2" x2="221.5" y2="502.2" stroke="#333" stroke-width="1"/>
<line x1="130.39999999999998" y1="502.2" x2="132.2" y2="502.2" stroke="#333" stroke-width="0.8"/>
<text x="129.89999999999998" y="504.4" font-size="6.0" font-weight="bold" text-anchor="end" fill="#222" stroke="#222" stroke-width="0.28" >0</text>
<line x1="130.39999999999998" y1="482.4" x2="132.2" y2="482.4" stroke="#333" stroke-width="0.8"/>
<text x="129.89999999999998" y="484.59999999999997" font-size="6.0" font-weight="bold" text-anchor="end" fill="#222" stroke="#222" stroke-width="0.28" >10</text>
<line x1="130.39999999999998" y1="462.6" x2="132.2" y2="462.6" stroke="#333" stroke-width="0.8"/>
<text x="129.89999999999998" y="464.8" font-size="6.0" font-weight="bold" text-anchor="end" fill="#222" stroke="#222" stroke-width="0.28" >20</text>
<line x1="130.39999999999998" y1="442.8" x2="132.2" y2="442.8" stroke="#333" stroke-width="0.8"/>
<text x="129.89999999999998" y="445.0" font-size="6.0" font-weight="bold" text-anchor="end" fill="#222" stroke="#222" stroke-width="0.28" >30</text>
<line x1="147.2" y1="502.2" x2="147.2" y2="504.0" stroke="#333" stroke-width="0.8"/>
<line x1="176.6" y1="502.2" x2="176.6" y2="504.0" stroke="#333" stroke-width="0.8"/>
<line x1="206.6" y1="502.2" x2="206.6" y2="504.0" stroke="#333" stroke-width="0.8"/>
<text x="0" y="0" font-size="6.3" font-weight="bold" text-anchor="end" fill="#222" stroke="#222" stroke-width="0.28" transform="translate(149.6,508.59999999999997) rotate(-45)">Pre</text>
<text x="0" y="0" font-size="6.3" font-weight="bold" text-anchor="end" fill="#222" stroke="#222" stroke-width="0.28" transform="translate(179.0,508.59999999999997) rotate(-45)">Pos</text>
<text x="0" y="0" font-size="6.3" font-weight="bold" text-anchor="end" fill="#222" stroke="#222" stroke-width="0.28" transform="translate(209.0,508.59999999999997) rotate(-45)">Pos-3w</text>
<text x="0" y="0" font-size="6.3" font-weight="bold" text-anchor="middle" fill="#222" stroke="#222" stroke-width="0.28" transform="translate(122.2,472.2) rotate(-90)">% in CD19+ cells</text>
<polyline points="147.2,448.8 176.6,475.2 206.6,489.6" fill="none" stroke="#1a1a1a" stroke-width="0.9"/>
<circle cx="147.2" cy="448.8" r="1.2" fill="#111"/>
<circle cx="176.6" cy="475.2" r="1.2" fill="#111"/>
<circle cx="206.6" cy="489.6" r="1.2" fill="#111"/>
<polyline points="147.2,454.7 176.6,465.3 206.6,472.3" fill="none" stroke="#1a1a1a" stroke-width="0.9"/>
<circle cx="147.2" cy="454.7" r="1.2" fill="#111"/>
<circle cx="176.6" cy="465.3" r="1.2" fill="#111"/>
<circle cx="206.6" cy="472.3" r="1.2" fill="#111"/>
<polyline points="147.2,455.8 176.6,465.8 206.6,476.6" fill="none" stroke="#1a1a1a" stroke-width="0.9"/>
<circle cx="147.2" cy="455.8" r="1.2" fill="#111"/>
<circle cx="176.6" cy="465.8" r="1.2" fill="#111"/>
<circle cx="206.6" cy="476.6" r="1.2" fill="#111"/>
<polyline points="147.2,457.0 176.6,465.8 206.6,476.6" fill="none" stroke="#1a1a1a" stroke-width="0.9"/>
<circle cx="147.2" cy="457.0" r="1.2" fill="#111"/>
<circle cx="176.6" cy="465.8" r="1.2" fill="#111"/>
<circle cx="206.6" cy="476.6" r="1.2" fill="#111"/>
<polyline points="147.2,463.2 176.6,465.8 206.6,466.6" fill="none" stroke="#1a1a1a" stroke-width="0.9"/>
<circle cx="147.2" cy="463.2" r="1.2" fill="#111"/>
<circle cx="176.6" cy="465.8" r="1.2" fill="#111"/>
<circle cx="206.6" cy="466.6" r="1.2" fill="#111"/>
<polyline points="147.2,463.8 176.6,474.0 206.6,484.3" fill="none" stroke="#1a1a1a" stroke-width="0.9"/>
<circle cx="147.2" cy="463.8" r="1.2" fill="#111"/>
<circle cx="176.6" cy="474.0" r="1.2" fill="#111"/>
<circle cx="206.6" cy="484.3" r="1.2" fill="#111"/>
<polyline points="147.2,467.2 176.6,478.0 206.6,492.6" fill="none" stroke="#1a1a1a" stroke-width="0.9"/>
<circle cx="147.2" cy="467.2" r="1.2" fill="#111"/>
<circle cx="176.6" cy="478.0" r="1.2" fill="#111"/>
<circle cx="206.6" cy="492.6" r="1.2" fill="#111"/>
<circle cx="176.6" cy="455.5" r="1.15" fill="#222"/>
<circle cx="205.0" cy="455.3" r="1.15" fill="#222"/>
<circle cx="208.2" cy="455.3" r="1.15" fill="#222"/>
<text x="232.8" y="422.5" font-size="12.6" font-weight="bold" text-anchor="start" fill="#111" stroke="#111" stroke-width="0.28" >(n)</text>
<text x="288.7" y="434.8" font-size="8.1" font-weight="bold" text-anchor="middle" fill="#111" stroke="#111" stroke-width="0.28" >Swithched memory</text>
<line x1="245.1" y1="444.8" x2="245.1" y2="502.2" stroke="#333" stroke-width="1"/>
<line x1="245.1" y1="502.2" x2="339" y2="502.2" stroke="#333" stroke-width="1"/>
<line x1="243.29999999999998" y1="502.2" x2="245.1" y2="502.2" stroke="#333" stroke-width="0.8"/>
<text x="242.79999999999998" y="504.4" font-size="6.0" font-weight="bold" text-anchor="end" fill="#222" stroke="#222" stroke-width="0.28" >0</text>
<line x1="243.29999999999998" y1="490.7" x2="245.1" y2="490.7" stroke="#333" stroke-width="0.8"/>
<text x="242.79999999999998" y="492.91999999999996" font-size="6.0" font-weight="bold" text-anchor="end" fill="#222" stroke="#222" stroke-width="0.28" >5</text>
<line x1="243.29999999999998" y1="479.2" x2="245.1" y2="479.2" stroke="#333" stroke-width="0.8"/>
<text x="242.79999999999998" y="481.44" font-size="6.0" font-weight="bold" text-anchor="end" fill="#222" stroke="#222" stroke-width="0.28" >10</text>
<line x1="243.29999999999998" y1="467.8" x2="245.1" y2="467.8" stroke="#333" stroke-width="0.8"/>
<text x="242.79999999999998" y="469.96" font-size="6.0" font-weight="bold" text-anchor="end" fill="#222" stroke="#222" stroke-width="0.28" >15</text>
<line x1="243.29999999999998" y1="456.3" x2="245.1" y2="456.3" stroke="#333" stroke-width="0.8"/>
<text x="242.79999999999998" y="458.48" font-size="6.0" font-weight="bold" text-anchor="end" fill="#222" stroke="#222" stroke-width="0.28" >20</text>
<line x1="243.29999999999998" y1="444.8" x2="245.1" y2="444.8" stroke="#333" stroke-width="0.8"/>
<text x="242.79999999999998" y="447.0" font-size="6.0" font-weight="bold" text-anchor="end" fill="#222" stroke="#222" stroke-width="0.28" >25</text>
<line x1="259.9" y1="502.2" x2="259.9" y2="504.0" stroke="#333" stroke-width="0.8"/>
<line x1="288.9" y1="502.2" x2="288.9" y2="504.0" stroke="#333" stroke-width="0.8"/>
<line x1="318" y1="502.2" x2="318" y2="504.0" stroke="#333" stroke-width="0.8"/>
<text x="0" y="0" font-size="6.3" font-weight="bold" text-anchor="end" fill="#222" stroke="#222" stroke-width="0.28" transform="translate(262.29999999999995,508.59999999999997) rotate(-45)">Pre</text>
<text x="0" y="0" font-size="6.3" font-weight="bold" text-anchor="end" fill="#222" stroke="#222" stroke-width="0.28" transform="translate(291.29999999999995,508.59999999999997) rotate(-45)">Pos</text>
<text x="0" y="0" font-size="6.3" font-weight="bold" text-anchor="end" fill="#222" stroke="#222" stroke-width="0.28" transform="translate(320.4,508.59999999999997) rotate(-45)">Pos-3w</text>
<text x="0" y="0" font-size="6.3" font-weight="bold" text-anchor="middle" fill="#222" stroke="#222" stroke-width="0.28" transform="translate(233.5,472.2) rotate(-90)">% in CD19+ cells</text>
<polyline points="259.9,457.5 288.9,465.6 318.0,474.1" fill="none" stroke="#1a1a1a" stroke-width="0.9"/>
<circle cx="259.9" cy="457.5" r="1.2" fill="#111"/>
<circle cx="288.9" cy="465.6" r="1.2" fill="#111"/>
<circle cx="318" cy="474.1" r="1.2" fill="#111"/>
<polyline points="259.9,464.2 288.9,467.1 318.0,470.2" fill="none" stroke="#1a1a1a" stroke-width="0.9"/>
<circle cx="259.9" cy="464.2" r="1.2" fill="#111"/>
<circle cx="288.9" cy="467.1" r="1.2" fill="#111"/>
<circle cx="318" cy="470.2" r="1.2" fill="#111"/>
<polyline points="259.9,471.5 288.9,465.6 318.0,465.6" fill="none" stroke="#1a1a1a" stroke-width="0.9"/>
<circle cx="259.9" cy="471.5" r="1.2" fill="#111"/>
<circle cx="288.9" cy="465.6" r="1.2" fill="#111"/>
<circle cx="318" cy="465.6" r="1.2" fill="#111"/>
<polyline points="259.9,472.8 288.9,467.1 318.0,467.1" fill="none" stroke="#1a1a1a" stroke-width="0.9"/>
<circle cx="259.9" cy="472.8" r="1.2" fill="#111"/>
<circle cx="288.9" cy="467.1" r="1.2" fill="#111"/>
<circle cx="318" cy="467.1" r="1.2" fill="#111"/>
<polyline points="259.9,476.4 288.9,468.1 318.0,468.7" fill="none" stroke="#1a1a1a" stroke-width="0.9"/>
<circle cx="259.9" cy="476.4" r="1.2" fill="#111"/>
<circle cx="288.9" cy="468.1" r="1.2" fill="#111"/>
<circle cx="318" cy="468.7" r="1.2" fill="#111"/>
<polyline points="259.9,489.1 288.9,474.1 318.0,487.0" fill="none" stroke="#1a1a1a" stroke-width="0.9"/>
<circle cx="259.9" cy="489.1" r="1.2" fill="#111"/>
<circle cx="288.9" cy="474.1" r="1.2" fill="#111"/>
<circle cx="318" cy="487.0" r="1.2" fill="#111"/>
<text x="344.8" y="422.5" font-size="12.6" font-weight="bold" text-anchor="start" fill="#111" stroke="#111" stroke-width="0.28" >(o)</text>
<text x="397.5" y="434.8" font-size="8.1" font-weight="bold" text-anchor="middle" fill="#111" stroke="#111" stroke-width="0.28" >MZ like</text>
<line x1="357.8" y1="444.5" x2="357.8" y2="502.2" stroke="#333" stroke-width="1"/>
<line x1="357.8" y1="502.2" x2="446.4" y2="502.2" stroke="#333" stroke-width="1"/>
<line x1="356.0" y1="502.2" x2="357.8" y2="502.2" stroke="#333" stroke-width="0.8"/>
<text x="355.5" y="504.4" font-size="6.0" font-weight="bold" text-anchor="end" fill="#222" stroke="#222" stroke-width="0.28" >0</text>
<line x1="356.0" y1="487.8" x2="357.8" y2="487.8" stroke="#333" stroke-width="0.8"/>
<text x="355.5" y="489.97499999999997" font-size="6.0" font-weight="bold" text-anchor="end" fill="#222" stroke="#222" stroke-width="0.28" >10</text>
<line x1="356.0" y1="473.4" x2="357.8" y2="473.4" stroke="#333" stroke-width="0.8"/>
<text x="355.5" y="475.55" font-size="6.0" font-weight="bold" text-anchor="end" fill="#222" stroke="#222" stroke-width="0.28" >20</text>
<line x1="356.0" y1="458.9" x2="357.8" y2="458.9" stroke="#333" stroke-width="0.8"/>
<text x="355.5" y="461.125" font-size="6.0" font-weight="bold" text-anchor="end" fill="#222" stroke="#222" stroke-width="0.28" >30</text>
<line x1="356.0" y1="444.5" x2="357.8" y2="444.5" stroke="#333" stroke-width="0.8"/>
<text x="355.5" y="446.7" font-size="6.0" font-weight="bold" text-anchor="end" fill="#222" stroke="#222" stroke-width="0.28" >40</text>
<line x1="373.1" y1="502.2" x2="373.1" y2="504.0" stroke="#333" stroke-width="0.8"/>
<line x1="402.2" y1="502.2" x2="402.2" y2="504.0" stroke="#333" stroke-width="0.8"/>
<line x1="431.2" y1="502.2" x2="431.2" y2="504.0" stroke="#333" stroke-width="0.8"/>
<text x="0" y="0" font-size="6.3" font-weight="bold" text-anchor="end" fill="#222" stroke="#222" stroke-width="0.28" transform="translate(375.5,508.59999999999997) rotate(-45)">Pre</text>
<text x="0" y="0" font-size="6.3" font-weight="bold" text-anchor="end" fill="#222" stroke="#222" stroke-width="0.28" transform="translate(404.59999999999997,508.59999999999997) rotate(-45)">Pos</text>
<text x="0" y="0" font-size="6.3" font-weight="bold" text-anchor="end" fill="#222" stroke="#222" stroke-width="0.28" transform="translate(433.59999999999997,508.59999999999997) rotate(-45)">Pos-3w</text>
<text x="0" y="0" font-size="6.3" font-weight="bold" text-anchor="middle" fill="#222" stroke="#222" stroke-width="0.28" transform="translate(346.2,472.2) rotate(-90)">% in CD19+ cells</text>
<polyline points="373.1,467.7 402.2,466.3 431.2,451.0" fill="none" stroke="#1a1a1a" stroke-width="0.9"/>
<circle cx="373.1" cy="467.7" r="1.2" fill="#111"/>
<circle cx="402.2" cy="466.3" r="1.2" fill="#111"/>
<circle cx="431.2" cy="451.0" r="1.2" fill="#111"/>
<polyline points="373.1,476.5 402.2,466.3 431.2,451.8" fill="none" stroke="#1a1a1a" stroke-width="0.9"/>
<circle cx="373.1" cy="476.5" r="1.2" fill="#111"/>
<circle cx="402.2" cy="466.3" r="1.2" fill="#111"/>
<circle cx="431.2" cy="451.8" r="1.2" fill="#111"/>
<polyline points="373.1,480.8 402.2,484.4 431.2,488.2" fill="none" stroke="#1a1a1a" stroke-width="0.9"/>
<circle cx="373.1" cy="480.8" r="1.2" fill="#111"/>
<circle cx="402.2" cy="484.4" r="1.2" fill="#111"/>
<circle cx="431.2" cy="488.2" r="1.2" fill="#111"/>
<polyline points="373.1,482.2 402.2,483.9 431.2,454.8" fill="none" stroke="#1a1a1a" stroke-width="0.9"/>
<circle cx="373.1" cy="482.2" r="1.2" fill="#111"/>
<circle cx="402.2" cy="483.9" r="1.2" fill="#111"/>
<circle cx="431.2" cy="454.8" r="1.2" fill="#111"/>
<polyline points="373.1,483.3 402.2,484.9 431.2,465.5" fill="none" stroke="#1a1a1a" stroke-width="0.9"/>
<circle cx="373.1" cy="483.3" r="1.2" fill="#111"/>
<circle cx="402.2" cy="484.9" r="1.2" fill="#111"/>
<circle cx="431.2" cy="465.5" r="1.2" fill="#111"/>
<polyline points="373.1,486.9 402.2,484.4 431.2,465.5" fill="none" stroke="#1a1a1a" stroke-width="0.9"/>
<circle cx="373.1" cy="486.9" r="1.2" fill="#111"/>
<circle cx="402.2" cy="484.4" r="1.2" fill="#111"/>
<circle cx="431.2" cy="465.5" r="1.2" fill="#111"/>
<polyline points="373.1,488.2 402.2,491.0 431.2,454.8" fill="none" stroke="#1a1a1a" stroke-width="0.9"/>
<circle cx="373.1" cy="488.2" r="1.2" fill="#111"/>
<circle cx="402.2" cy="491.0" r="1.2" fill="#111"/>
<circle cx="431.2" cy="454.8" r="1.2" fill="#111"/>
<circle cx="431.2" cy="444.6" r="1.15" fill="#222"/>
<text x="456.6" y="422.5" font-size="12.6" font-weight="bold" text-anchor="start" fill="#111" stroke="#111" stroke-width="0.28" >(p)</text>
<text x="511.4" y="434.8" font-size="8.1" font-weight="bold" text-anchor="middle" fill="#111" stroke="#111" stroke-width="0.28" >Transitional</text>
<line x1="470.9" y1="444.5" x2="470.9" y2="502.2" stroke="#333" stroke-width="1"/>
<line x1="470.9" y1="502.2" x2="560.1" y2="502.2" stroke="#333" stroke-width="1"/>
<line x1="469.09999999999997" y1="502.2" x2="470.9" y2="502.2" stroke="#333" stroke-width="0.8"/>
<text x="468.59999999999997" y="504.4" font-size="6.0" font-weight="bold" text-anchor="end" fill="#222" stroke="#222" stroke-width="0.28" >0</text>
<line x1="469.09999999999997" y1="483.0" x2="470.9" y2="483.0" stroke="#333" stroke-width="0.8"/>
<text x="468.59999999999997" y="485.16666666666663" font-size="6.0" font-weight="bold" text-anchor="end" fill="#222" stroke="#222" stroke-width="0.28" >5</text>
<line x1="469.09999999999997" y1="463.7" x2="470.9" y2="463.7" stroke="#333" stroke-width="0.8"/>
<text x="468.59999999999997" y="465.93333333333334" font-size="6.0" font-weight="bold" text-anchor="end" fill="#222" stroke="#222" stroke-width="0.28" >10</text>
<line x1="469.09999999999997" y1="444.5" x2="470.9" y2="444.5" stroke="#333" stroke-width="0.8"/>
<text x="468.59999999999997" y="446.7" font-size="6.0" font-weight="bold" text-anchor="end" fill="#222" stroke="#222" stroke-width="0.28" >15</text>
<line x1="486" y1="502.2" x2="486" y2="504.0" stroke="#333" stroke-width="0.8"/>
<line x1="514.8" y1="502.2" x2="514.8" y2="504.0" stroke="#333" stroke-width="0.8"/>
<line x1="544" y1="502.2" x2="544" y2="504.0" stroke="#333" stroke-width="0.8"/>
<text x="0" y="0" font-size="6.3" font-weight="bold" text-anchor="end" fill="#222" stroke="#222" stroke-width="0.28" transform="translate(488.4,508.59999999999997) rotate(-45)">Pre</text>
<text x="0" y="0" font-size="6.3" font-weight="bold" text-anchor="end" fill="#222" stroke="#222" stroke-width="0.28" transform="translate(517.1999999999999,508.59999999999997) rotate(-45)">Pos</text>
<text x="0" y="0" font-size="6.3" font-weight="bold" text-anchor="end" fill="#222" stroke="#222" stroke-width="0.28" transform="translate(546.4,508.59999999999997) rotate(-45)">Pos-3w</text>
<text x="0" y="0" font-size="6.3" font-weight="bold" text-anchor="middle" fill="#222" stroke="#222" stroke-width="0.28" transform="translate(458.2,472.2) rotate(-90)">% in CD19+ cells</text>
<polyline points="486.0,488.5 514.8,476.6 544.0,456.9" fill="none" stroke="#1a1a1a" stroke-width="0.9"/>
<circle cx="486" cy="488.5" r="1.2" fill="#111"/>
<circle cx="514.8" cy="476.6" r="1.2" fill="#111"/>
<circle cx="544" cy="456.9" r="1.2" fill="#111"/>
<polyline points="486.0,490.0 514.8,478.5 544.0,464.4" fill="none" stroke="#1a1a1a" stroke-width="0.9"/>
<circle cx="486" cy="490.0" r="1.2" fill="#111"/>
<circle cx="514.8" cy="478.5" r="1.2" fill="#111"/>
<circle cx="544" cy="464.4" r="1.2" fill="#111"/>
<polyline points="486.0,491.6 514.8,480.1 544.0,459.1" fill="none" stroke="#1a1a1a" stroke-width="0.9"/>
<circle cx="486" cy="491.6" r="1.2" fill="#111"/>
<circle cx="514.8" cy="480.1" r="1.2" fill="#111"/>
<circle cx="544" cy="459.1" r="1.2" fill="#111"/>
<polyline points="486.0,493.0 514.8,480.1 544.0,469.4" fill="none" stroke="#1a1a1a" stroke-width="0.9"/>
<circle cx="486" cy="493.0" r="1.2" fill="#111"/>
<circle cx="514.8" cy="480.1" r="1.2" fill="#111"/>
<circle cx="544" cy="469.4" r="1.2" fill="#111"/>
<polyline points="486.0,494.9 514.8,481.9 544.0,472.1" fill="none" stroke="#1a1a1a" stroke-width="0.9"/>
<circle cx="486" cy="494.9" r="1.2" fill="#111"/>
<circle cx="514.8" cy="481.9" r="1.2" fill="#111"/>
<circle cx="544" cy="472.1" r="1.2" fill="#111"/>
<polyline points="486.0,496.7 514.8,478.5 544.0,464.4" fill="none" stroke="#1a1a1a" stroke-width="0.9"/>
<circle cx="486" cy="496.7" r="1.2" fill="#111"/>
<circle cx="514.8" cy="478.5" r="1.2" fill="#111"/>
<circle cx="544" cy="464.4" r="1.2" fill="#111"/>
<polyline points="486.0,499.0 514.8,486.6 544.0,464.4" fill="none" stroke="#1a1a1a" stroke-width="0.9"/>
<circle cx="486" cy="499.0" r="1.2" fill="#111"/>
<circle cx="514.8" cy="486.6" r="1.2" fill="#111"/>
<circle cx="544" cy="464.4" r="1.2" fill="#111"/>
<circle cx="511.7" cy="469.2" r="1.15" fill="#222"/>
<circle cx="514.8" cy="469.2" r="1.15" fill="#222"/>
<circle cx="517.9" cy="469.2" r="1.15" fill="#222"/>
<circle cx="540.9" cy="449.9" r="1.15" fill="#222"/>
<circle cx="544.0" cy="449.9" r="1.15" fill="#222"/>
<circle cx="547.1" cy="449.9" r="1.15" fill="#222"/>
<text x="573.2" y="422.5" font-size="12.6" font-weight="bold" text-anchor="start" fill="#111" stroke="#111" stroke-width="0.28" textLength="12.2" lengthAdjust="spacingAndGlyphs">(q)</text>
<text x="622.6" y="434.8" font-size="8.1" font-weight="bold" text-anchor="middle" fill="#111" stroke="#111" stroke-width="0.28" >Plasmablast</text>
<line x1="582.4" y1="442.5" x2="582.4" y2="502.3" stroke="#333" stroke-width="1"/>
<line x1="582.4" y1="502.3" x2="675" y2="502.3" stroke="#333" stroke-width="1"/>
<line x1="580.6" y1="502.3" x2="582.4" y2="502.3" stroke="#333" stroke-width="0.8"/>
<text x="580.1" y="504.5" font-size="6.0" font-weight="bold" text-anchor="end" fill="#222" stroke="#222" stroke-width="0.28" >0</text>
<line x1="580.6" y1="490.3" x2="582.4" y2="490.3" stroke="#333" stroke-width="0.8"/>
<text x="580.1" y="492.54" font-size="6.0" font-weight="bold" text-anchor="end" fill="#222" stroke="#222" stroke-width="0.28" >1</text>
<line x1="580.6" y1="478.4" x2="582.4" y2="478.4" stroke="#333" stroke-width="0.8"/>
<text x="580.1" y="480.58" font-size="6.0" font-weight="bold" text-anchor="end" fill="#222" stroke="#222" stroke-width="0.28" >2</text>
<line x1="580.6" y1="466.4" x2="582.4" y2="466.4" stroke="#333" stroke-width="0.8"/>
<text x="580.1" y="468.62" font-size="6.0" font-weight="bold" text-anchor="end" fill="#222" stroke="#222" stroke-width="0.28" >3</text>
<line x1="580.6" y1="454.5" x2="582.4" y2="454.5" stroke="#333" stroke-width="0.8"/>
<text x="580.1" y="456.65999999999997" font-size="6.0" font-weight="bold" text-anchor="end" fill="#222" stroke="#222" stroke-width="0.28" >4</text>
<line x1="580.6" y1="442.5" x2="582.4" y2="442.5" stroke="#333" stroke-width="0.8"/>
<text x="580.1" y="444.7" font-size="6.0" font-weight="bold" text-anchor="end" fill="#222" stroke="#222" stroke-width="0.28" >5</text>
<line x1="597.4" y1="502.3" x2="597.4" y2="504.1" stroke="#333" stroke-width="0.8"/>
<line x1="627.6" y1="502.3" x2="627.6" y2="504.1" stroke="#333" stroke-width="0.8"/>
<line x1="657.8" y1="502.3" x2="657.8" y2="504.1" stroke="#333" stroke-width="0.8"/>
<text x="0" y="0" font-size="6.3" font-weight="bold" text-anchor="end" fill="#222" stroke="#222" stroke-width="0.28" transform="translate(599.8,508.7) rotate(-45)">Pre</text>
<text x="0" y="0" font-size="6.3" font-weight="bold" text-anchor="end" fill="#222" stroke="#222" stroke-width="0.28" transform="translate(630.0,508.7) rotate(-45)">Pos</text>
<text x="0" y="0" font-size="6.3" font-weight="bold" text-anchor="end" fill="#222" stroke="#222" stroke-width="0.28" transform="translate(660.1999999999999,508.7) rotate(-45)">Pos-3w</text>
<text x="0" y="0" font-size="6.3" font-weight="bold" text-anchor="middle" fill="#222" stroke="#222" stroke-width="0.28" transform="translate(573.6,472.2) rotate(-90)">% in CD19+ cells</text>
<polyline points="597.4,488.7 627.6,482.8 657.8,471.7" fill="none" stroke="#1a1a1a" stroke-width="0.9"/>
<circle cx="597.4" cy="488.7" r="1.2" fill="#111"/>
<circle cx="627.6" cy="482.8" r="1.2" fill="#111"/>
<circle cx="657.8" cy="471.7" r="1.2" fill="#111"/>
<polyline points="597.4,493.9 627.6,491.4 657.8,484.8" fill="none" stroke="#1a1a1a" stroke-width="0.9"/>
<circle cx="597.4" cy="493.9" r="1.2" fill="#111"/>
<circle cx="627.6" cy="491.4" r="1.2" fill="#111"/>
<circle cx="657.8" cy="484.8" r="1.2" fill="#111"/>
<polyline points="597.4,498.1 627.6,495.2 657.8,488.9" fill="none" stroke="#1a1a1a" stroke-width="0.9"/>
<circle cx="597.4" cy="498.1" r="1.2" fill="#111"/>
<circle cx="627.6" cy="495.2" r="1.2" fill="#111"/>
<circle cx="657.8" cy="488.9" r="1.2" fill="#111"/>
<polyline points="597.4,498.9 627.6,496.3 657.8,492.6" fill="none" stroke="#1a1a1a" stroke-width="0.9"/>
<circle cx="597.4" cy="498.9" r="1.2" fill="#111"/>
<circle cx="627.6" cy="496.3" r="1.2" fill="#111"/>
<circle cx="657.8" cy="492.6" r="1.2" fill="#111"/>
<polyline points="597.4,500.0 627.6,497.8 657.8,493.9" fill="none" stroke="#1a1a1a" stroke-width="0.9"/>
<circle cx="597.4" cy="500.0" r="1.2" fill="#111"/>
<circle cx="627.6" cy="497.8" r="1.2" fill="#111"/>
<circle cx="657.8" cy="493.9" r="1.2" fill="#111"/>
<polyline points="597.4,501.1 627.6,498.9 657.8,495.9" fill="none" stroke="#1a1a1a" stroke-width="0.9"/>
<circle cx="597.4" cy="501.1" r="1.2" fill="#111"/>
<circle cx="627.6" cy="498.9" r="1.2" fill="#111"/>
<circle cx="657.8" cy="495.9" r="1.2" fill="#111"/>
<circle cx="657.8" cy="464.4" r="1.15" fill="#222"/>
</svg></body></html>
